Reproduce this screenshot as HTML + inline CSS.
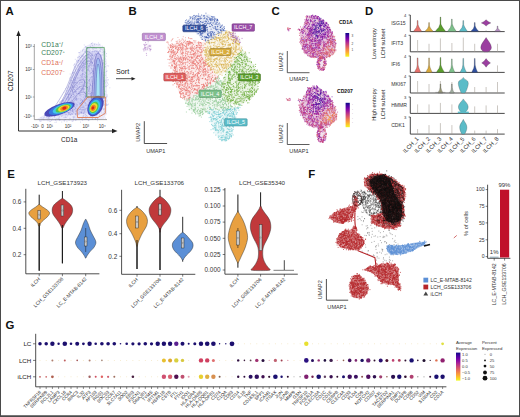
<!DOCTYPE html>
<html><head><meta charset="utf-8"><style>
html,body{margin:0;padding:0;background:#fff;width:520px;height:417px;overflow:hidden}
svg{display:block;font-family:"Liberation Sans", sans-serif}
</style></head><body>
<svg width="520" height="417" viewBox="0 0 520 417">
<rect width="520" height="417" fill="#fff"/>
<rect x="0.5" y="0.5" width="519" height="415.5" fill="none" stroke="#4a4a4a" stroke-width="1"/>
<rect x="0" y="415.5" width="520" height="1.5" fill="#4a4a4a"/>
<text x="5.6" y="15" font-size="11.4" fill="#111" text-anchor="start" font-weight="bold">A</text>
<text x="128.5" y="15" font-size="11.4" fill="#111" text-anchor="start" font-weight="bold">B</text>
<text x="271.6" y="15" font-size="11.4" fill="#111" text-anchor="start" font-weight="bold">C</text>
<text x="365.1" y="14.8" font-size="11.4" fill="#111" text-anchor="start" font-weight="bold">D</text>
<text x="7.2" y="178.2" font-size="11.4" fill="#111" text-anchor="start" font-weight="bold">E</text>
<text x="308.3" y="178.4" font-size="11.4" fill="#111" text-anchor="start" font-weight="bold">F</text>
<text x="5.6" y="328.9" font-size="11.4" fill="#111" text-anchor="start" font-weight="bold">G</text>
<path d="M37 119 L44 115 L52 112 L60 104 L66 92 L70 80 L74 66 L79 54 L84 47 L92 43 L100 44 L105 50 L107 70 L107 112 L104 119 L96 120 L60 121 L40 121Z" fill="#c8c8f0" fill-opacity="0.35"/>
<path d="M90.4 96.3h.1M100.6 51.6h.1M84.4 86h.1M94.7 43.9h.1M95 100.9h.1M102.4 68.1h.1M98.7 90.4h.1M92.9 98.9h.1M75.9 119.7h.1M98.1 91.1h.1M98.7 90.5h.1M84.2 45h.1M81.9 70.6h.1M55.1 115.1h.1M82.1 89.2h.1M104.3 93.5h.1M76.2 97.9h.1M96.8 104.2h.1M52.9 115.2h.1M97.6 68h.1M84.3 74.8h.1M100.7 78.5h.1M76.7 61.8h.1M79.2 114.2h.1M108.2 84.2h.1M93.9 73.1h.1M107.1 82.1h.1M103.5 109.9h.1M86.5 85.4h.1M69.1 120.1h.1M98.7 62.1h.1M98.8 109.6h.1M79.8 52.6h.1M91 85.5h.1M90.4 84.5h.1M99.3 106.9h.1M99.6 115.8h.1M91.5 55.2h.1M70.8 84h.1M55.7 111.2h.1M73.5 98h.1M106.1 95h.1M54.3 115.4h.1M97.1 51.5h.1M101.2 88.2h.1M69.7 106.4h.1M93.6 56.3h.1M88.4 93.8h.1M96 63.8h.1M54.5 116.3h.1M66.7 112.1h.1M106.7 105.3h.1M103.5 113.2h.1M94.2 56.7h.1M64.1 120.7h.1M74.8 99.8h.1M102.6 87.5h.1M74.7 100.5h.1M72.4 109.5h.1M48.7 118.4h.1M80.1 94.9h.1M100.3 62.6h.1M79 91.5h.1M70.4 118.8h.1M82.6 65.2h.1M55.1 113.8h.1M101.3 110.7h.1M94.3 96.6h.1M80.5 122.1h.1M94.6 65.2h.1M85.4 116.7h.1M86.1 58.8h.1M81.6 63.9h.1M71.2 113.7h.1M99 54.4h.1M81.9 62.1h.1M87.3 87.3h.1M97.8 85.3h.1M96 88.7h.1M58 115.9h.1M93.9 109.4h.1M101.1 59.1h.1M90.8 111.4h.1M49.6 114.7h.1M97.4 120.7h.1M94.2 112.1h.1M59.3 119.1h.1M94.4 106.8h.1M95.7 61.9h.1M90.1 50.4h.1M99.9 109.6h.1M93 58.2h.1M61.6 110h.1M102.7 65.3h.1M82.6 74.3h.1M107.6 85.7h.1M105 51.9h.1M105.1 58.2h.1M106.1 63.2h.1M90.8 67.6h.1M79.4 83.6h.1M73.4 96.6h.1M92 96.9h.1M82.1 69h.1M59.9 108.4h.1M89.5 65.7h.1M104.3 94.9h.1M101 93.3h.1M83.5 78.5h.1M70.5 114.4h.1M92.1 55.6h.1M83.9 71.2h.1M93.3 99.6h.1M82.2 58.8h.1M96.1 48.6h.1M63.9 92.4h.1M85.2 103.3h.1M51.7 115.9h.1M64.6 105.8h.1M84.8 119.4h.1M79 119h.1M101.9 91.7h.1M85.5 82.6h.1M93.6 85.7h.1M99.4 100.1h.1M92.9 83.3h.1M78.7 65h.1M87.5 48.1h.1M65.2 112.9h.1M77 96.5h.1M95.9 102.4h.1M59.6 102.1h.1M95.6 118.7h.1M66.9 103.6h.1M73.2 92.2h.1M90.1 73.5h.1M91 109.3h.1M107.1 71h.1M82.4 105h.1M81.3 102.4h.1M105.8 61.6h.1M87.6 105h.1M90.1 53.5h.1M97.3 118.2h.1M101.7 73.7h.1M87.3 47.7h.1M83.5 91.2h.1M94.7 91.2h.1M48 120.8h.1M89.7 70.4h.1M95.2 107.6h.1M43.2 119.4h.1M82.5 107.2h.1M87.3 77.1h.1M91 115.5h.1M75.3 82.6h.1M66.9 99.3h.1M56.1 108.1h.1M94.3 48.2h.1M98.4 58.9h.1M68.6 91.4h.1M96 56.6h.1M62.2 114h.1M85 66.4h.1M68.6 100.9h.1M86.1 93.8h.1M71.5 106.1h.1M85.1 68h.1M77 79h.1M71.4 77.2h.1M87.9 70.3h.1M87.7 63.8h.1M74.6 102.7h.1M70.6 97.3h.1M107.5 83.1h.1M106 86.6h.1M86.3 53.2h.1M99.2 80h.1M99.6 88h.1M102.9 79.6h.1M94.5 75.1h.1M74.6 64.1h.1M90.1 91.3h.1M91.9 62.7h.1M75.5 80.2h.1M70.2 110.5h.1M107.2 65.8h.1M76.4 91.2h.1M87.6 116.6h.1M79.5 56.6h.1M78.3 64.8h.1M84.5 77.2h.1M83.8 113.6h.1M90 91.4h.1M82.8 117.1h.1M79.7 113.2h.1M93.5 49.1h.1M89.3 88.7h.1M88 97.6h.1M103.8 80.9h.1M43.2 118.1h.1M98.7 86.2h.1M83.9 64.1h.1M68.8 94.3h.1M101.1 57.3h.1M76.9 93.6h.1M82.5 109.3h.1M58.4 118.8h.1M92.8 86.8h.1M59.5 120.2h.1M106.3 96.8h.1M77.3 73.8h.1M89.5 90.7h.1M90.1 56.2h.1M72.9 116.9h.1M68.2 98.6h.1M44.1 117.3h.1M79.3 63.7h.1M95.4 82.1h.1M88.9 83.3h.1M56.4 108.7h.1M105.3 64.4h.1M75.4 71.8h.1M102.6 84.1h.1M97.8 111.5h.1M67.7 110.8h.1M70 107.6h.1M73.3 72.4h.1M76.1 85.2h.1M77.1 60.6h.1M90.3 46.6h.1M90.6 95.7h.1M94.2 72.4h.1M83.6 105.9h.1M105.9 80h.1M78.3 110.4h.1M95.7 78h.1M69.6 78.1h.1M85.3 75.4h.1M82.3 56.3h.1M69.6 118.3h.1M84.2 108.7h.1M96.6 112.2h.1M88.3 105.2h.1M98.8 45h.1M90.9 78.2h.1M97.7 78.4h.1M85.5 114.2h.1M76.7 104.6h.1M100.5 92h.1M51.9 114.5h.1M99.6 96.3h.1M82.1 76.6h.1M74.5 85.5h.1M108.6 66h.1M107.5 95.1h.1M84.2 98.6h.1M72.5 114.3h.1M82.1 70.2h.1M81.7 88.7h.1M83.5 99.6h.1M82.6 107.1h.1M83.1 115.9h.1M80.6 67.2h.1M67.2 90.4h.1M88.6 50.9h.1M73.4 120.8h.1M73.7 117h.1M96.8 62.1h.1M95.5 80.9h.1M93.1 102.4h.1M104.4 54h.1M103.7 109h.1M87.8 119.7h.1M106.3 103.7h.1M62.8 107.1h.1M67.8 93.9h.1M82.7 89.8h.1M92.7 116.4h.1M75.3 113.5h.1M94.2 113.4h.1M46.2 116.7h.1M84.3 100.3h.1M103.9 75h.1M88.3 55.1h.1M101 108.5h.1M74.1 117.7h.1M96 77.4h.1M82 94.6h.1M95.2 63.5h.1M98.3 70.3h.1M89.4 83.6h.1M89.4 79.6h.1M88.2 81.8h.1M90.6 111.3h.1M72.8 76h.1M85 81.7h.1M101.8 49.3h.1M84.9 84.5h.1M61.7 122h.1M73.2 78.2h.1M85 109.3h.1M81.9 102.3h.1M87.5 58.2h.1M68.6 96.2h.1M100.6 49.5h.1M93.6 47.6h.1M94.3 87.2h.1M76.9 87.6h.1M92.5 115.2h.1M86.2 119h.1M77.2 74.7h.1M76.8 60.9h.1M83.1 58.9h.1M62.4 100.5h.1M76.2 105.6h.1M96.5 115.6h.1M94.2 94.7h.1M100.6 108.2h.1M85.6 62.9h.1M96.4 86.1h.1M90.5 59.7h.1M62.6 100.3h.1M91.6 87h.1M85.2 62.2h.1M83 82.8h.1M86.6 50.7h.1M84.7 81.3h.1M85.8 82.7h.1M94 107.4h.1M101.8 113h.1M78.6 88.6h.1M88.8 74.4h.1M59.3 102.9h.1M81.6 110.4h.1M100.7 48h.1M97.8 60.9h.1M77.5 86.2h.1M99.9 70h.1M90.3 107.8h.1M92.5 63.7h.1M76.6 103.8h.1M83.6 56h.1M89.9 79.9h.1M92.4 102.5h.1M67.5 115.9h.1M78.3 93h.1M81.8 111.8h.1M81 55.2h.1M96.7 89.5h.1M70.6 79.8h.1M74.7 104.7h.1M99.3 79.5h.1M94.1 94.3h.1M91.8 93.3h.1M84 65.5h.1M85.1 94.2h.1M101 111.7h.1M103.1 96.8h.1M102.1 66.3h.1M61.5 103.1h.1M93.9 95.8h.1M95.2 99.3h.1M85.6 83.8h.1M81.5 74.6h.1M102.6 82h.1M95.2 111.7h.1M89.1 57.4h.1M91.8 100.1h.1M92.8 56.2h.1M87 62.3h.1M89.8 79.4h.1M74.5 64.2h.1M94 79.9h.1M98.7 70.6h.1M106.5 104.7h.1M95.4 54h.1M99.4 87.3h.1M97.6 65.4h.1M89.4 64h.1M99.2 54.3h.1M65.2 117.1h.1M55 122.4h.1M104.1 108.7h.1M82.3 104.3h.1M95.7 98.4h.1M96 83.8h.1M90 84.9h.1M67.9 105h.1M100 92.5h.1M65.4 88.4h.1M86.5 50h.1M73.2 81.7h.1M103.2 89h.1M82.6 120.3h.1M93.4 68.5h.1M89 93.6h.1M87.7 101.2h.1M76.3 106.6h.1M68.2 97h.1M80.5 106.8h.1M72.3 121.3h.1M89 57.1h.1M63.7 103.7h.1M98.4 66.9h.1M101.5 98.8h.1M99.8 72.8h.1M104 81.3h.1M73.7 117.7h.1M73 105h.1M85.1 51.7h.1M77.6 105.8h.1M75.3 69.2h.1M69.1 100.1h.1M99 69.8h.1M61.4 105.2h.1M85.8 118.7h.1M92.6 42.9h.1M75.9 92.4h.1M83.7 116.9h.1M67.1 102.4h.1M79.3 87.1h.1M89.6 81.3h.1M64.8 119.4h.1M58 115.4h.1M98.5 76.6h.1M100.2 74.6h.1M94.9 68.7h.1M71.7 113.7h.1M99.3 96.4h.1M101.5 95.3h.1M93.3 83.3h.1M63 103.6h.1M75.4 92.7h.1M107.1 100.2h.1M73.3 101.7h.1M94 47.2h.1M103 93.1h.1M68.2 94.6h.1M62.2 110.1h.1M92.3 93.7h.1M52.2 118.9h.1M68.5 114.1h.1M59.1 117.7h.1M102.2 108.8h.1M106.1 56.4h.1M86.1 98.9h.1M78 108.8h.1M75.4 107.7h.1M81.5 88.2h.1M82.4 101.4h.1M65.4 94.7h.1M71.8 89.9h.1M54.3 117.1h.1M71.2 104h.1M82.3 67h.1M93.2 111.4h.1M103.8 53h.1M54.2 108.6h.1M75.3 67.2h.1M91.6 82.2h.1M72 82.7h.1M103.9 81h.1M102.8 60.7h.1M73.3 112.4h.1M84.6 81.9h.1M72.3 109.8h.1M69.1 113.5h.1M90.1 101.7h.1M73.3 103.8h.1M55.7 120.4h.1M82.6 51h.1M105.7 75.3h.1M92.6 71.7h.1M105 100.4h.1M79.3 82.5h.1M49.6 121.3h.1M87.6 67.7h.1M58.6 109.4h.1M70.6 98h.1M56.9 107.6h.1M106 85.2h.1M90.8 98.7h.1M72 120.9h.1M92.8 105.7h.1M76.3 99.9h.1M81.2 89.7h.1M95.4 54h.1M104.1 52.3h.1M64.9 102.7h.1M98.6 111.8h.1M88.4 47.8h.1M74.6 66.7h.1M47.7 113.2h.1M90.5 99.6h.1M81.1 96.4h.1M77.7 57.4h.1M50.1 117.9h.1M103.2 105.3h.1M84.1 72.3h.1M107 105.1h.1M104.5 104.7h.1M87.4 69.8h.1M73.9 116.2h.1M84.8 51.9h.1M79.4 86.9h.1M74.4 91.8h.1M85.3 51.4h.1M76.1 115.2h.1M65 117.3h.1M98.1 80.6h.1M49.3 119h.1M100.3 50.8h.1M76.8 83.6h.1M85.8 115.8h.1M100.2 54.7h.1M100.6 58.2h.1M99.5 114.8h.1M99.5 111.6h.1M48.5 117.9h.1M56.4 122.1h.1M74.3 83.2h.1M104.1 109.3h.1M93.7 88.7h.1M87.9 56.4h.1M96 113h.1M93.1 81.7h.1M89.8 117.4h.1M87.6 48.2h.1M101.8 99.8h.1M102.8 60.7h.1M78.9 60.8h.1M87.4 89.5h.1M71 85h.1M83 62.6h.1M97.5 51.1h.1M68.2 98h.1M71.8 86.4h.1M93.3 76.3h.1M73.8 78.8h.1M92.8 100.6h.1M63.2 103.7h.1M89.8 86h.1M39.4 120.8h.1M103.9 47.2h.1M64.3 105.2h.1M88.5 120.6h.1M82.9 74.7h.1M106.3 71.5h.1M96.9 113.5h.1M82.3 82.6h.1M83.8 69.2h.1M75.2 99.5h.1M88.4 86.3h.1M72.2 105.2h.1M55 115.5h.1M85.3 50.1h.1M93.7 73.4h.1M90.5 112.3h.1M77.3 98.8h.1M88.3 69.5h.1M79.9 95.1h.1M41 117.7h.1M99.1 111.6h.1M82.2 75.5h.1M73.4 119.1h.1M101.9 95.4h.1M94.2 66.7h.1M60.8 101.5h.1M72 111.6h.1M95 111.2h.1M76 117.8h.1M82 113.3h.1M95.9 48.4h.1M91.2 57.9h.1M78.4 109.3h.1M89.1 87.5h.1M72.3 111.3h.1M59.6 116.6h.1M103.2 51.5h.1M108 79.5h.1M51.7 115.5h.1M75 105h.1M73.5 82.4h.1M43.9 119.8h.1M68.6 107.2h.1M101.4 73.3h.1M54.9 116.7h.1M77.2 74.4h.1M63.6 108.6h.1M70.9 93.2h.1M84.2 63.3h.1M92.3 118.8h.1M82.3 81.6h.1M70.3 114.9h.1M73.3 91.9h.1M97.5 114.7h.1M82.8 101.8h.1M66.8 106.6h.1M82.8 89.5h.1M73.3 80.6h.1M55.5 119.4h.1M85.5 102.8h.1M99.1 51.7h.1M93.1 61.7h.1M83.8 109.4h.1M83.3 112.9h.1M87.7 48.1h.1M65.6 105.6h.1M75.3 107.6h.1M99 111.1h.1M101.6 87.3h.1M58 119.3h.1M79.3 103.9h.1M86.3 73.6h.1M66.4 114.6h.1M47.2 118.8h.1M86.1 79.9h.1M66.1 108.1h.1M59.1 104.1h.1M100 72.7h.1M90.1 46.2h.1M56.9 118.6h.1M103.2 75.1h.1M85 92.7h.1M93.1 100.8h.1M89.9 94.1h.1M87.2 66.9h.1M74.4 73.9h.1M97.7 118.4h.1M80.2 61.6h.1M104.1 69.2h.1M81.4 103.3h.1M92.8 111.2h.1M104.8 53.1h.1M60.7 114h.1M73.1 86.7h.1M95 73.6h.1M79.5 87h.1M83.2 87.2h.1M104.5 81.1h.1M85.8 79h.1M95.4 104.4h.1M82.8 61.3h.1M84.5 98.6h.1M92.4 48.9h.1M107.9 80.3h.1M102.3 97.9h.1M73.8 106.1h.1M64.4 113.6h.1M75.2 91.5h.1M85 68.4h.1M106.1 98.2h.1M63.9 102.5h.1M103.5 77.6h.1M70.6 82.8h.1M76.7 88h.1M88.5 91.2h.1M66.6 117.3h.1M47.4 116.3h.1M71.2 80.6h.1M70.1 97.6h.1M92.1 52.1h.1M97.1 93.5h.1M83.4 54.6h.1M103.3 62.7h.1M74.9 116.8h.1M80.8 60h.1M76.9 72.8h.1M85.7 59.8h.1M88.1 104.9h.1M98.7 56.7h.1M53.8 110.3h.1M72.6 92.4h.1M80.7 90.4h.1M77.9 69.4h.1M93.9 91.4h.1M95.5 100h.1M77 75.2h.1M85.8 91.7h.1M109.8 87.8h.1M95.5 119.1h.1M72.2 77.8h.1M86.8 76.4h.1M96.2 79.9h.1M91.6 66.2h.1M89.3 101.1h.1M92.9 71.5h.1M94.4 44.7h.1M89.9 85h.1M95 102h.1M60 119.8h.1M93.9 75.3h.1M108.2 104.1h.1M78.4 70.8h.1M89.5 92.2h.1M83.7 49.6h.1M105.9 105.2h.1M98.4 51.9h.1M98.4 63.4h.1M87 107.4h.1M91 96.3h.1M70.5 87.6h.1M66.1 93.3h.1M98.4 52.6h.1M99.9 72h.1M104.4 67.5h.1M89 100.4h.1M69.9 94.5h.1M71.9 81h.1M92 77.8h.1M102.1 59.6h.1M85.8 55.7h.1M81.3 57.2h.1M102.3 63.6h.1M83.6 63.8h.1M62.2 115.9h.1M88.2 49.1h.1M57.2 113.3h.1M88.9 53.5h.1M82.7 77.2h.1M89 91.3h.1M83.4 106.6h.1M89.5 88.6h.1M65.7 117.1h.1M77.3 89.4h.1M82.1 102.3h.1M84.7 110.2h.1M84.9 67.8h.1M71.2 84.4h.1M89.3 63.6h.1M103 81.1h.1M77.4 86.2h.1M103.2 55h.1M95.9 84.8h.1M91.1 117.5h.1M92.2 45.3h.1M92.5 83.7h.1M81.1 82.4h.1M69 99.7h.1M78.5 62.3h.1M76.6 72.8h.1M81.2 107.4h.1M85.2 47.5h.1M84.1 97.3h.1M92.7 45.9h.1M70.6 89.1h.1M88.8 54h.1M88.5 96.9h.1M49.5 116.8h.1M70.7 105.5h.1M87.6 54.7h.1M56.1 112.6h.1M91.2 43.8h.1M93.2 64.7h.1M73.1 86.9h.1M86 61.5h.1M99.3 61.2h.1M48.3 117.2h.1M98.6 88.1h.1M101.4 102.9h.1M68.2 97.9h.1M100.6 57.3h.1M92.3 119.1h.1M93.1 69.6h.1M70.7 90.9h.1M73.6 102.4h.1M50.4 115.5h.1M91.9 61h.1M92.2 111.1h.1M81.4 109.3h.1M89.4 48.9h.1M107.2 96.7h.1M103.5 83.6h.1M86.8 70.5h.1M91.2 47.4h.1M75.3 78.7h.1M102.8 62.7h.1M93.7 97.5h.1M84.7 67h.1M106 60h.1M85.2 105.3h.1M86 46.5h.1M94.8 69.2h.1M83.3 60.3h.1M88.4 61.5h.1M71.2 106.8h.1M95.1 118.8h.1M83 90.7h.1M98.7 76.6h.1M96.8 69.6h.1M93.9 75.5h.1M99.7 44.3h.1M80.8 62.2h.1M76.3 93.1h.1M93.9 105.2h.1M107 101.9h.1M68.7 114.8h.1M72.8 72.7h.1M49.3 111.2h.1M92.3 47.8h.1M105.4 82.9h.1M83.4 63.6h.1M93.9 113.8h.1M41.1 121.1h.1M91.9 73.2h.1M94.9 109.2h.1M91.1 95.9h.1M102.4 46.3h.1M86.4 115.9h.1M77 85.4h.1M51.8 116.1h.1M98.1 80.2h.1M89.1 114.4h.1M98 70.4h.1M101.9 100.9h.1M95.1 109.4h.1M104.8 72.7h.1M100.9 75h.1M101.9 104.2h.1M104.6 93.4h.1M51.5 120.3h.1M83.6 113.8h.1M93.8 60.6h.1M79.2 56.7h.1M105.3 118.2h.1M65.6 119.5h.1M80.1 112.4h.1M104.4 59.3h.1M75.4 114.7h.1M50.6 121.5h.1M81.4 111.9h.1M89 120.2h.1M100.9 80.8h.1M97.8 92.4h.1M86.2 55.7h.1M105 50h.1M89.4 86.5h.1M100 48.4h.1M79.1 93.4h.1M102.3 54.9h.1M100.2 57.8h.1M86 96.3h.1M76.1 108.7h.1M83.1 89.4h.1M70.5 93.6h.1M82.5 50.2h.1M105.8 86.6h.1M78.1 109.2h.1M95.1 75.2h.1M74.9 108.9h.1M72.6 113.9h.1M99.8 96.7h.1M71.7 114.1h.1M92.4 94.7h.1M80.7 51.1h.1M92 57.9h.1M94.6 51.8h.1M66.9 121.7h.1M64.3 121.1h.1M83 110.8h.1M53.6 114.5h.1M102.6 50h.1M66.3 108.1h.1M92.3 92.3h.1M73.4 75.2h.1M80.1 104.4h.1M101.9 115.4h.1M77.9 99.7h.1M87.1 113.2h.1M98.5 43h.1M96.1 70.1h.1M86.1 50.2h.1M98.9 52.1h.1M107.2 77.5h.1M95.4 63h.1M65.9 90.9h.1M94.7 102.1h.1M87.4 109.1h.1M93.8 82.7h.1M96.5 111.5h.1M95.7 108.2h.1M98.7 98.4h.1M74.2 92.9h.1M75.4 70.6h.1M90.1 95.2h.1M104.7 111.8h.1M84.7 96h.1M91.5 43.4h.1M100.2 95.6h.1M59.8 119.4h.1M81.2 78.3h.1M86 105.4h.1M74.4 94.9h.1M96.4 69.2h.1M80.1 92h.1M40.3 121.3h.1M79.9 108h.1M102.3 67.7h.1M99.8 106.2h.1M92.1 90.3h.1M85 95.5h.1M88.2 91.6h.1M90.6 61.9h.1M74.4 103.7h.1M102.6 94.6h.1M73.1 108.5h.1M94.5 112.9h.1M93 103.2h.1M61.3 100.8h.1M57.3 108.4h.1M71 110.4h.1M79.1 117.8h.1M73.9 109.9h.1M101.5 78.4h.1M91.5 80h.1M80.5 57.7h.1M70.8 101.5h.1M82.6 75h.1M102.7 73.1h.1M61.2 109.6h.1M80.1 60.7h.1M85 71.9h.1M79.3 52.6h.1M96 62.9h.1M81.6 70.6h.1M60.4 113.5h.1M104.4 113.9h.1M88.6 53h.1M88 91.3h.1M95.3 63h.1M104.5 94.4h.1M84.2 79.3h.1M84.9 92h.1M82.4 65.4h.1M78.6 52.7h.1M98 52.4h.1M87.7 55.8h.1M101.4 67.6h.1M99.3 110h.1M82.9 56.4h.1M86.7 48.2h.1M105 66.5h.1M85.2 58.3h.1M81.1 112.5h.1M100.4 64.6h.1M64.1 108.9h.1M92 94.9h.1M94.5 54.8h.1M85.4 46.4h.1M105.8 55h.1M92.4 93.8h.1M85.5 109.3h.1M106.4 53.5h.1M102.2 52.6h.1M87.1 97.6h.1M92 88.3h.1M75.7 120.5h.1M83 69.2h.1M72.5 100.8h.1M82.9 74h.1M96.7 87.9h.1M82 55.4h.1M96.1 105.4h.1M96.7 50.9h.1M67.9 105.7h.1M72.3 108.4h.1M71.1 93.6h.1M77.3 65.5h.1M81.9 117.9h.1M75.8 88.1h.1M71.3 95.7h.1M86.6 53.3h.1M91 58.9h.1M61.3 108h.1M103.3 64.2h.1M74.2 101.2h.1M87.5 51.7h.1M78.2 57.2h.1M101.8 73.1h.1M68 103.9h.1M86.3 53.3h.1M69.1 114.1h.1M95.1 89.6h.1M91.9 77h.1M82.2 118.5h.1M100 111.8h.1M71.3 82.2h.1M101.3 55.2h.1M80.2 99.9h.1M78.4 114.5h.1M73.8 72.7h.1M106.2 113.9h.1M89.8 64h.1M66.3 99.2h.1M92.4 63.1h.1M89.6 111.7h.1M86.9 115.3h.1M78.5 60.5h.1M79 66.6h.1M105.1 91.3h.1M104.7 83h.1M84.2 69.4h.1M73.3 88.2h.1M84.3 74.5h.1M87.8 108h.1M57.1 109.1h.1M93.3 87.5h.1M84.8 57.1h.1M87.7 52.9h.1M94.2 97.7h.1M88.3 109.4h.1M89.9 87.6h.1M93.5 65.4h.1M83.5 113.3h.1M61.4 116.4h.1M104.1 66.2h.1M91.4 110.2h.1M93.1 113.9h.1M86.8 92.8h.1M91.1 86.1h.1M79.8 103h.1M105.1 67h.1M70.1 74h.1M85.9 56.1h.1M76.6 94h.1M68.8 87.4h.1M62.3 104.8h.1M72.4 73.6h.1M96.6 117.5h.1M67.7 112.4h.1M79.1 89.3h.1M105.8 97.4h.1M59.6 114.2h.1M101.7 72.9h.1M73.5 65.2h.1M101.4 106.8h.1M63.8 106.5h.1M101.1 61h.1M70.8 115.1h.1M46.9 117.3h.1M88.8 109.7h.1M75.9 98.9h.1M107.8 104.7h.1M83.8 115.5h.1M88.7 56.3h.1M93.9 83.7h.1M75.2 59.3h.1M79.8 78.8h.1M77.1 93.5h.1M80.8 104.9h.1M78.7 98.5h.1M91.1 77.7h.1M72.2 85.7h.1M93 85h.1M104.6 51.7h.1M85.1 114.5h.1M93.1 98.2h.1M63.8 117.3h.1M75.7 86.9h.1M77.5 82.7h.1M104 63.5h.1M90.3 116.6h.1M82.8 84.3h.1M97.9 59.7h.1M100.1 108.1h.1M68.8 86.6h.1M97.6 67.8h.1M68.6 93h.1M78.2 72.6h.1M68.6 108.6h.1M98.9 80.2h.1M81 107.6h.1M97.8 53.8h.1M99.4 50.7h.1M77.4 73.2h.1M76.9 112.8h.1M76.5 85.1h.1M106 81h.1M91.5 72.6h.1M91.6 68.5h.1M70 83.3h.1M85.1 111.1h.1M92.9 89.1h.1M104.7 94.8h.1M105.7 101.2h.1M99.5 70.4h.1M41.9 119.2h.1M72.3 107.3h.1M96 62.8h.1M85.4 72.7h.1M80.5 108.5h.1M75.5 77.3h.1M99.8 83.3h.1M59.7 111.5h.1M71.8 81h.1M77.7 83.3h.1M96.5 101.2h.1M71.2 80.3h.1M96.7 44.5h.1" stroke="#8a8ad8" stroke-width="0.6" stroke-linecap="round" stroke-opacity="0.6"/>
<path d="M48 116 L58 108 L64 98 L70 86 L76 72 L82 60 L88 52 L96 50 L102 56 L104 80 L104 104 L96 112 L80 114 L60 116Z" fill="#a8a8e8" fill-opacity="0.35"/>
<path d="M88.6 68.4h.1M88 88.4h.1M63.3 102.1h.1M84.1 76.4h.1M74.6 89.8h.1M63.6 100.7h.1M75.8 91.5h.1M69.4 94.8h.1M90.1 100.7h.1M92.4 63.3h.1M85.1 82.4h.1M96.1 86.1h.1M72.1 110.4h.1M96.2 70h.1M87.5 82.4h.1M85.8 93.6h.1M86.4 87.8h.1M74.7 106.4h.1M76.4 75.8h.1M75.7 114.1h.1M82.5 73.3h.1M102.8 71.2h.1M94.9 73h.1M89.6 51.8h.1M97.9 72.5h.1M85 66.3h.1M84.3 89.1h.1M99 54.3h.1M73.8 107h.1M79.8 109.5h.1M80.1 103.3h.1M90.8 72.4h.1M82.4 74h.1M72.4 82.8h.1M95.5 102h.1M95.1 85.4h.1M92.6 93h.1M64.9 103.1h.1M72.2 85.6h.1M83 79.9h.1M90.8 61.9h.1M96.3 88.1h.1M59.9 113.5h.1M89.6 80.8h.1M100.5 85.2h.1M82.4 100.8h.1M72.3 87.4h.1M83.1 84.5h.1M65.8 104.8h.1M71.1 104.4h.1M84.2 66.9h.1M81.7 76.8h.1M61.8 104.6h.1M74 86.9h.1M72.4 92.7h.1M93 93.5h.1M102 82.1h.1M96.6 109.4h.1M100.8 97.8h.1M89.1 111.6h.1M77.2 104.7h.1M62.1 108.4h.1M93.2 71.7h.1M80.7 75.7h.1M89.9 65.6h.1M57.8 114h.1M81 82.4h.1M69 112.6h.1M68.3 97.2h.1M94 51.4h.1M102.1 90h.1M95.1 93.7h.1M100.7 95.6h.1M92.2 65.8h.1M79 70.4h.1M101.7 73.9h.1M93.5 58.1h.1M96.5 106.6h.1M69.8 110h.1M70 114.5h.1M94.1 65.5h.1M59.8 108.8h.1M99.3 91.7h.1M97.3 100.6h.1M96.5 104.3h.1M100.7 81.1h.1M71.1 105.5h.1M88.2 107.9h.1M93.9 104.4h.1M87.1 83.4h.1M93.6 98.7h.1M83.3 102.2h.1M83.2 70.7h.1M76.9 114h.1M94.5 100.4h.1M95.4 95.3h.1M92.4 71.1h.1M74.8 98.5h.1M94.3 102.8h.1M58.2 107.8h.1M60.6 112.6h.1M99.7 92.7h.1M83.1 109.9h.1M102.6 63.1h.1M87.3 61.1h.1M68.6 112.5h.1M72.4 110.7h.1M73.4 94.5h.1M58.7 106.9h.1M91.8 69h.1M96 89.6h.1M85.9 77.6h.1M82.6 109.9h.1M68.7 95.2h.1M86.8 95.3h.1M87.9 96.8h.1M89.2 66.9h.1M81.5 99.4h.1M82.7 70h.1M102.2 86.9h.1M80.5 67.2h.1M76.2 111.4h.1M97.2 58.7h.1M96.8 105.1h.1M89.9 111.1h.1M63.8 107.9h.1M82.3 100.3h.1M98 70.8h.1M103.7 100.4h.1M84.8 102.7h.1M68 96.8h.1M75.2 82.5h.1M95.4 107.2h.1M96.6 61.9h.1M63.3 108.8h.1M80.8 88.5h.1M102.4 84.7h.1M80 77.5h.1M85.9 108.6h.1M86.1 76h.1M81.1 112.8h.1M94.9 60.1h.1M84.9 80h.1M101.5 89.2h.1M84.7 112.8h.1M66.2 98.3h.1M58 113.7h.1M96.5 55.9h.1M95.7 60.8h.1M91.7 68.8h.1M90.1 93.2h.1M72.2 103.2h.1M94.6 83.8h.1M75.4 108.4h.1M74.7 87.2h.1M71.7 99.9h.1M93.4 90.5h.1M86.4 60.2h.1M75.7 91.6h.1M72.5 109.9h.1M95.1 84.5h.1M79.8 66.7h.1M85 61.9h.1M73.5 94.2h.1M82.9 67.5h.1M89.8 89.9h.1M96.8 57h.1M74.7 95.7h.1M81.7 82.1h.1M68.2 94.5h.1M86.7 76.1h.1M96.1 63.8h.1M84.3 92.9h.1M72.4 91.3h.1M92.2 62.6h.1M74.4 106.7h.1M80.8 63.3h.1M79.9 105h.1M83.3 97.1h.1M89.3 89.3h.1M79 69.2h.1M75.3 82.1h.1M81.1 90.4h.1M86 103.9h.1M75.3 97.1h.1M77.6 77.9h.1M98 77.5h.1M74.5 82.7h.1M100.6 72.9h.1M60.3 110h.1M95.2 93.4h.1M94.7 94.4h.1M89.1 102.5h.1M92.8 105.7h.1M82.8 68.6h.1M90 94h.1M97.3 73.6h.1M98.1 52.1h.1M86.6 84h.1M85.5 96.6h.1M99.9 78.9h.1M73.6 105.5h.1M82.2 101.6h.1M101.1 104.4h.1M83.3 107.5h.1M99 60.4h.1M76.3 98.3h.1M95.5 79h.1M71.3 100.8h.1M61.7 103.4h.1M90.3 73.8h.1M85.2 60h.1M90.2 77.8h.1M73.7 106.3h.1M92.5 73.9h.1M100.8 55.6h.1M65.6 114.8h.1M90.5 93.6h.1M83.9 109.6h.1M87.9 93.6h.1M70.5 94.9h.1M79 70.1h.1M89.6 110h.1M77.6 110.7h.1M87.2 79.4h.1M92.1 93h.1M87.1 108.6h.1M91.8 76.7h.1M88.6 98.8h.1M55.1 115.5h.1M78.9 84.4h.1M90.4 60.6h.1M81.2 65.9h.1M91.4 97.9h.1M83.1 73.4h.1M89.3 79.9h.1M103 103.2h.1M103.4 87.3h.1M98.1 91.4h.1M77.9 89.3h.1M91.9 97.2h.1M85.7 97.1h.1M94.1 73.8h.1M94.4 55.4h.1M74.7 79.4h.1M80.9 84.3h.1M75.9 77.9h.1M72.6 111.4h.1M75.4 114.2h.1M94.1 59.5h.1M96.3 57.8h.1M89.8 112.3h.1M68.7 112.8h.1M81.7 77h.1M92.3 59.4h.1M98.1 108.7h.1M67.5 107.4h.1M71.4 87.8h.1M79.7 109.4h.1M91.8 81.4h.1M88.3 90h.1M90.7 83.3h.1M73.8 79.7h.1M73.1 107.2h.1M66.2 102.8h.1M85.2 77h.1M78.3 113.2h.1M97.8 98.6h.1M84.2 107.2h.1M87.6 87.8h.1M92.6 96.7h.1M82.6 88.1h.1M98.2 57.9h.1M100.4 61.9h.1M97.7 79.3h.1M93.2 90.1h.1M96.3 51.5h.1M96.1 70.9h.1M82.4 71.5h.1M69 104.6h.1M90.1 88.7h.1M75.6 99.7h.1M97.6 67.8h.1M102 94.6h.1M92 70.1h.1M83.6 63.4h.1M102.2 74.6h.1M103.2 101.6h.1M78.1 78h.1M99 79.8h.1M94.4 69.1h.1M100.3 81.8h.1M81.5 105.4h.1M83.4 88.6h.1M89.4 87.2h.1M79.2 68.4h.1M72.2 90.3h.1M101.6 71h.1M86.2 72.6h.1M103 72.5h.1M73.7 89.6h.1M74.7 109.5h.1M85.7 77.3h.1M98.1 96.4h.1M90.7 85.5h.1M92.1 92.8h.1M94.6 94.3h.1M85.6 73.3h.1M93.5 104.6h.1M91 96h.1M100.4 79.3h.1M63.7 110.8h.1M82.4 70h.1M88.2 65.5h.1M75.7 74h.1M63.7 109.7h.1M87.6 63.8h.1M70.2 107.4h.1M79.9 82.6h.1M78.9 93.5h.1M79.7 95h.1M91.8 62.7h.1M86.8 85.2h.1M73.4 111.9h.1M83.9 112.2h.1M90.5 108.3h.1M102.8 78h.1M74.9 103.3h.1M81.2 91.3h.1M66.7 102.4h.1M100.8 101.2h.1M82.7 100.4h.1M83 88.2h.1M95.5 54.3h.1M55.1 110.7h.1M85.9 86.9h.1M69.5 102.5h.1M97.3 90.9h.1M67 111.9h.1M91.8 80h.1M83.7 66.9h.1M71.6 97.8h.1M92.6 54h.1M101.7 99.8h.1M65.4 108.4h.1M91.4 59.7h.1M80.8 94.8h.1M94.8 106.7h.1M59.2 110h.1M92 72.5h.1M85.4 95.9h.1M103 89.6h.1M101.9 90.7h.1M73.4 102.1h.1M101.3 71.9h.1M89.4 63.6h.1M58.3 115.3h.1M80.8 100.5h.1M97.6 97.4h.1M95.2 110.1h.1M69.2 102h.1M54.2 111.8h.1M93.3 93.6h.1M97.2 54.3h.1M56.1 111h.1M92.5 62.7h.1M82.5 62.5h.1M78 102.1h.1M92.6 107.6h.1M97.6 63.8h.1M76.5 99.6h.1M84.1 83.6h.1M75.9 80.6h.1M86.9 97.2h.1M70.5 110.8h.1M96.3 76.1h.1M65.1 108.7h.1M80 111.7h.1M80.7 80.7h.1M82.8 78.1h.1M74.2 77h.1M93.1 70.9h.1M95.2 83.8h.1M84 101.9h.1M99.9 56.5h.1M93.7 95.1h.1M90.1 98.8h.1M64.8 104.3h.1M91.9 76.7h.1M70.7 88.3h.1M84.7 81.2h.1M76.7 100.2h.1M74.6 84h.1M92 100h.1M88.5 80.5h.1M92.3 70.7h.1M87.1 63.8h.1M73.2 86.9h.1M69 88.1h.1M55.2 112.3h.1M94.7 72.4h.1M71.5 95.3h.1M70.6 101.4h.1M78.1 71.5h.1M99.6 60.1h.1M101.3 71.8h.1M83.3 89.8h.1M82 107.2h.1M79.9 79.8h.1M98.1 56.2h.1M51.9 113.6h.1M72.2 96.8h.1M74.6 89.8h.1M100.6 88.8h.1M76.1 95.2h.1M70.4 103.3h.1M77.4 110.1h.1M97.2 80.4h.1M80.3 98.7h.1M64.1 108.1h.1M73.6 96.2h.1M87.9 69.6h.1M82.3 103.5h.1M98.4 98.4h.1M73.6 110.1h.1M70 112.4h.1M61.4 107.5h.1M64.3 110.5h.1M87.1 97.7h.1M103.6 86.5h.1M86.9 99.5h.1M69.3 99.2h.1M95.9 76.2h.1M99.4 71.6h.1M89.9 82h.1M61.6 112.7h.1M95.1 61.3h.1M90.8 94.7h.1M85.8 64.3h.1M87 105.2h.1M93.4 92.3h.1M88.1 109.2h.1M91.3 100.6h.1M100 74.7h.1M85.5 64.6h.1M97.4 102.6h.1M94.5 61.1h.1M100.6 58h.1M93.6 92.9h.1M57.6 113.3h.1M87 94.7h.1M102.5 95.8h.1M97.5 71h.1M95.7 81.8h.1M80.8 75.2h.1M83.9 65.3h.1M98.2 70.4h.1M89.3 100h.1M81.5 112.4h.1M89.4 71.7h.1M90.6 84.4h.1M102.7 92.8h.1M95.4 71.9h.1M98.8 93.9h.1M88.3 90.1h.1M96.7 54.6h.1M94.5 111.5h.1M88.6 70.6h.1M88.4 66.2h.1M83.6 67.9h.1M91.8 55.3h.1M102.5 76.3h.1M76.3 98.5h.1M90.6 104.1h.1M92.4 51.3h.1M69.4 106.4h.1M90.5 110.8h.1M88.7 67h.1M74 79.9h.1M69 90h.1M76 97.9h.1M75.5 111.1h.1M83.9 88.8h.1M99.6 75.4h.1M99.1 97.7h.1M76.5 82.2h.1M86.6 96h.1M84.5 111.2h.1M89.2 66h.1M83.3 94.6h.1M87.1 92.6h.1M86.1 66.8h.1M81.7 112.8h.1M95.1 50.8h.1M91.2 92.5h.1M99.3 76.2h.1M80.8 109.5h.1M71.7 104.8h.1M102.2 93.5h.1M71.1 107.8h.1" stroke="#6a6ac8" stroke-width="0.55" stroke-linecap="round" stroke-opacity="0.55"/>
<g fill="none" stroke="#5c5cb8" stroke-width="0.45" opacity="0.85">
<path d="M44 116 C54.5 110 59 100 66.3 88 C70.7 78 75 63.6 82 56 C86 50 89.1 50 93 56"/>
<path d="M47.8 115.4 C57.8 109 63.6 99.4 67.7 88 C71.1 79 76.3 67.1 83 58.6 C86.6 53.2 90.8 53.2 92.4 59.2"/>
<path d="M51.7 114.7 C59.2 108.1 64.1 98.7 70.3 88 C73.3 79.9 77.6 68.2 83.9 61.1 C87.3 56.4 90.6 56.4 91.7 62.4"/>
<path d="M55.5 114.1 C62.8 107.1 67.4 98.1 72.2 88 C74.1 80.9 78.8 69 84.9 63.7 C87.9 59.6 91.1 59.6 91.1 65.6"/>
<path d="M62 112 C66 104 70 96 76 90 C80 86 84 84 88 88"/>
<path d="M70 105 C74 98 78 92 84 92 C88 94 86 100 80 104"/>
<path d="M72 92 C74 84 80 78 84 80 C86 84 82 90 78 94"/>
<path d="M66 104 C70 100 74 104 72 108 C70 110 66 108 66 104"/>
</g>
<path d="M98 53 C100.5 53 102.5 60 103 70 L104 99 L91.5 99 L93 80 C93.8 66 95.5 53 98 53 Z" fill="#b8b8ec" opacity="0.8"/>
<path d="M98 58 C99.8 58 101.2 66 101.6 75 L102 100 L93.8 100 L94.6 80 C95.2 68 96.4 58 98 58 Z" fill="#a4bff0"/>
<path d="M98 64 C99 64 99.8 72 100 80 L100.3 102 L95.8 102 L96.2 82 C96.6 72 97.2 64 98 64 Z" fill="#a8e4f4"/>
<g fill="none" stroke="#5050b0" stroke-width="0.5">
<path d="M91.5 99 L93 80 C93.8 66 95.5 53 98 53 C100.5 53 102.5 60 103 70 L104 99"/>
<path d="M93.8 100 L94.6 80 C95.2 68 96.4 58 98 58 C99.8 58 101.2 66 101.6 75 L102 100"/>
<path d="M95.8 102 L96.2 82 C96.6 72 97.2 64 98 64 C99 64 99.8 72 100 80 L100.3 102"/>
</g>
<ellipse cx="59.5" cy="109.3" rx="16" ry="5.2" transform="rotate(-20 59.5 109.3)" fill="#4a48b8" opacity="1"/>
<ellipse cx="61" cy="108.9" rx="12.8" ry="4.5" transform="rotate(-20 61 108.9)" fill="#3a7ae0" opacity="1"/>
<ellipse cx="62.3" cy="108.6" rx="10.2" ry="3.9" transform="rotate(-20 62.3 108.6)" fill="#40c8e8" opacity="1"/>
<ellipse cx="63.2" cy="108.4" rx="8" ry="3.4" transform="rotate(-20 63.2 108.4)" fill="#58c848" opacity="1"/>
<ellipse cx="63.8" cy="108.3" rx="6" ry="2.9" transform="rotate(-20 63.8 108.3)" fill="#ece030" opacity="1"/>
<ellipse cx="64.1" cy="108.2" rx="4" ry="2.2" transform="rotate(-20 64.1 108.2)" fill="#f08a20" opacity="1"/>
<ellipse cx="64.3" cy="108.1" rx="2.1" ry="1.4" transform="rotate(-20 64.3 108.1)" fill="#e02818" opacity="1"/>
<ellipse cx="95.5" cy="106" rx="11" ry="7.2" transform="rotate(-62 95.5 106)" fill="#4a48b8" opacity="1"/>
<ellipse cx="95" cy="106.5" rx="9.2" ry="6" transform="rotate(-62 95 106.5)" fill="#3a7ae0" opacity="1"/>
<ellipse cx="94.5" cy="107" rx="7.6" ry="5" transform="rotate(-62 94.5 107)" fill="#40c8e8" opacity="1"/>
<ellipse cx="94" cy="107.3" rx="6" ry="4.1" transform="rotate(-62 94 107.3)" fill="#58c848" opacity="1"/>
<ellipse cx="93.6" cy="107.6" rx="4.6" ry="3.3" transform="rotate(-62 93.6 107.6)" fill="#ece030" opacity="1"/>
<ellipse cx="93.2" cy="107.8" rx="3.2" ry="2.4" transform="rotate(-62 93.2 107.8)" fill="#f08a20" opacity="1"/>
<ellipse cx="92.9" cy="107.9" rx="1.7" ry="1.3" transform="rotate(-62 92.9 107.9)" fill="#e02818" opacity="1"/>
<rect x="86.8" y="47.7" width="17.4" height="49.3" fill="none" stroke="#4a9a5a" stroke-width="0.8"/>
<path d="M87.8 97 L105.3 97 L105.3 113.3 L98 117.5 L77.5 117.5 L77 110 Z" fill="none" stroke="#e07040" stroke-width="0.8"/>
<path d="M34.3 44 V119.6 H107" fill="none" stroke="#666" stroke-width="0.6"/>
<path d="M32.8 46.5 h1.5" stroke="#555" stroke-width="0.5"/>
<path d="M32.8 69.5 h1.5" stroke="#555" stroke-width="0.5"/>
<path d="M32.8 97 h1.5" stroke="#555" stroke-width="0.5"/>
<path d="M32.8 116 h1.5" stroke="#555" stroke-width="0.5"/>
<path d="M18.5 131 V35 M18.5 131 H113" fill="none" stroke="#333" stroke-width="1"/>
<path d="M16.3 36 L18.5 30.5 L20.7 36 Z M112 128.8 L117.5 131 L112 133.2 Z" fill="#222"/>
<text x="31.8" y="48.2" font-size="4.6" fill="#333" text-anchor="end">10³</text>
<text x="31.8" y="71.2" font-size="4.6" fill="#333" text-anchor="end">10²</text>
<text x="31.8" y="98.7" font-size="4.6" fill="#333" text-anchor="end">10¹</text>
<text x="31.8" y="117.7" font-size="4.6" fill="#333" text-anchor="end">-10¹</text>
<text x="35" y="128.2" font-size="4.6" fill="#333" text-anchor="middle">-10¹</text>
<text x="42.6" y="128.2" font-size="4.6" fill="#333" text-anchor="middle">0</text>
<text x="49.8" y="128.2" font-size="4.6" fill="#333" text-anchor="middle">10¹</text>
<text x="68" y="128.2" font-size="4.6" fill="#333" text-anchor="middle">10²</text>
<text x="85.8" y="128.2" font-size="4.6" fill="#333" text-anchor="middle">10³</text>
<text x="102.2" y="128.2" font-size="4.6" fill="#333" text-anchor="middle">10⁴</text>
<text x="69.2" y="141.5" font-size="6.4" fill="#222" text-anchor="middle">CD1a</text>
<text x="12.6" y="80.7" font-size="6.6" fill="#222" text-anchor="middle" transform="rotate(-90 12.6 80.7)">CD207</text>
<text x="41.3" y="46.7" font-size="6.8" fill="#3a7d58" text-anchor="start">CD1a<tspan font-size="4" dy="-2.3">+</tspan><tspan dy="2.3">/</tspan></text>
<text x="41.3" y="55.3" font-size="6.8" fill="#3a7d58" text-anchor="start">CD207<tspan font-size="4" dy="-2.3">+</tspan></text>
<text x="41.3" y="65.4" font-size="6.8" fill="#e0705a" text-anchor="start">CD1a<tspan font-size="4" dy="-2.3">+</tspan><tspan dy="2.3">/</tspan></text>
<text x="41.3" y="75" font-size="6.8" fill="#e0705a" text-anchor="start">CD207<tspan font-size="4" dy="-2.3">−</tspan></text>
<path d="M167 46 L172.7 44.5 L177 42.5 L183.3 41 L191.7 41.5 L202.3 42 L206.5 41.7 L202.3 52.3 L206.5 62.9 L215 73.5 L219.2 76.3 L212.9 82.7 L202.3 91 L187.5 99.6 L183.5 99.6 L179 93 L175 82 L172 70 L169.5 58Z" fill="#e8706a" fill-opacity="0.12"/>
<path d="M191.7 87.2h.1M178.6 47.4h.1M178.6 85.2h.1M181.1 91.5h.1M187.9 81h.1M196.9 92.4h.1M175.4 58.9h.1M186.1 58.3h.1M184.8 73.8h.1M190.7 81.1h.1M182.5 67.3h.1M183.3 95.3h.1M185.2 46.4h.1M187.9 60h.1M174.4 68h.1M204 85.6h.1M198 93.2h.1M180.5 84.2h.1M198.5 81.2h.1M192.1 66.1h.1M181.2 67h.1M199.5 65.1h.1M198.2 47.2h.1M189.1 94h.1M177.6 49.3h.1M193 72.7h.1M213.1 69.7h.1M182.4 82.3h.1M195.2 92.7h.1M175.1 66.3h.1M177.4 55.7h.1M206.9 80.1h.1M171.7 65.2h.1M180.7 67.5h.1M174.5 73h.1M198.1 79.6h.1M187.6 83.6h.1M203.3 62.3h.1M200.4 75.6h.1M178.6 48.1h.1M171.6 45.7h.1M186.7 88.9h.1M215.7 77.3h.1M196.2 89.8h.1M186.7 80.2h.1M207.1 71.8h.1M197.4 55.8h.1M187.3 71.5h.1M191 49.2h.1M194.1 68.7h.1M197.1 50.5h.1M203.4 88.5h.1M205.1 75.2h.1M184.6 99.2h.1M205.5 69.4h.1M211 67.6h.1M201.9 63.2h.1M203.7 86.8h.1M200.1 42.6h.1M192.8 62.3h.1M196.4 58.2h.1M209.2 65.6h.1M191.2 54.8h.1M197.3 85.8h.1M210.3 83.1h.1M188.1 51.5h.1M182.1 47.5h.1M180.2 85.8h.1M204 76.2h.1M188.4 87.9h.1M200.7 75.9h.1M217.5 77.7h.1M188.2 42.8h.1M179.8 71.1h.1M201 64h.1M202.5 86.5h.1M199.4 87.1h.1M212.4 77.3h.1M179.6 81.6h.1M186.7 47.4h.1M202 69.9h.1M197 57.3h.1M203.7 85.9h.1M176.8 67.7h.1M201.8 66.1h.1M196.4 47.8h.1M196.3 73.6h.1M208.4 70.1h.1M195 74.9h.1M203.8 87.9h.1M177.6 75.2h.1M177.1 72.3h.1M171.6 53.9h.1M175.3 72.6h.1M184.6 73.4h.1M189.5 97.7h.1M208.1 79.1h.1M191.6 77.6h.1M203.2 70.9h.1M195.1 52.6h.1M177.5 52.2h.1M182.6 88.6h.1M218.4 80.1h.1M178.7 60.8h.1M170.9 56.6h.1M186.8 94h.1M188.3 44.5h.1M181.1 64.9h.1M205.8 71.5h.1M174.6 63.9h.1M199.5 94.4h.1M200.3 66.6h.1M188.4 43.5h.1M199.6 45.2h.1M172.8 46.5h.1M196.3 45.7h.1M199.7 62h.1M185.6 58.8h.1M176.2 83.2h.1M183.9 86.5h.1M191.8 70.9h.1M195.1 77h.1M186.6 87.3h.1M200.3 90.3h.1M192.2 47.7h.1M175.6 47.9h.1M187.6 85.5h.1M179.3 78.5h.1M194.1 56.6h.1M188.3 98.4h.1M181.5 93.8h.1M186.1 46.9h.1M196.3 69.7h.1M187.8 72.1h.1M204.3 69h.1M216.3 82.2h.1M191.7 79.4h.1M205.5 83.2h.1M197.3 76.4h.1M193.6 54h.1M187.5 62h.1M185.9 49.1h.1M195.7 85.5h.1M172.4 57.4h.1M180.6 52h.1M203.2 74.7h.1M178.9 58.1h.1M215.8 79.4h.1M192.1 76.8h.1M193 62.2h.1M196.7 61.9h.1M186.3 41.9h.1M186.3 48.8h.1M190.9 49.3h.1M193 48.5h.1M170.9 68.2h.1M175.2 78.7h.1M177 65.1h.1M179.8 64.5h.1M175.6 67.4h.1M185.1 66.7h.1M186 92.9h.1M177.6 52.4h.1M175.6 51.9h.1M191.2 81.6h.1M179.6 65.8h.1M193.9 86h.1M202.9 59.3h.1M193.6 97h.1M172.1 47.1h.1M167.7 52.5h.1M194.2 85.4h.1M180.2 80.1h.1M185.4 96.7h.1M203.5 65.8h.1M181.5 68.4h.1M174.5 70.9h.1M178.7 87.4h.1M180.6 88.9h.1M177.6 83.9h.1M210.6 83.2h.1M192.4 54.3h.1M199.6 55.8h.1M189.8 77.1h.1M189.4 57.7h.1M197.4 56.6h.1M185.5 69.1h.1M194.1 77.9h.1M185.1 57h.1M180.5 63.1h.1M190.4 62h.1M175.6 68.3h.1M185.3 59.6h.1M197.4 91h.1M183.8 84.9h.1M186.9 88.4h.1M192.6 61h.1M200.9 52.5h.1M188.8 92.3h.1M215.3 78.5h.1M180.2 81.4h.1M194.7 64h.1M180.5 82.7h.1M168.5 52.4h.1M195.8 55.8h.1M203.4 50.3h.1M207.3 84.6h.1M203 62h.1M207.5 64h.1M209.3 66.5h.1M181.4 49.3h.1M176.3 53.4h.1M208.7 65.7h.1M203.2 72.3h.1M183.1 53.4h.1M205.1 73.1h.1M176.5 43.2h.1M179.2 39.9h.1M209.1 79.9h.1M178.9 87.2h.1M185.8 76.5h.1M186 46.5h.1M202.7 72h.1M204.1 63.9h.1M200.6 61.7h.1M205.4 63.5h.1M203.2 72.9h.1M180.4 76h.1M210.5 85h.1M175.7 54.1h.1M203.1 63h.1M178 50.3h.1M193.3 81.5h.1M200.9 42.9h.1M177.4 51.4h.1M186.5 75.8h.1M172 43.7h.1M196.4 80.5h.1M207.4 77.3h.1M187.5 41.4h.1M200.5 42.5h.1M179.9 47.6h.1M172.1 79.1h.1M206 60.8h.1M194.1 75.5h.1M190.3 52.2h.1M182.6 48.9h.1M201.7 49.7h.1M182 69.2h.1M190 48.5h.1M198 53.9h.1M171.5 52.2h.1M170.7 45.6h.1M200.9 47.4h.1M215.5 78h.1M175 73.7h.1M199.5 80h.1M173 81.5h.1M181.3 90.9h.1M186.3 45.6h.1M211.5 79.3h.1M204.9 43.7h.1M175.1 77.4h.1M185.5 64.2h.1M208 87.5h.1M194.5 46.8h.1M182.3 44.2h.1M187.7 58.8h.1M189.7 80.5h.1M189.7 87.3h.1M184 88.2h.1M197 56.5h.1M188.6 72.6h.1M195.5 74.5h.1M196.1 65.4h.1M196.1 82.4h.1M207.1 79.7h.1M186 89.7h.1M180.7 47.9h.1M204.3 62.3h.1M186.7 81.5h.1M201.2 43.4h.1M170.5 47h.1M197.2 89.9h.1M174.6 53.9h.1M204.3 86.9h.1M205.3 57.1h.1M189.7 60.5h.1M209.2 82.9h.1M183.8 49h.1M204 69.6h.1M194.6 89.3h.1M203.7 64.9h.1M175.1 54.4h.1M200.3 52.8h.1M176.4 86.9h.1M194.8 90h.1M210.2 68.1h.1M185.8 77.9h.1M209.8 78.1h.1M176.6 47.1h.1M183.2 72.7h.1M197.5 78.9h.1M195.9 86.3h.1M183 57.6h.1M188.8 52.3h.1M206.6 85.5h.1M172.1 65.1h.1M197.7 63.7h.1M195.6 89.2h.1M180.6 50.8h.1M189.9 92.3h.1M202.2 84.5h.1M191.9 81.6h.1M187.1 86.7h.1M183.6 58.3h.1M187.6 52.2h.1M196.8 47.6h.1M176.1 77.3h.1M190.8 90.9h.1M173.8 61.5h.1M182.7 62.2h.1M170.9 51.3h.1M194.1 55.7h.1M211.2 79h.1M173.3 50.6h.1M194.9 42h.1M173.3 60.5h.1M182.7 79.6h.1M191.6 56.8h.1M214.5 81.6h.1M197.9 78.8h.1M176.1 64.1h.1M169.1 63.1h.1M192.3 46.9h.1M191.9 78.1h.1M183.9 59.1h.1M203.3 67.1h.1M183.7 42.5h.1M174.8 67h.1M199.5 56.6h.1M187.8 95.8h.1M184.2 66.7h.1M191.1 43.1h.1M200.1 55.6h.1M200.9 45.6h.1M180.5 82.2h.1M212.4 71.9h.1M200.2 54.8h.1M184.8 66.1h.1M193.7 81.1h.1M173.2 81.4h.1M185.4 80.6h.1M185.4 40.2h.1M208.3 76.8h.1M198.2 58.7h.1M206.2 84.6h.1M185.2 49.2h.1M192.3 49.2h.1M188.7 91h.1M174.4 68.3h.1M190 73.7h.1M174.9 60.4h.1M184.3 96.8h.1M192.4 92.4h.1M205.5 78.8h.1M189.6 67h.1M185.1 72.7h.1M191.2 83.4h.1M174.2 51.8h.1M191.1 54.5h.1M197.9 72.8h.1M186.7 90.7h.1M204.4 65.6h.1M184 74.7h.1M199.9 66.9h.1M193.3 85.9h.1M188.6 77.4h.1M190.6 53.1h.1M188.1 62h.1M176.4 65.7h.1M210.2 83h.1M186.7 53.8h.1M183.5 93h.1M184 89.3h.1M180 92.6h.1M188.3 43.2h.1M175.7 64.5h.1M199.6 59.7h.1M173.2 75.8h.1M200.1 47h.1M195.6 65.9h.1M192.2 79h.1M201.1 57.4h.1M176.9 47.6h.1M190 80.4h.1M198.5 43.9h.1M169.1 65.8h.1M192.9 76.8h.1M187.5 53.9h.1M195.3 54.8h.1M205.2 79.4h.1M180.6 97.3h.1M198.2 77.6h.1M195.9 48.1h.1M191.3 77.1h.1M171.7 57.9h.1M194.2 61.7h.1M192.1 42.5h.1M187.2 59.5h.1M174.5 73.5h.1M197.2 46.9h.1M192.6 74.6h.1M195 48.7h.1M180.3 43.6h.1M172.3 55.5h.1M185.5 52.9h.1M179.5 67.4h.1M195.4 58.2h.1M205.6 70.9h.1M194.2 64.3h.1M178.4 48.6h.1M181.5 62.3h.1M198.1 87.1h.1M182.3 84.6h.1M202.3 78.6h.1M191.1 72.9h.1M187.4 78.5h.1M170.9 52.7h.1M200.8 58.5h.1M210.7 80.9h.1M168.7 51.5h.1M184 89.9h.1M187.6 41.7h.1M203.9 62.6h.1M181.8 43.6h.1M184.9 68.5h.1M196.4 65.7h.1M199.5 70.9h.1M169.8 56.1h.1M198.1 92.1h.1M185.4 51h.1M208.6 72.3h.1M172.2 51.8h.1M183.5 66.4h.1M197.7 56.2h.1M199 90h.1M180.1 91.6h.1M186.1 94.1h.1M201 47h.1M208.6 66.5h.1M195.2 59.4h.1M197.4 67h.1M203.3 69.8h.1M174.6 62.3h.1M198.1 42.5h.1M171.9 59.6h.1M204.8 68.3h.1M178.4 49.9h.1M179 86.4h.1M174.1 63.6h.1M198.3 88.7h.1M181.4 53.6h.1M175.1 70.2h.1M190.7 47.2h.1M193.4 73.9h.1M185 85.3h.1M181.9 57.3h.1M182.6 45h.1M196.5 93.3h.1M198.3 82.7h.1M175.9 48.5h.1M173.6 52.6h.1M198.4 73.8h.1M182.7 68.1h.1M174.9 71.1h.1M186.4 99h.1M211.5 69.8h.1M181.9 50.2h.1M183.1 93.7h.1M200.1 49.4h.1M180 93.3h.1M176.2 41.4h.1M199.7 67.1h.1M182.4 98.2h.1M170.9 66.9h.1M175.7 71h.1M192.2 45.3h.1M182.2 44.5h.1M201.6 84.6h.1M187.8 56.9h.1M189.8 76.7h.1M197.4 68.2h.1M188.9 80h.1M177.3 43.1h.1M170.4 44.8h.1M177.8 76.5h.1M205.9 63.8h.1M178.4 86.7h.1M183.9 57.6h.1M199.4 85.6h.1M205.2 72.2h.1M185.8 94.1h.1M179.3 59.7h.1M170.9 51.2h.1M182.3 52h.1M179.8 45.3h.1M195.3 71.2h.1M177.9 50.1h.1M208.5 74.9h.1M194.3 49.3h.1M173.6 47.4h.1M182.3 85.4h.1M190.5 83.1h.1M192.6 63.2h.1M215.1 78.6h.1M204 40.6h.1M202.8 48.3h.1M193.1 53.9h.1M185.2 83.9h.1M213.2 81.3h.1M180.2 79.8h.1M184.3 41.3h.1M193.8 60.8h.1M199.3 68.1h.1M203.5 69.5h.1M198.7 79.8h.1M180.8 58.6h.1M196.4 45.5h.1M182.6 68.5h.1M179.4 61.2h.1M179.8 92.8h.1M202.2 87.4h.1M172.3 46.6h.1M179.5 77.7h.1M169.9 56.8h.1M190 60.3h.1M210.9 76.9h.1M189.2 97.1h.1M174.9 56.5h.1M185.4 60.1h.1M195.3 83.6h.1M184.1 75.6h.1M174.7 76.1h.1M180.7 48.3h.1M194.3 76.5h.1M193.3 63.4h.1M174.1 67.5h.1M180.6 94.6h.1M205 69.6h.1M187.4 65.2h.1M189.4 44.1h.1M185 86.1h.1M198 55.9h.1M181.7 70.7h.1M174.6 74h.1M196.5 57.4h.1M205.4 64.9h.1M188.2 41.6h.1M190 41.8h.1M202.6 59.8h.1M173.3 60.7h.1M195.5 59.8h.1M199.5 83.1h.1M172.7 52.8h.1M193.5 54.4h.1M201.8 92.3h.1M185.3 62.8h.1M192.8 79.3h.1M199.7 47.8h.1M171.2 49.7h.1M193.4 90.7h.1M190.2 44h.1M174.5 63.8h.1M212.3 75.4h.1M210.3 82h.1M208.8 76.8h.1M186.5 78.5h.1M202.3 51.3h.1M205.2 74.5h.1M191.5 58.2h.1M192.7 77.8h.1M186.9 82h.1M171.9 65.2h.1M191.1 42.4h.1M190.8 73.8h.1M197.1 45.6h.1M191.1 83.6h.1M184.7 89.2h.1M192 63.6h.1M205.4 61.9h.1M184.3 83.9h.1M186.8 82.1h.1M186 94.2h.1M200.4 66.1h.1M192.1 79.3h.1M206.9 70.7h.1M173.1 60h.1M200.2 62.3h.1M175.7 47h.1M191.3 86.1h.1M189.7 42.5h.1M199.1 47.6h.1M209.4 76.8h.1M185.1 80.5h.1M187.8 100.6h.1M198 51.6h.1M181.9 64.9h.1M182.5 53.2h.1M197.1 77h.1M201.9 52.4h.1M188.7 66.8h.1M198 45.3h.1M176.7 84.2h.1M215.6 79.2h.1M191.3 89.5h.1M198.1 72.7h.1M184.7 76.7h.1M195.7 51.1h.1M187 44.8h.1M182.6 48.1h.1M179.5 77.1h.1M185.4 55.5h.1M182.3 81.8h.1M196.9 90.5h.1M188.3 45.5h.1M204.2 47.5h.1M190.3 93.4h.1M179.4 41.8h.1M184.3 57.7h.1M185.5 83.8h.1M172.3 72.7h.1M180.3 45.1h.1M203.7 85.4h.1M217.8 76.5h.1M198.8 43.8h.1M181.4 42.9h.1M201.1 64.1h.1M185.1 91h.1M210.9 73.3h.1M213.1 80.3h.1M204.6 71.5h.1M204.3 66.6h.1M190.1 47.8h.1M189.8 92h.1M174.7 66.6h.1M168 59.4h.1M198.4 56h.1M209.7 74.6h.1M203.1 89h.1M173.4 47.2h.1M178 43.3h.1M186.5 78.5h.1M181.2 60h.1M198.4 69.2h.1M174.2 46.4h.1M182 72.7h.1M192.6 84.2h.1M186.2 92.6h.1M179.4 84.5h.1M182.5 79.9h.1M193.9 57.2h.1M203.3 70.8h.1M202.9 78.2h.1M183.3 52.4h.1M179.3 86.1h.1M177.8 61.4h.1M201.7 67.3h.1M173.4 70.1h.1M187.6 89.3h.1M170.7 58.8h.1M198.6 71h.1M171.7 52.2h.1M176.4 66.4h.1M169.4 59.7h.1M193.8 59.8h.1M197.2 85.7h.1M185.6 90.4h.1M189.3 63.5h.1M205.9 83.1h.1M170.5 47.3h.1M185.9 83.7h.1M197.2 75.5h.1M194.4 53.3h.1M185.7 87.6h.1M182.5 72.4h.1M182.9 63.5h.1M198.7 63h.1M202.3 87.7h.1M206.8 73.9h.1M173.7 76.2h.1M184 59.1h.1M174.8 68.2h.1M191.6 68.5h.1M183.4 78.1h.1M183 44.3h.1M179.5 92h.1M177.4 75h.1M169.4 49.2h.1M212.3 72.5h.1M180.4 56.9h.1M185.7 82.7h.1M198.4 63.5h.1M192.5 57.2h.1M183.2 62.8h.1M174.3 61.4h.1M190.2 79h.1M196.9 49.8h.1M196.6 85.6h.1M193.1 86.4h.1M193.3 72.8h.1M185.8 56h.1M204.4 65.8h.1M176.4 71.7h.1M198.1 73.2h.1M189 84.2h.1M209.9 70h.1M195.8 67.6h.1M181.7 89.6h.1M181 54h.1M177.7 84.7h.1M186.8 68.4h.1M179.2 86.1h.1M184.6 70.9h.1M217.2 81.8h.1M200.6 69.3h.1M187.6 73.9h.1M194.2 88.5h.1M186.4 74.7h.1M173.4 55.1h.1M180.7 61.8h.1M172.4 65.9h.1M198.4 85.5h.1M168.2 47.8h.1M180.6 72.8h.1M190 81.6h.1M189 75h.1M198.8 76.8h.1M205.7 58.1h.1M189.7 66.2h.1M190.5 88.3h.1M180.5 68.5h.1M173.1 50.7h.1M215.2 77.9h.1M186.9 77.7h.1M189.1 68.7h.1M193.5 76.5h.1M181.4 59.6h.1M199 94.5h.1M197.3 90.9h.1M189.5 60.9h.1M185.3 53.8h.1M176.8 71.4h.1M197.1 75h.1M174.6 58h.1M171.1 57.1h.1M189.3 91.2h.1M183.9 95.2h.1M215.7 81.8h.1M176.5 53.2h.1M195.6 83.2h.1M194.9 89.2h.1M182.8 49.1h.1M192.2 65.2h.1M180.4 93.4h.1M172.3 61.7h.1M205.5 62h.1M192.8 58.3h.1M199.9 71.8h.1M207.5 82.7h.1M181.8 94h.1M188.2 95.5h.1M211.1 80.1h.1M174.9 60.9h.1M181.5 49.2h.1M207.4 83h.1M182.8 50.8h.1M198.1 51.5h.1M176 65.9h.1M179.5 62h.1M198.3 77.7h.1M191.1 79.4h.1M176.6 59.5h.1M178.3 59.5h.1M191.9 85.5h.1M186.1 62.3h.1M192.2 43.5h.1M199.7 48h.1M191.8 57.7h.1M204.3 86.1h.1M192.3 88.2h.1M193 65.2h.1M180.4 58.1h.1M195 93.1h.1M183.1 60.4h.1M191.2 65.1h.1M202.7 58h.1M188.3 73.2h.1M175.3 55.1h.1M198.9 60.7h.1M199.1 42.7h.1M201.6 88.9h.1M198.9 79.1h.1M195.5 63.6h.1M179.7 49.5h.1M197.3 89.2h.1M179.3 88.6h.1M178 82.4h.1M174 62.9h.1M192.3 50.5h.1M182.3 54.3h.1M180.9 47.3h.1M206.8 80.2h.1M182.5 46.3h.1M205.9 65.5h.1M201.6 50.1h.1M203.5 84.5h.1M178.7 74.9h.1M183.1 59h.1M193.5 44.4h.1M182.2 52.7h.1M179.9 77.1h.1M192 58.1h.1M193.7 68.3h.1M177.7 41.2h.1M193.5 61.9h.1M186.4 71.9h.1M173.8 54.8h.1M179.9 61.1h.1M194.3 80.8h.1M184.1 86.7h.1M191.7 57.5h.1M172.8 78.1h.1M188.9 86.3h.1M196.7 53.8h.1M181.9 58.2h.1M174.2 58.6h.1M197.1 64.7h.1M206.4 88.3h.1M197.3 58.4h.1M199.4 60.4h.1M202.8 68.5h.1M169.5 49.8h.1M204.3 62.9h.1M188.8 99.6h.1M192.3 82.2h.1M192.1 62.7h.1M183.2 64h.1M180.3 96.6h.1M205.5 68.7h.1M197.5 62.3h.1M200 48.8h.1M191.1 51.9h.1M198.9 80.7h.1M194.5 54.1h.1M189.9 98.2h.1M192.1 92h.1M172.3 44.6h.1M177 82.9h.1M193.1 61.7h.1M176.7 62.8h.1M193.6 55h.1M182 88.5h.1M214.8 75.3h.1M182.3 77.6h.1M188.4 56.4h.1M196.2 79.3h.1M168.9 51.4h.1M180.1 46.8h.1M208.7 75.1h.1M208 75.8h.1M182.4 90.5h.1M213.4 80.6h.1M193.1 50.4h.1M173.8 51.8h.1M193.3 65.6h.1M201 60.8h.1M191.4 48.7h.1M194.3 63.4h.1M188.7 69.2h.1M184.5 71.8h.1M196.8 93.2h.1M197.1 68.7h.1M207.6 81h.1M195.4 64.7h.1M183 45.5h.1M185.8 68.3h.1M203.5 84.1h.1M179.5 72.9h.1M186.4 51.3h.1M189.7 69.6h.1M173.3 61.9h.1M198.7 41.9h.1M181.7 69h.1M179.3 79.9h.1M193.2 68h.1M188.7 90.7h.1M172.2 48.7h.1M177.8 73.8h.1M186.5 90.7h.1M199.8 45.3h.1M207.6 72.4h.1M189.9 56.8h.1M175.5 69.5h.1M173 84.9h.1M181.1 62.4h.1M184.5 75.5h.1M204 74.7h.1M191.7 47h.1M176.5 75.7h.1M187 43.3h.1M212.7 77.3h.1M177.1 49.5h.1M182.3 56h.1M176.8 57.5h.1M201.4 57.2h.1M193.1 74.6h.1M186.7 80.4h.1M192.2 77.4h.1M193.8 53.9h.1M203.6 61.1h.1M175.7 81.7h.1M192.9 89.1h.1M190.3 43h.1M175.4 48.7h.1M198.6 63.3h.1M188 75.1h.1M197.3 93.8h.1M186.9 77.4h.1M183.6 68.9h.1M207.4 66.9h.1M192.6 68.1h.1M187.1 90.7h.1M182.4 63.9h.1M185.2 82.1h.1M181.7 97.5h.1M189.4 87h.1M184.3 97.1h.1M193.2 51.6h.1M172.8 56.2h.1M177.5 46.2h.1M180.3 80.6h.1M194.4 59.9h.1M191.9 80.4h.1M200.3 90h.1M205 86.5h.1M170.8 47.2h.1M210.1 83.1h.1M190.3 65.3h.1M206 75h.1M174.4 76.3h.1M183.8 88.8h.1M198.9 82.4h.1M214.1 79.6h.1M174.2 52.5h.1M175.5 67.7h.1M184.8 79h.1M187.7 54.8h.1M185.7 90.3h.1M190.6 48.9h.1M204 91.3h.1M192 43h.1M201.4 45.1h.1M198 65.1h.1M190.2 71.8h.1M180.2 78.3h.1M199 88.3h.1M191.1 62.4h.1M190.9 59.6h.1M193.7 63.4h.1M195.8 60.5h.1M201.6 51.4h.1M184 96.8h.1M199.4 52h.1M207.3 85.5h.1M189.9 41.8h.1M183.4 47.2h.1M191.6 61h.1M212.8 81.3h.1M178.9 60.9h.1M180.5 88.8h.1M195.3 52.6h.1M185.5 43.2h.1M182.7 78.2h.1M200.6 60.2h.1M178.8 45.4h.1M199.1 68.7h.1M201.5 55.1h.1M205.1 73.1h.1M189.6 43.5h.1M187.1 49.1h.1M189.2 41.2h.1M172.6 51h.1M179.4 58.4h.1M194.4 89.3h.1M180.8 89.8h.1M188 67.3h.1M207.4 69h.1M206.4 85.8h.1M180.5 79h.1M202.4 58.6h.1M188 43.9h.1M187.9 48.4h.1M180.1 75.4h.1M186.5 44.2h.1M182.1 82.7h.1M211.4 78.5h.1M201.5 59.6h.1M189.2 95.4h.1M184.8 68.8h.1M191.3 84.9h.1M174.4 83.6h.1M200.8 55.1h.1M217 78.5h.1M196.9 62.4h.1M186.4 57.7h.1M184.1 79.6h.1M174.6 61.3h.1M196.7 66.6h.1M173.5 75.7h.1M198.2 50.3h.1M206.6 64.6h.1M187.5 84.2h.1M187.9 76.5h.1M182.3 61.1h.1M183.4 74.2h.1M187.9 90.7h.1M191.7 67.8h.1M182.5 74.7h.1M184.9 67.4h.1M184.4 76.9h.1M202.2 78.5h.1M175.3 77.2h.1M183.3 55.7h.1M197.3 67.8h.1M170.9 62.9h.1M201.6 74.2h.1M176.2 63.3h.1M183.2 59.9h.1M190 54.5h.1M193.3 48.1h.1M200.5 61.5h.1M189 98.2h.1M179.1 84.2h.1M199.5 73.5h.1M187.4 92.1h.1M201.9 71.1h.1M199.7 65.9h.1M171.5 49.6h.1M181.7 87.7h.1M174.3 66.8h.1M183 93.2h.1M190.9 57.1h.1M180.9 59.5h.1M189.3 87.7h.1M203.3 75.3h.1M196.8 84.7h.1M178 58.4h.1M178.6 64.9h.1M183.5 58.8h.1M199.1 69.7h.1M188.8 59.4h.1M205.3 78.7h.1M175.6 58.7h.1M187.2 79.6h.1M184.4 75.2h.1M181.9 85.7h.1M187 75.7h.1M176.9 58.7h.1M184.7 62.8h.1M175.9 71.2h.1M185.4 58.8h.1M178.6 56.9h.1M203.8 63.4h.1M189.9 94.8h.1M195.1 53.5h.1M178.4 79.4h.1M187.2 48.4h.1M184.3 45.5h.1M197.8 73h.1M197.3 52.1h.1M181.2 84h.1M199.8 78.1h.1M180.6 80.8h.1M191.1 42.5h.1M198.7 72.8h.1M173.8 53.7h.1M170.5 55h.1M195.3 75.6h.1M191.1 71.7h.1M201 52.1h.1M175.8 46h.1M177.5 71.1h.1M179.9 69.8h.1M197.4 75.4h.1M199.9 68h.1M200.3 71.9h.1M177.1 69.1h.1M182.4 92.9h.1M180.3 57.7h.1M196.3 61.1h.1M183.7 97.6h.1M191.5 50.6h.1M180.5 95.8h.1M189.5 77.1h.1M193.7 51.3h.1M204.1 85.1h.1M179.4 69.9h.1M181.9 70.7h.1M172.4 56.2h.1M197.4 74.3h.1M173.4 50.1h.1M207.3 86.2h.1" stroke="#e8706a" stroke-width="0.9" stroke-linecap="round" stroke-opacity="0.85"/>
<path d="M206.5 41.7 L217 34.5 L225.6 31 L232 32 L238.3 41.7 L242.5 49.1 L236 57 L231 66 L226 72 L219 76 L213 72 L207 63 L202.3 52.3Z" fill="#d8b048" fill-opacity="0.12"/>
<path d="M226.5 48.1h.1M217 59h.1M217.8 49.2h.1M217.1 46.3h.1M220.1 58.9h.1M228.3 44.3h.1M210.6 50.4h.1M220.2 51.6h.1M220.1 71.9h.1M220 50.2h.1M221.7 48.5h.1M229.5 50.5h.1M225 44.5h.1M223.3 53.8h.1M223 44h.1M207.2 63.4h.1M209.8 55h.1M234.7 51.2h.1M225.8 43h.1M205.4 52.4h.1M206.9 50.8h.1M223.3 65.2h.1M230.5 57h.1M238.9 49.6h.1M228.9 48.3h.1M233.1 43.6h.1M205.7 47.7h.1M210.1 56.9h.1M218 66.6h.1M205.2 54.7h.1M238.8 43.9h.1M221.8 31.2h.1M204.8 50.9h.1M225.8 71h.1M235.6 45.9h.1M229.1 54.3h.1M224.7 60.7h.1M212.6 66.6h.1M221 41h.1M235.8 42h.1M232.1 53.4h.1M234.9 39.3h.1M224.7 49.1h.1M231.1 47.5h.1M207.5 53.9h.1M214.5 72.4h.1M219.3 68.1h.1M208.7 53.4h.1M208.6 42.1h.1M237.5 54.1h.1M219.2 70.3h.1M214.8 60.6h.1M217.5 47.5h.1M222.5 52.1h.1M220.6 54.3h.1M226.8 68h.1M205.9 54.7h.1M227.8 56h.1M237.8 43.6h.1M214.3 60.2h.1M227.9 35.1h.1M225.8 61.8h.1M229.4 62.5h.1M236 48.9h.1M225.2 44.6h.1M230.2 48.6h.1M237.7 40.2h.1M217.8 41h.1M205.7 59.6h.1M220.4 35.9h.1M227.5 55.4h.1M231.5 49.1h.1M207.6 60.5h.1M214.3 51.8h.1M212.2 37.7h.1M219.8 58.1h.1M219.8 62.2h.1M216.4 34.5h.1M222.4 44.6h.1M220 52.2h.1M239.4 43.6h.1M216.3 66.6h.1M226.6 64.3h.1M236.1 47h.1M233.9 54.2h.1M210.6 46h.1M230 66.4h.1M222.6 55.3h.1M225.4 58.8h.1M222 75.2h.1M235.2 50.3h.1M232.8 56.6h.1M225.7 66.1h.1M219.4 59.6h.1M235.8 51h.1M209.5 43.8h.1M224.9 50.4h.1M215 59.9h.1M238.4 41.1h.1M214.9 54.2h.1M221.6 47.2h.1M220 74.3h.1M233.2 45.1h.1M234.9 58.1h.1M219.4 52.2h.1M227.8 45.1h.1M228.1 32.1h.1M229.4 45h.1M208.6 40.2h.1M214.3 55.1h.1M209.9 62.3h.1M214.4 59.8h.1M230.6 48.1h.1M239.2 44.2h.1M222.2 53.4h.1M208.8 50.3h.1M233.2 53.8h.1M206.4 61.8h.1M233.8 48.8h.1M219.4 39.8h.1M215.9 55h.1M231.8 39.9h.1M217 46.8h.1M219.3 64.9h.1M206.6 51.4h.1M233.5 41.5h.1M211.1 60.9h.1M209.2 59.5h.1M239.3 55h.1M231.7 48.1h.1M226 38.1h.1M204.7 52.2h.1M224.1 50.2h.1M224.9 34.7h.1M206.4 52.6h.1M215.6 58.8h.1M214.7 46h.1M236.2 42.6h.1M207.9 40.4h.1M216.1 39.7h.1M213.9 48h.1M208.1 54.9h.1M205.2 44.2h.1M237 49.5h.1M207.1 42.1h.1M216.1 70.9h.1M209.6 42.3h.1M235.5 42.1h.1M213.6 68.6h.1M226 58h.1M224.2 58.1h.1M230.5 44.9h.1M225.5 45.1h.1M220.1 60.8h.1M225.9 36.1h.1M220.2 51.5h.1M219 56.3h.1M209.9 57.9h.1M224.8 64.3h.1M229.1 57.4h.1M228.5 38.1h.1M212.1 65.5h.1M235.7 38.8h.1M225.4 32.5h.1M210.2 60.8h.1M211 55.3h.1M211.6 48.7h.1M214.5 39.6h.1M216.9 58h.1M216.2 37.2h.1M207.9 59.3h.1M204.7 60.6h.1M231.7 65.6h.1M227 64.5h.1M205.1 64.8h.1M214.5 50.3h.1M229.3 61.2h.1M219.5 41h.1M227 42.2h.1M218 71.4h.1M221.6 71.6h.1M221.9 43.1h.1M218.4 38.3h.1M231.9 53.3h.1M213.4 42.5h.1M209.9 65.8h.1M221.1 64.9h.1M205.8 49.9h.1M214.8 38.6h.1M213.5 53.8h.1M218 38.2h.1M234.9 61.2h.1M224.4 61.2h.1M209.6 43.6h.1M219 43h.1M222.4 44h.1M239.6 43.6h.1M229.3 55.5h.1M214.2 66.7h.1M210.4 69.2h.1M226.4 57.1h.1M223.6 46.5h.1M217.1 59.1h.1M238.4 44.6h.1M239.2 47.3h.1M232.3 56.3h.1M220.6 52.2h.1M223.3 64.5h.1M208.3 48.5h.1M219.6 38.3h.1M232.4 43.2h.1M206.3 42.2h.1M241.1 51.4h.1M225.2 37h.1M214.1 56.2h.1M212.5 51.7h.1M211.5 39.6h.1M223.9 41.8h.1M231.6 57.7h.1M209 64.7h.1M228.4 37.7h.1M235.8 42.3h.1M236.1 40.9h.1M222.8 58.3h.1M228.8 48.8h.1M235.3 48.9h.1M206.8 49.4h.1M218.1 33.9h.1M219.7 51.1h.1M230.3 37.9h.1M228.4 65.8h.1M212.1 51.3h.1M227.2 40.3h.1M220 39.1h.1M236.2 47.1h.1M216.6 58.4h.1M234.5 39.7h.1M213.1 61.6h.1M223 37.1h.1M226.5 68.5h.1M233.3 54.5h.1M218.2 60h.1M237.3 54h.1M206.7 55.2h.1M205.6 55.5h.1M224.6 67.7h.1M203.7 50h.1M221.7 50.6h.1M228.1 37h.1M231.9 51.9h.1M228 33.6h.1M213.5 66.6h.1M236.5 57.9h.1M235.8 54.9h.1M216.5 67.2h.1M231.2 58.1h.1M216.2 62.5h.1M234.3 52h.1M214.9 43.2h.1M208.8 52.1h.1M210.3 61.7h.1M222.9 44.4h.1M221.9 67.1h.1M213.5 59.6h.1M205 50.8h.1M206.5 52.7h.1M213.4 48.4h.1M213.8 48h.1M221.3 53.3h.1M220.7 56h.1M211.3 39.5h.1M216.5 61.5h.1M217.4 65.6h.1M233.9 49.1h.1M226 31.6h.1M210.3 49.5h.1M237.9 54.8h.1M226.5 67h.1M219.5 69.3h.1M206.8 54h.1M230 43.7h.1M216.4 64.5h.1M223.5 34.3h.1M212.1 39.7h.1M229.1 44.7h.1M209.4 55.7h.1M228.9 62.3h.1M219.9 39.7h.1M212.4 52.6h.1M231.3 47.4h.1M233.2 52.6h.1M211.4 42.7h.1M231.4 34.5h.1M216.7 47.9h.1M217.8 44.3h.1M230.2 45.2h.1M230.3 45.2h.1M220.5 47.8h.1M213.4 45.6h.1M225.9 66.8h.1M221.3 72h.1M218.8 56.8h.1M222.9 41.2h.1M229.7 32.6h.1M229 31.4h.1M237.2 39.8h.1M233.2 48.9h.1M236.5 43.8h.1M212.9 62.9h.1M219.8 39.4h.1M206.7 56.3h.1M221.8 64.3h.1M233.1 55.4h.1M228.3 38.5h.1M230.3 61h.1M209.5 42.4h.1M219.7 46.7h.1M226.7 55.2h.1M233.7 46.8h.1M218.5 51.9h.1M222.2 47.4h.1M224.5 68.5h.1M212.1 49.1h.1M223.5 61.1h.1M211.8 42.3h.1M232 50.6h.1M210.3 47.3h.1M238.2 36.4h.1M222.6 64.3h.1M211.8 56.9h.1M213.1 48.2h.1M223.2 68.5h.1M225.4 65h.1M215.9 37.2h.1M227 54.4h.1M205.4 51.1h.1M216.1 52.7h.1M216.3 54.6h.1M217.5 65.6h.1M235.9 48.2h.1M220.1 48.7h.1M219 65h.1M211 47.1h.1M208.3 51.6h.1M216.2 65.1h.1M214.9 69.6h.1M222 42.3h.1M225.5 54.6h.1M238.2 49.2h.1M224.5 71.2h.1M235.3 44h.1M213.1 56.1h.1M233.7 43.7h.1M211.3 69.1h.1M222.5 52h.1M208.6 58.6h.1M227.1 36.2h.1M207.2 50h.1M232.7 32.1h.1M234.6 54.3h.1M229.3 53.3h.1M215.8 66.1h.1M217.2 57.1h.1M219.5 59.2h.1M228.1 67h.1M230.1 64.8h.1M231.7 61.7h.1M207.9 54.7h.1M226.6 59.1h.1M225.7 37.9h.1M227.4 40.5h.1M225.4 67.8h.1M211.9 64.5h.1M235.1 51.5h.1M210.2 58.9h.1M220.9 48.2h.1M209.1 40.7h.1M211.8 56h.1M213.8 61.6h.1M228.5 57h.1M214.4 48.9h.1M218 64.8h.1M222.3 36.1h.1M227.2 34.9h.1M222.8 56.2h.1M215.7 58.8h.1M222.8 67h.1M233.2 43.2h.1M216.2 72.7h.1M234 47.5h.1M206.5 59.5h.1M210.5 70.2h.1M210.8 65.1h.1M225.3 60.4h.1M240.7 50.7h.1M241.8 47.1h.1M211.2 56.9h.1M226 33.4h.1M227.7 34.5h.1M233.7 33.2h.1M222 39.1h.1M228.7 39h.1M226.1 51.4h.1M217.6 37.8h.1M230.3 44.2h.1M220.7 51.3h.1M213 36.3h.1M231.8 52.1h.1M206 47.7h.1M228 47.7h.1M225.5 33.6h.1M229.1 44.7h.1M217.8 33.2h.1M215.9 73.2h.1M220.6 54.6h.1M238.6 53.5h.1M215.1 41.7h.1M221.5 66h.1M220.9 57.8h.1M241.5 48.7h.1M210.5 50h.1M214.2 59.2h.1M232.1 37.5h.1M225.7 32.4h.1M237.5 43.6h.1M220.4 42.7h.1M205.5 49.4h.1M220.6 55.3h.1M233.4 54h.1M225.6 70.8h.1M207.2 56.2h.1M223.3 64.3h.1M223.8 66h.1M225.8 41.7h.1M220.4 69.7h.1M208.4 63.6h.1M211.5 64.6h.1M235.3 58.4h.1M233.6 49.4h.1M221.4 64.5h.1M218.3 72.2h.1M212.7 50.3h.1M231.1 39.7h.1M236.4 46.3h.1M208.4 60.5h.1M216.7 38.6h.1M226.8 30.8h.1M219.2 37.6h.1M221.8 44h.1M216.2 49.8h.1M226.7 32.3h.1M226.3 65.2h.1M213.3 50.9h.1M228.5 42.4h.1M224.6 34.3h.1M231.8 60.4h.1M225.5 61.7h.1M223.2 44.2h.1M214.8 64.6h.1M226.4 59.7h.1M228.2 45.9h.1M221.1 55.5h.1M218.3 67.4h.1M218.9 46.6h.1M217.8 51h.1M211.3 67h.1M226.9 32.6h.1M224.5 42.1h.1M223.1 48.7h.1M208.2 62.6h.1M231.3 36.5h.1M235.4 41.9h.1M225.9 51.6h.1M224.7 62.9h.1M230.6 64.3h.1M219.7 63.8h.1M217.9 63.2h.1M215.6 52h.1M208.3 66h.1M235.8 42.4h.1M210.3 56h.1M219.7 52.3h.1M227.4 37.1h.1M228.2 64.9h.1M236.4 40.3h.1M207 48.6h.1M211.4 61.5h.1M240 50.2h.1M231.7 46.8h.1M227.3 63.5h.1M235.6 47.3h.1M224.4 59.6h.1M233.7 41.1h.1M211.3 59h.1M207.6 64.5h.1M223.5 55.1h.1M222.5 51.6h.1M204.5 54.8h.1M229.9 58.5h.1M235 40.8h.1M215.9 46h.1M219.6 44.8h.1M214.6 36.9h.1M231.8 48.3h.1M222.3 67.4h.1M222.2 41.4h.1M219.5 68.7h.1M210.8 69.2h.1M230.1 57.9h.1M214.1 49.8h.1M207.7 58h.1M223.3 35.1h.1M232.3 36.7h.1M221.8 43.2h.1M222.9 70.6h.1M218.3 37.6h.1M209.9 46.6h.1M219.7 33.9h.1M215.1 64.5h.1M222.9 69.2h.1M222.4 50h.1M215.1 39h.1M222.7 46.2h.1M216.9 65.5h.1M228.2 57.7h.1M213.4 56.3h.1M215.8 63.4h.1M224.7 40.3h.1M235.5 50h.1M216.4 37.8h.1M217.1 40.5h.1M231 38.9h.1M226.5 54.2h.1M214.4 71.3h.1M223.1 48h.1M221.3 56.9h.1M208.8 51.3h.1M227.2 48.3h.1M215.3 54.6h.1M234 37.6h.1M216 39.7h.1M235.7 39h.1M224.1 67.2h.1M233.3 39.7h.1M207.9 47.5h.1M214.5 42.4h.1M210.9 63.5h.1M208.8 52.2h.1M221.2 37.6h.1M221.7 65.4h.1M236.3 52.5h.1M215.2 64.1h.1M215 58.7h.1M224.7 46.2h.1M216.6 58.8h.1M220.6 63.9h.1M230.5 51.1h.1M231.7 47.6h.1M223.1 40.5h.1M220.8 37.5h.1M221.6 34.1h.1M231.7 39.5h.1M237.8 44.7h.1M208.1 57.8h.1M227.3 57.3h.1M227.5 60.5h.1M211.5 54.2h.1M213.9 39.1h.1M228.6 64.2h.1M211.9 59.1h.1M223.9 41.4h.1M218.1 51.5h.1M227.8 66h.1M236.1 43.7h.1M212.8 42.5h.1M225.5 63.7h.1M210 50.4h.1M219.5 40.3h.1M236.8 50.1h.1M224.4 53.8h.1M206 53.8h.1M239 45.2h.1M227 57.2h.1M232.8 35.9h.1M235.5 52h.1M224.1 38h.1M238.1 41.8h.1M224.9 57.9h.1M223.1 53.4h.1M228.1 47.5h.1M208.9 65.3h.1M230.5 47.9h.1M223.1 37.6h.1M229.4 47.9h.1M233.2 40.9h.1M214 44.2h.1M224.6 36.5h.1M211 42.9h.1M207.9 59h.1M229 45.8h.1M219.3 61.1h.1M233.6 39.6h.1M228.4 39.7h.1M222.9 38.3h.1M227.8 36.2h.1M205.8 61.1h.1M230.7 52.1h.1M222 60.4h.1M230.9 32.5h.1M207.7 46.3h.1M221.1 64.6h.1M209.7 59h.1M230.1 33h.1M227.2 50.7h.1M217.4 55.1h.1M229.9 52.2h.1M234.7 37.5h.1M232.2 43.4h.1M203.1 45.3h.1M229.5 38.8h.1M208.2 43.1h.1M224.2 65h.1M217.4 72.9h.1M230.5 66h.1M210.2 59.3h.1M224.1 37.7h.1M229.3 53.3h.1M212.2 51.4h.1M218.4 46.6h.1M216.1 47h.1M239.1 48.5h.1M216.7 37.7h.1M211.2 53.1h.1M245.2 51.8h.1M213.1 61.1h.1M236 45.9h.1M212 69.3h.1M226.8 40.6h.1M232.4 43.3h.1M216 51.9h.1M217.5 70.1h.1M221.3 61.2h.1M220 39h.1M211.3 52.5h.1M212.4 49.7h.1M208.4 56.6h.1M221.7 31.6h.1M232.3 54h.1M206.6 51h.1M233.6 35.9h.1M208.5 55.8h.1M224 55.2h.1M221.9 39.4h.1M220.3 39.7h.1M201 53h.1M211 53.3h.1" stroke="#d8b048" stroke-width="0.9" stroke-linecap="round" stroke-opacity="0.85"/>
<path d="M185 23 L190 18 L197 15.3 L208.7 14.2 L217 18.5 L223.5 27 L225.6 31 L217 34.5 L206.5 41.7 L200 37.5 L196 31 L187.5 29Z" fill="#3a58b0" fill-opacity="0.12"/>
<path d="M194.7 19.7h.1M215.7 28.3h.1M187.9 21.9h.1M187.1 23h.1M215.9 24.1h.1M217.2 19.9h.1M216.3 30.1h.1M189 29.8h.1M211.7 25h.1M215.5 26.9h.1M200.8 33h.1M215 26.5h.1M186.2 25.9h.1M192.9 28.4h.1M217.4 19.6h.1M191.1 27.3h.1M204.9 26h.1M207.7 23.4h.1M220.2 27.5h.1M203 29.9h.1M204.1 25.8h.1M198.1 22.5h.1M202.9 25.8h.1M210.7 20.5h.1M192.4 26.7h.1M201 26.8h.1M190.3 17.4h.1M190.3 21.9h.1M191.3 23.3h.1M200.5 21.5h.1M219.9 25h.1M213.1 33.8h.1M194.1 15.4h.1M203.7 26.6h.1M210.6 33.3h.1M194.6 23.1h.1M210.9 34.9h.1M198 21.8h.1M197.6 19.8h.1M198.6 16h.1M205.8 20.8h.1M196.4 19.4h.1M193.8 15.6h.1M206.9 27.3h.1M199.4 32.7h.1M201.6 27.3h.1M206.5 21.8h.1M196.4 26.1h.1M208 40.5h.1M216.4 20.8h.1M201.8 22.3h.1M200.2 28.2h.1M222.4 25.1h.1M223.9 30.3h.1M205.3 39.7h.1M197.7 18.6h.1M199.3 24.1h.1M206.7 37.8h.1M206.4 36.8h.1M197.9 16.4h.1M198.5 33.6h.1M211 22.2h.1M222.1 28.9h.1M202.4 39.4h.1M193 26.3h.1M200 35.2h.1M207.8 22.9h.1M217.3 22.2h.1M196.8 22.1h.1M207.5 19.1h.1M216 19.2h.1M209.7 19.7h.1M189.3 25.5h.1M207.7 17h.1M191.1 24.6h.1M221.6 25.8h.1M211.2 33.4h.1M210 19.1h.1M209 37.1h.1M217.5 19.3h.1M204 27.8h.1M206.2 24.8h.1M198.1 18.7h.1M204.4 15.8h.1M221.3 32.9h.1M214.1 34.9h.1M200.3 33.1h.1M191 22.2h.1M197.2 33.8h.1M185.1 22.3h.1M216.7 29.4h.1M212.6 17.8h.1M192.7 18.7h.1M208.3 21.4h.1M210.9 19.1h.1M218.4 24h.1M210.9 19.9h.1M195 18.6h.1M211.4 33.9h.1M202.8 33.5h.1M193.4 27.2h.1M199.6 27.7h.1M194.8 21.8h.1M201.9 29.3h.1M203.8 15.8h.1M219.4 23.1h.1M189.6 26.1h.1M212.1 20.3h.1M213.2 38.3h.1M201.5 33.8h.1M217.8 26.2h.1M190.2 18.5h.1M212.4 19h.1M206.3 29.9h.1M216.7 22.7h.1M208.3 35.3h.1M210.4 32.1h.1M201.8 35.5h.1M201.1 37.8h.1M205.5 23.3h.1M210.6 26.6h.1M189 20.1h.1M203 22.5h.1M214.5 32.4h.1M210.8 20h.1M202.6 24.3h.1M213.1 22.4h.1M217.2 26.9h.1M196.8 15.5h.1M215.2 37h.1M186.3 26.2h.1M208.3 35h.1M200 23h.1M206.9 37.5h.1M197.6 25.2h.1M206.4 18.9h.1M199.4 26.6h.1M198.5 21.2h.1M189.6 22.6h.1M204.8 17.8h.1M211.7 16.5h.1M209.1 36.1h.1M199.4 27.7h.1M209 23.5h.1M209.5 26.4h.1M194.3 17.7h.1M203 27h.1M212.8 31.9h.1M206.9 27.4h.1M206.2 25.5h.1M196.4 20.8h.1M200.6 18.2h.1M217.5 29.3h.1M192.8 19.2h.1M217.6 26.4h.1M206.5 27.8h.1M224.4 28.5h.1M201.5 28.9h.1M198.7 22.7h.1M212.4 25.6h.1M202.2 30.5h.1M210.7 39.4h.1M217 24.5h.1M200.7 32.3h.1M186.6 25.2h.1M199.9 31.5h.1M205.9 13.2h.1M205.5 30h.1M212.2 16.7h.1M212.1 19.7h.1M210.8 36.2h.1M193.9 23h.1M192 21.1h.1M204 21.3h.1M219 32.6h.1M222.2 28.9h.1M205.4 30.4h.1M198.9 23h.1M203.4 24.4h.1M200.7 21.7h.1M216 23.4h.1M195.3 16.1h.1M223.1 30.6h.1M211.4 31.7h.1M202.6 22.3h.1M195.4 29.3h.1M212.4 31.9h.1M209.4 18.8h.1M188.1 21h.1M203.4 29.1h.1M205.6 40.2h.1M207.5 34.6h.1M206 36.9h.1M197.1 21.6h.1M220.5 27.6h.1M188.3 27.4h.1M184.2 25h.1M223.4 29.5h.1M215 24.3h.1M203.3 29.9h.1M196.4 28h.1M207.4 34.9h.1M195.8 16.9h.1M206.4 37.4h.1M218.9 29.3h.1M210.6 19h.1M208.7 33.5h.1M209.2 24h.1M195.7 25.7h.1M197.6 22.5h.1M198.8 24.4h.1M188.1 21.7h.1M206.8 24h.1M194 28h.1M192.5 27h.1M191.8 27.3h.1M207.1 27.7h.1M213.3 34.9h.1M204.2 36.9h.1M211 35.4h.1M220.7 30.6h.1M213.9 28.5h.1M217.8 31.2h.1M200.6 28.2h.1M211.3 35.7h.1M215.2 19h.1M207.8 20.1h.1M191.8 17.2h.1M194 24h.1M195.7 27h.1M211.4 24.4h.1M193.4 30.3h.1M210.5 34.9h.1M186 22.6h.1M201.6 15.1h.1M196 31.4h.1M206.2 25.4h.1M201.6 18.4h.1M201.7 34.2h.1M212.7 32.4h.1M197.7 21.2h.1M208.3 37.9h.1M199.7 26h.1M208.1 38h.1M210.5 23.4h.1M218.4 31.8h.1M213 23.7h.1M214.6 20.9h.1M195.2 29.4h.1M205.4 31.3h.1M202.6 32.8h.1M207.6 34.7h.1M220.6 27.1h.1M211.6 36.2h.1M223.1 30.5h.1M201.8 29.9h.1M214.1 20.1h.1M200 28.4h.1M196.5 27.3h.1M190 16.7h.1M213.7 33.3h.1M197.4 28h.1M204.9 28.4h.1M203.9 30.2h.1M196.2 22.5h.1M220.9 30.8h.1M200.5 29.6h.1M199.3 29.5h.1M213 27.3h.1M209.9 37.2h.1M200.6 31.2h.1M210.1 22.6h.1M195.8 16.8h.1M223.3 27.1h.1M200.1 19h.1M201.9 39.4h.1M200.2 16.8h.1M211.1 29.2h.1M198.6 14h.1M214.5 18.8h.1M190.2 24.2h.1M218.1 33.6h.1M201.8 26.4h.1M203 32h.1M191.9 24.5h.1M186 24.2h.1M196.9 23.1h.1M207 30.3h.1M208.9 17.5h.1M192.8 16.7h.1M211.1 34.5h.1M186.6 19.9h.1M204.9 38h.1M213.5 16.9h.1M200 18.3h.1M215.1 27.6h.1M220.6 30h.1M208.2 42.2h.1M198 30.2h.1M187.1 23.8h.1M199 16.6h.1M217.6 20.5h.1M207.3 33.4h.1M205.4 37.4h.1M205 36.5h.1M215 34.6h.1M189 26.3h.1M188.5 23.6h.1M215.6 29.1h.1M192.6 22.9h.1M185.6 20.7h.1M210.1 31.8h.1M221.6 30.2h.1M202.3 36.5h.1M203.3 30.5h.1M214.6 17h.1M189.2 29.1h.1M213.8 19.4h.1M205.6 21.7h.1M198.6 19.1h.1M193 29.2h.1M225 30.7h.1M193.1 26h.1M187.9 27.2h.1M205.4 25.7h.1M193.8 29.9h.1M206.9 37.4h.1M200.6 34.8h.1M208.1 32.1h.1M214.9 22h.1M203.8 18.7h.1M208.8 35.8h.1M217.8 20.3h.1M190.3 25.7h.1M205.5 40.9h.1M199.1 20.4h.1M218.6 35.5h.1M188.6 25.2h.1M213.1 37.6h.1M224.4 26.9h.1M201.9 33.7h.1M203.4 31.6h.1M200.4 32h.1M206.9 16.2h.1M211.2 18.3h.1M216 29.4h.1M203.1 28.9h.1M202.1 25.4h.1M206.3 19h.1M219.9 32.7h.1M206.1 21.4h.1M214.5 20.9h.1M200.3 24.4h.1M198.1 19.5h.1M220.3 29.7h.1M189.6 23h.1M211.6 37.9h.1M190.5 24.5h.1M209.7 32.9h.1M204.5 23.5h.1M207 37.5h.1M198.6 29.7h.1M204.9 32.6h.1M203.3 29.3h.1M207.5 29.4h.1M196.1 31.8h.1M194 24.7h.1M207.5 31.2h.1M203.6 16h.1M206.8 37.4h.1M192.6 26.9h.1M195.6 26.8h.1M200.9 30.3h.1M200.5 34h.1M204.6 18.3h.1M198.9 18.8h.1M192.8 18.3h.1M204 24.5h.1M196.4 30.9h.1M190.4 30.2h.1M195.5 25.3h.1M221 26.6h.1" stroke="#3a58b0" stroke-width="0.9" stroke-linecap="round" stroke-opacity="0.85"/>
<path d="M242.5 49.1 L251 60.8 L257.3 71.3 L259.4 78 L257.3 91.2 L251 99.6 L240.4 105 L227.7 103.8 L222 95.4 L221.5 82 L226 72 L231 66 L236 57Z" fill="#6aac3a" fill-opacity="0.12"/>
<path d="M227.3 83.6h.1M230.9 79.1h.1M240.2 65.8h.1M248.7 77.1h.1M250 70.7h.1M243.2 92.7h.1M223.8 93.4h.1M254.4 69.6h.1M248.2 82h.1M239.4 98.9h.1M249.3 83.4h.1M242.8 94h.1M249.7 94.1h.1M242.8 71.8h.1M240.9 91.4h.1M253.9 77.4h.1M240.4 64.8h.1M255.2 78.3h.1M248.1 65.7h.1M244.6 80.9h.1M234.8 64.2h.1M238.8 90.4h.1M230 94.8h.1M231 65.3h.1M230.8 101.3h.1M244.7 61.5h.1M242.4 88.5h.1M255 74.3h.1M254.1 90.4h.1M251.5 90.4h.1M241.7 54.1h.1M240 101h.1M247.7 79.5h.1M244.4 93.5h.1M240 77.6h.1M226.7 98.2h.1M246.4 59.2h.1M232.5 100.6h.1M244.9 68.2h.1M242.4 86h.1M258.3 81.7h.1M246.3 97.1h.1M237.1 59.4h.1M240.4 77.5h.1M250.8 90.6h.1M226.2 89.7h.1M256.9 71.6h.1M246 64.8h.1M237.5 69.4h.1M241.6 71.9h.1M249.7 61.4h.1M255.2 91.5h.1M232 89.5h.1M239.7 105h.1M255.5 66.5h.1M242.2 70.7h.1M249.8 82.1h.1M230.6 92.3h.1M240.4 58.5h.1M229 80.2h.1M234.7 76.1h.1M239.1 58h.1M256.5 91.9h.1M237.1 101.2h.1M237.8 107.2h.1M241.2 94.6h.1M247.3 69.8h.1M237.3 89.7h.1M235.9 57.4h.1M255.5 82.8h.1M252.4 73.6h.1M243.8 73.6h.1M252.2 86.1h.1M244.1 82.9h.1M237.7 77.3h.1M238 67.5h.1M254.6 94.4h.1M234.3 67.3h.1M238.5 91.6h.1M236.9 59h.1M250 74.5h.1M231.2 91.5h.1M234.4 67.1h.1M244.5 57h.1M230.8 64h.1M254.6 92.6h.1M226.9 89.2h.1M238.3 60.5h.1M243.9 76.9h.1M250 58.6h.1M230.5 88.2h.1M249 77.9h.1M252.1 95h.1M249.2 76h.1M230.4 91.5h.1M237.9 98.3h.1M245 63.1h.1M236.9 65h.1M250.8 77.9h.1M239.3 53.4h.1M247.6 96.4h.1M236 102.6h.1M238.2 94.3h.1M246.4 100.5h.1M231 101.5h.1M230.6 100.3h.1M238.9 57.1h.1M228.5 88.7h.1M250.5 82.5h.1M239.5 87.6h.1M237 93.1h.1M222 86.8h.1M237.7 102.2h.1M244.9 85.6h.1M240.2 54.5h.1M248 96.8h.1M246.7 94h.1M233.5 69.6h.1M230.1 72.9h.1M232.5 78.3h.1M255.6 79.4h.1M246 95.8h.1M228.5 75h.1M249.5 92.1h.1M241.8 101.8h.1M224.9 100.3h.1M249.6 97.5h.1M231.9 76.9h.1M235.2 62.7h.1M238.8 74.1h.1M240.7 84.4h.1M246.6 72.2h.1M233.4 99.2h.1M247.8 89.1h.1M231.6 91.9h.1M226.8 99.7h.1M255.1 70.4h.1M244.4 92.2h.1M241.8 96.2h.1M228.4 85.2h.1M221.2 92.2h.1M248.4 69h.1M238.3 88.2h.1M232.2 94.8h.1M257.3 70h.1M249.7 96.4h.1M247.2 94.7h.1M236.8 104.1h.1M258 86.5h.1M249.4 100.1h.1M227.4 97.4h.1M249.8 89.5h.1M243.4 96.7h.1M241.5 62.7h.1M251.6 77.4h.1M257.8 89.5h.1M242.9 95h.1M250.6 69.7h.1M240 69.2h.1M251.4 78.6h.1M234.3 64.7h.1M251.3 61.8h.1M248.8 102.8h.1M242 55.4h.1M231.7 95.2h.1M242.1 64.3h.1M253 81h.1M236.1 102.8h.1M238.2 63.7h.1M232.4 89.5h.1M243.2 54.4h.1M236.1 72.6h.1M246.3 91.4h.1M241.2 54.7h.1M255.8 84.4h.1M252.7 94h.1M237.2 60.9h.1M234.1 59.4h.1M253.5 75.4h.1M249.4 73.5h.1M240.7 58.6h.1M236.5 73.7h.1M252.9 75h.1M237.5 94.1h.1M251.1 75.4h.1M240.9 86.6h.1M231.5 78.3h.1M239.7 96.5h.1M254.5 77.1h.1M233.5 74.5h.1M243.6 67.1h.1M249.3 71.7h.1M241.8 105.4h.1M239.6 67.7h.1M248.6 71.7h.1M228.4 75h.1M223.3 94.9h.1M228.4 68.6h.1M237.5 72.6h.1M226.8 85.6h.1M230.9 79.1h.1M247.8 96.6h.1M245.1 71.3h.1M232.4 98.1h.1M242.4 72h.1M246.5 59h.1M248.2 94.5h.1M251.2 62.3h.1M242.5 95h.1M249.8 74.8h.1M242.7 90.2h.1M254.7 75h.1M226.7 87.8h.1M234.1 73.2h.1M250.4 77.3h.1M256.5 75.1h.1M234.8 62.2h.1M255.3 78.2h.1M229.2 72h.1M253.1 73.6h.1M231.6 100.4h.1M251 92.7h.1M252.9 87.3h.1M239.2 83.1h.1M228.6 92.1h.1M229 98.5h.1M235.7 66.3h.1M253.2 73h.1M240.8 52.5h.1M239.4 82.5h.1M228.7 99.5h.1M228.7 72.7h.1M257.8 83.3h.1M240.7 54.9h.1M246.2 63.5h.1M244.8 98.8h.1M238.8 98.5h.1M256.1 75h.1M249.5 98.8h.1M229.3 96.3h.1M227.6 98h.1M235.3 61.6h.1M225.5 92.6h.1M238.9 103.7h.1M230.1 81.1h.1M250 91.7h.1M255.1 85.1h.1M232.1 89.2h.1M230 82.8h.1M226.5 87.7h.1M241.6 54.1h.1M235.3 66.8h.1M242.3 74.2h.1M225.5 74.5h.1M239.3 71.8h.1M254.2 79.9h.1M234.7 101.8h.1M243.2 63h.1M250.1 81.4h.1M223.2 89.2h.1M240.7 79.4h.1M250.9 96.6h.1M225.2 90.2h.1M252.4 82.9h.1M225.8 89.6h.1M256 92.4h.1M230.1 83.4h.1M256.7 70.6h.1M254.1 69.7h.1M235.7 67.7h.1M249.9 99.5h.1M230 74h.1M240.4 80h.1M244.1 87.8h.1M228.4 96h.1M236.4 57.5h.1M242.4 69.1h.1M254 80.2h.1M246.4 59.8h.1M254.4 94.7h.1M252.4 91.5h.1M236 99.3h.1M243.7 81.8h.1M231.2 77h.1M229.1 74.9h.1M232.9 70.8h.1M228.4 100.4h.1M236.5 83.2h.1M251.6 87.5h.1M243.2 98.7h.1M234.3 103.2h.1M230.9 74.8h.1M230.1 72.2h.1M231.3 68.5h.1M246.1 79.9h.1M224.3 98.8h.1M249.2 98.9h.1M236.2 74.1h.1M242.9 60.3h.1M249.4 77.1h.1M230.7 99.2h.1M245.7 97.8h.1M233 64.9h.1M231.9 91.4h.1M224.9 81h.1M254.1 79.4h.1M238.4 101.8h.1M239.2 55.7h.1M239.8 104.8h.1M237 90.2h.1M223.7 81.9h.1M248.1 65.7h.1M251.1 67.6h.1M244.6 87.5h.1M240.1 76.5h.1M236.8 85.1h.1M227.7 84.5h.1M241.9 69.7h.1M236.3 81.9h.1M250.2 88.7h.1M255.6 64.4h.1M241.8 92.3h.1M249 76.7h.1M252 80.9h.1M237.4 91.4h.1M224.6 94.5h.1M245 57.3h.1M252.8 96.5h.1M244.2 59.3h.1M236.8 90.1h.1M239.3 70.9h.1M237.3 91.9h.1M241.6 59.8h.1M248.4 98.9h.1M249.1 52.8h.1M232.3 79.4h.1M244.2 94.3h.1M245.5 85.3h.1M234.9 95.1h.1M236.4 57.5h.1M239 64.2h.1M251.6 69.3h.1M234.7 61.5h.1M222.8 94.3h.1M229.9 67.5h.1M229.2 83.2h.1M241.4 55.5h.1M243.2 69h.1M229.3 78h.1M235.7 100.6h.1M249.5 95.6h.1M257 71.3h.1M228.4 78.7h.1M242.4 62h.1M225 95.2h.1M247.9 98h.1M245.6 61.3h.1M254.9 82.9h.1M237.3 56.5h.1M234.5 97.6h.1M235.3 102.9h.1M240.7 98.9h.1M242.1 78h.1M237.7 99h.1M233.4 85.8h.1M235.1 66.1h.1M242.9 73.7h.1M238.6 84.9h.1M227.6 99.6h.1M234 91.8h.1M225 77.3h.1M232.3 67.2h.1M248.5 92h.1M241.9 70.9h.1M229.7 80.2h.1M252.4 88.5h.1M237.1 63h.1M242.3 50.1h.1M247.2 60.3h.1M239.9 89.1h.1M230.9 84.3h.1M235.1 76.5h.1M233.4 100.3h.1M243.2 102.6h.1M229.1 71.8h.1M232.1 66.7h.1M249.9 82.9h.1M228.8 78.5h.1M229.4 71.8h.1M233.9 96.9h.1M245.4 91.4h.1M230.6 74.9h.1M258.8 76.5h.1M232.5 76.7h.1M235.9 69.9h.1M243.8 74.8h.1M246.5 95.9h.1M236.7 71.8h.1M248.3 69.5h.1M230.5 80.6h.1M224 87.7h.1M235.8 78.2h.1M240.7 69.8h.1M246.2 84.3h.1M253.3 70.2h.1M236 101.2h.1M233.2 75.5h.1M241.9 62.4h.1M238.5 83.3h.1M238.1 87.6h.1M228.1 71.9h.1M248.6 91.9h.1M243.9 91.6h.1M240.8 88h.1M238 60.2h.1M252.9 84.9h.1M239 61.6h.1M237.5 66.5h.1M252.1 88.5h.1M249.3 98.2h.1M241.2 76h.1M238.3 87.8h.1M249.5 67.9h.1M226.3 95.8h.1M246.2 79.8h.1M250.3 91.3h.1M241.2 71.6h.1M237.8 61.2h.1M249.4 80.8h.1M252.3 81.4h.1M252.6 79.8h.1M244.8 86.6h.1M244.6 78.8h.1M227.5 87.8h.1M251.4 62.6h.1M222.3 89.8h.1M256.2 79.7h.1M250.5 66.5h.1M231.7 69.9h.1M250.3 81.9h.1M245.9 86.2h.1M231.8 93.9h.1M243.8 71.9h.1M228.4 83h.1M254 72.8h.1M244 57.7h.1M256.8 90.5h.1M231 92.5h.1M252.3 88.9h.1M249.5 90.2h.1M240.3 97.7h.1M222.6 84.1h.1M256.8 79.2h.1M252.4 92.3h.1M245.1 64.1h.1M246.4 100.8h.1M224.2 83.7h.1M227.5 82.7h.1M229 78.3h.1M242.8 79.1h.1M254.8 80.1h.1M247.6 91.5h.1M251 95.6h.1M233.6 103.7h.1M228.3 76.7h.1M242.1 67h.1M244.8 84.8h.1M239.5 64.5h.1M227.7 81.9h.1M237.1 81h.1M222.6 83.6h.1M228.8 75h.1M221 85.3h.1M240.9 82.8h.1M238.3 88.5h.1M230.5 94.4h.1M234 86.8h.1M245 68.8h.1M241.1 97.9h.1M226.2 90.5h.1M235.1 87.5h.1M245.8 64.8h.1M246.5 69.9h.1M258.5 73.2h.1M257.4 80.6h.1M237 95.1h.1M247.7 61.6h.1M236.8 89h.1M234.6 70.1h.1M227.1 90.5h.1M233.3 86.9h.1M240.1 76.9h.1M225.1 79.3h.1M239.2 70.9h.1M258 88.5h.1M253.8 65.1h.1M255 76.8h.1M248.9 76.1h.1M241.1 79.7h.1M231.6 90.6h.1M236.3 93h.1M242.4 56.1h.1M242.1 79.6h.1M241 100.3h.1M233.5 83.5h.1M236 60.3h.1M238.1 84.7h.1M257.2 79.6h.1M229.4 98.5h.1M238.5 104.7h.1M246.6 56.8h.1M259.5 82.1h.1M258.3 79.4h.1M228.5 89.6h.1M249.5 97.4h.1M237.7 77.4h.1M246.3 71.8h.1M227.6 101.6h.1M239.8 65.7h.1M229.9 78.7h.1M230.3 79.9h.1M228.9 91.6h.1M247.4 102.9h.1M228.9 82.4h.1M251 91.6h.1M244.4 94.9h.1M256.2 91.7h.1M242.9 60.6h.1M251.6 75.9h.1M224.9 83.8h.1M241.4 59.3h.1M244.2 79.6h.1M247.4 96.5h.1M234.2 57.4h.1M227.6 100h.1M231.8 106.6h.1M228.2 80.2h.1M244.4 73.7h.1M242.8 94.3h.1M245.7 64.2h.1M256.2 73.5h.1M255.8 78.7h.1M235.5 82.1h.1M246.6 65.1h.1M256.8 74h.1M242.1 79.4h.1M248.8 91.4h.1M231.3 99.8h.1M239.3 58.1h.1M245.4 66.4h.1M238.3 75.8h.1M244.3 84.5h.1M232.3 84.7h.1M252.7 81.3h.1M240.9 62.4h.1M238.3 79.8h.1M238.2 74.1h.1M254.3 89.1h.1M239.6 69.4h.1M248.9 85.2h.1M252.4 84.9h.1M224.3 88.2h.1M242.3 70.5h.1M233.3 71.3h.1M251.6 80.1h.1M234.7 90.9h.1M248.8 95.8h.1M232.1 96.9h.1M229.6 87.2h.1M244.6 87.6h.1M231.2 84.7h.1M241.2 74.9h.1M231 95.3h.1M250.2 83.8h.1M251.3 76.6h.1M228.8 95.1h.1M236.4 92.1h.1M252.5 91.4h.1M255.4 81.6h.1M234.8 104.9h.1M244.8 88.3h.1M240.8 57.3h.1M233 86.5h.1M235.5 102.8h.1M236.9 86.2h.1M247.8 61.2h.1M254.5 78.5h.1M240.9 54.5h.1M250.8 74h.1M223.7 87.3h.1M244.2 77h.1M258.3 83h.1M221 84.6h.1M226.8 89.3h.1M225.3 96.1h.1M253.6 82.6h.1M231.8 66.4h.1M227 69.7h.1M243.4 71.9h.1M232.5 75.3h.1M244.7 76h.1M231.4 90.2h.1M230.4 89.1h.1M242.7 98.2h.1M250 66.1h.1M248.2 96.2h.1M239 90.5h.1M244.3 72.7h.1M252.5 95h.1M237.9 63.2h.1M249.1 79.7h.1M234.9 90.5h.1M240.4 77.6h.1M239.3 61.2h.1M234.4 72.6h.1M235.8 95.1h.1M235.9 72.6h.1M248 97.6h.1M222.9 84.7h.1M244.2 55.9h.1M254.8 83.6h.1M223.4 91h.1M247.4 59.2h.1M225 84.7h.1M234 89.2h.1M249.2 74.7h.1M236.7 75h.1M243.9 60.2h.1M223.6 83.3h.1M228.7 72.2h.1M223.8 86.9h.1M238.6 56.4h.1M252.7 80.2h.1M231.8 65.8h.1M245.4 55.9h.1M234.7 91.4h.1M231.8 69.7h.1M241.8 54.8h.1M248.9 81.7h.1M234 70.9h.1M230.2 100.5h.1M256.2 90.1h.1M234.8 68.5h.1M253 83.1h.1M247.1 57.7h.1M240.9 78.2h.1M234.6 71h.1M238.7 96.2h.1M253.7 66.9h.1M237.2 73h.1M231.4 97h.1M229.3 73.7h.1M229.6 94.1h.1M224.5 77.6h.1M236.5 87.3h.1M245.8 54h.1M239.2 53.2h.1M236.4 69h.1M234.5 74.5h.1M229.8 88.9h.1M251.8 87.6h.1M225.2 91.5h.1M225 101.2h.1M223.1 84.9h.1M241.9 81h.1M236.4 103.8h.1M236.7 61.4h.1M236.3 99h.1M241.3 60.4h.1M235.2 82.1h.1M228.5 85.9h.1M239.6 80.5h.1M221.5 86.6h.1M230.6 92.1h.1M238.7 74.2h.1M247.8 80.7h.1M247 81.8h.1M229.9 82.3h.1M239.5 63.9h.1M229.3 96.8h.1M246.1 83.8h.1M240.6 92.2h.1M227 82.4h.1M251 94.8h.1M238.5 86.4h.1M245 57.2h.1M228.5 76.8h.1M230.1 102.7h.1M229.4 87.3h.1M255.3 84.6h.1M229 79.7h.1M225.2 83.5h.1M228.1 96.7h.1M242.4 64.6h.1M247.6 81.1h.1M240.5 101h.1M218.9 84.2h.1M234 68.6h.1M224.3 97.6h.1M237.6 102.4h.1M236.3 72.5h.1M247.8 83.6h.1M228.5 103.2h.1M254.5 93.2h.1M228.6 93.7h.1M237.1 85.6h.1M239.8 75.8h.1M230 101.2h.1M236.6 90h.1M235.2 101.5h.1M240.8 52.1h.1M244.9 59.8h.1M242.1 66.3h.1M245.6 52.8h.1M254.7 82.9h.1M253.1 66.5h.1M230.9 89.5h.1M252.8 73h.1M251.2 79.7h.1M237.3 74.2h.1M232.9 100h.1M255.4 72.3h.1M227.5 96.1h.1M234 69.7h.1M251.7 84.6h.1M236 95.5h.1M252.9 70.8h.1M242.4 62.8h.1M244.6 87.1h.1M228.8 78.2h.1M227.7 82.5h.1M254.5 85.7h.1M250.5 96.8h.1M246.2 96.9h.1M244.4 53.8h.1M242.2 87.7h.1M236.8 84.1h.1M243.9 67.6h.1M233.4 97.3h.1M244.8 95.7h.1M228.1 92.7h.1M251.4 71h.1M229.8 82.2h.1M226 89.6h.1M243.9 100.6h.1M242.9 83.1h.1M248.3 98.6h.1M232.3 65h.1M222 89.6h.1M228.3 77.9h.1M227.9 81.9h.1M241.7 98.8h.1M225.9 71.9h.1M241.4 77.6h.1M242.1 99.8h.1M249.5 78.2h.1M238.2 83.1h.1M232 69.5h.1M224.6 86.5h.1M248.9 84.4h.1M237.7 64.4h.1M249.6 81.1h.1M244.9 97.4h.1M246.8 80.1h.1M250.2 84.9h.1M244.2 95.2h.1M228.9 86.4h.1M244.1 100.1h.1M229.3 71.8h.1M226.1 96h.1M238.3 71.4h.1M232.5 100.5h.1M249.7 85.7h.1M236.1 62.6h.1M243.1 102h.1M250.3 70.8h.1M238.2 54.6h.1M223.4 78h.1M234.3 93.6h.1M237 79.9h.1M227.8 87.9h.1M236 71.5h.1M233.9 64.8h.1M228.1 100.8h.1M252 83h.1M239.6 66.8h.1M226.2 98h.1M229.8 80.5h.1M225.3 92.7h.1M252 94.8h.1M254.2 90.6h.1M239.5 101.4h.1M245 95h.1M232 100.2h.1M242.8 70.5h.1M227.3 92.5h.1M243 77.7h.1M222.1 82.4h.1M254.1 89.4h.1M230.9 87.5h.1M218.9 94.7h.1M244.2 95h.1M241.1 77.1h.1M254.2 93.8h.1M241.9 78.1h.1M251.3 67.6h.1M229.7 71.3h.1M230.8 89.6h.1M236.6 86.8h.1M233.8 77.5h.1M259.3 82.4h.1M238.6 84.4h.1M251.6 92.4h.1M224 87h.1M237.2 59.3h.1M244.9 66.3h.1M246.4 92.7h.1M244 93.1h.1M233.8 64.2h.1M251.5 85.1h.1M239.1 79.2h.1" stroke="#6aac3a" stroke-width="0.9" stroke-linecap="round" stroke-opacity="0.85"/>
<path d="M183.3 99.6 L187.5 99.6 L202.3 91 L212.9 82.7 L219 76 L221.5 82 L222 95.4 L227.7 103.8 L236 108 L230 110 L220 110 L208.7 110.2 L200.2 116.5 L189.6 110 L185.4 101.7Z" fill="#8cc890" fill-opacity="0.12"/>
<path d="M219.7 96.1h.1M210.2 101.2h.1M193.7 109.7h.1M186.3 112h.1M191.3 108.1h.1M204.9 100h.1M216.1 87.2h.1M199.4 111.6h.1M210.4 98.6h.1M234.2 108.6h.1M222.7 100h.1M221.1 85.4h.1M194.3 103.8h.1M217.3 92.2h.1M207.5 108.2h.1M226.6 109.5h.1M216.5 100.7h.1M209.4 90.7h.1M220.2 91.4h.1M205.2 89.2h.1M217.9 103h.1M202.8 114.2h.1M194.4 109.8h.1M192.6 103h.1M217.7 88.1h.1M224 100.4h.1M208 103.4h.1M201.6 104.7h.1M214.3 107.2h.1M206.3 104.6h.1M200.3 115.1h.1M212.9 94.2h.1M195.7 109.8h.1M212 92h.1M219.3 85h.1M215.6 93h.1M197.1 99.9h.1M199.2 113.6h.1M218 102.7h.1M199.6 105.4h.1M214.2 100.7h.1M204.1 103.1h.1M217.7 86.2h.1M193.5 111.1h.1M201 104.1h.1M220.9 88.3h.1M200.1 110.9h.1M217.3 82.9h.1M218.2 101.5h.1M194.5 112.4h.1M219.8 102.4h.1M209.6 103.9h.1M209.7 112h.1M217.3 97.5h.1M207.7 102.5h.1M198.6 92.1h.1M211.7 85.4h.1M216.7 87.3h.1M192.7 98.1h.1M205.3 96.4h.1M211 93.6h.1M212.8 109.9h.1M202.9 98.5h.1M217.3 91h.1M189.9 103.9h.1M229.3 109.3h.1M206.9 94.3h.1M210.6 104.2h.1M195.4 103h.1M212.3 103h.1M218.9 105.4h.1M199.4 100.2h.1M216.6 96.3h.1M214.4 96.7h.1M196 98.1h.1M192.3 99.3h.1M200.4 113.2h.1M194.8 105.4h.1M202.9 94.2h.1M215.4 100.3h.1M221.4 82.1h.1M197.4 103.2h.1M199.7 95h.1M216.5 78.1h.1M207 111.6h.1M204 102h.1M189.2 109.7h.1M189.2 99h.1M203.1 113.5h.1M221.1 80.7h.1M220.7 101.8h.1M203.9 97.3h.1M223.7 99.7h.1M200.5 113.3h.1M219.1 110.5h.1M203 92.7h.1M230.5 105.9h.1M203.6 95.5h.1M209.9 99.7h.1M212.6 91.6h.1M211.5 93.1h.1M228.7 106.8h.1M208.3 98h.1M217.3 81.3h.1M223.5 100.5h.1M223.7 100.1h.1M197.3 110.8h.1M214.2 89.4h.1M210.1 91.5h.1M222.1 107.3h.1M208.9 105.8h.1M199 114h.1M223.3 108.6h.1M212.3 103.2h.1M192.1 106.4h.1M214.3 88.2h.1M202.3 111.8h.1M195.2 104.7h.1M218.8 83.6h.1M193.8 95.8h.1M228.5 106.9h.1M195.3 105.9h.1M191.1 105h.1M213 87.9h.1M196 98.3h.1M192.1 101.3h.1M194.7 105.7h.1M222.6 110.3h.1M216 100.2h.1M191.9 113.1h.1M205.9 92.3h.1M220.7 105.7h.1M223.5 107h.1M216.3 89.8h.1M216 99.3h.1M191.7 108.7h.1M225.6 110.2h.1M209.3 98.4h.1M200.9 112.2h.1M218.9 102.4h.1M203.6 108.2h.1M195.2 95.6h.1M205.1 100.7h.1M220.3 101.3h.1M195.5 113.1h.1M205.4 111.4h.1M217.5 83h.1M191.4 100.9h.1M200.8 92.5h.1M218 81.7h.1M219 96.9h.1M204.7 103.3h.1M209.9 86.6h.1M215.8 84.7h.1M212.1 86.7h.1M204.9 108.2h.1M216.8 90.2h.1M213.9 101.7h.1M220.1 94.2h.1M211.1 98.1h.1M230.5 104.7h.1M184.4 98.1h.1M210.9 92.7h.1M214.1 105.3h.1M219.8 104.4h.1M219.5 81.2h.1M197.2 96.3h.1M210.9 92.7h.1M208.4 84h.1M220 97.1h.1M221.7 100.6h.1M194.7 111.8h.1M197 99.2h.1M219.5 78.4h.1M215.4 85.8h.1M204.8 94.4h.1M219 109.4h.1M207.8 92.9h.1M226.9 108.8h.1M220.4 107.5h.1M206.3 98.8h.1M226.4 104.9h.1M215.5 108.7h.1M203.7 101.5h.1M202.7 109.3h.1M214.4 95.8h.1M209 87.8h.1M205.5 104.5h.1M187 106.4h.1M210.5 93.9h.1M213.1 91.7h.1M206.7 90.5h.1M189.7 101.7h.1M230.5 105.9h.1M203.8 93.6h.1M217.9 78.7h.1M205.1 108.9h.1M218 84.3h.1M216.1 89.4h.1M201.9 97.2h.1M212.3 100.6h.1M195.7 99.4h.1M208.6 100.3h.1M217.2 90.8h.1M193.8 110.7h.1M222.3 98.5h.1M224.4 103.7h.1M214.8 94.5h.1M223.1 104.5h.1M210.7 94.3h.1M206.9 98.5h.1M223 106.2h.1M220.8 111.5h.1M208.7 83.4h.1M216.9 102.5h.1M227.5 108.5h.1M222.6 97h.1M208.1 95.5h.1M217.1 104.5h.1M188.5 102.3h.1M201.9 108.7h.1M223.8 108h.1M189.7 99.7h.1M213.6 86.5h.1M195.6 107.8h.1M222.5 99.3h.1M217.2 83.4h.1M194.2 110.3h.1M210.9 92.6h.1M218.9 83.6h.1M202.9 110h.1M217.8 94.6h.1M189.2 109.6h.1M186.3 100.8h.1M211 86.4h.1M200.3 97.7h.1M198.7 98.6h.1M215.4 98.6h.1M206.3 86.8h.1M221.5 101h.1M188.9 99.8h.1M209.5 91.4h.1M221.4 92.5h.1M203.4 100.1h.1M228.3 107.3h.1M210.8 92.3h.1M220.4 102.8h.1M209.4 92h.1M218.7 88.2h.1M216.4 101.5h.1M197.5 111.1h.1M212.5 95.3h.1M220.2 94.3h.1M200 110.9h.1M207.7 96.3h.1M200.8 103.1h.1M217.9 105.4h.1M215 101.7h.1M195.6 114h.1M221.6 101.4h.1M226.2 104.5h.1M204.9 89.8h.1M216.9 96.6h.1M217.1 98.5h.1M194.2 100.2h.1M210.2 90.1h.1M220 99.6h.1M210.4 108.6h.1M231.5 106.1h.1M202.8 99.8h.1M192.4 100.8h.1M203.7 93.8h.1M217.4 109.4h.1M224.8 107.8h.1M216.9 82.2h.1M191.5 106h.1M225.5 102.6h.1M213.8 85.6h.1M202.6 112h.1M228.1 108.9h.1M211.7 91.6h.1M216.5 81.2h.1M201.3 117.1h.1M234.4 110.8h.1M208.1 90.4h.1M215.3 93.7h.1M206.8 99h.1M215.4 84h.1M206.5 111.7h.1M194 95.8h.1M200.6 98h.1M202.5 95.7h.1M202.1 103h.1M187.5 104.3h.1M195.5 97.9h.1M221.5 83.5h.1M218.6 93.3h.1M197.4 113h.1M217 106.7h.1M202.9 104.2h.1M224.5 107.5h.1M207.6 87.2h.1M203.9 109.5h.1M211.5 109.2h.1M216.2 108.9h.1M195.2 104h.1M212.4 105.7h.1M205.1 98.9h.1M214.9 101.3h.1M196.7 111.6h.1M228.3 104.8h.1M206.6 96.4h.1M216.1 86.3h.1M210.6 99.5h.1M222.5 103.8h.1M195.7 99.9h.1M220.3 81.8h.1M206.6 95.3h.1M207.1 92.6h.1M205.5 88.9h.1M187.1 103.5h.1M213.2 112h.1M196.3 95.1h.1M209.5 90.2h.1M205.9 95h.1M195.5 108.5h.1M205.3 96.1h.1M207.9 90.7h.1M197.9 96.9h.1M199.1 97.7h.1M197.8 107.4h.1M187.4 99.2h.1M225.8 99.6h.1M221.5 107.8h.1M211.3 87.2h.1M223.7 102.3h.1M218.4 75.7h.1M220.1 106.2h.1M217.2 105.9h.1M202.2 92.1h.1M188.8 103.2h.1M215.2 97.4h.1M222.9 109h.1M210.2 107.4h.1M220.9 94.1h.1M216.2 105.1h.1M209.4 103h.1M199.4 94.5h.1M212.8 92.4h.1M215.8 108.9h.1M202.5 114.6h.1M218.5 77.2h.1M222.1 102.7h.1M190.7 103.5h.1M227.9 106.7h.1M214.9 91.5h.1M200.6 112.3h.1M196.9 97.2h.1M191.6 98.9h.1M191.9 105.2h.1M221.2 107.4h.1M185.7 103.5h.1M202.1 111.1h.1M199.9 115.7h.1M235.2 106.9h.1M201.3 112.3h.1M213.9 88.6h.1M228.4 109.1h.1M202.9 109.5h.1M223.4 104.6h.1M190.5 97.3h.1M204.6 93.7h.1M217.7 91.5h.1M188.6 104.6h.1M213.1 88.9h.1M202.3 111.9h.1M205.9 109.9h.1M198.4 109.3h.1M215.1 78.9h.1M213.7 88.6h.1M189 102.4h.1M220.6 95.3h.1M214 101.3h.1M220 99.8h.1M191.2 104.5h.1M188.6 104h.1M218.9 82.4h.1M223.9 111.1h.1M211.4 92.5h.1M217.2 93.7h.1M226.6 105.3h.1M225.6 101.4h.1M210 108.1h.1M214.3 93.3h.1M218 82.9h.1M192.9 105.2h.1M217 103.8h.1M189.4 100.9h.1M204.8 88.6h.1M196.7 96.4h.1M204.7 110.1h.1M219.1 99.6h.1M199.7 105.6h.1M215.3 87.6h.1M203.1 105.7h.1M206.8 102.4h.1M202.5 109.6h.1M193.6 99.6h.1M208 113.4h.1M203 104.8h.1M190.9 104.7h.1M214.1 104.8h.1M222.2 100.1h.1M200.9 108.6h.1M209.8 107.7h.1M225 103.7h.1M212 86h.1M214.9 104.4h.1M197.7 110.2h.1M212.4 98.6h.1M222.6 98.5h.1M210.5 96.4h.1M223.9 110.1h.1M199.7 104h.1M202.7 105.9h.1M218 102.5h.1M232.2 106.7h.1M207 97.2h.1M200.9 99.2h.1M199 116.1h.1M216.1 96.1h.1M215.8 91.4h.1M200.4 99.6h.1M208.3 87.4h.1M214.6 89.9h.1M220.6 96.2h.1M213.8 94.9h.1M185.8 102.7h.1M204.3 88.7h.1M190.8 103h.1M189 105.8h.1M210 86.7h.1M197.2 99.3h.1M222.2 104.5h.1M205.8 112.2h.1M214.8 93.4h.1M215.9 83.1h.1M202.5 97.2h.1M193.1 109.5h.1M198.9 95.4h.1M214.7 81.6h.1M199.1 95.9h.1M220.5 80.8h.1M202.1 100.3h.1M213.1 95.9h.1M199.8 101.7h.1M218.6 96.2h.1M204.9 105.8h.1M214.7 91.1h.1M219.6 97.6h.1M222.1 107h.1M205.8 101.8h.1M221.2 108h.1M218.3 103.4h.1M218.9 97.1h.1M206.4 97.7h.1M208.6 102.7h.1M225.8 107.2h.1M208.3 92h.1M213.3 102.9h.1M201 110.2h.1M216.6 82.7h.1M193 106.9h.1M217.9 103.9h.1M207.1 93.3h.1M206.9 89.4h.1M198.8 113.1h.1M209.5 89.8h.1M198.4 98.8h.1M214.8 106.1h.1M214.6 88.3h.1M207.5 95.6h.1M202 93.2h.1M221.6 107.3h.1M198.6 99h.1M193.1 99.1h.1M216.6 80.3h.1M209.2 111.9h.1M226.1 101.5h.1M198.8 101.6h.1M225.7 103.4h.1M218.5 95.4h.1M205.8 96.2h.1M201.3 101.7h.1M222.4 94.6h.1M192.9 103.8h.1M193.3 110.8h.1M223.4 105.2h.1M227.1 109.8h.1M208.1 100h.1M208 102.7h.1M225.5 108.1h.1M216.7 93.2h.1M201.1 94.9h.1M194.6 108h.1M222.1 85.9h.1M209.6 109.5h.1M199 99.9h.1M222.6 99.3h.1M202.6 104.9h.1M195.1 109.7h.1M203 103.9h.1M215.3 78.6h.1M188.9 104.5h.1M221.6 83.1h.1M210.4 87.7h.1M191.2 108.1h.1M200 110.4h.1M195.7 99.9h.1" stroke="#8cc890" stroke-width="0.9" stroke-linecap="round" stroke-opacity="0.85"/>
<path d="M208.7 110.2 L220 110 L236 108 L240.4 105 L236.2 112.3 L234 127 L232 137.7 L225.6 142 L219.2 139.8 L215 133.5 L210.8 122.9Z" fill="#6cc8d0" fill-opacity="0.12"/>
<path d="M226.6 140h.1M218.5 123.9h.1M219.6 120.4h.1M222.9 118.6h.1M213.3 116.5h.1M238 107.8h.1M222.8 126.3h.1M213.2 126h.1M231.5 112.5h.1M231.8 131.5h.1M223.4 112h.1M224.2 126.2h.1M238.9 110.2h.1M220.4 124.5h.1M213.1 118.9h.1M234.4 117.1h.1M220.9 127.9h.1M230.1 131.4h.1M227.7 125.4h.1M220.8 122.9h.1M223.1 123h.1M216.4 112.1h.1M233.5 114.6h.1M229.1 135.7h.1M212.6 115.9h.1M210.7 116.9h.1M224.7 139.5h.1M216.3 119.5h.1M225.1 138.3h.1M221.3 120.2h.1M223.9 122.7h.1M230.7 115.9h.1M213.3 109.7h.1M233.4 127.1h.1M208.9 112.5h.1M218.8 131h.1M222.6 135.6h.1M210.9 120h.1M237.5 112.7h.1M214.7 127.6h.1M226.5 124.6h.1M233.5 122.5h.1M228.9 126.1h.1M218.4 112.8h.1M210.6 109.5h.1M219.7 117.5h.1M226.2 132.7h.1M213.9 108.2h.1M232.4 115.2h.1M226.2 111.3h.1M226 119.4h.1M230.4 113.8h.1M223.6 119.6h.1M207.9 111.1h.1M231.5 128.7h.1M233 129.5h.1M216 126.2h.1M226.4 134.4h.1M231 136.2h.1M221.2 128.2h.1M226.8 138.5h.1M233 120.5h.1M226.2 135h.1M227.1 115.8h.1M212.8 128.9h.1M222.1 127.5h.1M219 136.4h.1M222.7 112.5h.1M236 119.5h.1M225.8 140.8h.1M212 118.7h.1M235.3 122.6h.1M215.9 114h.1M215.3 127.7h.1M228.3 139h.1M212.2 114.3h.1M218 114.5h.1M207.8 112.1h.1M233.4 124.2h.1M222.1 140.7h.1M215.1 128.6h.1M225.7 119.9h.1M219.4 117.2h.1M213.4 119.1h.1M221.1 120.7h.1M224.3 139.8h.1M221.5 127.1h.1M229.5 125.7h.1M226.3 112.7h.1M220.3 122h.1M230.1 121.7h.1M217.2 121.1h.1M227.2 116.9h.1M215 111.3h.1M227.9 132.9h.1M234.2 116.2h.1M227.4 121.7h.1M216.4 114.6h.1M229.1 116.4h.1M226 117h.1M229.2 113.9h.1M230.7 134.9h.1M230.3 119h.1M231 116.5h.1M231.2 125.5h.1M216 130.3h.1M232.8 124.1h.1M236.4 113.2h.1M228.2 115.4h.1M220.9 137.5h.1M215.9 122.9h.1M213.8 132.8h.1M225.9 118.9h.1M224.3 137.1h.1M229.4 137.5h.1M231 120.6h.1M223.3 139.6h.1M220.5 117.5h.1M224.4 114h.1M238.5 108.4h.1M232.3 126.4h.1M227.7 138.4h.1M224.6 114.5h.1M217.4 112.2h.1M228.8 129.6h.1M230 118.5h.1M227 117.6h.1M229.4 123.7h.1M234.2 107.8h.1M226.2 118.4h.1M215.6 118.9h.1M229.3 136.4h.1M215.1 113.8h.1M218.8 135.9h.1M228.8 123.7h.1M233.6 123.4h.1M228.8 111.1h.1M220.6 126.5h.1M223.4 113.2h.1M237.7 108.2h.1M218.4 116.2h.1M228.3 129.2h.1M222.1 139.8h.1M219 114.5h.1M223.9 126.3h.1M232.2 119.4h.1M216.1 123.8h.1M209.3 113.5h.1M229.6 126.4h.1M223.7 110.1h.1M218 114.5h.1M227.4 115.5h.1M211.7 117.8h.1M232.2 124.2h.1M221.5 121.4h.1M211.5 119.4h.1M227.4 120.9h.1M215.7 135.1h.1M225.3 136.2h.1M213.2 112.9h.1M214.9 127.3h.1M233.6 114.2h.1M231.7 113.6h.1M232.7 121.6h.1M233.9 123.9h.1M223.1 137h.1M236.3 107.9h.1M235.9 112h.1M209.1 113.6h.1M229.6 123.3h.1M218.9 122.6h.1M210.6 117.3h.1M230.4 125.4h.1M229 133.5h.1M230.6 111.5h.1M224.8 123.2h.1M226.9 109.1h.1M214.4 118.7h.1M213.8 111.8h.1M221.8 136.9h.1M209.3 107.3h.1M219.4 117.4h.1M227.3 118.8h.1M227.7 128.4h.1M226.3 132.5h.1M233.2 112h.1M221.7 125.1h.1M229.3 109.5h.1M232.5 116.2h.1M215.4 124.8h.1M213.4 118.3h.1M221.9 125.5h.1M229.4 109.9h.1M225.4 118.6h.1M239 104.8h.1M226.5 110.3h.1M217.1 130.6h.1M211.5 124.6h.1M225.4 109h.1M213.7 119.8h.1M232.1 117h.1M220.5 113.7h.1M230 134.1h.1M224.2 110.7h.1M223.6 135.2h.1M213.2 128.8h.1M221.2 139.3h.1M229.3 120.3h.1M219.2 116.3h.1M216.6 122.9h.1M222.9 112.5h.1M214.3 113.2h.1M231.4 136.8h.1M229.5 113.2h.1M223.5 131.1h.1M232.4 111.3h.1M240.5 105.2h.1M227.6 135.1h.1M231.5 115h.1M219.1 139.3h.1M221.8 119.4h.1M227.5 132.8h.1M220.1 113.9h.1M218.8 114h.1M220.8 113.8h.1M227 114.7h.1M231.4 124.6h.1M209.8 121.6h.1M236 110.3h.1M215.3 118.5h.1M227.7 136.9h.1M223.7 130.7h.1M231.1 110.5h.1M221.1 133h.1M230.4 109.6h.1M233.4 124.4h.1M225 140.6h.1M227.1 129h.1M221.5 137.6h.1M214.3 118.9h.1M234.1 115.8h.1M229.4 138.4h.1M222.9 130h.1M226.8 112.5h.1M222.5 124.7h.1M233 124.3h.1M233.5 122.7h.1M218.3 137.4h.1M220.9 130.1h.1M218.7 132.2h.1M227.3 110.1h.1M221 135.6h.1M227.2 122.2h.1M221.7 128.6h.1M233.1 135h.1M211 129.7h.1M234.8 122.8h.1M217.9 132.9h.1M221.3 126.8h.1M215.6 130.5h.1M227.3 119.1h.1M216.3 119.9h.1M233.6 111.9h.1M225.9 126.9h.1M223.7 129.1h.1M215.2 129.3h.1M231.8 130.3h.1M227.9 132.2h.1M222.1 137.8h.1M234.5 108.8h.1M217.1 121.8h.1M234.7 114.6h.1M229.6 131.4h.1M234.9 109.6h.1M219.2 129.2h.1M223 126.2h.1M218.5 111.2h.1M225.1 118.9h.1M218.4 130.6h.1M229.2 129.8h.1M218.7 114.8h.1M226.4 137h.1M231.5 135.7h.1M226.1 134.3h.1M232.4 109.5h.1M228.6 138.8h.1M219.5 114.4h.1M221.6 140.7h.1M233.3 113.3h.1M226.8 137.8h.1M216.2 128h.1M219.7 126.2h.1M229.9 126.2h.1M230.2 125.4h.1M222.8 125.3h.1M218.8 123h.1M216.6 129.6h.1M218.9 127.5h.1M223.9 118.7h.1M230.9 123.5h.1M226.3 140.3h.1M228.4 114.4h.1M230 129.6h.1M215.8 125.6h.1M211.9 110.3h.1M232.3 117h.1M222.7 128.7h.1M220.6 130.6h.1M230.1 115.3h.1M222 113.6h.1M222.5 118.3h.1M229.7 116.1h.1M214.4 125.2h.1M212.7 115.7h.1M225 115.3h.1M234.5 118.2h.1M211.5 114.1h.1M217.1 116.7h.1M222.1 115.5h.1M225.4 138h.1M235.1 109h.1M212.4 125.4h.1M217.5 129.9h.1M224.1 130.2h.1M217.9 118.4h.1M220.2 139.2h.1M214.5 111.5h.1M229.8 127.8h.1M220.5 116.2h.1M222.3 131.2h.1M216.5 117.8h.1M235.3 118.1h.1M223.2 132.1h.1M222.2 123.8h.1M221.6 122.6h.1M235.8 117.1h.1M233.3 113.5h.1M212 121.2h.1M228 114h.1M226.5 131.9h.1M233.6 117.3h.1M221.4 129.6h.1M234.2 109.5h.1M225.1 112.9h.1M230.8 109.7h.1M225.8 119.1h.1M230.4 108.5h.1M214.2 115.3h.1M227.6 110.9h.1M211.8 109.6h.1M231.9 133.6h.1M230.9 136.2h.1M231.1 108h.1M228.6 109.5h.1M233.3 113.2h.1M223.6 112.1h.1M229.8 120.9h.1M217.1 119.4h.1M213.3 116h.1M226.5 126.6h.1M225.8 139.2h.1M239.9 107.6h.1M214.8 112.6h.1M229.8 134.5h.1M222.8 124.9h.1M209.1 117.6h.1M220.1 122.7h.1M223.7 117.2h.1M233.3 112.9h.1M222 137.6h.1M223 128.9h.1M236.6 114.4h.1M215.4 129.2h.1M215.7 120.2h.1M223.2 121h.1M218.4 121.8h.1M226.4 134.4h.1M233.1 114.4h.1M217.6 121.7h.1M222.5 109.8h.1M226.9 124.4h.1M225 139.2h.1M225.4 113.8h.1M227.6 131.6h.1M211.8 121h.1M232 130.6h.1M232.8 113.5h.1M214.6 123.3h.1M233.1 126.4h.1M221.2 116.3h.1M225.3 137.5h.1M214.2 126h.1M218.4 126h.1M230 116h.1M222.7 139.8h.1" stroke="#6cc8d0" stroke-width="0.9" stroke-linecap="round" stroke-opacity="0.85"/>
<path d="M228 32 L234 33 L240 38 L241 43 L237 42 L232 37Z" fill="#a060b0" fill-opacity="0.15"/>
<path d="M232.5 37h.1M235.9 38.3h.1M236.5 39.6h.1M233.4 32.8h.1M234.8 42.2h.1M235.1 36h.1M235.2 40.9h.1M237 37.6h.1M230.1 33.7h.1M239.4 42.3h.1M233.8 37.1h.1M242 38.4h.1M233.1 35.7h.1M236.5 38.3h.1M230.5 34.7h.1M230.9 36.6h.1M232.9 40.3h.1M229.2 32.2h.1M232.2 35.5h.1M233.7 37.5h.1M233.8 30.3h.1M233.9 37.6h.1M236.9 39h.1M235.3 42h.1M239.5 39.7h.1M235.2 33.3h.1M233 34h.1M235.5 37.1h.1M232.5 33.4h.1M237.3 38.2h.1M240.1 42.5h.1M235.9 36.4h.1M232.9 35.4h.1M228.5 35.1h.1" stroke="#a060b0" stroke-width="0.9" stroke-linecap="round" stroke-opacity="0.85"/>
<path d="M144.5 43.5 L148 43 L152 45 L151 50 L146 51.5 L144 48Z" fill="#b080c8" fill-opacity="0.1"/>
<path d="M150.2 49.7h.1M145.5 45h.1M150.1 50.8h.1M149.1 45.7h.1M144.3 45h.1M144.2 48.6h.1M144.7 47.9h.1M145.8 47.6h.1M150.1 46.5h.1M147.8 48.3h.1M143.9 50.9h.1M146.6 55.3h.1M148.1 41.8h.1M143.9 44.4h.1M149.4 48.7h.1M147.1 49.6h.1M150.6 49.3h.1M145.5 49.8h.1M150.9 49.3h.1M145.6 42.6h.1M145 47.4h.1M150.1 45.6h.1M145.7 48.2h.1M144 49.8h.1M146.6 44.5h.1M147.9 47.1h.1M143.2 49.1h.1M146.3 53.4h.1M149.1 46.3h.1M144.6 45.9h.1" stroke="#b080c8" stroke-width="0.9" stroke-linecap="round" stroke-opacity="0.85"/>
<path d="M175.8 45.1h.1M188.4 37.6h.1M168.8 44.6h.1M183.2 36.7h.1M179.6 44.6h.1M183 39.3h.1M189.3 41.2h.1M190.3 42.5h.1M171.2 40.9h.1M167.1 41.7h.1M175 46.4h.1M193.4 40.7h.1M180.5 41.1h.1M178.8 44.1h.1M168.1 43.2h.1M181.7 40.2h.1M171.8 40h.1M172.9 38.6h.1M194.6 40.7h.1M171 47.1h.1M174 45.1h.1M190.6 38.7h.1M168 42.2h.1M181.3 44.9h.1M177.9 37.5h.1M189.8 38.4h.1M195.8 40.8h.1M182.2 38.8h.1M183.6 40.3h.1M179 45.3h.1M192 38.8h.1M169.9 45.4h.1M188.6 38.2h.1M191.3 38.5h.1M166.9 42.5h.1M185.4 37.7h.1M172.3 47.2h.1M173.2 45.1h.1M172.4 39.4h.1M179 45.2h.1" stroke="#e8706a" stroke-width="0.8" stroke-linecap="round" stroke-opacity="0.7"/>
<rect x="182.8" y="25.2" width="22.7" height="6.6" rx="1" fill="#2f4f9f" stroke="#1a2f6f" stroke-width="0.5"/>
<text x="194.2" y="30.4" font-size="5.4" fill="#fff" text-anchor="middle">ILCH_6</text>
<rect x="232" y="23.8" width="22.5" height="7.4" rx="1" fill="#9b4fa8" stroke="#6a2a78" stroke-width="0.5"/>
<text x="243.2" y="29.4" font-size="5.4" fill="#fff" text-anchor="middle">ILCH_7</text>
<rect x="142.3" y="33.2" width="23.1" height="7.4" rx="1" fill="#c08fd0" stroke="#8a5a9a" stroke-width="0.5"/>
<text x="153.9" y="38.8" font-size="5.4" fill="#fff" text-anchor="middle">ILCH_8</text>
<rect x="209.7" y="48.5" width="21.2" height="7" rx="1" fill="#d9ad3c" stroke="#8a6a20" stroke-width="0.5"/>
<text x="220.3" y="53.9" font-size="5.4" fill="#fff" text-anchor="middle">ILCH_2</text>
<rect x="163.8" y="73.3" width="21.6" height="7.7" rx="1" fill="#e05e5e" stroke="#a03030" stroke-width="0.5"/>
<text x="174.6" y="79.1" font-size="5.4" fill="#fff" text-anchor="middle">ILCH_1</text>
<rect x="238.3" y="73.8" width="22.2" height="7.2" rx="1" fill="#5a9e2c" stroke="#3a6a1a" stroke-width="0.5"/>
<text x="249.4" y="79.3" font-size="5.4" fill="#fff" text-anchor="middle">ILCH_3</text>
<rect x="199" y="90" width="22.3" height="7.5" rx="1" fill="#7cc08a" stroke="#4a8a5a" stroke-width="0.5"/>
<text x="210.2" y="95.7" font-size="5.4" fill="#fff" text-anchor="middle">ILCH_4</text>
<rect x="224.5" y="118.7" width="22.7" height="7.3" rx="1" fill="#5bbcc8" stroke="#3a8a95" stroke-width="0.5"/>
<text x="235.8" y="124.2" font-size="5.4" fill="#fff" text-anchor="middle">ILCH_5</text>
<text x="116" y="74.4" font-size="7.2" fill="#222" text-anchor="start">Sort</text>
<path d="M116 78.7 H133" stroke="#222" stroke-width="0.8"/>
<path d="M131.5 76.9 L135.5 78.7 L131.5 80.5 Z" fill="#222"/>
<path d="M144.3 121.2 V143.5 H167.1" fill="none" stroke="#222" stroke-width="0.8"/>
<text x="139.9" y="132.3" font-size="5.5" fill="#333" text-anchor="middle" transform="rotate(-90 139.9 132.3)">UMAP2</text>
<text x="155.8" y="153.2" font-size="5.6" fill="#333" text-anchor="middle">UMAP1</text>
<path d="M306.5 15.4 L316.2 15 L322 19.2 L327.7 23 L331.5 30.8 L335.4 38.5 L336.3 46 L334.4 53.8 L328 57.5 L322 58.5 L316 58 L313.3 57.7 L308.5 56.7 L303.7 52 L300.8 44.2 L299.8 34.6 L300.8 28.8 L303.7 25 L305.6 19.2Z" fill="#b04890" fill-opacity="0.3"/>
<ellipse cx="321.5" cy="63.5" rx="4.8" ry="7.5" fill="#c070a8" fill-opacity="0.2"/>
<path d="M310.5 28.1h.1M317.8 37.9h.1M323.7 30.2h.1M316 34.6h.1M321.4 23.4h.1M319.6 32.2h.1M314.7 26h.1M319.6 25.7h.1M318.4 27.7h.1M315.5 28.7h.1M321.3 21.3h.1M318.5 28.6h.1M317.3 31.5h.1M314.2 29.2h.1M316.8 25.4h.1M317.1 33.2h.1M318.1 37h.1M309.5 31.1h.1M321.9 22.2h.1M315.3 33.9h.1M319.8 26.9h.1M319.7 23.3h.1M323.3 30.7h.1M313.5 32.3h.1M320.4 33.4h.1M310.5 21.8h.1M314.3 29.3h.1M315 31.4h.1M320.6 27.8h.1M323.8 30.1h.1M319.8 26.1h.1M319.8 21.9h.1" stroke="#0d0887" stroke-width="0.9" stroke-linecap="round" stroke-opacity="0.85"/>
<path d="M318.9 31.1h.1M321.6 31.7h.1M319.1 22.2h.1M312.8 32.9h.1M322 23.7h.1M310.4 33.7h.1M318.6 41.2h.1M313.8 48h.1M320.8 24.2h.1M326.9 28h.1M318.9 30.7h.1M315.5 36h.1M323.8 20.7h.1M313.9 21.8h.1M317.9 36.3h.1M314.9 18.9h.1M319.3 31.7h.1M320.2 21.7h.1M316.6 35.4h.1M318.1 24.1h.1M316.4 35.7h.1M316.7 31.9h.1M321.7 29.2h.1M315.5 26.8h.1M319.1 30.4h.1M318.7 24h.1M322.3 23.3h.1M322 30.7h.1M313.7 24.7h.1M324.8 24.9h.1M314.9 28.1h.1M320.2 25h.1M319.4 40.1h.1M325.4 25.5h.1M316.5 28.3h.1M314.4 34.2h.1M323.4 26.6h.1M318 27h.1M321.2 25.5h.1M316 35.8h.1M315.9 32.3h.1M321.5 30.4h.1M315.2 29.7h.1M314.7 30h.1M315.3 20.5h.1M325.5 34.4h.1M316.4 26.8h.1M311.5 29.5h.1M325.3 29.8h.1M318.3 32.7h.1M324 29.3h.1M318.7 31.9h.1M323.7 23.3h.1M318.8 25h.1M311.3 32.2h.1M320.9 18.4h.1M325.4 37.9h.1M315.7 30.1h.1M320.3 26h.1M316.3 32h.1M321.5 22.1h.1M320.7 29.8h.1M317.7 35.3h.1M317.2 25.3h.1M313.4 16.8h.1M322.3 21h.1M323.4 23.3h.1M327.5 30h.1M313.3 24h.1M321.1 31.6h.1" stroke="#380499" stroke-width="0.9" stroke-linecap="round" stroke-opacity="0.85"/>
<path d="M303.5 30.3h.1M317.6 37.8h.1M320.1 25.2h.1M320.9 22.2h.1M321.9 40.8h.1M319.4 24.2h.1M320.6 44.3h.1M322.4 37.9h.1M312.1 48.3h.1M328.6 36.5h.1M305 46.4h.1M308.9 35.1h.1M305 39.2h.1M307.7 34.2h.1M316.7 32.1h.1M323.6 22.5h.1M323.9 32h.1M315.6 22.3h.1M319.3 26.1h.1M330.1 38h.1M317 57h.1M312.6 39.5h.1M322.1 37.3h.1M323.2 23.9h.1M322.3 38.8h.1M320.1 33.8h.1M319.6 17.7h.1M315.4 38.4h.1M314.4 30.9h.1M315.7 27.2h.1M328.1 27.5h.1M316.6 24.9h.1M317.2 27.4h.1M317 36.6h.1M310 29.5h.1M313.7 31.3h.1M311.7 40.3h.1M315.9 27.7h.1M313.6 33.1h.1M315.3 15.5h.1M312.2 25.4h.1M319 18.5h.1M324.6 29.5h.1M317.7 35.4h.1M317 36.7h.1M321.3 25.6h.1M318.3 31.7h.1M320.5 19.2h.1M321.2 35h.1M306.1 28.4h.1M321.7 34.7h.1M324.9 24.9h.1M312.1 36.4h.1M324.9 33.6h.1M313.1 27.4h.1M307.9 29h.1M309.7 38.5h.1M327.6 27.5h.1M317.2 42.4h.1M322.8 21.6h.1M323.2 20.4h.1M317 38.2h.1M312.5 33.3h.1M325.1 24.1h.1M322.8 29.1h.1M313.4 33.9h.1M315 39h.1M311.5 30.1h.1M326.4 37.9h.1M320.9 30h.1M313.3 29.5h.1M322.6 33.3h.1M316.2 54.1h.1M316.7 23h.1M322.7 30.4h.1M315.5 40.3h.1M317.8 32h.1M321.6 39.4h.1M324 25.1h.1M322.9 38.7h.1M326 34.2h.1M315.4 25.7h.1M320.3 28.7h.1M324.8 26.4h.1M328 28.3h.1M318.8 40.1h.1M316.3 30.7h.1M326.4 23.3h.1M321.9 20.7h.1M314 41.2h.1M308.7 35h.1M322.3 36.5h.1M325.7 25.2h.1M317.2 17.3h.1M312.7 26.4h.1M311.7 34.7h.1M315.7 43.6h.1M329.6 29.3h.1M311.7 15.6h.1M317.6 23.2h.1M309.2 34h.1M322.3 31.3h.1M315.4 40.9h.1M311.6 33h.1M318.9 19.3h.1M311.8 30.9h.1M312.8 33.5h.1M302.7 46.8h.1M323 25.5h.1M323.2 36.6h.1M315.1 31.9h.1M326.5 23.2h.1M308.5 19.8h.1M311.4 45h.1M309.6 34.4h.1M321 24.1h.1M316.1 48.1h.1M320.4 25.6h.1M323.5 34.7h.1M306.3 47.7h.1M310.5 32.2h.1M316.8 18.3h.1M323.6 22.1h.1M326.7 31.9h.1M324.8 35.8h.1M320.2 29.7h.1M312.3 29h.1M312.1 32h.1M317.5 18.8h.1M314.9 33.3h.1M319.6 19.6h.1M308.7 51.6h.1M308.4 26.3h.1M324.3 26.4h.1M314.1 25.2h.1M317.5 36.8h.1M319.2 20.9h.1M318.3 23.4h.1M309.1 30.9h.1M322.4 24.3h.1M320.8 27.2h.1M323.4 69.5h.1M317 64.6h.1M325.2 65.4h.1M318.5 63.8h.1M323.1 57h.1M318.3 67.9h.1M321.2 60.5h.1" stroke="#5c01a4" stroke-width="0.9" stroke-linecap="round" stroke-opacity="0.85"/>
<path d="M307.2 20.5h.1M334.2 39.7h.1M312.5 15.8h.1M311.5 28.1h.1M313.6 45.7h.1M313 48.5h.1M318.3 16.6h.1M323.9 35.1h.1M316.7 30h.1M332 39.8h.1M308.1 37.4h.1M320.2 41.1h.1M324.1 27.2h.1M307.4 34.2h.1M305.6 33.8h.1M317.3 45.8h.1M312.8 30.4h.1M315.6 37.2h.1M315.7 29.2h.1M323.7 34.6h.1M323.6 28.5h.1M302 48.9h.1M319.6 34.8h.1M329.2 33.1h.1M305.8 23.7h.1M319.8 41.7h.1M310.3 47.2h.1M303.5 36.9h.1M320.3 23.8h.1M319.5 19h.1M325.5 32.6h.1M325.9 28h.1M325 30.4h.1M315.9 42h.1M320.9 36.7h.1M326.8 38.2h.1M320.7 37.3h.1M321.6 36.8h.1M306.7 20.1h.1M327.4 36.8h.1M325.9 22.6h.1M304.3 26.6h.1M307.5 16.6h.1M311.1 49.1h.1M314.3 21.7h.1M312.3 50h.1M313.8 24.6h.1M322.5 39.5h.1M302.9 31.8h.1M319 42.7h.1M307.7 48.3h.1M314.5 25h.1M305.9 41h.1M314.9 16.5h.1M315 23.7h.1M312.1 43.6h.1M317.5 23h.1M311.8 35.4h.1M327.2 31.3h.1M311.8 24.8h.1M314.2 32.4h.1M320 36.1h.1M307.2 28.1h.1M324.9 35.1h.1M320.9 52.3h.1M314.7 18.2h.1M307.9 20.9h.1M314.1 43.6h.1M316.3 47.4h.1M324.9 31.8h.1M323 19.9h.1M319.6 47.7h.1M307.5 38.8h.1M317.9 40.8h.1M309.8 37.4h.1M305.3 27h.1M309.2 28.5h.1M311.8 30.4h.1M313.3 24.9h.1M328.5 32.9h.1M307 16.2h.1M318.9 39.9h.1M324.6 34.5h.1M313.9 49.6h.1M322.1 34.9h.1M306.3 43.1h.1M327.7 32.7h.1M309.9 28.3h.1M309.9 17.7h.1M320.9 43.6h.1M320 35.5h.1M305.5 44.9h.1M306.9 35.3h.1M313.1 37.3h.1M311.4 40.7h.1M309.3 26.1h.1M314.7 24h.1M328.3 31.1h.1M310.4 19.7h.1M304.4 27.3h.1M306.5 18.8h.1M319 33.8h.1M316.8 33.7h.1M310.4 31.3h.1M305.1 48.6h.1M322.4 37.1h.1M328.2 24.5h.1M302 31.3h.1M331.2 34.2h.1M314.8 47.5h.1M320 37.2h.1M305.1 45.3h.1M311.5 41.7h.1M313 25.3h.1M327.7 41.8h.1M327.1 32.3h.1M316.9 31h.1M326.9 35.8h.1M321.2 32.2h.1M310.5 30.4h.1M331.5 34.2h.1M326.9 23.8h.1M321.6 25.6h.1M310.5 31.1h.1M329.8 29.7h.1M308.9 32.3h.1M306.5 45.8h.1M329 39.6h.1M314.3 40.4h.1M332.2 31.8h.1M322.5 36.1h.1M321.8 37.1h.1M312.3 29.1h.1M302.2 39.6h.1M310.6 40.9h.1M317.4 18.4h.1M326.3 25.7h.1M308.9 32.8h.1M318.2 16.7h.1M320.6 39.1h.1M316.9 18.7h.1M322.8 22.2h.1M321.3 29h.1M309 45.8h.1M324.1 42.6h.1M329.1 35.9h.1M330.4 38.6h.1M306.9 53.1h.1M315.2 32.3h.1M312.3 41.4h.1M308.8 33.8h.1M325 27.1h.1M334.2 47.2h.1M304.4 47.3h.1M314.8 52.5h.1M311 36.8h.1M318.3 50.8h.1M317.2 29.3h.1M312.3 24.3h.1M320.3 48.9h.1M324.3 45.7h.1M314.1 38h.1M312 44h.1M324.9 34.5h.1M320 53.2h.1M326.4 28.6h.1M308.9 38.4h.1M307.6 22.1h.1M317.1 16.7h.1M310.4 28.5h.1M317 40.3h.1M323.7 33.5h.1M315.5 45.9h.1M314.2 20.5h.1M320.6 26.1h.1M329.5 29.9h.1M327.5 35.5h.1M314.2 41.7h.1M324.2 37.8h.1M323.3 70.2h.1M321.9 58.1h.1M323.4 57.9h.1M320.5 58.2h.1M323.9 65.5h.1M319 65.1h.1M324.4 59.1h.1M324.5 62h.1M318.8 63.6h.1M319.2 60.9h.1M320.2 60.2h.1M324.7 59.1h.1M317.2 61.4h.1M318 62.5h.1M320.1 58.7h.1M323.8 65.5h.1" stroke="#7c06a6" stroke-width="0.9" stroke-linecap="round" stroke-opacity="0.85"/>
<path d="M334.2 42.5h.1M318.3 43.3h.1M310.8 39.5h.1M323.4 41.2h.1M305.4 52.2h.1M305.5 46.5h.1M310.7 37.4h.1M309.4 24.4h.1M315.8 47.3h.1M307.5 52.3h.1M306.4 19.8h.1M325.8 33.4h.1M309.5 36.1h.1M310.6 52.4h.1M330 36.2h.1M310.9 43.2h.1M318.8 32.5h.1M318.2 56.4h.1M309.3 31.2h.1M310.9 39.8h.1M313.9 52.8h.1M324.7 46.6h.1M303.6 44.3h.1M323.7 54.4h.1M329.4 56.8h.1M323.9 37.1h.1M303.9 44.2h.1M304.6 31.3h.1M324.6 44.8h.1M315 16.4h.1M301.2 31.8h.1M319.8 50.7h.1M315.8 30.2h.1M322.8 36.4h.1M330.6 44.8h.1M311.4 16.6h.1M311.4 20.3h.1M314.6 50.1h.1M320.5 42.1h.1M307.2 46.7h.1M304.7 22.3h.1M313.6 16.4h.1M309.7 23.7h.1M303.1 45.7h.1M335.8 43.2h.1M310.5 20.8h.1M305.2 47.3h.1M328.7 27.4h.1M307.9 44.9h.1M318.8 42.8h.1M312.1 34.3h.1M324.6 36.7h.1M311.7 47.5h.1M311.2 18h.1M318.7 35.5h.1M312.9 48.1h.1M323.1 20h.1M312.8 28.5h.1M320.4 40.4h.1M302.4 48.6h.1M312.5 38.9h.1M314.9 18.1h.1M314 56.5h.1M309.7 35h.1M304.3 41.1h.1M314.8 56.3h.1M305.4 25.7h.1M319.1 48.2h.1M310.9 29.7h.1M313.5 55.3h.1M319 48.4h.1M323.2 48.3h.1M313 54.2h.1M308.1 35.9h.1M314.6 38.1h.1M333.8 39.7h.1M306.7 41.6h.1M329.7 27.9h.1M321.9 34.1h.1M307.3 27.4h.1M315.3 45.4h.1M307.9 51h.1M330.4 31h.1M324.9 43.9h.1M319.2 28.9h.1M320.1 44.4h.1M311.2 27.2h.1M327.5 29.6h.1M329.7 42.4h.1M332.5 41.5h.1M332.2 32.2h.1M312.6 19h.1M312.3 39.3h.1M332.7 39.6h.1M313.6 43.8h.1M328.4 36.9h.1M309.7 45.9h.1M328.4 40.8h.1M319.8 50.6h.1M317.6 47h.1M327.5 27.3h.1M327.7 35.6h.1M309.3 40.4h.1M311.4 45.4h.1M302.9 33.3h.1M328.2 44.1h.1M310.2 46.1h.1M325 32.7h.1M328.6 31.1h.1M328.8 30.1h.1M317.7 48.3h.1M311.4 35.4h.1M311.9 21.4h.1M319.6 44h.1M314.5 17.2h.1M309.7 51.3h.1M327.2 39.8h.1M318.8 44.8h.1M319.5 44.3h.1M304.8 40.9h.1M314.8 49.2h.1M304.1 48.9h.1M322.7 57.4h.1M320 20.4h.1M332.4 36.9h.1M312.3 49.6h.1M327.8 42.8h.1M312.9 53.9h.1M302.6 29.6h.1M308.7 23.8h.1M306.7 24h.1M308.5 22.5h.1M316.2 57.2h.1M306.8 28.5h.1M317.6 54.4h.1M312 21.5h.1M312.7 15h.1M303.1 32.4h.1M312.7 48.7h.1M319.5 47.2h.1M332.2 33h.1M309.2 47.7h.1M320.7 20.4h.1M327.4 53.9h.1M318.5 49h.1M309.2 30.5h.1M302.8 49.4h.1M308.9 34.4h.1M316.9 17.4h.1M301.5 29.4h.1M319.6 42.8h.1M316 43.4h.1M328.3 33.8h.1M311.9 53.3h.1M301.8 39.2h.1M315.6 43.6h.1M314.3 50.3h.1M313.8 50.1h.1M312.9 18.1h.1M304.8 46.5h.1M324.6 55.8h.1M326.7 22.4h.1M305 50.2h.1M308.8 28.4h.1M324.2 36.9h.1M312.2 53.9h.1M310.7 27.1h.1M311.9 33h.1M327.9 36.7h.1M315.3 56.7h.1M306.2 23.9h.1M310.4 35.1h.1M312.1 27h.1M312.9 45.8h.1M325.5 46h.1M319.9 58.4h.1M302.1 41h.1M309.4 48.6h.1M312.8 55.9h.1M315.7 40.6h.1M319.7 39.2h.1M315.3 54.2h.1M322.8 55.2h.1M310.3 20.7h.1M331.8 48.1h.1M306 25.5h.1M308.2 47.6h.1M328 41.9h.1M313.4 18.2h.1M316.2 46.7h.1M303.5 39.7h.1M313.1 53.9h.1M328.3 25.8h.1M303 32.5h.1M319.4 55.7h.1M333.1 41.2h.1M329 31.6h.1M307.9 55.7h.1M326.7 26.8h.1M311.7 17.5h.1M310 39.8h.1M306.6 44.5h.1M303.5 46.6h.1M320.8 37.6h.1M312.2 43.5h.1M312 51.4h.1M329.4 39.9h.1M326.7 55.2h.1M301.7 38.3h.1M332.2 51h.1M301.7 42.5h.1M329.7 40h.1M322 28.9h.1M335.9 43.7h.1M327.8 29.8h.1M311.3 16.2h.1M301.9 29.3h.1M317 44.1h.1M307.1 44.9h.1M325.3 36.6h.1M327.4 34.3h.1M314.9 44.8h.1M313.1 35.7h.1M310.3 56.8h.1M308.3 26.5h.1M315.7 48.3h.1M309.1 29.5h.1M309.2 49.6h.1M302.8 33.5h.1M327.5 26.4h.1M325.1 23.7h.1M310.2 20.2h.1M323.3 46h.1M324.3 57.6h.1M306.8 39.5h.1M317.8 43.7h.1M309.7 46.2h.1M317.6 40.4h.1M305.8 34h.1M323.7 62h.1M324.2 63.4h.1M318.3 60.4h.1M317.3 62.7h.1M320.5 69.5h.1M318 64.9h.1M326 61.7h.1M317.8 61.4h.1M319.1 66.4h.1M324.9 61.4h.1M324.4 57.9h.1M324.8 61.6h.1M318.7 60.1h.1M322.7 56.6h.1M321.9 58.5h.1M325.4 63.3h.1M324 69.6h.1M318.2 62h.1M319.5 64.1h.1M316.8 64.7h.1M323 58.5h.1M319.2 67.8h.1M318.6 68.1h.1M324.7 63.1h.1M324.5 59.2h.1M319.9 64.5h.1M324.3 69h.1M318.2 63.5h.1M319.2 64.6h.1M318.2 64.1h.1M321.3 69.1h.1" stroke="#9a169d" stroke-width="0.9" stroke-linecap="round" stroke-opacity="0.85"/>
<path d="M318.2 45.3h.1M325.6 43.9h.1M316.8 44h.1M307.3 47h.1M307.8 49.6h.1M300.8 40.2h.1M334.1 46.2h.1M307.2 44.6h.1M327.5 32.9h.1M310 40.7h.1M312.5 41.8h.1M309.5 43.2h.1M307.9 44.8h.1M313 55.6h.1M314.2 54.1h.1M312.8 56.2h.1M333 45.9h.1M315.2 41.2h.1M307.6 27.1h.1M303.9 50.1h.1M311.7 49.6h.1M327.7 42.5h.1M320.9 45.7h.1M319.4 45.2h.1M305.7 36.7h.1M306.6 51.1h.1M317 54.2h.1M306.3 41h.1M307.7 22.5h.1M324.1 52.5h.1M330.6 36.7h.1M310 44.4h.1M325.6 43.4h.1M307.8 49.9h.1M323.7 42.2h.1M331.9 44h.1M303.2 41.5h.1M303.7 48.8h.1M318.7 47.4h.1M312.4 47.4h.1M309.5 46.9h.1M331.3 35.6h.1M330.5 40.8h.1M331.9 37h.1M323.5 49.9h.1M312.8 22.5h.1M330 46.5h.1M308.5 26h.1M328.4 34.5h.1M312.4 28.2h.1M308.8 32.2h.1M327.8 43.1h.1M318.4 36.4h.1M329.5 40.4h.1M310.3 54.2h.1M307 40.5h.1M310.1 42.3h.1M306.9 23.8h.1M330.2 32h.1M317 53.9h.1M312 41.2h.1M328.6 36.9h.1M329.2 46.7h.1M319 44.1h.1M317.6 59.1h.1M334.2 41.5h.1M311 32.5h.1M310.2 40.8h.1M309.6 33.9h.1M310.7 34.3h.1M300.7 43.8h.1M308.2 49.3h.1M326.2 44.5h.1M329.3 27.4h.1M309.1 40.1h.1M310.6 48.9h.1M306.8 23.1h.1M328.2 45.9h.1M317.6 17.2h.1M313.3 56.3h.1M309.7 53.6h.1M307.3 24.3h.1M300.6 32.7h.1M306.5 52.8h.1M307.3 35.4h.1M308.8 32.9h.1M330.2 32.2h.1M330.6 30.2h.1M332.3 38h.1M322 42.4h.1M308.3 34.8h.1M313.7 50.5h.1M304.8 19.8h.1M310.3 46.1h.1M318.6 20.9h.1M330.4 41.9h.1M313.3 52.6h.1M318.9 47.2h.1M315.3 51.5h.1M313.7 53.8h.1M314 52.2h.1M315.2 53h.1M306.5 39.6h.1M303.7 42.7h.1M313.2 39.3h.1M324.3 44.9h.1M331.6 33h.1M318.4 55.9h.1M302 31.7h.1M307.7 17h.1M308.1 39.3h.1M308.5 40.2h.1M309.8 55.9h.1M317.9 47h.1M314.8 48.5h.1M308.3 37.1h.1M303.3 28.2h.1M316.2 39.6h.1M311.5 57.2h.1M314.6 41h.1M310.2 56.8h.1M302 37.4h.1M311.6 48.5h.1M323.6 43.2h.1M323.5 50.2h.1M312.7 50.4h.1M311.8 31.5h.1M333 39.6h.1M330.7 43h.1M333.1 40.1h.1M306.3 41.3h.1M332.4 36.2h.1M307 35.2h.1M302.1 35.4h.1M306.1 45.5h.1M331.3 41.5h.1M325.1 46.7h.1M309.8 17.1h.1M325 41.7h.1M320.2 42.8h.1M333 42.8h.1M320.9 36.1h.1M315.3 51.2h.1M321.7 58.1h.1M312.6 41.8h.1M300.4 41.4h.1M326.5 43.4h.1M332.7 52.3h.1M312.8 23.2h.1M321.7 49.8h.1M322.8 48.4h.1M301 40.7h.1M324.3 38h.1M316.5 49.7h.1M318.5 53.6h.1M334.5 50.4h.1M326.8 54.3h.1M321.2 41.2h.1M316.6 41.2h.1M305 29.9h.1M305.5 21.2h.1M314.5 39.4h.1M306.2 19.8h.1M310.6 45.8h.1M330.8 32.6h.1M318.4 51.8h.1M312.1 51h.1M318.9 46.6h.1M305.9 40.4h.1M307.4 20.2h.1M328.6 37.1h.1M332.4 43.6h.1M311.4 49.2h.1M311.4 51.8h.1M305.1 52.4h.1M307.5 29.3h.1M318.6 42.5h.1M315.5 44.6h.1M306.3 19.4h.1M315.8 44.4h.1M302.6 48.1h.1M330.9 43h.1M306.6 21.3h.1M310.5 29.1h.1M316.1 55.6h.1M321 57.8h.1M323.5 44.9h.1M330.7 35.8h.1M319.7 55.1h.1M306.1 39.6h.1M305.9 32.2h.1M307.1 52.1h.1M319.8 40.3h.1M318 45.7h.1M312.8 40.8h.1M306.5 52.9h.1M306.8 15.9h.1M327.9 36.1h.1M322.5 38.9h.1M318.9 41.7h.1M326.9 47.2h.1M323.8 48.1h.1M304.2 51.3h.1M320 51.2h.1M315.6 57h.1M316.9 50.3h.1M323.2 44.1h.1M302.1 29.8h.1M327 39.5h.1M328 42.4h.1M307.9 36.7h.1M301.6 30.1h.1M316.3 45.2h.1M307.6 29h.1M332.9 45.5h.1M322.8 53.8h.1M305 44h.1M317.2 38.5h.1M310.1 50.7h.1M321.2 59h.1M333 44.7h.1M316.8 16.2h.1M305.2 50.9h.1M309.3 42.8h.1M305 53.6h.1M331.6 42.5h.1M311.6 46.4h.1M319.8 50.9h.1M311.8 56.7h.1M323 49.7h.1M317.9 45.6h.1M322 52.5h.1M306.2 37.2h.1M312.4 54.9h.1M317.7 18.1h.1M303.1 45.1h.1M314.5 49.9h.1M320.9 53.3h.1M330.5 42.7h.1M330.4 29.7h.1M321.1 58.6h.1M330.9 50.4h.1M304.5 42.3h.1M309.7 16.4h.1M303.8 44.6h.1M325.4 49.3h.1M324.6 44.3h.1M320 55.7h.1M320.5 56.9h.1M321.2 68.4h.1M321.5 68.9h.1M321.7 56.7h.1M317.2 62.4h.1M320.6 57h.1M325.3 62.7h.1M320.8 58.8h.1M319.9 58.5h.1M320.4 61.3h.1M324.4 63.5h.1M322.9 66.8h.1M324.4 61.8h.1M319.6 63.8h.1M320.5 57.7h.1M318.7 58.9h.1M325.9 60.8h.1M318.6 60.4h.1M321.5 58.1h.1M317.9 66.4h.1M319.8 66.2h.1M319.1 67.9h.1M326.2 64h.1M320 57.7h.1M319.4 66.6h.1M320.1 57.1h.1M319.2 66.4h.1M318.5 58.5h.1M317.8 68.1h.1M320 60.2h.1M324.3 69.2h.1M320.1 58.9h.1M322.6 69.5h.1M324.3 61.5h.1M323.7 64.6h.1M323.3 68.9h.1M322.1 68.4h.1M323.5 70h.1M319.2 57.5h.1M326.2 63.4h.1M319.8 70.3h.1M319.9 58.3h.1M319.7 59.6h.1M324.6 60.2h.1" stroke="#b52e8c" stroke-width="0.9" stroke-linecap="round" stroke-opacity="0.85"/>
<path d="M323.3 46.8h.1M311 52h.1M335.8 49.7h.1M332.7 47.1h.1M331.3 49.9h.1M306.7 17.5h.1M306.3 41.3h.1M307.3 47.7h.1M314.9 49.3h.1M327.3 53h.1M328.3 43h.1M328.9 49.3h.1M334.7 51.1h.1M329.9 56.7h.1M312.1 38.9h.1M326.4 57.5h.1M307.6 22h.1M321.4 49.9h.1M310.2 55.7h.1M335.2 40h.1M313.3 57.5h.1M331.3 50.4h.1M326.4 46.1h.1M330.1 52.2h.1M320.2 57.6h.1M303.8 44.5h.1M321.5 54.4h.1M309.6 50.4h.1M310.5 52.9h.1M326.3 52.8h.1M325.7 53.7h.1M310.6 53.1h.1M304 52.4h.1M321.2 53.3h.1M310.4 46.6h.1M334 49.8h.1M326.9 47.3h.1M312.5 38h.1M305 23.3h.1M310.8 44.9h.1M321.9 52.8h.1M317 51.5h.1M330.3 36.4h.1M305.8 22.9h.1M311.6 55.9h.1M318.1 52.3h.1M328.7 47.9h.1M332.5 33.5h.1M307.7 31.1h.1M329.5 39.2h.1M335.6 43.1h.1M303.7 28.5h.1M334.9 44.2h.1M306.6 23.2h.1M332.2 54.8h.1M325.7 53.1h.1M317.5 55.7h.1M330.5 55.5h.1M323.4 46.8h.1M304.6 31h.1M317 49.7h.1M303.3 40.6h.1M311.3 48.2h.1M323.7 45.6h.1M334 37h.1M307.7 55.1h.1M330.4 38.7h.1M322.9 51.8h.1M324.3 53.9h.1M335.8 50.7h.1M330.8 51.5h.1M331.5 42.5h.1M330.7 49.5h.1M331 51.1h.1M304.2 24.3h.1M332.8 52.9h.1M329.1 55h.1M309.2 36.6h.1M327.3 52.3h.1M334.5 49.9h.1M335.1 44.7h.1M326 54.4h.1M328.7 41.3h.1M309.4 34.3h.1M331 41.7h.1M311 50.4h.1M326.8 52.4h.1M299.5 35.4h.1M327.3 42h.1M303 40.6h.1M328.6 52.3h.1M326.2 56.9h.1M329.7 46.1h.1M323.6 52.6h.1M320.6 50.6h.1M323.4 45.3h.1M330.9 49.7h.1M302.9 43.4h.1M317.2 44.4h.1M332.9 43.2h.1M304.6 50.1h.1M324.5 48h.1M331.6 40.3h.1M328.8 39.4h.1M312.4 57h.1M318.1 45.3h.1M304.7 42h.1M318.9 54h.1M318.6 47.6h.1M317.3 40.8h.1M317.2 52h.1M305.7 44.6h.1M328.8 56.2h.1M299.5 42.1h.1M332.4 45.5h.1M332.1 38.9h.1M306.4 50.3h.1M321.7 54.9h.1M308.6 51h.1M326.6 44.3h.1M323.6 54.3h.1M321.2 52.5h.1M326.5 46.7h.1M331.8 34.8h.1M307.4 44.1h.1M305.8 51.3h.1M326.8 29.2h.1M314.8 49.4h.1M308.2 53.8h.1M326.2 51.3h.1M326.3 53.3h.1M300 39h.1M326.9 49h.1M310 42h.1M310.5 47.3h.1M326.8 46.7h.1M325.9 56.4h.1M319.3 44.8h.1M304.1 38.6h.1M328.2 45.6h.1M300.9 42.3h.1M327.5 39.7h.1M330.3 52.6h.1M311.2 47.8h.1M319.5 57.7h.1M333 43.8h.1M324.8 44.9h.1M306.6 23.4h.1M322.3 50.5h.1M320.4 53.4h.1M329.7 50.5h.1M324.9 67.7h.1M318.6 61h.1M321.9 58h.1M319.9 57.6h.1M318.6 60.5h.1M322.9 67.9h.1M320.1 68.2h.1M322.1 58.6h.1M325.6 64.7h.1M320 67.2h.1M317.8 65.6h.1M317.8 66.5h.1M317 62.8h.1M323.2 67.5h.1M322.6 67.3h.1M323 68.7h.1M325.1 58.7h.1M318 66.7h.1M323.5 62.1h.1M322.3 70.4h.1M324.3 65.1h.1M321.9 56.4h.1M317.8 60.1h.1M324 67.6h.1M321.5 70.2h.1M324.4 66.2h.1M319.7 59.8h.1" stroke="#cc4778" stroke-width="0.9" stroke-linecap="round" stroke-opacity="0.85"/>
<path d="M327.9 42.9h.1M299.3 33.2h.1M325.6 51.8h.1M328.5 49.7h.1M328.2 53.6h.1M301.4 38.2h.1M312.8 52h.1M334.7 36.4h.1M331.6 43h.1M330.6 44.7h.1M313.4 52.2h.1M329.5 55.7h.1M333.2 54h.1M325.9 50.3h.1M333.3 36.4h.1M319.3 44.9h.1M307.6 47.9h.1M320.7 56h.1M327.5 54.1h.1M333.4 53h.1M329.1 54.6h.1M305.8 16.8h.1M329 52h.1M331.1 51h.1M331 44.7h.1M317.9 51.5h.1M330.7 44.1h.1M327.1 42.1h.1M307.3 38.9h.1M329.3 46.4h.1M324.5 53.1h.1M332.2 41.9h.1M331.3 38.4h.1M326.4 52.3h.1M322.5 52.9h.1M327 51.5h.1M334.6 50.4h.1M330.4 55.4h.1M320.3 53.5h.1M329 40.2h.1M335.4 40.5h.1M327.7 48.3h.1M319.5 53.1h.1M324.3 57.9h.1M314 52.1h.1M330.2 40.4h.1M325.8 54.1h.1M302.8 48.1h.1M327.8 43h.1M332.3 41.7h.1M322.8 56.2h.1M331 52.8h.1M333.9 50.6h.1M329.3 54.7h.1M322.3 47.5h.1M335.2 45.8h.1M329.8 49.3h.1M333.8 46.5h.1M329.3 51h.1M325.8 53.4h.1M324 50.1h.1M328.2 46.1h.1M328.1 37h.1M329.7 55.6h.1M327.8 56.1h.1M304.9 37.8h.1M311.4 46.1h.1M317.3 54.6h.1M323.8 49.1h.1M330.3 41.7h.1M326.8 57.7h.1M325.3 53.3h.1M331.9 43.8h.1M324.3 48.5h.1M328.1 56.3h.1M334.5 48.2h.1M335.1 47.2h.1M329.2 50.7h.1M309.5 55.3h.1M328.7 49.7h.1M319.3 59.3h.1M323.7 62.2h.1M320.9 68.1h.1M324.3 69.5h.1M324.7 61.9h.1M323.1 57.2h.1M319.6 58.3h.1M317.8 60.2h.1M322.5 56.2h.1M325.1 59.6h.1M321.9 57.8h.1M318 68.3h.1M319.2 61.8h.1M320 57.3h.1M326.2 64.7h.1M318.8 69.3h.1" stroke="#dd5f65" stroke-width="0.9" stroke-linecap="round" stroke-opacity="0.85"/>
<path d="M324.1 53.8h.1M302.6 40.5h.1M325.2 49h.1M332.2 49.1h.1M334.7 52.1h.1M327.7 49.1h.1M334.8 40.7h.1M320.7 58h.1M331.9 49.1h.1M330.7 42.2h.1M316.9 53.2h.1M313 49.6h.1M329.4 55.5h.1M329.8 56.1h.1M314.3 57.7h.1M328.9 49.1h.1M329.5 53.3h.1M331.8 48.7h.1M327.3 54.4h.1M330.1 46.8h.1M331.8 54.1h.1M315.3 56.8h.1M332.8 51h.1M302.1 46h.1M333.7 49.8h.1M318.4 62.7h.1M321.6 58.4h.1M324.9 65.5h.1M321 56.9h.1M322.7 59.8h.1M319.4 65.3h.1" stroke="#ec7952" stroke-width="0.9" stroke-linecap="round" stroke-opacity="0.85"/>
<path d="M327.1 47.2h.1M332.2 50h.1M319.8 56.6h.1M323.8 64.7h.1M319.3 63.1h.1" stroke="#f79540" stroke-width="0.9" stroke-linecap="round" stroke-opacity="0.85"/>
<path d="M299.3 29.6h.1" stroke="#7c06a6" stroke-width="0.9" stroke-linecap="round" stroke-opacity="0.85"/>
<path d="M288.7 30.8h.1M288 30h.1M299.7 29.8h.1M298.5 29.1h.1M299.8 30.5h.1" stroke="#9a169d" stroke-width="0.9" stroke-linecap="round" stroke-opacity="0.85"/>
<path d="M288.1 28h.1M288.9 29.9h.1M288.2 29.5h.1M299.4 29.6h.1M299.7 30.6h.1" stroke="#b52e8c" stroke-width="0.9" stroke-linecap="round" stroke-opacity="0.85"/>
<path d="M289.2 28.4h.1M290 28.6h.1M290.3 28.6h.1M287.7 29.1h.1M287.6 28.8h.1M300.5 26.9h.1M299.2 29.3h.1" stroke="#cc4778" stroke-width="0.9" stroke-linecap="round" stroke-opacity="0.85"/>
<path d="M289.1 28.7h.1M297.9 29.8h.1M302.1 29.6h.1" stroke="#dd5f65" stroke-width="0.9" stroke-linecap="round" stroke-opacity="0.85"/>
<path d="M287.6 27.9h.1" stroke="#ec7952" stroke-width="0.9" stroke-linecap="round" stroke-opacity="0.85"/>
<path d="M307.8 87.3 L317.5 86.2 L326.2 92.7 L330.5 98 L334.8 106.7 L337 115.4 L334.8 121.8 L328.3 126.2 L322 128.5 L316 128 L311 126.3 L304.6 121.8 L300.2 113.2 L299.2 104.6 L302.4 98 L306.7 91.6Z" fill="#b04890" fill-opacity="0.3"/>
<ellipse cx="321.6" cy="134.5" rx="5" ry="8.3" fill="#c070a8" fill-opacity="0.2"/>
<path d="M320.5 98.5h.1M319.7 101.5h.1M313.4 97.2h.1M317.9 98.6h.1M322.7 99.1h.1M318.5 103.6h.1M314.8 96.7h.1M320.9 104.3h.1M318.9 107h.1M317.8 94.1h.1M314 105.1h.1M318.4 104h.1M318.3 97.5h.1M318.3 94.4h.1M320.7 92.9h.1M311.3 95.6h.1M320.7 93.8h.1M317.3 94h.1M320.6 91.8h.1M309.7 98.5h.1M316 103.3h.1M314.9 95.4h.1M321 105.9h.1M324.3 98.9h.1M317.4 97.3h.1M317.2 103.8h.1M320.6 102.6h.1M319.4 103.5h.1M318.7 138.4h.1" stroke="#0d0887" stroke-width="0.9" stroke-linecap="round" stroke-opacity="0.85"/>
<path d="M317.1 96.2h.1M319.7 99h.1M316.6 96.8h.1M316.7 87h.1M321.8 99.8h.1M311 99.1h.1M320.7 101.9h.1M315.8 104.5h.1M315.7 108.9h.1M319.8 89.1h.1M313.4 104.5h.1M310.2 90.4h.1M319.1 104.1h.1M315.5 111.9h.1M313.8 87.2h.1M310.2 94.6h.1M313.2 97h.1M316.3 104.8h.1M317.3 87.6h.1M323.4 100.8h.1M317.2 104.4h.1M315.8 111.3h.1M316.2 103.8h.1M316 96h.1M317.5 101h.1M313 103.9h.1M323.7 91.6h.1M313.2 100.9h.1M314.1 88.3h.1M314.3 92.6h.1M324 99.5h.1M323.4 105.1h.1M318.2 109.8h.1M316 102.4h.1M322.3 102.3h.1M315.8 107.2h.1M320.9 90.1h.1M320.9 93.6h.1M323.9 97.2h.1M319.9 103.9h.1M320.2 95.9h.1M321.4 92.2h.1M322.9 98.5h.1M313.5 107.1h.1M315.7 100.3h.1M322.5 102.6h.1M314.7 88h.1M325 103h.1M319.9 94.5h.1M324.7 102.3h.1M307.7 110h.1M320.5 93.5h.1M312.6 102h.1M319.4 108.3h.1M315.5 93.7h.1M311.4 110.6h.1M318.1 99.6h.1M316.6 98.2h.1M320 100.6h.1M314.8 88.7h.1M319.4 99.4h.1M313.5 111.2h.1M318.3 95.3h.1M316.4 105.2h.1M314.7 99.3h.1M320.3 97h.1M313.4 105.1h.1" stroke="#380499" stroke-width="0.9" stroke-linecap="round" stroke-opacity="0.85"/>
<path d="M312.4 113.9h.1M319.5 111.5h.1M324.3 108.6h.1M314.7 92.5h.1M310.3 110h.1M310.2 112.3h.1M313 112.8h.1M316.6 89.1h.1M318.9 109.2h.1M321 105.6h.1M312 119.4h.1M320.5 107.2h.1M320.7 94.3h.1M311.8 93.6h.1M325.4 99.2h.1M326.7 96.5h.1M323.4 106.1h.1M323.6 94.2h.1M308.1 95h.1M315.6 108.5h.1M317.5 97h.1M317.2 113.1h.1M323.7 103.6h.1M316.4 108.7h.1M321.1 107.5h.1M315.8 92.2h.1M330.3 104.8h.1M320.3 92.7h.1M313 100.6h.1M316.2 104.6h.1M311.5 104.9h.1M312.7 97.9h.1M314.6 95.6h.1M310 91.7h.1M312.8 89.3h.1M312.8 98.9h.1M321.6 100.9h.1M324.3 96.3h.1M312.4 96.8h.1M321.5 100.6h.1M317.7 91.1h.1M306.7 119.4h.1M324.9 95.8h.1M322.2 101.9h.1M325.6 95.1h.1M318.2 91.2h.1M322.9 95.4h.1M318.6 107.2h.1M320.5 108.3h.1M315.4 98.1h.1M324.6 94.5h.1M321 100.3h.1M310.9 93.8h.1M324.3 105.2h.1M332 96.8h.1M317.8 99h.1M320.6 111.9h.1M330.5 101.7h.1M313.3 100.2h.1M321.8 97.7h.1M317.8 87.8h.1M319.3 100.8h.1M324.8 100.9h.1M315.9 110h.1M311.4 108.6h.1M317.6 123.1h.1M317 108.2h.1M315.1 100.8h.1M303.9 114.1h.1M322.8 101.7h.1M317.2 104.4h.1M314 106.1h.1M317.6 99.4h.1M324.9 99.5h.1M311.1 103h.1M316.3 113.8h.1M308.8 107.3h.1M313.9 97.4h.1M315.8 96.2h.1M313.4 105h.1M320.8 91h.1M318.3 95.1h.1M307.4 90.6h.1M318.9 108.8h.1M308.1 104.1h.1M317.7 97.9h.1M312.9 99.2h.1M317.8 107.3h.1M327.2 99.3h.1M321.5 106.8h.1M328.4 96.3h.1M317.3 91.4h.1M320.3 98.4h.1M313.7 106.8h.1M314.2 95.8h.1M315.1 103h.1M325.8 98.7h.1M317.8 112.9h.1M315.4 106.5h.1M314.7 88.5h.1M308.5 102.6h.1M310 111.5h.1M320.4 100h.1M326.2 101.2h.1M308.1 89.4h.1M322 98.5h.1M316.8 103.8h.1M309.3 113.5h.1M316 97.2h.1M323.6 92.7h.1M317.2 119.8h.1M321.1 99.5h.1M313.1 95.9h.1M317.9 108h.1M323.2 91.8h.1M324.2 98.5h.1M328 102.3h.1M308.5 98.2h.1M312.5 105.3h.1M324.9 140.6h.1M319.5 136.3h.1M317.8 131.6h.1M321.4 140.3h.1M318.5 136.5h.1M318 135.9h.1M319.7 136.5h.1M320 137.6h.1" stroke="#5c01a4" stroke-width="0.9" stroke-linecap="round" stroke-opacity="0.85"/>
<path d="M316.1 98.5h.1M312.9 91.4h.1M308.1 120.4h.1M322.5 102.5h.1M317.8 106.4h.1M313 111.7h.1M308.1 117.6h.1M310.2 115.9h.1M315.6 102.4h.1M305 114.1h.1M304.3 111.8h.1M314.5 96.3h.1M312.5 120.2h.1M328 100.1h.1M308.9 103.8h.1M317.9 109.9h.1M315.6 96.9h.1M309.4 109.6h.1M330 99.3h.1M324 101.7h.1M309.6 97.1h.1M314.1 86h.1M307.6 104.5h.1M311.9 115.7h.1M327 95.6h.1M314 96.8h.1M328.8 96.3h.1M317.4 93.5h.1M312.1 104.9h.1M314 106.8h.1M312.2 98.7h.1M324.6 108.1h.1M322.3 111.6h.1M316 90.3h.1M332 101.2h.1M317.4 86.6h.1M314.9 104.6h.1M312 115h.1M313.3 93.7h.1M314.9 104.5h.1M309.4 123.1h.1M318.8 91.1h.1M323 99.1h.1M316.6 85.7h.1M324 101.7h.1M323.2 106.9h.1M314 99.1h.1M303.6 112.6h.1M327.7 100.8h.1M313.6 117h.1M306.6 96.1h.1M322.3 101h.1M309.7 92.6h.1M320.3 126.4h.1M324.2 103.4h.1M311.8 118.1h.1M327.7 96.8h.1M324.6 107h.1M313.8 111.7h.1M327 102.7h.1M318 109.2h.1M302.2 100.6h.1M306.3 94.8h.1M313.4 108.2h.1M312.8 122h.1M325.8 106.3h.1M322.2 127.1h.1M324.7 94.2h.1M301.3 111.1h.1M321 103.5h.1M317.5 111.9h.1M330.3 100.1h.1M311.6 95.7h.1M311.7 114.4h.1M322.3 107h.1M310.9 99.5h.1M320.6 113.7h.1M310 99.5h.1M312.3 115.5h.1M305.5 112.7h.1M322.1 99.8h.1M310.1 89.9h.1M315.3 104.8h.1M330.1 104h.1M326.5 103.4h.1M309.5 106h.1M318.2 125.3h.1M317.3 114h.1M315.3 98.2h.1M329.2 101.2h.1M312.6 111.9h.1M307.4 121.8h.1M315.9 98h.1M319 109.7h.1M321.1 90.6h.1M304.2 107.7h.1M326.1 92h.1M326.9 106h.1M319.1 104.8h.1M314.7 113.7h.1M312.4 94.5h.1M313.3 109.2h.1M324.6 97.7h.1M309.6 100.4h.1M327.4 102.2h.1M329.6 102.6h.1M317.1 90.7h.1M316 106.3h.1M322.1 109.5h.1M309.5 92.3h.1M310.3 88.6h.1M323.9 104.3h.1M316.8 112.6h.1M308.3 108h.1M306.3 99.3h.1M313.8 87.9h.1M306.6 92.5h.1M316.8 89.7h.1M314.8 107.7h.1M318.9 111.7h.1M316.1 110.8h.1M328.5 106.4h.1M325.9 91.3h.1M317.5 112h.1M328.6 109h.1M309 94.6h.1M320.5 90.1h.1M325.2 91.8h.1M310.6 88.7h.1M318.7 107.8h.1M317.8 88h.1M308.8 91.3h.1M315.8 126h.1M316.2 116.7h.1M309.3 94.5h.1M328.7 101.1h.1M315 88.8h.1M330.2 104.4h.1M314.8 97.4h.1M322.3 104.4h.1M322.7 93h.1M311.2 120.6h.1M313.6 118.3h.1M313.1 99.9h.1M308.2 117h.1M311.4 105.8h.1M321 109.5h.1M309.8 92.1h.1M317.9 127.9h.1M313 109.1h.1M310.2 96.9h.1M316.6 88.4h.1M328 103.3h.1M307.3 106.1h.1M303.7 108.1h.1M319.3 95.5h.1M323.6 110.4h.1M325.5 103.3h.1M318.4 104.8h.1M322.7 105.6h.1M318.1 139.5h.1M321.6 127.9h.1M324.3 135.9h.1M318.5 133.5h.1M318.7 136h.1M318.2 129.2h.1M323.2 140.2h.1M324.8 138.8h.1M319.5 135.1h.1" stroke="#7c06a6" stroke-width="0.9" stroke-linecap="round" stroke-opacity="0.85"/>
<path d="M320.2 127.5h.1M319.3 94.1h.1M306.7 97.8h.1M316.1 102.3h.1M310.4 109.3h.1M307.8 123.2h.1M321.3 125.3h.1M316.6 113.9h.1M309.4 111.4h.1M316.1 91.9h.1M315 126h.1M312.8 86h.1M326.9 104.6h.1M304.7 107.3h.1M326.4 92.8h.1M325 106.3h.1M312.4 124.9h.1M312.5 120h.1M326.6 113.8h.1M316.3 94h.1M313 106.1h.1M324.6 104.4h.1M312.4 102.4h.1M312.6 105.3h.1M325.4 105.1h.1M307.1 94.5h.1M309.3 91.6h.1M306.3 97h.1M323.4 116.1h.1M320.8 117.7h.1M307.9 107.9h.1M309.2 103h.1M326.2 105.7h.1M328.5 98.1h.1M312.1 99.2h.1M310.9 100.3h.1M330.3 104.6h.1M325.6 98.1h.1M312 91.9h.1M306.9 111.3h.1M317.9 126.3h.1M310.1 115.5h.1M312.2 123.5h.1M327 124.7h.1M315.3 96.1h.1M309.4 113.4h.1M325.7 125h.1M308.4 102h.1M314.8 114h.1M328.3 109.7h.1M305.5 109.5h.1M314.7 104.5h.1M309.8 99.1h.1M319.1 108.7h.1M315.9 110.1h.1M306.6 92.1h.1M316.5 114.4h.1M332.5 106.5h.1M321.7 107h.1M308.6 90.4h.1M302.4 104.2h.1M322.2 110.7h.1M308.7 100h.1M334.3 107.8h.1M327.8 105.8h.1M313.3 111.1h.1M332.2 103.9h.1M310.4 118.5h.1M305.3 97.9h.1M323.8 109.5h.1M327.4 96.3h.1M313 120.6h.1M316.8 122.9h.1M327.4 101.2h.1M318.2 103.3h.1M309.9 104h.1M312.6 96.8h.1M334.2 112.8h.1M316.5 116.5h.1M300.3 111.2h.1M310 100.2h.1M310.4 102h.1M321.8 126.5h.1M318.8 98.7h.1M318.7 105.9h.1M303.2 110.3h.1M307.5 87.7h.1M317.1 111.1h.1M314.2 120.1h.1M320.9 125h.1M308.5 101.2h.1M329.4 99.7h.1M311.6 124.4h.1M331.7 108.7h.1M312.2 107.7h.1M309 102.3h.1M300.5 115.1h.1M311.6 87.6h.1M301.7 107.3h.1M303.5 108.6h.1M309.9 97.5h.1M310 107.5h.1M327.8 100.6h.1M320.5 116.1h.1M308.8 120.1h.1M310.6 99.7h.1M301.3 113.2h.1M321.2 113.8h.1M306.5 105h.1M303.7 112.3h.1M330.4 103.9h.1M310.3 112.8h.1M313.1 112h.1M310.2 118.9h.1M331 108.3h.1M313.7 88.9h.1M311.3 93.2h.1M313.2 110.1h.1M320.1 118.5h.1M304.6 119.9h.1M312.2 126.6h.1M311.1 94h.1M316.2 111.5h.1M299.9 112.1h.1M323.9 106.7h.1M321.3 89.6h.1M313.5 121.5h.1M316.1 122.5h.1M311.5 101.9h.1M325.4 103.3h.1M303.6 117.2h.1M306.4 119.1h.1M301.2 108.8h.1M329.3 100.2h.1M309.1 98.3h.1M309.2 91.9h.1M307.8 100.7h.1M317.8 120.1h.1M305.8 121.5h.1M312.4 104.9h.1M308.9 88.4h.1M314.1 125.5h.1M327.6 105.7h.1M314.4 119.9h.1M318.9 124.5h.1M314.3 98.7h.1M324.8 99.3h.1M311 108h.1M309.4 95.7h.1M304.1 112.4h.1M317.7 118.8h.1M312.1 116.1h.1M320.7 92.4h.1M301.3 104.1h.1M310.3 89.7h.1M303.4 98.5h.1M300.4 109h.1M303.2 105.8h.1M307.6 95.2h.1M318.6 113.7h.1M308.9 115.9h.1M314.6 118.4h.1M311.8 111.9h.1M311.4 117h.1M330.9 103.9h.1M318.7 127h.1M306.3 113.6h.1M306 114.8h.1M300.8 108.6h.1M307.3 108.5h.1M308.2 125.1h.1M314.9 119.3h.1M317.6 116.8h.1M332.4 105.5h.1M325.1 95.2h.1M309.7 124.9h.1M309.9 92.7h.1M323.2 126.9h.1M327.6 103.1h.1M311.8 105.4h.1M313.4 101.2h.1M315.9 124.7h.1M309 92.2h.1M307.5 109h.1M326.9 108.6h.1M317 113.9h.1M316.6 107.7h.1M303.1 114.9h.1M312.5 125.9h.1M318.1 122.7h.1M307.6 121.8h.1M318.7 113.7h.1M309.6 117.8h.1M318.4 113.9h.1M308.2 101.3h.1M309.9 91h.1M304.8 117.5h.1M311.1 105.5h.1M309.8 100h.1M309.3 118.7h.1M316.3 111.6h.1M316.7 93.6h.1M309 107.6h.1M307.5 113h.1M318.3 107.8h.1M310.9 117h.1M304.9 110.1h.1M313.4 97.3h.1M317.4 100.5h.1M311 96.3h.1M330.2 100.3h.1M323.6 110.4h.1M318.7 114.5h.1M306.7 111.5h.1M315.6 113.6h.1M332.9 119h.1M331.4 101.3h.1M316.2 125.6h.1M314.5 113.5h.1M306.7 91.7h.1M323.3 140.4h.1M325.9 133h.1M323.5 129.7h.1M321.7 131.4h.1M318 131.1h.1M319.7 134h.1M318.7 141.1h.1M319 138h.1M318.6 134.7h.1M320.7 137.2h.1M323.1 141.9h.1M323.4 137.7h.1M324.2 135.5h.1M317.1 132.6h.1M318.4 138.4h.1M320.3 126.9h.1M323.4 139.8h.1M320.1 141.6h.1M325.5 130h.1M319.5 135.8h.1M322.3 141.6h.1M322.3 141.4h.1M320.7 127.7h.1M318.9 130.2h.1M318.1 131.5h.1M320.6 139.4h.1M325.5 136.3h.1M321.1 139.7h.1M321.6 139.5h.1M318.9 128.4h.1M317.6 137.3h.1M322.1 127h.1M324 140.4h.1M319.5 133.5h.1M317.4 133.3h.1M323.6 139.3h.1" stroke="#9a169d" stroke-width="0.9" stroke-linecap="round" stroke-opacity="0.85"/>
<path d="M330.3 106.2h.1M333 102.5h.1M305.5 115.7h.1M318.8 110.2h.1M316.6 124.1h.1M314 86.9h.1M325.1 98.8h.1M318.7 116.3h.1M333.9 106.1h.1M302.5 106.2h.1M316.8 86.2h.1M320.2 121.3h.1M335.6 106.5h.1M332.4 107.1h.1M311.4 99.9h.1M304.2 108h.1M312 99.3h.1M304.3 113h.1M320.4 115.8h.1M309 114.2h.1M329.3 124.4h.1M321.7 119.1h.1M326.7 122.2h.1M326.1 102.5h.1M321.9 115h.1M309.1 92.4h.1M327.1 124.2h.1M302.8 100.3h.1M319 125.5h.1M327.1 105.2h.1M302.1 112.3h.1M308.5 118.7h.1M320.5 126.4h.1M323.6 108.1h.1M309.8 124.7h.1M312.4 107.9h.1M313.9 127.6h.1M306.6 93.8h.1M307.6 103.4h.1M306.9 91.2h.1M309.3 88.1h.1M307.3 114.5h.1M317.3 121h.1M312 126.2h.1M332.9 107.3h.1M326.5 123.9h.1M323.3 114.9h.1M309.3 95.2h.1M321.9 126.9h.1M306 96.3h.1M302.7 106.6h.1M322.9 120.4h.1M328.4 95.3h.1M337.6 112.1h.1M306.5 100.8h.1M314.1 114.7h.1M313.9 121.7h.1M311.4 124.9h.1M303.2 103.6h.1M304.8 107.3h.1M324.7 124.8h.1M309 117h.1M329.7 98.8h.1M316.8 121.3h.1M325.5 108.8h.1M324.3 113h.1M321.4 114.4h.1M311 117h.1M301.5 110.7h.1M309.1 97.8h.1M302.2 100.7h.1M315.4 114h.1M306.8 124.2h.1M322.1 123.6h.1M314.3 119.7h.1M304.8 121.7h.1M303.9 96.2h.1M330.5 107.6h.1M322.1 125.1h.1M302.4 115.5h.1M318.7 120.5h.1M306.2 120.7h.1M327.2 110.1h.1M322.1 127.7h.1M308.6 93.3h.1M307.3 95h.1M312.1 121.5h.1M321.5 123.1h.1M333.9 109h.1M333.1 105.1h.1M320.1 110h.1M303.7 102.6h.1M323.6 102.6h.1M329.9 99.7h.1M319 117.4h.1M302.3 104.3h.1M316.4 117.8h.1M309.1 109.7h.1M336 109.8h.1M304 110.1h.1M333.9 110.9h.1M336.3 116.3h.1M318.4 114.3h.1M304 110.2h.1M332 106.6h.1M328.9 103.4h.1M313.1 105.7h.1M308.3 100h.1M313.9 113.5h.1M325.3 127.8h.1M324.4 123.1h.1M316.9 126.4h.1M319.7 127.7h.1M309.1 113.9h.1M301.5 112.6h.1M309.1 124.6h.1M320.6 124.9h.1M330.5 101.8h.1M327.5 107.2h.1M332.3 108.8h.1M305.6 107.4h.1M310 119.6h.1M313.7 122.6h.1M310.5 95.4h.1M317.4 91.8h.1M301.9 111.8h.1M324.4 106.6h.1M303.5 113.6h.1M309.2 101.9h.1M324 92.9h.1M307.8 102h.1M308.7 116.2h.1M326.6 122.4h.1M308.3 88.5h.1M321.5 124.3h.1M317 122.9h.1M321.3 122h.1M311.7 88.1h.1M323.7 113.9h.1M323.5 129.4h.1M317.2 113.9h.1M310.3 91h.1M315.7 89.5h.1M314.6 121.4h.1M302.7 113.7h.1M326.9 102.9h.1M312.4 121.8h.1M334.6 118.1h.1M312.5 120.3h.1M334.2 120.8h.1M308.8 116.1h.1M326.3 112.8h.1M329.6 98.3h.1M299.5 107.1h.1M331.9 104.5h.1M328.5 123.7h.1M329.4 108.7h.1M312.8 123.3h.1M311.4 90.1h.1M306.7 121.6h.1M321.7 127.7h.1M305.5 106.9h.1M322.1 127.6h.1M316.5 90.2h.1M304 109.7h.1M324.5 123.9h.1M304 112.5h.1M319.8 125.3h.1M310.6 112.4h.1M321.1 122.3h.1M306.9 109.3h.1M315.8 123h.1M332.4 108.5h.1M304.5 112.8h.1M331.9 100.6h.1M322.4 110.1h.1M301.6 104.8h.1M311.4 119.1h.1M303.8 107.9h.1M332.5 104.8h.1M317.5 124.4h.1M327 121.9h.1M308.2 102.8h.1M309.3 88.6h.1M308 101.9h.1M305 113.4h.1M315.4 122.1h.1M322.2 115.1h.1M325.5 125.4h.1M300.4 107h.1M306.7 94.7h.1M304.2 115.2h.1M310.6 122.1h.1M312.4 90.1h.1M310.7 125.4h.1M326.9 111.9h.1M303.8 109.3h.1M309.2 113.5h.1M305.2 101h.1M318.4 112.9h.1M324.1 113.3h.1M316.1 120h.1M332.2 100.8h.1M305 113.1h.1M320.3 128.2h.1M329.8 105h.1M326.3 104.7h.1M329.4 126h.1M319.7 129.4h.1M325.9 134.6h.1M320.1 131.8h.1M325.8 138.8h.1M321.7 137.6h.1M322.5 130.1h.1M319.8 134.6h.1M317.8 130.8h.1M320 131.7h.1M320.8 142h.1M319.9 126.8h.1M317.5 134.8h.1M317.7 134.7h.1M320.6 137.7h.1M320.7 141h.1M323.2 136.6h.1M317.3 132.4h.1M321.5 138.3h.1M320.9 131.6h.1M318.7 140.8h.1M319.8 141.8h.1M320.9 128.7h.1M323.5 129.5h.1M321.1 141.3h.1M322.8 132h.1M323.8 129.4h.1M323.1 140.7h.1M321.9 139.6h.1M322.1 127.7h.1M322.3 141.7h.1M318.8 130.9h.1M318.2 130.7h.1M325.1 139.4h.1M323.3 138.9h.1M323.2 141.9h.1M322.8 127.7h.1M325.6 137.2h.1M324 136.9h.1M319 140h.1M318.5 128.5h.1M322.5 142.1h.1M321.5 139.5h.1M319.4 137.7h.1M318.7 134.7h.1M325.6 137.2h.1M323.5 130.2h.1" stroke="#b52e8c" stroke-width="0.9" stroke-linecap="round" stroke-opacity="0.85"/>
<path d="M302 111.9h.1M328.3 124.4h.1M319.9 118.8h.1M323.8 115.3h.1M319.1 115.1h.1M336.8 114.2h.1M310.4 106.9h.1M299.8 110.3h.1M311.4 104h.1M329.8 98.2h.1M327.8 109.4h.1M300.3 109.5h.1M326.3 125.8h.1M334.7 110.1h.1M309.8 113.7h.1M320.9 126h.1M326.5 110.8h.1M309.4 103.6h.1M309.3 119.6h.1M309.1 93.4h.1M333.5 113h.1M307.5 107.6h.1M309.6 123.1h.1M332.1 109.8h.1M333.8 119.5h.1M305.2 113.2h.1M324.7 113.1h.1M309.2 124.8h.1M303.1 118h.1M302.5 103.1h.1M307.2 93.6h.1M307.5 90.7h.1M302.4 114.6h.1M312.6 104.5h.1M306.3 110.5h.1M301 105.1h.1M321.9 116.9h.1M316.7 125.2h.1M309.8 125.9h.1M299.2 110.5h.1M323.9 122.3h.1M309 88h.1M299.7 107.8h.1M335.9 114.2h.1M327.7 108.6h.1M333 111.1h.1M312.6 119.9h.1M333 117h.1M307.8 123h.1M331.8 110.4h.1M307.6 111.3h.1M335.7 119.9h.1M332 104.7h.1M335.4 110.8h.1M315.7 118.3h.1M309.5 92.7h.1M326.2 121.4h.1M327.6 127.3h.1M330.1 109.9h.1M322 122.3h.1M330.2 104.5h.1M332.5 102.8h.1M322.5 116.9h.1M302.8 107.9h.1M327.6 102.1h.1M329.5 112.3h.1M327.3 113.8h.1M322.3 118.6h.1M325.9 120.7h.1M326.4 119.3h.1M320.9 111.5h.1M326.2 112.8h.1M315.8 125.8h.1M330.9 122.5h.1M303.7 100.6h.1M304.5 108.2h.1M313 125.2h.1M307.2 119h.1M319.8 125.6h.1M331.9 106.6h.1M332.6 115.6h.1M313.3 124.4h.1M311 121.8h.1M332.5 115.2h.1M320.9 123.4h.1M320.5 124h.1M308.4 118.6h.1M330.1 106.1h.1M327 123.7h.1M299 105.1h.1M318.3 127.9h.1M322.4 120.6h.1M305.5 118.4h.1M321.9 122.8h.1M331 123.6h.1M336.2 118.1h.1M321.2 123.1h.1M326.3 127.3h.1M323.6 115.2h.1M332.5 112.5h.1M328.5 121.5h.1M322.8 108.5h.1M311.2 115.6h.1M306.4 121.9h.1M317.9 112.8h.1M324.4 123.3h.1M302.8 105.7h.1M302.8 113h.1M334.7 112.4h.1M311.7 124.8h.1M303.2 111.9h.1M303.7 117.5h.1M304.5 99.9h.1M320.7 124.3h.1M312.2 115.4h.1M324.1 122.3h.1M313.5 124.2h.1M309.1 113.2h.1M313 126.9h.1M311.3 115.1h.1M314.3 125.4h.1M310.7 109.4h.1M317.8 110.4h.1M305.9 107.4h.1M308.8 116.2h.1M299 105.3h.1M336 116.9h.1M323.1 126.2h.1M328.4 122.5h.1M323.2 121.1h.1M331 117.5h.1M324.6 117.7h.1M333.4 121.8h.1M323.6 124.2h.1M305.4 97.2h.1M320 127.1h.1M325.1 131.2h.1M320.4 127.9h.1M319.7 133.5h.1M321.9 126.9h.1M320.3 141.7h.1M325.1 133.3h.1M324.1 131.4h.1M320.1 128h.1M319 129h.1M320 126.7h.1M323 137.4h.1M318.2 128.9h.1M323.3 140.4h.1M317.2 132.8h.1M317.7 139.3h.1M317.2 134.9h.1M318.2 140h.1M326.5 133.5h.1M320.1 132.6h.1M318.9 131h.1M322.3 141.5h.1M322.7 140.3h.1M320.3 128.6h.1M321.7 127.3h.1M317 136.6h.1M322.4 142.1h.1M318.6 136.3h.1M326.1 134.5h.1M322.9 142.5h.1M326 134.3h.1M322.3 141.2h.1" stroke="#cc4778" stroke-width="0.9" stroke-linecap="round" stroke-opacity="0.85"/>
<path d="M331.8 111.8h.1M317.6 121.7h.1M332.9 117h.1M336.6 118.2h.1M321 123.3h.1M326.4 120.5h.1M301.2 111.9h.1M325.9 113.6h.1M333.4 121h.1M325.4 123.4h.1M314.9 125.9h.1M329.8 117.5h.1M310 113.7h.1M332.3 121h.1M334.5 115.5h.1M335.2 116.9h.1M325.5 123.5h.1M330.9 123.7h.1M301.3 108.9h.1M308.2 108.5h.1M330.3 124.7h.1M306 119.8h.1M325.2 115.1h.1M325.2 118.3h.1M330.4 107.8h.1M333.3 113.7h.1M316.5 120.1h.1M322.7 113.8h.1M335.8 116.9h.1M303.9 96.4h.1M330.7 113.2h.1M320.9 116h.1M318.5 121.8h.1M323.4 122.2h.1M320.6 122h.1M336.6 119.7h.1M330.5 121.1h.1M326.8 123.5h.1M325.1 120.5h.1M327.7 110.4h.1M303.3 106.8h.1M304.6 114.2h.1M328.8 120.4h.1M327.6 114.8h.1M336 115.7h.1M333.3 118h.1M325.7 119.2h.1M306.9 118.8h.1M324.9 123h.1M330.1 120.9h.1M331.7 115.6h.1M330.8 109.3h.1M332.8 114.9h.1M336.5 116.4h.1M328.6 110.5h.1M334.4 120.3h.1M308 122h.1M328.9 119.9h.1M334.2 118h.1M320.1 118h.1M328.2 115.3h.1M323.6 112.5h.1M326.2 124.6h.1M331.2 112h.1M325.5 122.5h.1M331.7 111.1h.1M328.6 124.4h.1M330.8 118.6h.1M318.4 125.1h.1M331.2 123h.1M336.8 116.2h.1M331.5 107.1h.1M333.3 118.1h.1M329.3 111h.1M329.5 111.2h.1M325.5 121.9h.1M333 116.4h.1M326.6 122.6h.1M322.3 124.1h.1M332.3 109h.1M326.9 115.5h.1M332.6 120.6h.1M330.2 117.5h.1M322.4 110.7h.1M324.1 112.3h.1M332.3 121.6h.1M304.6 109.9h.1M334.7 107.8h.1M325 119.3h.1M329.8 108.8h.1M322.5 115.3h.1M321 126.1h.1M330.8 119.5h.1M334.3 113h.1M325.7 125h.1M322.8 119.8h.1M327.8 115.4h.1M325.2 134.3h.1M319.6 137.3h.1M324.5 130.1h.1M326.1 136.3h.1M319.7 131.4h.1M324 134.9h.1M321.7 141h.1M324.3 128.6h.1M323.8 137.7h.1M316.9 134.4h.1M325.1 131.1h.1M324.5 130.1h.1M320.9 130h.1M317.7 135.9h.1M316.8 135.3h.1M324.5 137.4h.1" stroke="#dd5f65" stroke-width="0.9" stroke-linecap="round" stroke-opacity="0.85"/>
<path d="M327.1 115.7h.1M324.4 122.3h.1M333.5 111.8h.1M326.1 117.7h.1M312.3 119h.1M335.6 108h.1M323.6 119h.1M331.7 120.5h.1M323.8 119.8h.1M302.1 103.8h.1M332.2 121.9h.1M330.8 117.6h.1M319.7 126.4h.1M325.1 110.8h.1M327.7 119.7h.1M323.9 117.4h.1M325.4 113.1h.1M332 122.7h.1M325.7 113.5h.1M336.6 114.4h.1M333.3 117.9h.1M332.3 115.8h.1M334.5 112.2h.1M326.9 113.8h.1M335.8 114.5h.1M327.4 109.5h.1M331.7 104h.1M334.2 115.1h.1M306.8 121.6h.1M325.9 118.3h.1M326.6 112.8h.1M322.9 119.3h.1M329.6 121.1h.1M330.7 122.8h.1M335.1 116.6h.1M306.2 113.4h.1M331.9 116.2h.1M324 118.3h.1M324 117.5h.1M329.6 113.2h.1M331.3 108.3h.1M334 113.1h.1M329.4 110.4h.1M328.3 109.4h.1M311.6 114.4h.1M330.5 125.2h.1M334 108.9h.1M330.5 117.5h.1M332.9 119.3h.1M332.7 114.8h.1M319.8 130.9h.1" stroke="#ec7952" stroke-width="0.9" stroke-linecap="round" stroke-opacity="0.85"/>
<path d="M334.5 119.2h.1M328.7 118.4h.1M330.7 117.6h.1M333 115.6h.1M334.4 113.5h.1M328.9 119.7h.1M329.7 117.2h.1M331.3 121.9h.1M329.8 118.1h.1M324.5 115.2h.1M327.7 120h.1M329 116.6h.1M328.4 116h.1M326.2 117.3h.1M329.8 116.7h.1M330.4 115.2h.1M321.2 121.6h.1M333.9 121.8h.1M332.6 114.6h.1M329.4 119.4h.1M325.4 116.1h.1M323.5 136.2h.1" stroke="#f79540" stroke-width="0.9" stroke-linecap="round" stroke-opacity="0.85"/>
<path d="M328.5 119.6h.1M330 118.1h.1M331.3 120.5h.1M326.6 121.8h.1" stroke="#fcb330" stroke-width="0.9" stroke-linecap="round" stroke-opacity="0.85"/>
<path d="M298.2 100.6h.1" stroke="#5c01a4" stroke-width="0.9" stroke-linecap="round" stroke-opacity="0.85"/>
<path d="M290 98.8h.1M287.3 100.1h.1M301.2 100.7h.1" stroke="#7c06a6" stroke-width="0.9" stroke-linecap="round" stroke-opacity="0.85"/>
<path d="M300.4 99.7h.1" stroke="#9a169d" stroke-width="0.9" stroke-linecap="round" stroke-opacity="0.85"/>
<path d="M287.2 99.6h.1M290.5 100h.1M299.5 101.6h.1M300.2 100.3h.1M299.4 102h.1" stroke="#b52e8c" stroke-width="0.9" stroke-linecap="round" stroke-opacity="0.85"/>
<path d="M286.3 98.7h.1M289.1 100.6h.1M289.1 100.3h.1M288.1 99.2h.1M289.3 98.4h.1M298.9 99.8h.1M299.9 99.7h.1M298.6 99h.1" stroke="#cc4778" stroke-width="0.9" stroke-linecap="round" stroke-opacity="0.85"/>
<path d="M288.3 100.3h.1M289.1 99h.1M300.1 100.3h.1" stroke="#dd5f65" stroke-width="0.9" stroke-linecap="round" stroke-opacity="0.85"/>
<path d="M287.4 100h.1" stroke="#ec7952" stroke-width="0.9" stroke-linecap="round" stroke-opacity="0.85"/>
<defs><linearGradient id="pl" x1="0" y1="0" x2="0" y2="1"><stop offset="0.0" stop-color="#0d0887"/><stop offset="0.1" stop-color="#41049d"/><stop offset="0.2" stop-color="#6a00a8"/><stop offset="0.3" stop-color="#8f0da4"/><stop offset="0.4" stop-color="#b12a90"/><stop offset="0.5" stop-color="#cc4778"/><stop offset="0.6" stop-color="#e16462"/><stop offset="0.7" stop-color="#f2844b"/><stop offset="0.8" stop-color="#fca636"/><stop offset="0.9" stop-color="#fcce25"/><stop offset="1.0" stop-color="#f0f921"/></linearGradient></defs>
<rect x="345.4" y="33" width="3.8" height="23.7" fill="url(#pl)"/>
<rect x="345.6" y="102.8" width="4.2" height="24.4" fill="url(#pl)"/>
<text x="351.5" y="37" font-size="3.2" fill="#444" text-anchor="start">3</text>
<text x="351.5" y="45" font-size="3.2" fill="#444" text-anchor="start">2</text>
<text x="351.5" y="50.6" font-size="3.2" fill="#444" text-anchor="start">1</text>
<text x="352" y="106" font-size="3.2" fill="#444" text-anchor="start">·</text>
<text x="352" y="110.5" font-size="3.2" fill="#444" text-anchor="start">·</text>
<text x="352" y="115" font-size="3.2" fill="#444" text-anchor="start">·</text>
<text x="352" y="119.5" font-size="3.2" fill="#444" text-anchor="start">·</text>
<text x="352" y="124" font-size="3.2" fill="#444" text-anchor="start">·</text>
<text x="339" y="23.9" font-size="5.0" fill="#111" text-anchor="start" font-weight="bold">CD1A</text>
<text x="337" y="93.1" font-size="5.1" fill="#111" text-anchor="start" font-weight="bold">CD207</text>
<path d="M287.3 51 V72.7 H309.5" fill="none" stroke="#333" stroke-width="0.8"/>
<text x="283.3" y="61.9" font-size="5.5" fill="#333" text-anchor="middle" transform="rotate(-90 283.3 61.9)">UMAP2</text>
<text x="299" y="80.5" font-size="5.6" fill="#333" text-anchor="middle">UMAP1</text>
<path d="M287.3 123 V144.5 H309.5" fill="none" stroke="#333" stroke-width="0.8"/>
<text x="283.3" y="133.8" font-size="5.5" fill="#333" text-anchor="middle" transform="rotate(-90 283.3 133.8)">UMAP2</text>
<text x="299" y="152.5" font-size="5.6" fill="#333" text-anchor="middle">UMAP1</text>
<path d="M410.3 15 V31.6 H504.7" fill="none" stroke="#333" stroke-width="0.9"/>
<path d="M408.6 15 H410.3" stroke="#333" stroke-width="0.7"/>
<text x="406.4" y="16.5" font-size="4.2" fill="#333" text-anchor="end">4</text>
<text x="391.2" y="24.6" font-size="5.1" fill="#333" text-anchor="start">ISG15</text>
<path d="M410.3 35.3 V51.8 H504.7" fill="none" stroke="#333" stroke-width="0.9"/>
<path d="M408.6 35.3 H410.3" stroke="#333" stroke-width="0.7"/>
<text x="406.4" y="36.8" font-size="4.2" fill="#333" text-anchor="end">4</text>
<text x="391.2" y="44.8" font-size="5.1" fill="#333" text-anchor="start">IFIT3</text>
<path d="M410.3 56 V72.4 H504.7" fill="none" stroke="#333" stroke-width="0.9"/>
<path d="M408.6 56 H410.3" stroke="#333" stroke-width="0.7"/>
<text x="406.4" y="57.5" font-size="4.2" fill="#333" text-anchor="end">4</text>
<text x="391.2" y="65.5" font-size="5.1" fill="#333" text-anchor="start">IFI6</text>
<path d="M410.3 76 V93 H504.7" fill="none" stroke="#333" stroke-width="0.9"/>
<path d="M408.6 76 H410.3" stroke="#333" stroke-width="0.7"/>
<text x="406.4" y="77.5" font-size="4.2" fill="#333" text-anchor="end">4</text>
<text x="391.2" y="85.8" font-size="5.1" fill="#333" text-anchor="start">MKI67</text>
<path d="M410.3 97 V113.4 H504.7" fill="none" stroke="#333" stroke-width="0.9"/>
<path d="M408.6 97 H410.3" stroke="#333" stroke-width="0.7"/>
<text x="406.4" y="98.5" font-size="4.2" fill="#333" text-anchor="end">3</text>
<text x="391.2" y="106.5" font-size="5.1" fill="#333" text-anchor="start">HMMR</text>
<path d="M410.3 117 V134.1 H504.7" fill="none" stroke="#333" stroke-width="0.9"/>
<path d="M408.6 117 H410.3" stroke="#333" stroke-width="0.7"/>
<text x="406.4" y="118.5" font-size="4.2" fill="#333" text-anchor="end">3</text>
<text x="391.2" y="126.8" font-size="5.1" fill="#333" text-anchor="start">CDK1</text>
<path d="M418 20.6 L418.1 24.8 C419 27.8 420.8 29.9 421.6 31.1 L421.6 31.6 L413.6 31.6 C413.6 31.1 414.4 29.9 416.2 27.8 L417.2 24.8 L417.2 20.6 Z" fill="#e8706a" fill-opacity="1" stroke="#333" stroke-width="0.25"/>
<path d="M429.4 22.6 L429.5 26 C430.4 28.5 432.2 30.2 433 31.1 L433 31.6 L425 31.6 C425 31.1 425.8 30.2 427.6 28.5 L428.6 26 L428.7 22.6 Z" fill="#d8a83a" fill-opacity="1" stroke="#333" stroke-width="0.25"/>
<path d="M440.8 17.1 L440.9 24.1 C442.2 27.5 444.4 29.7 445.4 31.1 L445.4 31.6 L435.4 31.6 C435.4 31.1 436.4 29.7 438.7 27.5 L440 24.1 L440.1 17.1 Z" fill="#5a9e2c" fill-opacity="1" stroke="#333" stroke-width="0.25"/>
<path d="M452.2 19.1 L452.3 24.1 C453.3 27.5 455.2 29.7 456.1 31.1 L456.1 31.6 L447.7 31.6 C447.7 31.1 448.5 29.7 450.4 27.5 L451.4 24.1 L451.5 19.1 Z" fill="#7cc08a" fill-opacity="1" stroke="#333" stroke-width="0.25"/>
<path d="M463.6 20.6 L463.7 24.8 C464.7 27.8 466.5 29.9 467.3 31.1 L467.3 31.6 L459.3 31.6 C459.3 31.1 460.1 29.9 461.9 27.8 L462.8 24.8 L462.9 20.6 Z" fill="#5bbcc8" fill-opacity="1" stroke="#333" stroke-width="0.25"/>
<path d="M475.1 22.6 L475.2 26 C476 28.5 477.7 30.2 478.5 31.1 L478.5 31.6 L470.9 31.6 C470.9 31.1 471.7 30.2 473.4 28.5 L474.3 26 L474.4 22.6 Z" fill="#2f4f9f" fill-opacity="1" stroke="#333" stroke-width="0.25"/>
<path d="M486.1 19.7 Q487.8 21.8 490.9 22.9 Q487.8 24 486.1 26.1 Q484.4 24 481.3 22.9 Q484.4 21.8 486.1 19.7 Z" fill="#9b3fa0" stroke="#333" stroke-width="0.25"/>
<path d="M486.1 31.6 V30.4" stroke="#777" stroke-width="0.5"/>
<path d="M497.9 26.1 L498 28.2 C498.7 29.7 500.1 30.7 500.7 31.1 L500.7 31.6 L494.3 31.6 C494.3 31.1 495 30.7 496.4 29.7 L497.1 28.2 L497.2 26.1 Z" fill="#a070b0" fill-opacity="0.8" stroke="#333" stroke-width="0.25"/>
<path d="M417.6 51.8 V40" stroke="#a09890" stroke-width="0.55"/>
<path d="M429 51.8 V43.8" stroke="#a09890" stroke-width="0.55"/>
<path d="M440.4 51.8 V38.4" stroke="#a09890" stroke-width="0.55"/>
<path d="M451.9 51.8 V43" stroke="#a09890" stroke-width="0.55"/>
<path d="M463.3 51.8 V37.6" stroke="#a09890" stroke-width="0.55"/>
<path d="M474.7 51.8 V43.8" stroke="#a09890" stroke-width="0.55"/>
<path d="M497.5 51.8 V43.8" stroke="#a09890" stroke-width="0.55"/>
<path d="M486.1 37.5 C487.7 40.4 491.4 43.9 491.4 47.5 C491.4 50.4 488.8 51.2 488 51.8 L484.3 51.8 C483.5 51.2 480.8 50.4 480.8 47.5 C480.8 43.9 484.5 40.4 486.1 37.5 Z" fill="#9b3fa0" stroke="#333" stroke-width="0.25"/>
<path d="M418 57.9 L418.1 64.9 C418.7 68.3 420 70.5 420.6 71.9 L420.6 72.4 L414.6 72.4 C414.6 71.9 415.2 70.5 416.6 68.3 L417.2 64.9 L417.2 57.9 Z" fill="#e8706a" fill-opacity="1" stroke="#333" stroke-width="0.25"/>
<path d="M429.4 57.9 L429.5 64.9 C430.1 68.3 431.4 70.5 432 71.9 L432 72.4 L426 72.4 C426 71.9 426.6 70.5 428 68.3 L428.6 64.9 L428.7 57.9 Z" fill="#d8a83a" fill-opacity="1" stroke="#333" stroke-width="0.25"/>
<path d="M440.8 57.6 L440.9 64.9 C441.8 68.3 443.5 70.5 444.2 71.9 L444.2 72.4 L436.6 72.4 C436.6 71.9 437.4 70.5 439.1 68.3 L440 64.9 L440.1 57.6 Z" fill="#5a9e2c" fill-opacity="1" stroke="#333" stroke-width="0.25"/>
<path d="M452.2 58.9 L452.3 64.9 C452.8 68.3 454.1 70.5 454.7 71.9 L454.7 72.4 L449.1 72.4 C449.1 71.9 449.6 70.5 450.9 68.3 L451.4 64.9 L451.5 58.9 Z" fill="#7cc08a" fill-opacity="1" stroke="#333" stroke-width="0.25"/>
<path d="M463.6 58.4 L463.7 64.9 C464.3 68.3 465.7 70.5 466.3 71.9 L466.3 72.4 L460.3 72.4 C460.3 71.9 460.9 70.5 462.2 68.3 L462.8 64.9 L462.9 58.4 Z" fill="#5bbcc8" fill-opacity="1" stroke="#333" stroke-width="0.25"/>
<path d="M475.1 58.4 L475.2 64.9 C475.7 68.3 476.9 70.5 477.5 71.9 L477.5 72.4 L471.9 72.4 C471.9 71.9 472.5 70.5 473.7 68.3 L474.3 64.9 L474.4 58.4 Z" fill="#2f4f9f" fill-opacity="1" stroke="#333" stroke-width="0.25"/>
<path d="M486.1 58.6 Q487.7 61.4 490.5 62.9 Q487.7 64.4 486.1 67.2 Q484.6 64.4 481.7 62.9 Q484.6 61.4 486.1 58.6 Z" fill="#9b3fa0" stroke="#333" stroke-width="0.25"/>
<path d="M497.5 72.4 V65.4" stroke="#a09890" stroke-width="0.55"/>
<path d="M417.6 93 V81" stroke="#a09890" stroke-width="0.55"/>
<path d="M429 93 V84" stroke="#a09890" stroke-width="0.55"/>
<path d="M440.4 93 V81" stroke="#a09890" stroke-width="0.55"/>
<path d="M451.9 93 V82" stroke="#a09890" stroke-width="0.55"/>
<path d="M474.7 93 V87" stroke="#a09890" stroke-width="0.55"/>
<path d="M486.1 93 V87" stroke="#a09890" stroke-width="0.55"/>
<path d="M497.5 93 V82" stroke="#a09890" stroke-width="0.55"/>
<path d="M440.8 84 L440.9 87.4 C441.3 89.9 442.4 91.6 442.8 92.5 L442.8 93 L438 93 C438 92.5 438.5 91.6 439.6 89.9 L440 87.4 L440.1 84 Z" fill="#8a8a60" fill-opacity="0.8" stroke="#333" stroke-width="0.25"/>
<path d="M452.2 84 L452.3 87.4 C452.6 89.9 453.6 91.6 454.1 92.5 L454.1 93 L449.7 93 C449.7 92.5 450.1 91.6 451.1 89.9 L451.4 87.4 L451.5 84 Z" fill="#90a090" fill-opacity="0.8" stroke="#333" stroke-width="0.25"/>
<path d="M435.4 92.4 h10" stroke="#777" stroke-width="0.6"/>
<path d="M463.3 77.4 C464.8 80.5 468.3 79.4 468.3 83.3 C468.3 86.4 465.8 92.4 465 93 L461.5 93 C460.8 92.4 458.3 86.4 458.3 83.3 C458.3 79.4 461.8 80.5 463.3 77.4 Z" fill="#5bbcc8" stroke="#333" stroke-width="0.25"/>
<path d="M417.6 113.4 V104.4" stroke="#a09890" stroke-width="0.55"/>
<path d="M429 113.4 V104.4" stroke="#a09890" stroke-width="0.55"/>
<path d="M440.4 113.4 V102.9" stroke="#a09890" stroke-width="0.55"/>
<path d="M451.9 113.4 V104.4" stroke="#a09890" stroke-width="0.55"/>
<path d="M474.7 113.4 V106.4" stroke="#a09890" stroke-width="0.55"/>
<path d="M486.1 113.4 V105.4" stroke="#a09890" stroke-width="0.55"/>
<path d="M497.5 113.4 V105.4" stroke="#a09890" stroke-width="0.55"/>
<path d="M463.3 98.9 C464.8 101.6 468.2 103.6 468.2 107 C468.2 109.7 465.7 111.8 465 112.4 L461.6 112.4 C460.8 111.8 458.4 109.7 458.4 107 C458.4 103.6 461.8 101.6 463.3 98.9 Z" fill="#5bbcc8" stroke="#333" stroke-width="0.25"/>
<path d="M457.8 112.4 h11" stroke="#5bbcc8" stroke-width="1.6"/>
<path d="M417.6 134.1 V129.1" stroke="#a09890" stroke-width="0.55"/>
<path d="M429 134.1 V125.1" stroke="#a09890" stroke-width="0.55"/>
<path d="M440.4 134.1 V123.1" stroke="#a09890" stroke-width="0.55"/>
<path d="M451.9 134.1 V125.1" stroke="#a09890" stroke-width="0.55"/>
<path d="M474.7 134.1 V130.6" stroke="#a09890" stroke-width="0.55"/>
<path d="M486.1 134.1 V130.6" stroke="#a09890" stroke-width="0.55"/>
<path d="M497.5 134.1 V129.1" stroke="#a09890" stroke-width="0.55"/>
<path d="M463.3 119.3 C464.4 122.3 466.9 123.7 466.9 127.4 C466.9 130.4 465.1 133.5 464.5 134.1 L462 134.1 C461.5 133.5 459.7 130.4 459.7 127.4 C459.7 123.7 462.2 122.3 463.3 119.3 Z" fill="#5bbcc8" stroke="#333" stroke-width="0.25"/>
<text x="419" y="139.3" font-size="5.8" fill="#333" text-anchor="end" transform="rotate(-46 419 139.3)">ILCH_1</text>
<text x="430.4" y="139.3" font-size="5.8" fill="#333" text-anchor="end" transform="rotate(-46 430.4 139.3)">ILCH_2</text>
<text x="441.8" y="139.3" font-size="5.8" fill="#333" text-anchor="end" transform="rotate(-46 441.8 139.3)">ILCH_3</text>
<text x="453.3" y="139.3" font-size="5.8" fill="#333" text-anchor="end" transform="rotate(-46 453.3 139.3)">ILCH_4</text>
<text x="464.7" y="139.3" font-size="5.8" fill="#333" text-anchor="end" transform="rotate(-46 464.7 139.3)">ILCH_5</text>
<text x="476.1" y="139.3" font-size="5.8" fill="#333" text-anchor="end" transform="rotate(-46 476.1 139.3)">ILCH_6</text>
<text x="487.5" y="139.3" font-size="5.8" fill="#333" text-anchor="end" transform="rotate(-46 487.5 139.3)">ILCH_7</text>
<text x="498.9" y="139.3" font-size="5.8" fill="#333" text-anchor="end" transform="rotate(-46 498.9 139.3)">ILCH_8</text>
<text x="376.5" y="43.6" font-size="5.7" fill="#2a2a2a" text-anchor="middle" transform="rotate(-90 376.5 43.6)">Low entropy</text>
<text x="384.8" y="43.6" font-size="5.7" fill="#2a2a2a" text-anchor="middle" transform="rotate(-90 384.8 43.6)">LCH subset</text>
<text x="376.5" y="104.6" font-size="5.7" fill="#2a2a2a" text-anchor="middle" transform="rotate(-90 376.5 104.6)">High entropy</text>
<text x="384.8" y="104.6" font-size="5.7" fill="#2a2a2a" text-anchor="middle" transform="rotate(-90 384.8 104.6)">LCH subset</text>
<path d="M25.8 188.8 V273.8 H99.4" fill="none" stroke="#222" stroke-width="0.8"/>
<path d="M23.6 201.9 H25.8" stroke="#222" stroke-width="0.6"/>
<text x="21.4" y="204.1" font-size="6.4" fill="#333" text-anchor="end">0.6</text>
<path d="M23.6 228.3 H25.8" stroke="#222" stroke-width="0.6"/>
<text x="21.4" y="230.5" font-size="6.4" fill="#333" text-anchor="end">0.4</text>
<path d="M23.6 254.7 H25.8" stroke="#222" stroke-width="0.6"/>
<text x="21.4" y="256.9" font-size="6.4" fill="#333" text-anchor="end">0.2</text>
<path d="M39.2 273.8 V276.2" stroke="#222" stroke-width="0.6"/>
<path d="M62.4 273.8 V276.2" stroke="#222" stroke-width="0.6"/>
<path d="M85.7 273.8 V276.2" stroke="#222" stroke-width="0.6"/>
<text x="40.6" y="279.4" font-size="5.0" fill="#333" text-anchor="end" transform="rotate(-45 40.6 279.4)">iLCH</text>
<text x="63.8" y="279.4" font-size="5.0" fill="#333" text-anchor="end" transform="rotate(-45 63.8 279.4)">LCH_GSE133706</text>
<text x="87.1" y="279.4" font-size="5.0" fill="#333" text-anchor="end" transform="rotate(-45 87.1 279.4)">LC_E-MTAB-8142</text>
<text x="62.3" y="184.7" font-size="6.2" fill="#333" text-anchor="middle">LCH_GSE173923</text>
<path d="M39.2 194.7 V270.7" stroke="#1a1a1a" stroke-width="1.0"/>
<path d="M39.5 204.5C40.1 204.9 41.4 206.1 42.7 207C44 207.9 46.1 209 47.2 210C48.4 211 49.5 211.9 49.6 213C49.7 214.1 48.7 215.3 47.7 216.5C46.7 217.7 44.9 218.9 43.7 220C42.6 221.1 41.5 222 40.8 223C40.2 224 40.2 225.5 39.8 226C39.4 226.5 39 226.5 38.6 226C38.2 225.5 38.2 224 37.6 223C37 222 35.9 221.1 34.7 220C33.6 218.9 31.7 217.7 30.7 216.5C29.7 215.3 28.7 214.1 28.8 213C28.9 211.9 30.1 211 31.2 210C32.4 209 34.4 207.9 35.7 207C37 206.1 38.3 204.9 38.9 204.5C39.5 204.1 38.9 204.1 39.5 204.5" fill="#e8a040" stroke="#2a2a2a" stroke-width="0.45"/>
<path d="M39.2 223 V270.7" stroke="#1a1a1a" stroke-width="1.0"/>
<rect x="37.9" y="210.5" width="2.6" height="8.5" fill="#c8c8c8" stroke="#222" stroke-width="0.4"/>
<circle cx="39.2" cy="214.8" r="0.6" fill="#fff" stroke="#222" stroke-width="0.3"/>
<path d="M62.4 191 V263.3" stroke="#1a1a1a" stroke-width="1.0"/>
<path d="M62.8 198.5C63.5 198.9 65.1 199.9 66.4 201C67.8 202.1 69.9 203.7 70.9 205C71.9 206.3 72.4 207.5 72.6 209C72.8 210.5 72.6 212.3 71.9 214C71.2 215.7 69.6 217.3 68.4 219C67.2 220.7 65.8 222.5 64.9 224C64 225.5 63.5 227.3 63 228C62.5 228.7 62.3 228.7 61.8 228C61.3 227.3 60.8 225.5 59.9 224C59 222.5 57.6 220.7 56.4 219C55.2 217.3 53.6 215.7 52.9 214C52.2 212.3 52 210.5 52.2 209C52.4 207.5 52.9 206.3 53.9 205C54.9 203.7 57 202.1 58.4 201C59.8 199.9 61.3 198.9 62 198.5C62.7 198.1 62.1 198.1 62.8 198.5" fill="#c0393b" stroke="#2a2a2a" stroke-width="0.45"/>
<path d="M62.4 225 V263.3" stroke="#1a1a1a" stroke-width="1.0"/>
<rect x="61.1" y="205" width="2.6" height="11" fill="#c8c8c8" stroke="#222" stroke-width="0.4"/>
<circle cx="62.4" cy="210.5" r="0.6" fill="#fff" stroke="#222" stroke-width="0.3"/>
<path d="M86 219.5C86.5 220.2 87.5 222.2 88.2 224C88.9 225.8 89.4 228 90.2 230C91 232 92.2 234 93.2 236C94.2 238 95.7 240.2 95.9 242C96.1 243.8 95.2 245.3 94.2 247C93.2 248.7 90.9 250.5 89.7 252C88.5 253.5 87.5 255 86.9 256C86.3 257 86.2 257.7 86 258C85.8 258.3 85.7 258.3 85.4 258C85.2 257.7 85.1 257 84.5 256C83.9 255 82.9 253.5 81.7 252C80.5 250.5 78.2 248.7 77.2 247C76.2 245.3 75.3 243.8 75.5 242C75.7 240.2 77.2 238 78.2 236C79.2 234 80.4 232 81.2 230C82 228 82.5 225.8 83.2 224C83.9 222.2 84.9 220.2 85.4 219.5C85.9 218.8 85.5 218.8 86 219.5" fill="#5b8fd6" stroke="#2a2a2a" stroke-width="0.45"/>
<path d="M85.7 228 V252" stroke="#1a1a1a" stroke-width="0.5"/>
<rect x="84.4" y="237" width="2.6" height="9" fill="#c8c8c8" stroke="#222" stroke-width="0.4"/>
<circle cx="85.7" cy="241.5" r="0.6" fill="#fff" stroke="#222" stroke-width="0.3"/>
<path d="M121.6 189.8 V274.3 H195.3" fill="none" stroke="#222" stroke-width="0.8"/>
<path d="M119.4 210.3 H121.6" stroke="#222" stroke-width="0.6"/>
<text x="117.2" y="212.5" font-size="6.4" fill="#333" text-anchor="end">0.6</text>
<path d="M119.4 233.7 H121.6" stroke="#222" stroke-width="0.6"/>
<text x="117.2" y="235.9" font-size="6.4" fill="#333" text-anchor="end">0.4</text>
<path d="M119.4 256.3 H121.6" stroke="#222" stroke-width="0.6"/>
<text x="117.2" y="258.5" font-size="6.4" fill="#333" text-anchor="end">0.2</text>
<path d="M137 274.3 V276.7" stroke="#222" stroke-width="0.6"/>
<path d="M160 274.3 V276.7" stroke="#222" stroke-width="0.6"/>
<path d="M182.7 274.3 V276.7" stroke="#222" stroke-width="0.6"/>
<text x="138.4" y="279.9" font-size="5.0" fill="#333" text-anchor="end" transform="rotate(-45 138.4 279.9)">iLCH</text>
<text x="161.4" y="279.9" font-size="5.0" fill="#333" text-anchor="end" transform="rotate(-45 161.4 279.9)">LCH_GSE133706</text>
<text x="184.1" y="279.9" font-size="5.0" fill="#333" text-anchor="end" transform="rotate(-45 184.1 279.9)">LC_E-MTAB-8142</text>
<text x="159.3" y="184.7" font-size="6.2" fill="#333" text-anchor="middle">LCH_GSE133706</text>
<path d="M137 206 V269" stroke="#1a1a1a" stroke-width="1.0"/>
<path d="M137.4 207.5C138.1 207.9 139.7 208.8 141 210C142.3 211.2 144.4 213.3 145.5 215C146.6 216.7 147.2 218.2 147.4 220C147.6 221.8 147.2 224 146.5 226C145.8 228 144.1 230 143 232C141.9 234 140.8 236.2 140 238C139.2 239.8 138.4 241.7 138 243C137.6 244.3 137.6 245.5 137.4 246C137.2 246.5 136.8 246.5 136.6 246C136.4 245.5 136.4 244.3 136 243C135.6 241.7 134.8 239.8 134 238C133.2 236.2 132.1 234 131 232C129.9 230 128.2 228 127.5 226C126.8 224 126.4 221.8 126.6 220C126.8 218.2 127.4 216.7 128.5 215C129.6 213.3 131.7 211.2 133 210C134.3 208.8 135.9 207.9 136.6 207.5C137.3 207.1 136.7 207.1 137.4 207.5" fill="#e8a040" stroke="#2a2a2a" stroke-width="0.45"/>
<path d="M137 240 V269" stroke="#1a1a1a" stroke-width="1.0"/>
<rect x="135.7" y="216" width="2.6" height="12" fill="#c8c8c8" stroke="#222" stroke-width="0.4"/>
<circle cx="137" cy="222" r="0.6" fill="#fff" stroke="#222" stroke-width="0.3"/>
<path d="M160 189.8 V270" stroke="#1a1a1a" stroke-width="1.0"/>
<path d="M160.4 196.5C161.1 196.9 162.7 197.8 164 199C165.3 200.2 167.4 202.3 168.5 204C169.6 205.7 170.6 207.2 170.8 209C171.1 210.8 170.6 213.2 170 215C169.4 216.8 168.2 218.3 167 220C165.8 221.7 164 223.5 163 225C162 226.5 161.2 227.8 160.8 229C160.4 230.2 160.5 231.5 160.3 232C160.1 232.5 159.9 232.5 159.7 232C159.5 231.5 159.6 230.2 159.2 229C158.8 227.8 158 226.5 157 225C156 223.5 154.2 221.7 153 220C151.8 218.3 150.6 216.8 150 215C149.4 213.2 148.9 210.8 149.2 209C149.4 207.2 150.4 205.7 151.5 204C152.6 202.3 154.7 200.2 156 199C157.3 197.8 158.9 196.9 159.6 196.5C160.3 196.1 159.7 196.1 160.4 196.5" fill="#c0393b" stroke="#2a2a2a" stroke-width="0.45"/>
<path d="M160 228 V270" stroke="#1a1a1a" stroke-width="1.0"/>
<rect x="158.7" y="204" width="2.6" height="11" fill="#c8c8c8" stroke="#222" stroke-width="0.4"/>
<circle cx="160" cy="209.5" r="0.6" fill="#fff" stroke="#222" stroke-width="0.3"/>
<path d="M182.7 216.8 V261.7" stroke="#1a1a1a" stroke-width="0.9"/>
<path d="M183.1 232.5C183.8 232.9 185.1 233.9 186.2 235C187.3 236.1 188.6 237.7 189.7 239C190.8 240.3 192.2 241.7 192.7 243C193.2 244.3 193.2 245.7 192.9 247C192.6 248.3 191.7 249.7 190.7 251C189.7 252.3 187.8 253.8 186.7 255C185.6 256.2 184.8 257.2 184.2 258C183.6 258.8 183.4 259.7 183.1 260C182.8 260.3 182.6 260.3 182.3 260C182 259.7 181.8 258.8 181.2 258C180.6 257.2 179.8 256.2 178.7 255C177.6 253.8 175.7 252.3 174.7 251C173.7 249.7 172.8 248.3 172.5 247C172.2 245.7 172.2 244.3 172.7 243C173.2 241.7 174.6 240.3 175.7 239C176.8 237.7 178.1 236.1 179.2 235C180.3 233.9 181.6 232.9 182.3 232.5C182.9 232.1 182.4 232.1 183.1 232.5" fill="#5b8fd6" stroke="#2a2a2a" stroke-width="0.45"/>
<rect x="181.4" y="238" width="2.6" height="10" fill="#c8c8c8" stroke="#222" stroke-width="0.4"/>
<circle cx="182.7" cy="243" r="0.6" fill="#fff" stroke="#222" stroke-width="0.3"/>
<path d="M224.9 188 V274.2 H297.8" fill="none" stroke="#222" stroke-width="0.8"/>
<path d="M222.7 189.8 H224.9" stroke="#222" stroke-width="0.6"/>
<text x="220.5" y="192" font-size="6.4" fill="#333" text-anchor="end">0.125</text>
<path d="M222.7 206 H224.9" stroke="#222" stroke-width="0.6"/>
<text x="220.5" y="208.2" font-size="6.4" fill="#333" text-anchor="end">0.100</text>
<path d="M222.7 222.1 H224.9" stroke="#222" stroke-width="0.6"/>
<text x="220.5" y="224.3" font-size="6.4" fill="#333" text-anchor="end">0.075</text>
<path d="M222.7 238.3 H224.9" stroke="#222" stroke-width="0.6"/>
<text x="220.5" y="240.5" font-size="6.4" fill="#333" text-anchor="end">0.050</text>
<path d="M222.7 254.5 H224.9" stroke="#222" stroke-width="0.6"/>
<text x="220.5" y="256.7" font-size="6.4" fill="#333" text-anchor="end">0.025</text>
<path d="M222.7 270 H224.9" stroke="#222" stroke-width="0.6"/>
<text x="220.5" y="272.2" font-size="6.4" fill="#333" text-anchor="end">0.000</text>
<path d="M237.9 274.2 V276.6" stroke="#222" stroke-width="0.6"/>
<path d="M260.6 274.2 V276.6" stroke="#222" stroke-width="0.6"/>
<path d="M284.3 274.2 V276.6" stroke="#222" stroke-width="0.6"/>
<text x="239.3" y="279.8" font-size="5.0" fill="#333" text-anchor="end" transform="rotate(-45 239.3 279.8)">iLCH</text>
<text x="262" y="279.8" font-size="5.0" fill="#333" text-anchor="end" transform="rotate(-45 262 279.8)">LCH_GSE133706</text>
<text x="285.7" y="279.8" font-size="5.0" fill="#333" text-anchor="end" transform="rotate(-45 285.7 279.8)">LC_E-MTAB-8142</text>
<text x="262" y="184.7" font-size="6.2" fill="#333" text-anchor="middle">LCH_GSE35340</text>
<path d="M237.9 194.5 V267.7" stroke="#1a1a1a" stroke-width="1.0"/>
<path d="M238.2 211.7C239.1 213.1 241.6 217.3 242.9 220C244.2 222.7 245.1 225.1 245.9 228C246.7 230.9 247.7 234.4 247.6 237.6C247.5 240.8 246.3 244.1 245.4 247C244.5 249.9 243.1 252.4 241.9 255C240.7 257.6 239.2 261.2 238.4 262.4C237.7 263.6 238.2 263.6 237.4 262.4C236.7 261.2 235.1 257.6 233.9 255C232.7 252.4 231.3 249.9 230.4 247C229.5 244.1 228.3 240.8 228.2 237.6C228.1 234.4 229.1 230.9 229.9 228C230.7 225.1 231.6 222.7 232.9 220C234.2 217.3 236.7 213.1 237.6 211.7C238.5 210.3 237.3 210.3 238.2 211.7" fill="#e8a040" stroke="#2a2a2a" stroke-width="0.45"/>
<path d="M237.9 228 V248" stroke="#1a1a1a" stroke-width="0.6"/>
<rect x="236.3" y="231" width="3.2" height="14" fill="#c8c8c8" stroke="#222" stroke-width="0.4"/>
<circle cx="237.9" cy="238" r="0.6" fill="#fff" stroke="#222" stroke-width="0.3"/>
<path d="M260.6 192.3 V210" stroke="#1a1a1a" stroke-width="1.0"/>
<path d="M261.2 206.5C261.6 206.9 261.4 207.8 262.1 209C262.8 210.2 264.4 212.2 265.6 214C266.9 215.8 268.7 217.7 269.6 220C270.5 222.3 271 225.3 270.8 228C270.6 230.7 269.6 233.3 268.6 236C267.6 238.7 265.6 241.7 264.6 244C263.6 246.3 263.1 247.7 262.8 250C262.6 252.3 262.6 255.7 263.1 258C263.6 260.3 264.7 262.3 265.6 264C266.5 265.7 268 266.9 268.6 268C269.2 269.1 271.9 269.9 269.1 270.3C266.4 270.7 254.9 270.7 252.1 270.3C249.4 269.9 252 269.1 252.6 268C253.2 266.9 254.7 265.7 255.6 264C256.5 262.3 257.6 260.3 258.1 258C258.6 255.7 258.7 252.3 258.4 250C258.2 247.7 257.6 246.3 256.6 244C255.6 241.7 253.6 238.7 252.6 236C251.6 233.3 250.6 230.7 250.4 228C250.2 225.3 250.7 222.3 251.6 220C252.5 217.7 254.4 215.8 255.6 214C256.9 212.2 258.4 210.2 259.1 209C259.8 207.8 259.6 206.9 260 206.5C260.4 206.1 260.9 206.1 261.2 206.5" fill="#c0393b" stroke="#2a2a2a" stroke-width="0.45"/>
<rect x="259.2" y="224.6" width="2.8" height="25.9" fill="#c8c8c8" stroke="#222" stroke-width="0.4"/>
<circle cx="260.6" cy="237.6" r="0.6" fill="#fff" stroke="#222" stroke-width="0.3"/>
<path d="M284.3 260.2 V270" stroke="#1a1a1a" stroke-width="0.8"/>
<path d="M273.5 270.3 H294" stroke="#222" stroke-width="0.6"/>
<path d="M376.6 245.6h.1M375.6 209.6h.1M366.6 228.9h.1M384.7 236.7h.1M367.7 191.8h.1M392.2 234.6h.1M385.1 254.7h.1M366.6 212.9h.1M367.9 251h.1M383.1 261.7h.1M367.4 253.9h.1M374.7 227.8h.1M386.9 254.1h.1M383.3 259h.1M395.1 250.5h.1M363.3 221.6h.1M376.5 198h.1M375.6 222.8h.1M377.1 257.9h.1M362.9 243.3h.1M379.2 225.7h.1M358.8 191.4h.1M361.2 220.6h.1M394.2 241.7h.1M374.7 212.4h.1M385.7 218.6h.1M387.9 227.6h.1M381.4 242.7h.1M377.1 256.4h.1M363.6 243h.1M378.1 203h.1M376.4 260.1h.1M377.7 237h.1M376.1 218.3h.1M375.5 235.9h.1M378.8 231.1h.1M376.3 200.1h.1M376.1 216.7h.1M375.4 208.1h.1M377 252.8h.1M389.3 259.4h.1M371.2 212.7h.1M375.6 246.3h.1M384.7 260.2h.1M382.7 249.5h.1M361.1 197h.1M393.3 254.9h.1M369.1 207.6h.1M364.6 218.8h.1M369 215.1h.1M386.6 243.1h.1M386.7 222.5h.1M389.8 232.9h.1M368.9 232.4h.1M382.6 251.1h.1M389.6 244.5h.1M376.7 206.7h.1M386.9 224.6h.1M371.9 228.4h.1M364.6 193h.1M395.6 247.7h.1M365.5 212.1h.1M373.1 255.8h.1M364.5 218.5h.1M376.7 226.7h.1M386.2 260.8h.1M366.1 226h.1M366.4 235.6h.1M392.6 260.8h.1M369.7 212.3h.1M381.5 253.1h.1M398 244.1h.1M390.5 251.9h.1M389.5 230.6h.1M383.9 217.1h.1M369 234.4h.1M394 244.5h.1M367.7 208.9h.1M365.3 244.8h.1M382.5 224.8h.1M377.1 253h.1M365.5 200.9h.1M382 226.4h.1M381.9 249.1h.1M382.2 250.1h.1M357.8 216.6h.1M390.3 260.3h.1M383.4 257.7h.1M377.6 220.7h.1M373.1 192.5h.1M366.4 212.3h.1M391.4 245.4h.1M374.3 255.9h.1M377.7 204.1h.1M367.7 213.9h.1M383.8 237.2h.1M383.4 231.6h.1M389.4 224.1h.1M394.9 247.6h.1M366.3 211.1h.1M377.6 220h.1M372.2 231.3h.1M379.8 204.7h.1M373.5 254.9h.1M372.9 205.1h.1M369.2 235.5h.1M361.5 190.2h.1M361.1 204.1h.1M364.9 235.4h.1M365.7 247.2h.1M371.1 221.1h.1M363.6 212.2h.1M388.7 230.4h.1M398.5 249.1h.1M379.7 252.2h.1M369.2 232.9h.1M357.9 219.6h.1M380.3 240.5h.1M360.3 219.1h.1M368.4 250.7h.1M395.3 236h.1M375.8 247.1h.1M365 204.3h.1M360.3 190.1h.1M378.6 245.9h.1M359.2 218.5h.1M389.8 225.8h.1M386.2 235h.1M392.6 238.7h.1M367.5 232.5h.1M385.8 228.2h.1M383.9 224.9h.1M390.8 233.8h.1M392 229.2h.1M364.4 191.7h.1M375.9 204.8h.1M359.6 193.7h.1M398.6 246.9h.1M374 236.3h.1M369.5 215.5h.1M386.4 222.9h.1M378.9 258.2h.1M359.4 203.6h.1M371.4 237.1h.1M358.5 195.2h.1M371.7 242.4h.1M364.5 208.1h.1M370.3 212.9h.1M394.9 240.4h.1M372.9 213.3h.1M371.9 195.6h.1M385.2 241.6h.1M386.5 242.8h.1M380.8 222.1h.1M382.9 237.6h.1M361.3 200.5h.1M367.3 225.7h.1M375 198h.1M373.9 214.7h.1M389.3 257.1h.1M374.1 195.5h.1M374.2 241.4h.1M369.1 196.3h.1M386.9 235.9h.1M356.1 194.6h.1M376 249.4h.1M370.8 216.5h.1M380.1 236.6h.1M366.6 210.3h.1M378.2 244h.1M367.6 233.4h.1M388.1 246.1h.1M372.2 234.3h.1M395.8 242.5h.1M367.9 227.8h.1M373.5 213.9h.1M375.6 202.9h.1M364.1 210.6h.1M371.4 223.2h.1M392.8 253h.1M372.4 214.2h.1M380.3 232.7h.1M387.6 246.9h.1M363.4 220.5h.1M366.9 212.9h.1M362.1 224.8h.1M361.6 212h.1M367.6 227.8h.1M383.2 236.3h.1M376.2 202.4h.1M369.8 197.7h.1M384.5 241.8h.1M362.4 212.5h.1M370.8 225.3h.1M389.2 261.1h.1M366.7 211h.1M398.2 252.2h.1M362 216.8h.1M358.7 194.4h.1M362.1 251.2h.1" stroke="#3a3a3a" stroke-width="0.65" stroke-linecap="round" stroke-opacity="0.7"/>
<path d="M369.9 211.4h.1M364.9 196.3h.1M370.8 201.6h.1M375.2 207.1h.1M374.9 205.5h.1M376.5 213h.1M374.9 200.3h.1M376.6 204h.1M369.4 214.2h.1M370.9 204.6h.1M375.6 198.2h.1M375.1 200.5h.1M370.4 200.4h.1M367.1 205.6h.1M370.5 207.8h.1M372.9 202.4h.1M380.1 205.4h.1M366.9 197.1h.1M374.8 210h.1M363 192.5h.1M378.7 211.4h.1M373 194.6h.1M374.6 213.5h.1M365.4 203.7h.1M369.5 212.2h.1M379.5 201.5h.1M375.2 213.6h.1M369.7 201.9h.1M371.2 191.6h.1M373.2 213.2h.1M371.4 213.3h.1M363.7 204.5h.1M380.2 202.1h.1M367.8 198.6h.1M364.8 196.8h.1M376.2 196.8h.1M377.7 203.3h.1M381.6 208.1h.1M376.6 211.9h.1M370.4 210.8h.1M370.7 203.7h.1M375.1 198.3h.1M375.6 205.7h.1M378.7 203h.1M374.3 196.2h.1M378.3 209.8h.1M373.7 193.2h.1M367.4 194.9h.1M373.8 194.1h.1M369.2 214.8h.1M367 203.3h.1M370.6 191.8h.1M372 199.7h.1M372 208.8h.1M376.1 206.2h.1M367.2 200.7h.1M367.1 200h.1M381.4 208.9h.1M368.9 191.9h.1M379.8 207.5h.1M366.1 205.9h.1M363.1 202.7h.1M377.9 202.8h.1M367.7 202.1h.1M365.5 197.7h.1M374.2 212.5h.1M368.4 206.7h.1M373.5 206h.1M361.6 201.2h.1M379.8 206.2h.1M378.5 205.9h.1M371.2 191.4h.1M370.9 214.9h.1M364.9 205.7h.1M368.5 200.8h.1M368.7 210.2h.1M370.9 206h.1M368.5 197.3h.1M380.2 209.4h.1M367.5 202.4h.1M363.8 192.7h.1M362.5 200h.1M370.6 198.8h.1M378.4 207.4h.1M376.2 202.6h.1M369.8 205.6h.1M370.5 194.9h.1M381.5 208.7h.1M368.2 208.3h.1M364.8 198.8h.1M369.2 205.8h.1M375.1 209.6h.1M368.1 203.4h.1M366.3 206.9h.1M363.7 199.4h.1M373.2 195.8h.1M377.8 210.4h.1M373 202h.1M376.7 196.7h.1M366.1 193.6h.1M363.6 198.8h.1M373.4 193.4h.1M372 198.2h.1M362.7 195.9h.1M378.4 213.3h.1M365.6 210.2h.1M362 201h.1M364.5 192.4h.1M370.8 205.5h.1M380.9 212.4h.1M380.2 204.1h.1M376.4 201.9h.1M367.2 203.4h.1M369.3 190.8h.1M375.5 201.5h.1M379.2 200.9h.1M365.5 202.3h.1M361.7 198.1h.1M375.4 204.5h.1M380.8 203.1h.1M364.1 201.3h.1M368 195.9h.1M377.7 210.6h.1M369.3 195.2h.1M364.9 196.2h.1M375.3 199.5h.1M378.7 214h.1M376 200h.1M369.3 208.9h.1M367.8 197.1h.1M370.8 195.3h.1M374.8 204.2h.1M379.6 206.9h.1M362.6 199.1h.1M378.4 209.3h.1M367.5 206.9h.1M362.5 192.6h.1M373.8 200.2h.1M376.9 206.4h.1M368.7 196.6h.1M370.8 189.4h.1M374 199.9h.1M377.3 211.4h.1M366 200.9h.1M364.9 209.2h.1M369.3 195.9h.1M369.3 196.6h.1M377 213h.1M373.5 213.6h.1M367.7 199.3h.1M375.1 201.8h.1M378.1 202.5h.1M363.4 198.1h.1M375.9 207.2h.1M362.6 204.9h.1M380.8 209.5h.1M364 198.1h.1M370.3 210.2h.1M371 214h.1M362.8 199.6h.1M375.1 212.2h.1M380.5 211.6h.1M379.9 202.8h.1M370.1 202.2h.1M372.8 195h.1M365.2 210.9h.1M365.1 202.6h.1M369.2 206h.1M368.4 205.9h.1M364.8 199.2h.1M372 199h.1M371.9 203.4h.1M369.8 195.1h.1M369.6 210.9h.1M366.9 212.5h.1M374 203.9h.1M365.9 194.6h.1M375.3 194.4h.1M370.9 200.9h.1M365.8 193.3h.1M364 199.7h.1M376.2 202.3h.1M366.8 204.2h.1M366.5 202.2h.1M369.7 212.6h.1M373.8 208.5h.1M377 214.3h.1M376.4 212.5h.1M371.7 192.4h.1M367.5 207.2h.1M378.4 205.3h.1M369.7 190.6h.1M371.5 204.7h.1M371.6 209.2h.1M373.6 203.9h.1M365.4 199.3h.1M364.7 192.5h.1M366.6 196.8h.1M368.5 195.6h.1M369.2 194.9h.1M363.8 207.9h.1M367.6 198.1h.1M363 205.5h.1M373.1 209.9h.1M370.3 198.4h.1M368.1 207.8h.1M377.3 196.6h.1M373.5 197.4h.1M363.2 194h.1M369.9 210.9h.1M368.2 201.3h.1M378.7 206.1h.1M369.5 209h.1M380 201.7h.1M364.3 208.8h.1M363.5 208h.1M372.3 215.3h.1M367.9 198.5h.1M362.1 199.8h.1M365.6 204.5h.1M375 202.5h.1M376.5 200.1h.1M374 209.2h.1M369 211.2h.1M373.3 199.7h.1M373 204.3h.1M377.8 207.4h.1M375 208.8h.1M365.1 207.2h.1M363.2 200h.1M370 191.8h.1M370.8 209.5h.1M375.9 196h.1M364.8 191.2h.1M364.9 196.8h.1M376 204.7h.1M371.1 215.3h.1M377.8 204.3h.1M365.3 201h.1M363.1 206.7h.1M373.4 198.5h.1M366 203.9h.1M365.9 201.5h.1M361.5 197.1h.1M376.5 197.4h.1M370 194h.1M375.1 196.6h.1M365.7 207.7h.1M381.2 205.1h.1M368.3 200.8h.1M362.8 198.4h.1M366.1 206.1h.1M371.6 213.2h.1M367.8 191.5h.1M377.8 203.5h.1M381.2 207.5h.1M364.1 199.4h.1M372.3 204.2h.1M374.5 213.3h.1M366.3 209.7h.1M371.8 196.9h.1M370.7 207h.1M369.8 214.7h.1M381.6 209.3h.1M374.9 202.6h.1M368.8 196.6h.1M367.4 195.3h.1M369.8 191.2h.1M365.6 202.7h.1M370.1 210.1h.1M369.7 207.5h.1M367.7 195.1h.1M370.5 189h.1M376.8 210.3h.1M378.5 199h.1M362.6 202.2h.1M373.7 213.6h.1M368.9 195.1h.1M377.6 210.9h.1M373.5 212h.1M374.9 199.2h.1M373.5 200.8h.1M362.9 200.3h.1M368.9 200.7h.1M380.4 205.9h.1M367.6 207.5h.1M372.7 207.5h.1M371.3 195.6h.1M379.7 212.8h.1M373.8 192.5h.1M368.6 195.3h.1M369.2 191.3h.1M363.4 207.9h.1M372.4 208.7h.1M373.7 201.3h.1M378.8 201.6h.1M366.9 200.6h.1M378.2 205.9h.1M376.8 205.5h.1M369.2 199.7h.1" stroke="#3a3a3a" stroke-width="0.75" stroke-linecap="round" stroke-opacity="0.75"/>
<path d="M364.8 178.4 L371.7 174 L382 173.2 L392.5 178.4 L399.4 183.6 L404.6 187 L405.4 195.7 L402.9 202.6 L404.6 209.5 L404.6 216.4 L401.1 219.9 L400 226 L394.2 229 L385.6 228.5 L376.9 226 L371.5 222 L371 215 L376 215 L382 213 L381 203 L376 195 L369 190 L364 186Z" fill="#b5262a" fill-opacity="0.5"/>
<path d="M394.2 183.5h.1M379.1 191.1h.1M384.7 201.9h.1M382.6 202.2h.1M392.5 210.2h.1M388 179.3h.1M390.2 223.4h.1M384.9 188.7h.1M379.4 225.9h.1M392.7 209.8h.1M389.9 227.2h.1M384.5 178.3h.1M383 178.7h.1M398.1 194.4h.1M388.9 191.9h.1M404.1 218.2h.1M381.3 205.6h.1M387.9 201.6h.1M391.3 206.9h.1M386.2 187.7h.1M398.8 209h.1M392.8 211.3h.1M385.4 191.7h.1M389.6 180.6h.1M387.6 212.9h.1M397 189.8h.1M373.9 190.5h.1M387.2 179.6h.1M368.8 176.3h.1M382.3 220.4h.1M388.1 226.2h.1M384.4 176.4h.1M383.9 211.6h.1M371.9 188.5h.1M382.7 195.5h.1M398.4 219.9h.1M386.4 208.3h.1M392.6 193.3h.1M398.8 223.3h.1M390.6 187h.1M384.1 217.7h.1M405.6 188.6h.1M393.6 187.5h.1M364.8 182.6h.1M368.9 176.3h.1M396.1 183.9h.1M366.2 185.3h.1M382.4 225.3h.1M398.4 197h.1M378.3 193.8h.1M385.2 199.6h.1M395.5 190.5h.1M403 189.6h.1M373 219.5h.1M373.3 223h.1M389.6 204.8h.1M380.1 175.9h.1M376.4 184.5h.1M366.5 181.3h.1M382.6 177h.1M390.9 217.6h.1M392.5 213.7h.1M377.9 216.2h.1M385.1 200.2h.1M390.3 224.7h.1M395.9 219.1h.1M392.1 181.6h.1M386.5 179.9h.1M379.3 174.4h.1M381.6 183.1h.1M371.5 186.2h.1M385.9 194.1h.1M367.4 175.6h.1M397.5 224.6h.1M402.5 205.8h.1M393 224.9h.1M396.4 181.2h.1M399.7 216.4h.1M384.3 222.9h.1M374.5 192.5h.1M401.4 206.8h.1M391.1 193h.1M401.9 197h.1M388 205.2h.1M380.3 189.5h.1M364.4 183h.1M384.4 188.7h.1M391.8 187.1h.1M389.7 209.4h.1M389.9 194h.1M382.7 202.2h.1M380.2 186.4h.1M389.6 226.5h.1M399.6 200.4h.1M402.6 187.7h.1M391 221.6h.1M391.2 205.2h.1M392.7 186.7h.1M386 202.8h.1M394.1 214.9h.1M394.2 224.5h.1M400.8 210.6h.1M392.2 190.1h.1M374.9 220.5h.1M385.5 181.8h.1M383.8 175.4h.1M392.3 221.5h.1M383.8 226.3h.1M393.8 181.4h.1M393.9 198h.1M395.9 208.9h.1M404.2 202.4h.1M392.2 180.8h.1M367.3 182.1h.1M396.9 207.4h.1M398.3 192.8h.1M370 185.9h.1M394.6 197.2h.1M401.5 210.5h.1M396.9 181.5h.1M382.4 203.9h.1M390.1 180.4h.1M370.8 188.9h.1M400.6 193.4h.1M380.6 195.2h.1M380.3 183.8h.1M387.2 183h.1M404.3 191.2h.1M388.7 205.2h.1M394.7 190.2h.1M376.8 215.6h.1M384.9 225h.1M395.9 197h.1M387.8 212.8h.1M399.4 192.6h.1M381.9 191h.1M385.8 203.3h.1M383.1 206.4h.1M400.3 190.4h.1M384.7 213.8h.1M400.1 225.9h.1M394.7 205.6h.1M390.5 190.5h.1M381.9 193.1h.1M389 207.1h.1M394.1 196.5h.1M379.5 201.8h.1M398.5 220.1h.1M384.7 174.5h.1M395.7 190.6h.1M399.6 207h.1M398 204.5h.1M395 188.6h.1M386.1 188.3h.1M400.2 200.8h.1M375.7 221h.1M389.9 190.6h.1M401.8 187.7h.1M396.1 203.8h.1M376.3 223.8h.1M385.8 210.2h.1M387.1 207.8h.1M388.7 206.9h.1M393.8 197.7h.1M376.7 225.6h.1M403.4 208.4h.1M389.7 192.2h.1M391.2 191.9h.1M394.1 198.5h.1M394.7 224.6h.1M378.6 215.1h.1M390.1 177.9h.1M389.5 223.8h.1M398.8 194h.1M383.6 217.5h.1M405.7 194.2h.1M394.4 183.2h.1M377.8 179h.1M385.4 202.8h.1M402.4 196.9h.1M374.1 174.5h.1M383.5 197.7h.1M377.6 175.3h.1M378.1 179.8h.1M364.7 184.9h.1M379.7 198.5h.1M399.3 199h.1M399.4 196.3h.1M400.9 196.5h.1M373.9 185.5h.1M379.4 177.7h.1M396.3 187.6h.1M398.7 185.4h.1M399.6 190.1h.1M396.5 193.2h.1M398.3 203.7h.1M389.3 180.9h.1M391.2 218.6h.1M401.9 207.6h.1M381.4 174.4h.1M385.8 182.8h.1M381.7 175.4h.1M369.6 186.3h.1M397.5 209.5h.1M400 193h.1M387.6 216.1h.1M386.8 193.4h.1M396 184.3h.1M374.2 188.8h.1M390.7 197.2h.1M401 214h.1M384.3 211.2h.1M385.6 178.8h.1M396.9 213.7h.1M394.8 186h.1M385.3 191.7h.1M391.2 181.7h.1M371.6 188.6h.1M371.9 178.1h.1M385.4 215.1h.1M382.6 206.1h.1M385.2 219.3h.1M389.3 218.5h.1M393.5 183.8h.1M392.3 212.7h.1M385.8 217.4h.1M401 207.9h.1M383.3 218.9h.1M389.6 201.2h.1M370.3 187.9h.1M391.3 226h.1M391.2 184.8h.1M394.3 198.9h.1M392.1 202.8h.1M384.8 187.5h.1M384.4 215.2h.1M375.8 182.3h.1M403.6 209.6h.1M388.7 202.4h.1M405.7 196.3h.1M382.2 208.6h.1M381.8 175.2h.1M368.5 180.5h.1M399.1 209.8h.1M382.3 212.7h.1M389.7 210h.1M372.6 181.4h.1M387.7 181.2h.1M392.8 223.5h.1M367.8 187.3h.1M386.9 211.6h.1M398.4 189.4h.1M373.6 187.4h.1M399.5 205.5h.1M394.3 198.1h.1M398.7 191.5h.1M371 178.8h.1M398.7 197.3h.1M386.1 205.8h.1M378.6 222.1h.1M377.6 191.9h.1M392.9 193.7h.1M376.4 175h.1M377.3 189.8h.1M383.4 202.6h.1M391.4 195h.1M380.2 219.9h.1M399.7 207.9h.1M400.9 186.7h.1M387.8 183.1h.1M388.9 226.2h.1M390.7 199.8h.1M372.2 180.1h.1M374 182.4h.1M376.9 215.1h.1M396.6 212.7h.1M398.7 210h.1M374.2 177.9h.1M376.3 181.4h.1M373.2 222h.1M383.5 181.9h.1M382.4 227.2h.1M388.2 192.8h.1M391.4 221.2h.1M374.7 186.7h.1M401.5 207.8h.1M391.3 204.8h.1M385.2 199.2h.1M404.2 199.2h.1M378.5 223.1h.1M399.9 219h.1M370.4 177.6h.1M389.6 217.3h.1M395.6 194.4h.1M369.5 177.6h.1M387 215.3h.1M388.6 210.8h.1M384.6 212.6h.1M368.2 179.3h.1M390.6 184.7h.1M392.1 185.4h.1M383.4 184h.1M391.8 204.7h.1M391.7 228.2h.1M379.1 218.3h.1M372.3 187.9h.1M393.2 212.7h.1M396.3 196.4h.1M389.1 187.4h.1M398.1 220.9h.1M391 186h.1M376.3 188.7h.1M395.4 220h.1M400.1 205.5h.1M395.9 186.5h.1M381 185.2h.1M376.7 186h.1M391.9 212.7h.1M392.1 216.3h.1M371.4 187.3h.1M385.8 218.2h.1M394.6 225.7h.1M368.4 180.9h.1M385.7 217.7h.1M403.2 197.1h.1M390.7 177.3h.1M387 200.6h.1M398.3 184.3h.1M371.3 175.2h.1M398.8 192.6h.1M399 203.3h.1M386 201.2h.1M387.5 179.1h.1M381.8 220.4h.1M364.5 178.1h.1M386.2 175.9h.1M394.7 199.8h.1M380.7 179.2h.1M399.9 184.5h.1M379.6 191.6h.1M383.6 177.3h.1M380.1 196.2h.1M384.7 199.4h.1M402.8 198.7h.1M391.2 202.4h.1M399.7 198.1h.1M390.2 216.7h.1M394.4 203.4h.1M395.4 192.5h.1M400 226.1h.1M366.1 181.4h.1M382.8 181.3h.1M388.3 201.6h.1M402.6 213.5h.1M373.6 174.7h.1M390.1 202.5h.1M401.7 210.4h.1M387.6 191.1h.1M399.8 218.4h.1M379.1 218.7h.1M393.3 186.9h.1M379.2 219.5h.1M382.7 178h.1M379.8 222.5h.1M380.6 186.3h.1M402.7 197.1h.1M380.8 222.1h.1M396 179.9h.1M380.4 200.2h.1M389.8 206.3h.1M375.5 193.4h.1M395.6 225.6h.1M396.9 189.2h.1M394.2 213h.1M379.4 216.8h.1M387 194.6h.1M372.5 178.3h.1M390.2 189.4h.1M394.5 202.1h.1M384 225.4h.1M378.2 222.9h.1M387.6 193.7h.1M393.8 212.6h.1M391.7 188.6h.1M375.3 220.6h.1M383.1 227.4h.1M397.6 186.8h.1M385.8 214.7h.1M391.6 226.7h.1M381.4 191.7h.1M387.5 197.1h.1M395.2 197.2h.1M388.4 216.4h.1M384.7 178.9h.1M394.8 225.6h.1M390.3 209.7h.1M376.5 196.3h.1M380 187.3h.1M386.1 175.2h.1M392.5 224.6h.1M384.4 209h.1M380.6 218.3h.1M401.9 216.3h.1M374.1 216.9h.1M386.9 196.4h.1M381.6 209.6h.1M402.8 206.6h.1M379.1 178.9h.1M402.8 208.3h.1M370.3 189.9h.1M383.6 208.9h.1M391.3 206.8h.1M403.4 192.6h.1M390.3 196h.1M377.4 216.5h.1M387 199.2h.1M382.5 193.7h.1M395.3 192.7h.1M381 219h.1M403.7 190.7h.1M390.5 186h.1M386.1 202.2h.1M394.3 181.9h.1M394.4 216.2h.1M386 207.2h.1M383.8 219.6h.1M401.3 214.2h.1M404.4 199.9h.1M389.3 180.9h.1M375.6 220.6h.1M388.1 204.2h.1M382 213.8h.1M383.6 226.7h.1M388 180.9h.1M379.6 181.3h.1M377.2 224h.1M391.7 198.1h.1M384.9 181.3h.1M391.1 210.9h.1M381.4 216.3h.1M379.5 187h.1M399.4 222.1h.1M386.8 176.6h.1M379.5 183.7h.1M383.3 207.5h.1M375.4 189.7h.1M396 197h.1M397.7 203.3h.1M393.6 193h.1M386.4 188.2h.1M388.8 192.8h.1M391.4 181.8h.1M383.3 180h.1M402.2 201h.1M378.1 223h.1M397.3 204.9h.1M377.4 173.3h.1M370.4 188.1h.1M394.8 223.9h.1M377.3 218.3h.1M394.2 226.7h.1M389.3 227.6h.1M391.2 182h.1M371.2 179.3h.1M383.2 189.9h.1M383.9 200.3h.1M371.2 215.5h.1M370.1 187.5h.1M396.4 196.9h.1M382.3 213.8h.1M397.9 186.2h.1M386.3 183.3h.1M384.9 200.6h.1M398.1 188.4h.1M381.5 175.2h.1M388.3 194.6h.1M379.6 197.5h.1M403.2 212h.1M400.8 225.4h.1M385 228.4h.1M376.7 186.1h.1M398.4 191.6h.1M383.4 188.2h.1M378.5 193.9h.1M385.1 212.1h.1M399.5 196.2h.1M378.8 185.9h.1M383.6 215.3h.1M372 221.3h.1M385.4 220.6h.1M394.8 181.4h.1M396.9 181.7h.1M381.8 194h.1M403.1 187.8h.1M394.6 209.9h.1M395.8 214.3h.1M391.7 183.7h.1M395.5 213.4h.1M370.4 178.8h.1M377.4 194.4h.1M378.9 220.3h.1M402.8 190.6h.1M375.1 217h.1M375.8 186.6h.1M379.8 196.1h.1M396.7 202h.1M404.2 215.4h.1M397.5 216.7h.1M392.1 191.6h.1M386.4 179.4h.1M389.3 224.9h.1M393 200h.1M387.4 208.3h.1M399.6 185.4h.1M370.5 175.9h.1M377.4 199.4h.1M394.4 195.6h.1M381.3 222.6h.1M383.7 209.8h.1M398.8 206.4h.1M399.7 193.5h.1M385.3 177.9h.1M375.2 184.7h.1M374 216.2h.1M392.1 191.1h.1M388.2 182h.1M390.7 210.7h.1M387.1 220h.1M386.6 193.4h.1M372.5 182.3h.1M379.1 198.5h.1M394 212.8h.1M377.3 221.4h.1M384.8 221.2h.1M376.2 187.4h.1M393.6 190.2h.1M384.4 183h.1M401.8 200.3h.1M396.2 196.6h.1M393.9 213.3h.1M397.4 224h.1M401.3 192.2h.1M373.5 217.2h.1M377 219.8h.1M389.6 217.8h.1M371.6 191.2h.1M397.5 196.3h.1M388 225.8h.1M385.9 185.5h.1M394.6 192.5h.1M391.2 187.4h.1M380.6 179.1h.1M398.8 198.4h.1M386.3 219.3h.1M386.9 196.8h.1M389.2 220.4h.1M396.8 225.3h.1M395.2 207.7h.1M378.5 183.7h.1M400.9 193.3h.1M392.8 198.3h.1M398.2 209.4h.1M371.3 182.8h.1M379.8 190h.1M386.1 219h.1M368.7 185.4h.1M382 222.9h.1M398.8 208.9h.1M367.6 177.1h.1M381.5 190.5h.1M385 176h.1M402.7 187.7h.1M390.8 209.7h.1M377 220.1h.1M386.5 216.4h.1M372.7 180.8h.1M366.5 182.2h.1M390.2 207.9h.1M403.3 196.8h.1M386.9 213.9h.1M384.8 190h.1M391.6 200.4h.1M378.9 191.1h.1M379.7 195.7h.1M382.2 224.1h.1M377.3 220.3h.1M380.3 191.9h.1M399.3 189.3h.1M382 219.5h.1M374.6 180.1h.1M386.8 191.3h.1M374.2 186.1h.1M380.1 180.7h.1M378.5 183.1h.1M388.2 178.8h.1M398 195.3h.1M399.4 215.4h.1M393.6 200.8h.1M392.8 227.6h.1M377 221.3h.1M375.4 190.4h.1M392.7 224.6h.1M382.4 198.4h.1M397.7 214.4h.1M397.7 220.6h.1M384.8 178.9h.1M372.4 217h.1M400.7 186.1h.1M395 223.2h.1M393.5 183.3h.1M382.2 201.6h.1M379.1 221.1h.1M382.7 176.7h.1M399 223.4h.1M381.7 196.4h.1M401.8 207h.1M402.4 214.4h.1M382.5 226.5h.1M378.7 221h.1M393.1 179h.1M395.8 186.2h.1M374.3 179.2h.1M394.5 190.1h.1M387.8 201h.1M383.9 184.3h.1M387.6 216.3h.1M384.3 194h.1M373 221.5h.1M371.4 183.8h.1M392.3 208.2h.1M370.2 177.8h.1M398 203.6h.1M386.3 223.9h.1M404.6 199.1h.1M380.4 196.5h.1M404.3 198.5h.1M383.2 220.7h.1M367.5 180.1h.1M385.9 185.4h.1M386.1 224.2h.1M404.4 195.3h.1M381.8 217h.1M373 184.6h.1M398.8 216.9h.1M382.6 188.7h.1M375.7 186.2h.1M396.7 209.8h.1M379.8 184.1h.1M396.7 190.7h.1M399.3 223.8h.1M377.9 213.9h.1M379.9 216.8h.1M368.4 185.2h.1M369.6 182.1h.1M384.7 184.5h.1M371.1 177.9h.1M396.1 226h.1M376.6 187h.1M377 183h.1M376.2 174.7h.1M385.9 192h.1M381.1 192.1h.1M394.4 201.9h.1M399.5 200.7h.1M387.7 204.4h.1M371.1 215.5h.1M386.1 226.1h.1M405.6 189.8h.1M379.9 184.1h.1M396 195.9h.1M391.2 224.2h.1M393.3 186h.1M384.8 188.3h.1M384.3 200.3h.1M373.1 176.6h.1M377.9 185.3h.1M397.5 220.7h.1M402.6 215.1h.1M374.8 220.8h.1M395.6 219.4h.1M380.6 219.5h.1M379 215.9h.1M404.7 215.2h.1M399.4 219.9h.1M390.8 221.8h.1M401.4 187.3h.1M405 198h.1M392.2 198.1h.1M376.4 180.4h.1M399 223.8h.1M393.4 186.6h.1M388 223.5h.1M396.1 215.5h.1M384.9 227.8h.1M391.3 223.8h.1M378.7 215.3h.1M366.4 178.6h.1M379.7 219.5h.1M385.1 187h.1M384.6 202.8h.1M393.3 207.6h.1M382.1 203.9h.1M405.3 192.7h.1M384.5 213.3h.1M384.3 214h.1M383.6 178h.1M401.3 206.1h.1M376.2 178h.1M403.9 218.5h.1M392.5 205.6h.1M377.2 174h.1M393 215.6h.1M371.9 180.3h.1M384.4 204.1h.1M377.9 175.2h.1M402.5 192.1h.1M389 229.3h.1M374 178h.1M383.8 197.7h.1M372.4 193.4h.1M398.3 188.3h.1M379.9 198h.1M393.8 195.2h.1M393 227.4h.1M386.8 216.7h.1M402.1 211.3h.1M384.8 189.1h.1M380.8 197.6h.1M387.5 196.3h.1M379.2 178.6h.1M390.2 221.5h.1M380.7 178h.1M376.1 185.7h.1M398.5 191.8h.1M384.6 183.9h.1M401.4 204.4h.1M399.3 204.8h.1M387.4 221.3h.1M378.4 226.1h.1M364.7 182.5h.1M373.5 221.8h.1M397.2 213.3h.1M373.4 186h.1M383.3 220h.1M388.4 200.7h.1M399.9 206.9h.1M395.3 190.2h.1M389.3 177.9h.1M399.2 201h.1M382.9 187h.1M377.4 177.5h.1M385.6 192.2h.1M392.3 196h.1M366.5 183.6h.1M392.4 210.7h.1M394.5 189h.1M379.7 178.5h.1M401.2 211.7h.1M402.3 189.6h.1M389.6 194.9h.1M383.2 188.7h.1M402.3 197h.1M384.2 182.8h.1M395.9 221.6h.1M383.4 194.3h.1M394.9 199.2h.1M394.2 227.5h.1M369.5 176.3h.1M388.3 226.8h.1M399 210.2h.1M388.2 178.4h.1M381 213.3h.1M383.5 221.6h.1M396 215.2h.1M377 183.2h.1M385.7 219.9h.1M385.8 200.6h.1M395.3 195.7h.1M397.5 189.6h.1M400.4 191.5h.1M388.4 214.3h.1M385.6 205.2h.1M393.2 218.9h.1M391 201.6h.1M393.4 206h.1M370.9 183.8h.1M402 200.6h.1M384.4 194.7h.1M386 216h.1M391.5 195.2h.1M381.2 184.1h.1M369.8 183.8h.1M403.5 194.2h.1M374.4 181.6h.1M381.2 191.3h.1M373.8 217.5h.1M377.1 224.1h.1M379.7 213h.1M389.7 185.8h.1M391.7 197.9h.1M370.7 218.9h.1M384.8 198.6h.1M400.6 201.9h.1M395.2 187.7h.1M390.4 209.7h.1M380.5 199h.1M374.7 222.7h.1M398.1 207.8h.1M394.1 209.2h.1M393.3 203.2h.1M398.9 203.3h.1M384.8 192.2h.1M387.3 213h.1M395.9 187h.1M391.4 219.9h.1M390.1 187h.1M387.6 201.4h.1M394.6 191.2h.1M374.8 224.1h.1M397.2 213.5h.1M371.1 179.6h.1M397.8 202.7h.1M380.4 199.1h.1M392.4 212.1h.1M384.4 204.5h.1M403.4 205.6h.1M386.4 184.7h.1M370.1 188.1h.1M379.5 177.3h.1M374.6 183h.1M385.2 194.8h.1M388.3 196.1h.1M379.5 185.6h.1M383.8 189h.1M379.4 185h.1M387.8 200.4h.1M394.7 191.4h.1M402.5 212.6h.1M400.8 201.8h.1M393.5 192.1h.1M396.7 216.6h.1M389.8 201.8h.1M382.7 210.1h.1M392.5 183.4h.1M392.3 186.3h.1M390.7 226.6h.1M368 187.7h.1M383.5 184.9h.1M394.7 201.6h.1M375.5 217.8h.1M403.6 191.4h.1M390 195.3h.1M394 200.1h.1M394.7 205h.1M387.8 199.4h.1M370.7 181h.1M379.5 222h.1M394.4 191.5h.1M394.4 221.2h.1M384 197h.1M383.5 222.4h.1M381.7 204.5h.1M398.7 210.5h.1M377.5 222h.1M386.1 222.6h.1M390 215.8h.1M388.7 178.4h.1M391.1 222.6h.1M399 188.3h.1M377.9 197.6h.1M370.1 183.7h.1M386.5 207.3h.1M376 178.3h.1M390.3 216.9h.1M387.5 209.1h.1M401.1 195.6h.1M389.2 184.2h.1M390.8 196.2h.1M379.9 176.7h.1M398.3 219.7h.1M384 180.3h.1M382.7 182.5h.1M395.7 185.8h.1M386.8 179.1h.1M400 217.5h.1M388.5 215.1h.1M400.2 194.5h.1M384.5 227.2h.1M372.3 216.5h.1M373.2 188.6h.1M377.3 178.3h.1M378.3 191.7h.1M399.7 204.3h.1M372.7 180.2h.1M386.1 213.7h.1M387.7 197.7h.1M374.3 173.4h.1M400.6 204h.1M403.9 196.4h.1M389.8 183.7h.1M384.8 219.4h.1M385.7 176.7h.1M382 182.3h.1M393.6 219.2h.1M380.2 174.9h.1M390.5 190.2h.1M389.3 223.3h.1M379.4 221.3h.1M395.9 216.2h.1M372.2 191.6h.1M399.4 197.1h.1M390.2 218.7h.1M400 209.2h.1M393.2 197.5h.1M385.5 222.1h.1M373.5 218.1h.1M386.5 226.9h.1M387.9 225.2h.1M377.6 187.4h.1M382.4 221.9h.1M372.5 222.9h.1M395.7 214.9h.1M402.3 217.4h.1M365.1 180.6h.1M397.8 201.4h.1M401.3 216.8h.1M377.1 186.3h.1M393.3 182.8h.1M387.6 180.9h.1M390.7 214.5h.1M386.3 215.3h.1M402.3 217.8h.1M388.9 179.2h.1M377.1 184.7h.1M371.1 222.3h.1M385.1 187.2h.1M400 194.9h.1M391.5 190.4h.1M394.8 223.4h.1M386.2 191.9h.1M400.7 215h.1M387.5 190.6h.1M399.4 221.8h.1M367 178.5h.1M377 185.6h.1M387.4 211.3h.1M396.7 191.9h.1M386.8 205.2h.1M388.8 223.7h.1M397 207.1h.1M385.6 219.6h.1M377.1 216.5h.1M390.8 216.5h.1M367.3 190.4h.1M381.5 179h.1M388.8 207.8h.1M380.7 191.6h.1M398.9 224.1h.1M378.8 223.2h.1M376.9 192.8h.1M398.2 207.6h.1M380.5 201.3h.1M396.6 196.5h.1M370.4 187.8h.1M374.3 216h.1M388.3 220.2h.1M386 195.2h.1M378 221.9h.1M388.2 186.4h.1M373.1 192.1h.1M403 208.8h.1M396.2 184.8h.1M398.3 225.6h.1M384.9 201h.1M399.1 216h.1M383.5 215.3h.1M390.7 221.9h.1M385.7 222.3h.1M391 202.9h.1M391.1 179.4h.1M389.2 216.5h.1M391.8 211.6h.1M375.9 188.7h.1M398.4 184.7h.1M383.1 207.6h.1M380.5 214.3h.1M378.2 192.6h.1M384.5 206.7h.1M399.8 195.3h.1M383.8 187.2h.1M376.3 182h.1M389 187.4h.1M384.3 198.1h.1M377.3 186.9h.1M395.6 210.6h.1M391.5 188.4h.1M402.3 190.5h.1M384.3 225.3h.1M397.5 193.2h.1M390.9 194.7h.1M403.9 188h.1M391.2 190.6h.1M378.3 191.5h.1M379.7 188.6h.1M399.6 206.6h.1M378.2 216h.1M386.1 221.6h.1M378.6 175.5h.1M382.5 212.4h.1M398.6 201.6h.1M387.2 185.6h.1M383.3 223.6h.1M385.6 221.4h.1M394.2 227.2h.1M401.2 218.8h.1M393.3 194h.1M393 187.6h.1M394.4 180.1h.1M372.8 175.3h.1M370.3 184.8h.1M383.6 218.6h.1M389.4 189.2h.1M376.9 184.8h.1M403.1 194.1h.1M374 184.6h.1M372 221.9h.1M392.2 193.3h.1M396.6 214.8h.1M386.9 222.9h.1M396.6 220.4h.1M381.8 181.6h.1M388 212.3h.1M370.6 186.6h.1M376.9 217.9h.1M388.8 222h.1M391.9 197.1h.1M380.2 214.1h.1M377.3 218h.1M382.7 176.1h.1M387.6 183.2h.1M372.8 188.2h.1M379.5 198h.1M392.1 190.1h.1M387.5 191.8h.1M400.2 204.7h.1M369.9 177.5h.1M383.6 221h.1M390 198.9h.1M378.9 188.9h.1M397.7 209.9h.1M389.7 190.8h.1M381.4 202.6h.1M381.8 197.5h.1M379.5 197.1h.1M367.6 178.9h.1M367.2 184.5h.1M396.5 211.3h.1M386.6 193.8h.1M372.2 215.3h.1M397.2 184.4h.1M374.5 217.8h.1M375.3 216.6h.1M377.2 217.8h.1M393.1 185.7h.1M382.2 202h.1M381.5 194.5h.1M376.5 174.4h.1M397.9 224.9h.1M393.4 225.6h.1M392.2 190.8h.1M381.6 225.9h.1M402 214.1h.1M390.8 218.5h.1M393.4 180.2h.1M393.8 200.4h.1M404.2 199.9h.1M376.7 221.5h.1M372.6 172.5h.1M370.8 178h.1M386.6 185.8h.1M381 186.2h.1M374.1 186.4h.1M383.3 192.4h.1M397.9 194.9h.1M387.2 198.3h.1M386.9 218.3h.1M396.8 226.3h.1M392.7 210.4h.1M393.4 196.4h.1M378.6 215.5h.1M398 204.7h.1M372.5 174.6h.1M400.4 191.2h.1M382.4 207.5h.1M400.1 222.6h.1M377.1 188.8h.1M389.1 197.3h.1M390.7 178.5h.1M394.6 196.3h.1M387.6 206.3h.1M389.8 221.4h.1M390.7 188h.1M383.5 194h.1M383.8 224h.1M386.5 194.4h.1M382 191.7h.1M372.2 222.8h.1M398.5 208.2h.1M382.3 197.3h.1M382.7 223.6h.1M387.5 219.1h.1M398.8 187.9h.1M392.3 196.9h.1M399.7 213.8h.1M398.5 186.6h.1M388.1 197.4h.1M378.8 216.1h.1M377.2 198.3h.1M372.3 176h.1M392.3 179.7h.1M378.3 196.2h.1M385.8 209.1h.1M386.2 208.9h.1M389 228.4h.1M399.6 189.3h.1M373.7 183.8h.1M399 182.5h.1M400.3 225.9h.1M382.7 196.8h.1M390.2 214.6h.1M392.9 223.8h.1M401.1 213.3h.1M393.4 207h.1M370 179.8h.1M404.5 214.6h.1M376.5 193.9h.1M392.4 211.2h.1M391.6 200.4h.1M376.3 182.1h.1M387.7 196h.1M366.9 183.3h.1M397.4 190.8h.1M393 211.8h.1M394.5 183.2h.1M374.9 187.2h.1M385.8 176.9h.1M402.2 212.7h.1M398.5 216.4h.1M396.1 182.7h.1M398.8 225.8h.1M382.7 221.1h.1M364.4 178.2h.1M391.3 178.8h.1M396.1 194.8h.1M396.5 204.8h.1M388.5 200.5h.1M398.2 207.9h.1M374.7 220.9h.1M377.5 177.6h.1M384.5 210.2h.1M400.1 187.1h.1M379.4 190.9h.1M390.5 200.8h.1M383.1 192.9h.1M382.2 217h.1M372.1 178.3h.1M376.4 186.1h.1M366.3 183.1h.1M400.4 192.4h.1M379.4 223.5h.1M381.7 196.7h.1M374.4 224h.1M366.1 179.5h.1M372.6 189.5h.1M385.6 219h.1M376.1 181h.1M390.5 183.3h.1M378.5 223h.1M390 210h.1M374.4 192.5h.1M379.5 192.3h.1M400.3 213.2h.1M381.8 177.2h.1M381.2 197.6h.1M377.4 183.5h.1M393.6 182.8h.1M372.7 190h.1M393.2 212.7h.1M398.1 206.7h.1M396.2 204.3h.1M393.3 207.5h.1M381.4 205.8h.1M385.4 227.4h.1M379.4 172.1h.1M381.5 175.7h.1M397.3 208.3h.1M377.7 174.7h.1M403.9 210.2h.1M388.5 186.9h.1M400.1 210.3h.1M389.6 185.6h.1M393.5 184h.1M374.3 191.6h.1M377 196.7h.1M395.9 207.6h.1M382.3 209.3h.1M401.7 195.2h.1M384.4 213.2h.1M392.5 183.8h.1M387.3 217.6h.1M393.5 228.1h.1M397.3 218.9h.1M381.9 220.9h.1M375.3 179.4h.1M385.6 179.4h.1M394.2 191.4h.1M394.1 217.6h.1M385.7 204.2h.1M381.1 219.3h.1M383.6 182.3h.1M388.9 212.4h.1M394.3 203.7h.1M378.9 176.4h.1M403 209h.1M390.5 184.2h.1M393.8 225.6h.1M382 204.9h.1M401.6 203h.1M386.6 183.7h.1M396.7 222.1h.1M404.2 215h.1M395.5 226.3h.1M369.2 186.7h.1M386.6 217.6h.1M378.6 221.8h.1M386.8 180.5h.1M402.9 198.2h.1M370.2 174.4h.1M386.7 184.8h.1M387.6 206.5h.1M376.7 179.6h.1M370.5 186.9h.1M395.9 208h.1M385.1 213.1h.1M400.8 186.1h.1M397.7 197.7h.1M386.2 191h.1M398.7 213.9h.1M398.4 192.4h.1M396.8 194.7h.1M382.8 184.3h.1M397.3 210.7h.1M398.1 206.5h.1M381.4 177.5h.1M399.3 200.8h.1M369.1 188.7h.1M391.9 208.8h.1M389.1 187.3h.1M394.5 189h.1M376.7 185.9h.1M400.4 197.8h.1M397.5 207.8h.1M388.2 222.4h.1M387 228h.1M392.7 214.2h.1M380.1 183h.1M397.8 201.2h.1M385.4 189.4h.1M399.2 226h.1M391.2 196.4h.1M371.9 173.7h.1M402.3 191.6h.1M391.9 190.3h.1M399.2 193.2h.1M397.8 185.8h.1M378.9 217.1h.1M381.6 217.2h.1M398 188.8h.1M384.2 218.5h.1M396.1 221.6h.1M398.6 210.2h.1M403.3 201.7h.1M397.6 220.6h.1M398.7 212.2h.1M400 204.6h.1M383.7 225.4h.1M377.1 175.3h.1M373.8 194.7h.1M397.1 227.7h.1M384.9 201.6h.1M398.1 211.1h.1M377.9 185.6h.1M379.1 176.6h.1M382.8 195.8h.1M387.8 201.3h.1M401.2 204.5h.1M396 219.5h.1M397.5 184.1h.1M383.3 223.5h.1M393.1 193h.1M394 213.9h.1M392.1 212.1h.1M389.5 221.5h.1M398.1 190h.1M374.1 187.4h.1M376.2 195h.1M382.4 209h.1M373.7 217.4h.1M387.8 183.8h.1M387.4 219.2h.1M386.7 214.2h.1M372.6 189h.1M390.4 177.7h.1M381.1 194.8h.1M383.2 194.4h.1M403.3 195.8h.1M394.1 202.6h.1M396.8 203.1h.1M400.4 216h.1M386.4 179.4h.1M380.5 181.8h.1M397.9 187.6h.1M375.8 190.8h.1M381.9 220.9h.1M376.1 216.1h.1M394.5 193.8h.1M389.9 195.8h.1M389 223.4h.1M404.2 199h.1M392 221.8h.1M396.7 196h.1M397 224.9h.1M372.1 194.2h.1M403.7 213.8h.1M401.8 210h.1M397.8 190.7h.1M378.5 199.1h.1M397.5 218.7h.1M398.6 191.8h.1M403.8 193.7h.1M402.7 188.6h.1M392.2 190.2h.1M379 197.6h.1M378.6 214.6h.1M385.7 210.2h.1M392.4 209.6h.1M396.3 184.3h.1M377.2 195.4h.1M388.6 217.6h.1M397.9 222.1h.1M376.9 192.2h.1M381.3 192.1h.1M393.1 222.3h.1M378.9 219.6h.1M396.5 202.7h.1M374.2 174.3h.1M385.3 175.4h.1M380.9 214.6h.1M392.6 202.1h.1M403.8 215.6h.1M398.5 183.5h.1M387.6 209.1h.1M385.1 194.3h.1M394.2 185.5h.1M389.5 203.5h.1M375.3 174.6h.1M384.5 218.4h.1M381.2 203.1h.1M398.1 225.8h.1M391.5 209.9h.1M398.6 198.8h.1M385.4 212.1h.1M397 207.1h.1M389 207.9h.1M395.3 203.3h.1M374.9 183.8h.1M387.7 176.6h.1M388.5 204.7h.1M395.8 197.2h.1M375.1 216.2h.1M370.3 181h.1M390.4 225.8h.1M379.5 198.5h.1M383.5 212.5h.1M393.5 210.9h.1M393 226.1h.1M397 211.4h.1M389.4 192.5h.1M389.8 225.1h.1M387.3 178.5h.1M391.5 178.2h.1M404.1 191.6h.1M379.5 190.7h.1M371.6 191.6h.1M395.9 218.2h.1M394.8 212.3h.1M386.9 209.6h.1M400.6 195.4h.1M404.1 214.4h.1M389.8 203h.1M375.3 220.2h.1M396.9 216.6h.1M399.6 185.1h.1M386.9 216.3h.1M392.8 182.9h.1M379.8 196.8h.1M395.5 184.5h.1M391.4 199h.1M373.5 175.5h.1M377.3 216h.1M376.5 224.3h.1M387.8 189.5h.1M389.5 204.3h.1M393.2 184.6h.1M397.1 200.5h.1M402.1 206.7h.1M386.5 209h.1M403.2 209.7h.1M399.6 202.1h.1M395.8 224.9h.1M388.8 180.4h.1M393.7 186.6h.1M398.4 195.5h.1M404 191.6h.1M391.4 179.8h.1M385.6 192h.1M397.7 220.6h.1M404.5 192.2h.1M395.7 189.3h.1M399.2 215.7h.1M402.8 214.1h.1M400.8 201.2h.1M383.3 217.2h.1M385.4 183.7h.1M392.9 191.4h.1M381.5 179.3h.1M379.3 214.7h.1M403.5 209.3h.1M371.8 223.6h.1M373.1 215.9h.1M380.9 200h.1M372.9 183.5h.1M385.4 181.4h.1M391 203.5h.1M385.3 202.8h.1M380.7 222.8h.1M402 195.8h.1M379.6 192.7h.1M392.9 203.5h.1M379.7 190.9h.1M371.6 181.1h.1M387.3 188.4h.1M385.8 180.6h.1M392 208.9h.1M378.1 183.9h.1M385.9 226.6h.1M372.9 179.3h.1M386.1 199.4h.1M381.1 187.8h.1M389.8 188.6h.1M387.8 199h.1M383.3 189h.1M401 219.9h.1M386.2 210.3h.1M386.6 220.5h.1M388.2 196.8h.1M386.4 217.7h.1M390.8 197.5h.1M392.6 188.7h.1M392.3 219.8h.1M384.5 228.8h.1M380 181.2h.1M367.4 185.3h.1M396.4 192.7h.1M386.5 196h.1M377.4 179.4h.1M372.6 180.7h.1M376.8 177.3h.1M399.8 214h.1M391.1 201.8h.1M394.9 209.3h.1M380.4 217.4h.1M402 185.6h.1M397.4 219.7h.1M380.2 185.1h.1M382 174.5h.1M368.7 183.2h.1M379.9 181.2h.1M390.7 214.8h.1M382.3 218.1h.1M371.7 217h.1M384.4 179.4h.1M372.2 176.9h.1M366.5 181.8h.1M394.5 207.4h.1M404.2 186.1h.1M403.3 189.8h.1M399.6 193.9h.1M392.3 187.1h.1M392.6 185.1h.1M386.2 184.2h.1M388.3 185h.1M389.4 196.4h.1M387.2 213.7h.1M387.9 220h.1M383.5 181.4h.1M376 189.7h.1M377.1 179.9h.1M382.3 207.4h.1M373 188.4h.1M398.3 201.2h.1M397.8 204.2h.1M383.6 184.9h.1M403.4 199.4h.1M384.3 202.5h.1M386 203.8h.1M371.9 187.5h.1M395.6 194.1h.1M402.7 185.3h.1M375.7 180.9h.1M401.6 205.3h.1M370.4 190.1h.1M390.7 181.2h.1M384.2 175.9h.1M380.6 189.8h.1M379.1 220.8h.1M395 210.1h.1M370.6 186.2h.1M399.9 199.2h.1M384.1 177.4h.1M380.7 200.3h.1M377.3 222.3h.1M386 189.5h.1M374.8 215.4h.1M386.5 210.3h.1M379.3 186.1h.1M382.9 196.2h.1M400.5 186.1h.1M396.3 204.1h.1M386.1 176h.1M382.1 213.9h.1M395.6 208.5h.1M389.2 202.7h.1M370.1 185.5h.1M402 212.7h.1M404.4 192.3h.1M385.3 206.8h.1M388.5 189.6h.1M379.4 176.3h.1M381.5 222.8h.1M383.5 217.6h.1M395 216.8h.1M394.8 218h.1M372.2 220.3h.1M377.3 213.8h.1M402.9 189.7h.1M389.5 198h.1M379.7 215.4h.1M399.1 185.8h.1M391.9 180.3h.1M381.2 185h.1M385 194.8h.1M373.9 178.6h.1M392.1 201.8h.1M383.8 194.7h.1M391 211.5h.1M383.5 174.6h.1M388.6 195.1h.1M381.4 181.4h.1M387.6 199.4h.1M381.7 197.2h.1M394.7 218.4h.1M390.3 205.7h.1M383.3 194.6h.1M390.4 191.9h.1M393 209.2h.1M388 194.2h.1M388.8 186.9h.1M372.3 192.5h.1M368 178.4h.1M403.1 200.2h.1M368.2 180.7h.1M367 184.7h.1M388.8 206.7h.1M386.8 188h.1M382.5 192.1h.1M386.7 214.3h.1M397.3 222.8h.1M371.5 174.6h.1M380.1 191.9h.1M393.6 200.2h.1M390.7 203.6h.1M383 197.1h.1M377.9 181.4h.1M377.8 221.9h.1M383.6 218.3h.1M391.9 182.2h.1M391.9 226.4h.1M388.3 187.6h.1M394.7 214.2h.1M381.5 190.1h.1M385.7 194.7h.1M389.9 212.9h.1M381.7 220.8h.1M369.6 182.7h.1M384.2 183h.1M384.5 199.7h.1M373.5 219.2h.1M372 182.8h.1M391.5 204h.1M395.5 222.8h.1M390.9 180.9h.1M376.4 175.3h.1M377.5 179.4h.1M382.7 193.6h.1M386.9 196.8h.1M386.2 194h.1M389.9 188.2h.1M389.3 187.3h.1M388.4 189.7h.1M391.2 193.4h.1M402.5 187.7h.1M378 191.3h.1M385.2 209.2h.1M385.3 195.6h.1M396.2 199.5h.1M369.9 184.3h.1M376.8 187.9h.1M386.3 210.7h.1M388.8 178.3h.1M385.8 213.2h.1M401.1 190.5h.1M371.7 186.6h.1M403.9 214.2h.1M374.2 219.5h.1M384.6 175.4h.1M380.2 193.1h.1M396.5 219.3h.1M383.5 184.7h.1M388.5 178h.1M364.2 181.7h.1M382.9 190.9h.1M399.3 224.1h.1M387.7 211.9h.1M395 198.2h.1M366 179.6h.1M383.2 218.6h.1M381.4 220.4h.1M387.6 219.7h.1M394.2 229.5h.1M391.1 185.3h.1M389.6 193.6h.1M388.5 202.3h.1M377.2 195.8h.1M381.7 186.2h.1M377.9 189.9h.1M387.8 195.9h.1M398.3 204h.1M395.2 211.4h.1M378.4 192.1h.1M372.8 219.1h.1M387.5 210.1h.1M393.6 216.6h.1M402.8 187.6h.1M377 179.7h.1M383.8 218.1h.1M387.3 226.2h.1M400.6 220h.1M400.5 196.7h.1M398.7 218.1h.1M383.8 216.9h.1M399.9 207.4h.1M384 225.8h.1M381.9 178.7h.1M383.2 186.9h.1M373.2 218.7h.1M392.6 182.6h.1M387.8 187.7h.1M398.2 188.7h.1M396.9 208.2h.1M390.7 220.9h.1M400.4 204.9h.1M383.6 200.9h.1M369.9 189.5h.1M392.4 213.5h.1M402.7 190.7h.1M394.8 224.7h.1M382.4 206.5h.1M388.5 214.3h.1M403.2 208.5h.1M383.2 200.7h.1M384.5 212.6h.1M391.4 206.9h.1M392.4 206.1h.1M399.9 220.9h.1M379.3 197.2h.1M386.6 203.7h.1M397.1 206.1h.1M387.1 176.1h.1M380.1 194.7h.1M388.4 178.8h.1M394 204.7h.1M388.5 181.3h.1M394.3 198.1h.1M381.2 174.9h.1M399.5 218.2h.1M380.4 215.9h.1M378.2 225.3h.1M397.2 223.5h.1M394 195.3h.1M387.3 198.7h.1M403.1 206.8h.1M400.5 200.4h.1M383.6 211.4h.1M395.9 208.7h.1M381.8 181.1h.1M390.3 186.6h.1M383.1 220.2h.1M374.1 187.6h.1M382.5 187.9h.1M387 217.4h.1M381.2 197.3h.1M390.4 204.6h.1M402.9 187.6h.1M380.5 215.3h.1M395.6 184.1h.1M377.7 216.9h.1M392.4 204.8h.1M397.8 202.1h.1M402.5 206.2h.1M398.1 191.2h.1M393.5 219.8h.1M380.5 214.8h.1M373.9 218.9h.1M385.9 176.6h.1M392.9 207.4h.1M394.3 195.1h.1M373 190.1h.1M388.4 204.6h.1M383.9 222.3h.1M381.7 209.4h.1M405.2 189.6h.1M392.9 201h.1M396.6 190.1h.1M384.1 192.4h.1M387.3 186.1h.1M396.9 215.1h.1M390.3 216.9h.1M396.9 225.7h.1M388.5 181.6h.1M400.4 188.5h.1M398.4 194.4h.1M399.6 196.8h.1M389.3 202.9h.1M368.8 180.9h.1M375.2 190.6h.1M387.7 217.1h.1M381.4 179.3h.1M385.6 206.8h.1M371.3 176.2h.1M381.1 220.9h.1M390 199.5h.1M382.2 213.3h.1M402.3 189.4h.1M399.5 192.4h.1M375.3 176.5h.1M399.5 224.3h.1M378.8 195.5h.1M379.3 186.6h.1M380.4 191.1h.1M380.4 174.4h.1M382.8 188.8h.1M372.8 183.2h.1M396.9 220.3h.1M380.8 199.9h.1M397.6 208.4h.1M390.2 220.9h.1M391.3 210.3h.1M384 208h.1M399.3 184.7h.1M390.2 189.4h.1M377 174.7h.1M403 213.7h.1M402.6 205.3h.1M389.7 188.3h.1M393.3 194.5h.1M395.7 185h.1M389 220.8h.1M383.7 226.5h.1M401 188.7h.1M395.6 226.8h.1M390.2 195.1h.1M377.7 186h.1M387.1 214.4h.1M370 186h.1M402.5 195.4h.1M379.3 215.7h.1M401.3 206.8h.1M393.1 228.4h.1M395 180.5h.1M395.9 223.4h.1M374.1 222.4h.1M381.5 221.8h.1M390.7 182.5h.1M379.4 194.5h.1M388.4 201.2h.1M389.6 179.1h.1M381.2 208.2h.1M377.2 181h.1M394.9 192.4h.1M380.7 181.9h.1M394.6 219.9h.1M393.9 213.1h.1M390.5 215.5h.1M393.5 228.9h.1M392 204.6h.1M392.1 177.5h.1M398.2 204.4h.1M387 206.9h.1M368.8 188.7h.1M385.6 218.7h.1M368.2 183.8h.1M389.6 209.6h.1M389.5 209.1h.1M395.3 186.8h.1M370.1 181h.1M381.8 222.1h.1M392.3 196.4h.1M395.4 182.2h.1M375.7 189.7h.1M396.2 227.1h.1M386.2 200.3h.1M388.8 188.7h.1M383 212.5h.1M383.1 190.8h.1M375.7 178.2h.1M391.9 184.6h.1M379 184.2h.1M375.3 181.8h.1M377.2 188.3h.1M387.6 186.1h.1M394.8 179.9h.1M403.9 194.1h.1M402.2 214.5h.1M390.5 207.5h.1M383.6 225.6h.1M374.2 181.4h.1M386 179.5h.1M401.3 198h.1M370.4 176.2h.1M371.8 219.2h.1M383.6 181.8h.1M389.7 188.3h.1M386 205.7h.1M370.7 179.5h.1M396 229.6h.1M373.7 191.8h.1M382 180.7h.1M399.5 202.1h.1M383.9 223.3h.1M369.8 175h.1M397.1 193.4h.1M390.4 204.7h.1M394.8 184.7h.1M378.3 187.2h.1M386.8 184.7h.1M394.4 200.2h.1M399 206.8h.1M369.6 178.1h.1M387.4 218.7h.1M396.9 221h.1M389.8 218h.1M397.8 221.6h.1M373.5 217.4h.1M393.1 214.2h.1M375.4 185.8h.1M380.2 175.5h.1M371.2 182.6h.1M391.3 200.9h.1M365.3 185.4h.1M400.9 202.4h.1M385.4 222.2h.1M387.2 205.2h.1M392.7 205h.1M397.5 197.1h.1M380.1 177.2h.1M392.3 227.5h.1M375.3 188.9h.1M399.4 186.1h.1M376.2 225h.1M393 185.6h.1M392.9 211.9h.1M365 178.2h.1M384.1 200.3h.1M373.4 214.8h.1M393 228.3h.1M402.5 212.1h.1M386.5 210.5h.1M391.9 177.5h.1M376.5 224.3h.1M392.1 183.4h.1M397.1 220h.1M391.8 221.3h.1M391.8 225.7h.1M389.2 223.5h.1M389.3 196.2h.1M400.7 201.2h.1M388.3 177.1h.1M389.9 216.5h.1M373.3 220h.1M402.5 208.7h.1M372.9 189.2h.1M405.5 216.1h.1M391.1 197h.1M391.7 203.9h.1M365.3 178.8h.1M379.6 183.4h.1M399.5 210.8h.1M396.5 207.8h.1M378.8 187.8h.1M393 178.2h.1M369.7 184.9h.1M378.4 196.7h.1M377.3 180.6h.1M372.5 185.4h.1M381.3 189h.1M392.2 204.9h.1M368.4 181.5h.1M374.5 182.9h.1M374.8 186.4h.1M376.3 222.9h.1M398.6 189.1h.1M393.4 206.3h.1M390 179.5h.1M387.6 200.9h.1M391.2 221.1h.1M368.9 189.4h.1M390.9 186.9h.1M387.4 206.6h.1M388.3 195.3h.1M385.7 206h.1M394.1 183.5h.1M396.7 188.9h.1M394.7 220.4h.1M374.1 176.6h.1M379.2 192.8h.1M398.5 203.7h.1M389.8 194.6h.1M364.1 179.4h.1M378.5 179.1h.1M387.7 197.4h.1M379.8 178.5h.1M390 219.1h.1M385.9 194h.1M388.4 176.9h.1M378.2 220.5h.1M383 213.1h.1M379.2 222.3h.1M405.1 188.8h.1M385.2 201.6h.1M395.3 214.9h.1M391.4 217h.1" stroke="#b5262a" stroke-width="0.9" stroke-linecap="round" stroke-opacity="0.9"/>
<path d="M329.2 217.4 L333 213 L337 211.4 L346.6 207.2 L352.6 206 L353.5 200 L355 195 L358 199 L357.5 208 L354 214 L351.4 219.8 L343 223.4 L334.6 222.2Z" fill="#b5262a" fill-opacity="0.5"/>
<path d="M350.7 215.2h.1M346.9 217.1h.1M347.7 213.1h.1M348.6 210.8h.1M334.7 212.7h.1M345.6 220.4h.1M347.3 219.3h.1M351.9 217.9h.1M336.8 218h.1M341.7 211.5h.1M336.2 212.8h.1M341.5 219.9h.1M353.2 220.3h.1M340.2 217.6h.1M344.3 219.7h.1M354.1 203.8h.1M340.8 220.4h.1M346 212.4h.1M332.8 217h.1M355.8 198.9h.1M337.6 217.8h.1M351.8 217.4h.1M356.5 202.4h.1M336.5 213.4h.1M353.8 210h.1M344.4 215.7h.1M337.9 220.5h.1M355.2 207.1h.1M342.7 219.2h.1M337.7 221.3h.1M344.4 220.7h.1M355.4 201.9h.1M335.3 218.2h.1M354.5 206.8h.1M340.6 212.1h.1M351.3 210.1h.1M352.7 206.8h.1M343.3 222.6h.1M343.9 219.2h.1M334.3 215.6h.1M335.7 213.2h.1M338.3 214.6h.1M352 210.9h.1M345.9 219.3h.1M347.9 213.9h.1M343.6 223.1h.1M354.1 209h.1M350.6 212.2h.1M354.9 197.5h.1M340.4 212.8h.1M339.8 217.7h.1M341.2 216.4h.1M347.3 214.6h.1M354.8 207.2h.1M344.6 214.8h.1M355.9 200h.1M354.9 198.9h.1M351.1 207.3h.1M339.2 216.2h.1M350.4 216.6h.1M341.4 216.9h.1M352.4 214.1h.1M348.5 217.3h.1M356.4 198.1h.1M351.7 210.3h.1M337.2 217.5h.1M347 219h.1M341.6 211h.1M355.3 204.8h.1M354.6 209.4h.1M341.4 222h.1M333.6 217.5h.1M355.5 209.2h.1M341.9 221.5h.1M341.5 222h.1M346.9 212.4h.1M350.1 217.3h.1M339.4 220.6h.1M340.9 216.1h.1M341.7 217.8h.1M353.1 208.9h.1M337.9 218.6h.1M345.3 218.9h.1M357.1 197.3h.1M350.1 212.4h.1M341.3 216.7h.1M340.9 214.6h.1M331.1 217h.1M346.4 220.8h.1M333.7 220.4h.1M346.4 220.7h.1M344.5 219.2h.1M354.3 210.3h.1M331.9 217.2h.1M356.2 205h.1M335.8 215.4h.1M351.6 216.1h.1M333.7 222.3h.1M339.5 213.4h.1M355.7 208.9h.1M348.8 221.1h.1M340.1 208.8h.1M342.6 209.9h.1M348.5 212.3h.1M338.7 212.1h.1M350.7 212.7h.1M346.6 212.1h.1M347 220.1h.1M340.2 220.7h.1M352.1 218.7h.1M344.7 219.1h.1M351.7 210.1h.1M348.3 219.6h.1M336.9 218.8h.1M341.1 220.4h.1M351.2 221.5h.1M352.5 208h.1M347.7 215h.1M345 211.1h.1M332.5 217.6h.1M342.7 223.5h.1M334.8 221.6h.1M339.9 212.8h.1M346.5 217.4h.1M342.1 223h.1M353.9 208h.1M342.8 213.9h.1M341.2 212.2h.1M340.7 223h.1M344.2 209.7h.1M352.2 212.3h.1M343.8 222.6h.1M337.3 211.4h.1M353.5 217.5h.1M333.9 218.2h.1M337.7 221.5h.1M347.4 212.5h.1M352 206.7h.1M333.1 217.6h.1M341.7 209.7h.1M341.7 210.3h.1M342.5 221.4h.1M346.3 217.1h.1M341.9 223.4h.1M357.2 200.6h.1M349 209.7h.1M352.6 215.1h.1M338.3 220.5h.1M354.8 212h.1M355.1 196.6h.1M348.8 209.3h.1M340.7 219.5h.1M339.4 214.5h.1M337 214.5h.1M340.3 216.4h.1M345.7 219.4h.1M335.6 221h.1M340.8 209.2h.1M343 217.8h.1M354.6 211h.1M353.6 210.1h.1M349.5 209.6h.1M358.6 204.9h.1M340.4 211.7h.1M335.1 217.7h.1M340.5 220.5h.1M344.5 220.4h.1M347.8 217.2h.1M333.5 214.1h.1M343.3 214.8h.1M337.6 218.7h.1M347.7 208.9h.1M341.4 219.3h.1M336.3 222.1h.1M347.1 216.8h.1M333.5 216.3h.1M339.2 218.4h.1M349 212.9h.1M350.1 212.2h.1M351.7 208.8h.1M357.4 196h.1M346.4 216.9h.1M354.6 205.7h.1M341.1 221.1h.1M343.6 221.5h.1M351 214.6h.1M354.1 211.6h.1M351.6 217.1h.1M356 200.9h.1M347.5 211.7h.1M339.1 222.9h.1M350.1 207.4h.1M342.4 216.6h.1M342 212.5h.1M342.5 209.4h.1M333.8 218h.1M346.4 215.8h.1M345.3 219.5h.1M353.4 197h.1M341 221.2h.1M342.5 218.6h.1M345.7 218.5h.1M329.7 216.2h.1M353.5 196.6h.1M351 212.2h.1M353.8 202.1h.1M355.4 211.9h.1M341.3 211h.1M344.2 218.1h.1M344.5 221.2h.1M343.1 213.8h.1M355.4 209.2h.1M356.9 203.8h.1M331.8 217.6h.1M344.7 214.2h.1M333.9 215.5h.1M334.9 217.5h.1M347.3 215.8h.1M350.4 206.5h.1M349.1 219.5h.1M343 210.1h.1M352.7 215.6h.1M344.7 220h.1M342.7 216h.1M337.6 210.9h.1M348.4 213.5h.1M343.9 213.8h.1M356 206.2h.1M349.5 205.1h.1M354.5 208h.1M346.1 215h.1M343.7 212h.1M335.1 215.5h.1M358 204.7h.1M345.8 220.7h.1M352.8 205.3h.1M342.8 218h.1M353.9 210.3h.1M340.5 212.7h.1M340.3 214.5h.1M343.1 223h.1M341.4 215.8h.1M344 212.1h.1M347.7 210.1h.1M334.3 212.8h.1M346 214.4h.1M348.5 206.2h.1M352.3 214.5h.1M345.2 214.7h.1M345.5 220h.1M335.3 217.7h.1M349.3 218.5h.1M348.7 210.8h.1M331 217.7h.1M355.8 200.3h.1M329 218.6h.1M344.6 208.3h.1M345.4 217.5h.1M340 218.4h.1M352 213.8h.1M343.2 211.7h.1M332.1 219.6h.1M335.9 219.1h.1M342.5 211.8h.1M338.8 212.6h.1M354.9 211.2h.1M349.4 213.5h.1M354.7 196.1h.1M336.6 212.4h.1M336.2 220.2h.1M336.5 212.7h.1M340.8 217.1h.1M342.6 216h.1M336.2 214.8h.1M348.6 209.1h.1M353 207.9h.1M339.9 216.5h.1M349.9 207.1h.1M355.4 204.9h.1M346.2 211.3h.1M354.8 197.1h.1M344.4 219.7h.1M346 221h.1M343.4 211.2h.1M339.1 212.2h.1M340.5 215.8h.1M346.7 209.4h.1M347.2 219.5h.1M345.3 219.9h.1M352.7 207.7h.1M343.1 208.6h.1M343 213.5h.1M342.6 219.8h.1M354.6 199.7h.1M346.3 218.6h.1M351.2 209.3h.1M358.6 201.7h.1M355.9 202.3h.1M351.8 216.5h.1M343.4 213.4h.1M345.6 210h.1M348.2 222h.1M355.6 204.7h.1M354.3 202.4h.1M356.6 205.7h.1M339.4 217.9h.1M340.2 212.7h.1M337.7 219.5h.1M347.8 207.6h.1M339.3 215.1h.1M342.7 210.6h.1M339 220.2h.1M340.5 220h.1M352.4 207.7h.1M334.4 213.8h.1M348.5 215.9h.1M344.1 209.2h.1M342.9 222.3h.1M346.6 217.1h.1M341.1 215.9h.1M355.8 208.5h.1M343 221.4h.1M345 213.6h.1M343.6 217.9h.1M352.1 203.2h.1M344.7 209.7h.1M336.5 219.2h.1M355.4 209.5h.1M344.3 221.4h.1M340.8 219.2h.1M342.7 211.8h.1M349.3 219.5h.1M356.8 199h.1M333.9 217.1h.1M348.5 217.7h.1M348.2 214.1h.1M342.3 219.2h.1M355.2 203.9h.1M343.3 211.8h.1M352.6 209.4h.1M346.9 212.8h.1M354.8 196.4h.1M339.3 218.9h.1M338.3 213.7h.1M332.7 215.1h.1M333.8 217.6h.1M337.5 219.7h.1M349.5 221.4h.1M351.3 220.4h.1M346.9 208.7h.1M338.1 211.1h.1M352.8 212.5h.1M353.5 212.1h.1M355.8 204.2h.1M338.2 214.2h.1M343.7 219.5h.1M335.1 220.1h.1M345.8 210.5h.1M344.6 213.8h.1M344.4 217.2h.1M342.2 213.8h.1M337.4 222.3h.1M355.3 205.8h.1M334.8 214.4h.1M346 220.2h.1M352.6 210.4h.1M338.4 216.8h.1M339.7 210.1h.1M352.2 216.4h.1M344.7 210.7h.1M354.7 197.3h.1M350.5 212.3h.1M341.4 213.8h.1M331.1 218.9h.1M330.6 215.8h.1M342.4 218.2h.1M355.6 208.9h.1M354.4 205.5h.1M342.6 222.1h.1M344.1 221.6h.1M340.3 209.7h.1M341.1 221.2h.1M339.2 214.8h.1M334.4 214.6h.1M342.3 220.8h.1M341 216.5h.1M355.3 199.5h.1M347.2 216h.1M345.2 215.3h.1M343.9 217.4h.1M352 207h.1M344.1 211.7h.1M345.5 221.2h.1M349.3 209.1h.1M346.2 214.7h.1M341.7 214.7h.1M342.2 217.3h.1M357.2 206.6h.1M347.7 219.2h.1M357 202.7h.1M349.4 213.6h.1M356.7 205.3h.1M353.4 211.1h.1M348.4 216.9h.1M343.3 218.3h.1M339.4 213.6h.1M347.4 215.4h.1M334.2 212.6h.1M349.9 212.3h.1M333.7 221.4h.1M347.4 218h.1M341.2 222.9h.1M340.1 213.4h.1M336.2 217.9h.1M353.9 210.4h.1M356.1 199.5h.1M339.1 222.9h.1M352.4 215.3h.1M344.3 219.2h.1M335 214.7h.1M333.1 218.8h.1M337 209.7h.1M342.8 222.7h.1M335.9 216.6h.1M339.6 218.8h.1M345.7 215.8h.1M336.7 216.3h.1M342.1 219.8h.1M336.2 212h.1M336.4 215.9h.1M343.3 222.7h.1M329.6 217.6h.1M348.1 210.3h.1M345.5 214h.1M346.3 219.3h.1M342.5 216.8h.1M358.3 207.9h.1M351.2 219.8h.1M351.4 217.3h.1M347.4 209.5h.1" stroke="#b5262a" stroke-width="0.9" stroke-linecap="round" stroke-opacity="0.9"/>
<path d="M341 232 L346 229.5 L351 230 L354 226 L356 227 L357 233 L361 237 L365 241 L363 246 L357 250.5 L349 249.5 L341 247.5 L336.5 243 L338 237Z" fill="#b5262a" fill-opacity="0.5"/>
<path d="M360.1 248.2h.1M353.8 239.9h.1M355.5 234.9h.1M352.6 231.6h.1M353.8 241.4h.1M344.9 231.9h.1M359.6 242.1h.1M342.5 239.1h.1M357.8 234h.1M349.1 245.4h.1M344.4 239.4h.1M356.9 245.1h.1M341.2 244.4h.1M351.1 248.6h.1M358.6 242.2h.1M361.5 239.3h.1M346.6 241.4h.1M341.8 237.2h.1M359.1 249.3h.1M355.3 238.2h.1M356.4 243.5h.1M344.2 242.2h.1M343.9 233.8h.1M361.5 244.3h.1M337.1 242.8h.1M339.1 242.4h.1M346.8 242h.1M358.8 234.1h.1M363 238h.1M352.2 243.8h.1M354.8 247.9h.1M354.9 232h.1M351 237h.1M341.5 240.3h.1M356.1 228.9h.1M358.3 239.6h.1M347.5 239.1h.1M349 247.1h.1M354.2 248.1h.1M340.1 246.9h.1M356.5 230.7h.1M348.3 241h.1M360.6 241h.1M345.8 243.4h.1M342.8 232.5h.1M354.8 237.8h.1M354.2 245h.1M340.4 245h.1M346.6 244h.1M357.1 234.8h.1M345.8 235.3h.1M354.4 243.5h.1M350.2 243.5h.1M343.8 234.7h.1M357.8 247.6h.1M347 244.5h.1M348.5 243.7h.1M339.1 235.2h.1M343.5 235.8h.1M353.4 237h.1M361.4 244.7h.1M358.2 247h.1M341.1 235.7h.1M362 239.4h.1M352.5 243.8h.1M345 233.7h.1M356.8 240.9h.1M344.5 238.5h.1M353.4 245.8h.1M353.4 242.6h.1M355.9 249.8h.1M343.6 243.6h.1M358.8 236.7h.1M362.4 245.1h.1M344.4 235.5h.1M343.5 246.8h.1M346.1 244.1h.1M341.7 235.9h.1M356.8 242.4h.1M347.4 244.1h.1M360.4 237.6h.1M347.7 246.8h.1M347.4 234.2h.1M355.3 238.5h.1M357.1 237.5h.1M344.5 240.3h.1M350.4 240.1h.1M354.2 227.3h.1M361.5 238.2h.1M358.3 249.6h.1M349 237.2h.1M338.1 247.4h.1M348.3 237.8h.1M344.9 233.6h.1M361.8 244.9h.1M336.7 239h.1M343.4 235.2h.1M359.7 240.9h.1M337.9 241.5h.1M353.1 236.7h.1M361.5 242.7h.1M349.7 239.6h.1M350.7 232.9h.1M341.3 233.9h.1M339.6 239.6h.1M348.7 232.7h.1M348.2 248.3h.1M351.9 241.9h.1M342.4 242.7h.1M356.3 247.1h.1M343.4 234h.1M351.9 242.6h.1M341.5 233.5h.1M344.2 235h.1M363.7 242.7h.1M353.3 244.3h.1M359.9 244.1h.1M338.2 239.4h.1M357.1 241.4h.1M352.8 233.3h.1M337.9 237.5h.1M342.4 236.7h.1M354.3 232h.1M356.3 245.8h.1M352.9 229.9h.1M344.9 235.7h.1M338.3 243.4h.1M352.9 230.4h.1M359.9 240.3h.1M348.7 244.9h.1M354.3 246.3h.1M359.3 239.5h.1M353.3 249.5h.1M350.1 236.6h.1M358 250h.1M363.2 242.3h.1M349 241.2h.1M356.7 229.3h.1M353.6 247.8h.1M347.5 241.3h.1M339.4 233.7h.1M343.6 247.1h.1M356.4 246.5h.1M341 234.2h.1M347.9 230.9h.1M346 235.3h.1M358.7 248.2h.1M344.9 245.4h.1M356.1 232.5h.1M349.4 242h.1M358.9 234.4h.1M354.1 242.5h.1M342 247.8h.1M339.2 238.9h.1M337.5 239.3h.1M342.2 242.9h.1M351.4 240.4h.1M343.1 231.5h.1M337.1 245h.1M336.9 240h.1M356.2 228.6h.1M355.2 240.1h.1M360.4 246.5h.1M351.2 240.7h.1M348.8 249.6h.1M358.9 243.9h.1M353 232.7h.1M341.8 234.5h.1M351.4 235.5h.1M348.4 241h.1M360.4 236.9h.1M345.4 236.1h.1M355.5 249h.1M346.3 241.6h.1M365.6 239.2h.1M356.8 236.8h.1M362.2 240h.1M358.4 248.2h.1M344.7 232.9h.1M353.1 244h.1M359.7 246.8h.1M342.3 242.7h.1M357.8 234h.1M353.4 233.1h.1M349.4 235.6h.1M351.2 248.3h.1M344.5 245.3h.1M360 237.5h.1M342.7 234h.1M343.6 232h.1M349.9 244.6h.1M359.8 242.9h.1M342.3 237.1h.1M342.1 234.7h.1M349.5 239.5h.1M348 246.8h.1M354.2 236.3h.1M340.5 244.1h.1M347.1 236.2h.1M347.1 242.2h.1M356.4 245.7h.1M358 236.7h.1M356.3 246.7h.1M345.9 247.5h.1M361.4 241.2h.1M352.8 234.4h.1M357.7 238.5h.1M355.2 243.5h.1M346.9 244.4h.1M352 238h.1M346.6 244.2h.1M349.2 239.2h.1M341.3 243.3h.1M358.8 240.2h.1M353.6 242h.1M363.4 242.7h.1M348.4 249.9h.1M344.6 246.4h.1M342.8 234.8h.1M354.5 247.4h.1M348 244.5h.1M345.1 229.5h.1M362.3 237.5h.1M356.4 227.3h.1M345.7 245.7h.1M344.8 248.2h.1M361.1 243.5h.1M346 239.3h.1M346.8 248.2h.1M347.8 247.2h.1M350.6 249.7h.1M347.8 243.3h.1M351.6 239.4h.1M346.5 232.9h.1M335.9 242.4h.1M338.5 236.1h.1M352.1 245.5h.1M348.4 233.1h.1M350.5 246.6h.1M350.9 241h.1M359.8 245.6h.1M358.6 239.6h.1M352 244.8h.1M352.1 229.1h.1M347.2 231.2h.1M342.4 240h.1M349.6 235.8h.1M357.6 239.5h.1M355 238.8h.1M354.7 245.2h.1M345.2 231.9h.1M344.1 238.8h.1M346.1 242.3h.1M343.5 243.1h.1M349.5 248.4h.1M341.3 242.2h.1M359 239.3h.1M343 239.2h.1M340.4 234.2h.1M363.3 244.5h.1M358.6 237h.1M354 241.6h.1M347.5 242.1h.1M337 243h.1M343 241.5h.1M361.5 239.4h.1M346.8 230.7h.1M343.4 238.3h.1M350.2 235.2h.1M359.8 249.1h.1M358.4 237.8h.1M340.4 246.7h.1M353.3 238.9h.1M355.6 239.4h.1M349.1 243.5h.1M336.9 241.2h.1M356.2 248h.1M363.5 243h.1M352.5 248.3h.1M352.6 230.1h.1M363.6 242.1h.1M340.3 240.5h.1M360.3 239.9h.1M361.5 237.4h.1M356.8 240.6h.1M354 230.6h.1M337.5 242.8h.1M357.6 237.7h.1M342.9 246.4h.1M345.7 238.8h.1M342.9 240.4h.1M358 237.5h.1M349.6 247.6h.1M355.1 246.9h.1M340.5 241.6h.1M345.7 237.1h.1M357.3 248.3h.1M361.9 245.6h.1M361.2 245.7h.1M362.7 239.7h.1M344.6 233.7h.1M344.3 245.6h.1M341.7 236.6h.1M361.2 248h.1M345.9 242.8h.1M355.5 226.3h.1M350.4 248.4h.1M356.1 238.3h.1M351.6 247.6h.1M359 244.5h.1M358.9 236h.1M343.7 242.5h.1M346.2 240.8h.1M362.7 245.3h.1M357 242.1h.1M346.8 242.6h.1M342.2 241.1h.1M360.4 245.2h.1M341.5 238.6h.1M357.2 234.3h.1M343.9 235.7h.1M348.9 241.5h.1M355.9 238.7h.1M354.5 245.2h.1M345.4 244.2h.1M339.2 237.7h.1M346.1 245.2h.1M342.2 232.2h.1M359.1 249h.1M355.2 246.2h.1M358.5 241h.1M342.3 231.8h.1M357.5 243.7h.1M352.1 241.2h.1M341.7 244.6h.1M344.4 247.4h.1M346.3 231.1h.1M365.3 239.3h.1M355.3 228.1h.1M361 239.7h.1M351.3 241.7h.1M360.2 245.8h.1M355.3 227.9h.1M343.6 242.5h.1M343 234.8h.1M338.3 241.5h.1M355.6 243.3h.1M349.5 240.7h.1M340.1 244.3h.1M359.5 246.9h.1M339.9 237.2h.1M356.3 228.8h.1M364.3 243.4h.1M361.7 240h.1M344.6 234.4h.1M363.9 240.7h.1M352 241.8h.1M357 230.2h.1M354.8 239.8h.1M343.4 236.6h.1M347.6 243.1h.1M346.3 242.3h.1M349.3 244.7h.1M359.2 247.4h.1M346.2 231.8h.1M346.5 240.9h.1M339.9 245.2h.1M343.5 243.5h.1M345.4 241.1h.1M352.6 246.3h.1M349.9 249h.1M360.8 247.2h.1M353.1 249.7h.1M359.7 243.7h.1M356.4 240.1h.1M359.2 240.4h.1M344 243h.1M339.7 245.7h.1M345 237.8h.1M351.9 240.9h.1M346.6 241.9h.1M352.2 230.3h.1M345.9 244.1h.1M345.7 243.9h.1M356 247.1h.1M346.9 237.5h.1M345.5 230.4h.1M341.1 240.4h.1M355 236.1h.1M350.3 238.9h.1M345.7 229.1h.1M355.1 235.6h.1M346 239.1h.1M337 238.5h.1M347.9 235.2h.1M353.3 235.1h.1M354.7 237.8h.1M343.6 231.7h.1M353.2 232.9h.1M346.1 241.9h.1M356.9 242.5h.1M362.5 244.3h.1M356.3 243.1h.1M359.4 244.1h.1M346.2 233.5h.1M354 228.4h.1M340.3 237.5h.1M355.1 247.9h.1M363.1 240.6h.1M340.6 238.7h.1M339.4 242h.1M345.6 240.5h.1M347.7 247.5h.1M360.3 236.3h.1M342.7 247.3h.1M354.7 234.5h.1M353.4 226.2h.1M356.5 244.1h.1M338.4 236.3h.1M351 245.9h.1M351.1 247.8h.1M345.9 245.7h.1M356.8 233.6h.1M360.6 240.9h.1M348.7 245.9h.1M355.3 247.8h.1M352.1 246.6h.1M345.5 237.4h.1M348.1 233.6h.1M350.7 242.3h.1M340.6 244.5h.1M339.6 234h.1M360.6 246.2h.1M355.3 244.1h.1M345.6 235.3h.1M346.4 238.2h.1M340.4 234.2h.1M361.2 236.7h.1M346.8 231.4h.1M361.5 241.6h.1M343.9 237.1h.1M347.7 235.7h.1M340.9 239.3h.1M341.6 237.5h.1M344.3 238.4h.1M342.9 243h.1M349.2 247.9h.1M350.3 245.1h.1M358.5 235.5h.1M360.4 246.1h.1M340.6 241.8h.1M359.6 243.1h.1M363.4 241.8h.1M361 242.9h.1M354.5 241.4h.1M347.3 236.5h.1M344.7 232.4h.1M360.5 236.8h.1M360.8 247.5h.1M344.9 238.5h.1M348.7 231.4h.1M350.1 249.8h.1M349.2 237.1h.1M357.7 236.3h.1M349 238.4h.1M362.2 246.5h.1M338.2 238.8h.1M340.5 243h.1M358.4 248.5h.1M356.6 235.9h.1M356.7 235.5h.1M349.3 234.2h.1M343.5 249.4h.1M356.3 243.6h.1M362.8 241.2h.1M357.1 239.9h.1M339.7 235.5h.1M350.8 248.5h.1M348.4 233h.1M352.1 249.1h.1M347.5 241.5h.1M353.7 232.1h.1M355 226.5h.1M348.3 236.6h.1M352.2 233.9h.1M359.5 240.9h.1M350.2 239.9h.1M346.2 235.4h.1M348.3 229.2h.1M352 235.9h.1M352.9 249.8h.1M349.4 234.9h.1M347.9 237.4h.1M355.7 227.3h.1M343.4 247.3h.1M348.8 236.1h.1M356 248.5h.1M339.1 245.4h.1M348.5 234h.1M351.1 229.5h.1M361.4 245.2h.1M361.2 237h.1M342 246.4h.1M354.4 242.4h.1M350.2 237.5h.1M350.3 245.4h.1M351.8 239.7h.1M339.4 240.2h.1M344.4 242.6h.1M358 246.7h.1M359.7 234.9h.1M362 240.3h.1M345.3 242h.1M354.5 234h.1M348.2 245.8h.1M355.4 244.3h.1M350.9 239h.1M354.4 237h.1M340.5 237.4h.1M349.9 241.1h.1M348.8 232.4h.1M351.5 234.5h.1M351.5 232.3h.1M351.7 242.7h.1M349.8 244.1h.1M354.5 228.5h.1M341.1 241.8h.1M348.5 241.6h.1M340.5 234h.1M342.5 246.5h.1M344.2 231.8h.1M346.4 238.3h.1M338.6 241.6h.1M348.6 236.4h.1M342.2 240.7h.1M356.7 244.9h.1M355.6 237.1h.1M347.6 244h.1M346.4 245.2h.1M363.2 244.2h.1M353.6 228.3h.1M357.1 234.7h.1M351.7 235.6h.1M345 230.6h.1M353 231.2h.1M346.9 241.1h.1M352.6 234.8h.1M356 228.1h.1M359.6 242.8h.1M359.6 243h.1M351.7 236.1h.1M345 230.4h.1M339.1 235.2h.1M352.1 242.5h.1M357.6 245.5h.1M344.4 233.2h.1M339.8 236h.1M357.9 244.5h.1M354.1 230.6h.1M343 236.1h.1M352.4 238.8h.1M357.2 248.6h.1M346.3 249.7h.1M356.5 239.1h.1M353 227.3h.1M348.9 231.7h.1M351.1 236.5h.1M349.7 246.9h.1M351.3 234.4h.1M351.4 246.5h.1" stroke="#b5262a" stroke-width="0.9" stroke-linecap="round" stroke-opacity="0.9"/>
<path d="M363.7 270 L370 266 L376 266.5 L380 263.8 L386 263.2 L393 264 L398.3 267.5 L399 275 L398 282 L401.5 288.5 L399 290 L394 285 L388 284 L382 283 L377 277 L371 272Z" fill="#b5262a" fill-opacity="0.5"/>
<path d="M383.4 278h.1M381.9 277.7h.1M383.9 268h.1M396.5 276.3h.1M391.8 264.2h.1M380.1 276.6h.1M392.4 273.1h.1M397.8 269.1h.1M385.4 277.6h.1M381.7 267h.1M394.2 270.4h.1M394.2 277.4h.1M389.3 273.9h.1M390.4 277.1h.1M379.2 269.7h.1M398.5 283.6h.1M392.6 273h.1M390.1 273.9h.1M397.3 274.9h.1M397 272.1h.1M375.1 270.3h.1M384.5 279h.1M386.1 274.8h.1M379 271.4h.1M382.8 265.7h.1M394.5 279.9h.1M396.1 275.8h.1M397.8 284.6h.1M398.2 289.4h.1M389.4 280.2h.1M383.5 269h.1M386 281.6h.1M382.1 278h.1M394.7 264.3h.1M386.7 269h.1M379.4 276.7h.1M396.7 272.5h.1M385.7 277.1h.1M382.5 268.4h.1M381.4 269.5h.1M381.7 266.5h.1M378.6 271.1h.1M379.2 270.4h.1M385.7 275h.1M395.4 270.1h.1M387.8 278.7h.1M400.9 286.8h.1M392 270.8h.1M399.8 289.2h.1M368.4 267.1h.1M387.8 280.5h.1M387.2 273.6h.1M382.4 272.3h.1M384.8 269.5h.1M393.4 284.7h.1M375.2 267.8h.1M378.4 271.3h.1M399 284.4h.1M390.7 273.1h.1M393.1 279h.1M383.5 271h.1M392.3 273.9h.1M389.3 267.9h.1M384.9 264.6h.1M379 272.2h.1M376.5 273.4h.1M393 277.8h.1M399.5 288.8h.1M392.5 268.2h.1M387.8 266.6h.1M369.5 267h.1M369 270.6h.1M390.5 282.9h.1M393.8 265h.1M382.9 269.7h.1M368.6 268.3h.1M398.6 280h.1M388.1 273.9h.1M372.8 267.4h.1M394.9 268.9h.1M381 270.1h.1M373.7 269.9h.1M389.9 269.6h.1M375.3 268.8h.1M397.4 282.8h.1M393.9 284.8h.1M388.4 282.3h.1M383.4 266.2h.1M392.7 283.3h.1M398.4 281h.1M382.8 268.8h.1M381.3 276.8h.1M394.4 284.8h.1M385.5 280.7h.1M378.8 275.4h.1M376.4 265h.1M394 277.7h.1M397.4 275.6h.1M372.5 267.2h.1M385.9 268.2h.1M374 268.7h.1M383.6 272.1h.1M381 271h.1M390.2 279.5h.1M380.8 273h.1M379.3 271.9h.1M399.4 284.4h.1M373.8 273.5h.1M393.6 270.7h.1M384 266.7h.1M391.8 282.8h.1M371.8 270.4h.1M367.1 270.5h.1M388.8 267.7h.1M384.2 281.3h.1M397 279.8h.1M391.1 274.1h.1M378.2 271.2h.1M374.6 274.5h.1M388.4 283.5h.1M386.6 277.3h.1M385.3 269.4h.1M395.4 271.4h.1M394.6 270.3h.1M391.8 269.2h.1M389.4 266.8h.1M388.8 265.1h.1M375.4 269.5h.1M399.6 287.6h.1M397.6 283.6h.1M386.2 266.7h.1M385.1 275.4h.1M370.5 266.9h.1M385.7 277.5h.1M388.8 269.3h.1M392.8 279.1h.1M392.9 268.2h.1M396.6 285.1h.1M386.7 267.3h.1M384.5 264.9h.1M396 286.3h.1M377.2 266.9h.1M398 289.7h.1M393.8 278.5h.1M395.1 270.4h.1M383.1 263.2h.1M389.3 279.4h.1M395.8 273h.1M398.6 282.6h.1M389.8 283.7h.1M390.7 270.3h.1M367.3 268.6h.1M396.1 277.4h.1M389.9 281.4h.1M377 275.4h.1M378.1 267.4h.1M373.6 266h.1M373.4 272.2h.1M397.3 271h.1M400.1 284.2h.1M390.2 269.6h.1M379.3 277.3h.1M389.9 267.7h.1M380.9 267.3h.1M396.6 272.9h.1M377.7 270.7h.1M371.7 266.9h.1M367.4 268.7h.1M384.5 277.8h.1M375.2 275.8h.1M384.5 266.7h.1M377.5 276.3h.1M370.1 265.7h.1M393 282.6h.1M391.6 265.8h.1M387.9 272.5h.1M367.8 269.8h.1M374.6 267.9h.1M385.8 268.9h.1M399.1 287.3h.1M389.2 278.6h.1M386.4 269.7h.1M380.2 276.4h.1M392.2 266.7h.1M395.4 281.2h.1M391.4 276h.1M391.4 272.1h.1M387.2 266h.1M393.2 275.2h.1M379.6 267.3h.1M391.1 275.1h.1M387.9 263.8h.1M386.1 269.1h.1M395.1 277.4h.1M384.8 271h.1M374.8 270.7h.1M378 271.2h.1M394.8 281.3h.1M376.7 268.8h.1M398.1 287.1h.1M382.5 270.8h.1M367.9 271.4h.1M382.9 277.3h.1M396.1 285.6h.1M394 276h.1M395.5 282.5h.1M388.4 266h.1M370.7 270.5h.1M384.5 264.8h.1M385.2 272.1h.1M380.1 266.8h.1M377.4 264.2h.1M383.4 270.7h.1M391 263.1h.1M378.1 280.6h.1M390.2 271.5h.1M378 266.5h.1M395.7 276.6h.1M376.8 269.3h.1M392.5 276.1h.1M384.7 271.3h.1M389.3 268.8h.1M377.4 276.3h.1M370.7 268.9h.1M395.5 264.3h.1M370 271.6h.1M381.8 273.9h.1M387.8 265.4h.1M373.8 268.4h.1M395.3 279.8h.1M378.7 273.7h.1M385.2 270.4h.1M379 275.6h.1M393 283.2h.1M384.3 270.6h.1M387.5 277.4h.1M396.9 274.8h.1M387.1 271.4h.1M396.2 277.1h.1M378.3 269.8h.1M387.7 281.7h.1M398.2 278.9h.1M398 271.1h.1M372.2 272.2h.1M394.9 278.8h.1M373.8 269.3h.1M372.3 271.7h.1M377.6 275.4h.1M379 277.5h.1M388.8 273.8h.1M386.3 272.5h.1M381.9 280.5h.1M394.5 269h.1M391.1 277.2h.1M380.3 264.5h.1M384.3 266.7h.1M384.5 280.9h.1M388.4 282.6h.1M391.8 273.4h.1M393.1 275.1h.1M388.2 281.7h.1M379.7 273.6h.1M385.2 265.7h.1M382.6 280.8h.1M389.8 275.1h.1M377.9 276.3h.1M375.9 266.9h.1M379 277.5h.1M383.8 280.3h.1M374.3 272.3h.1M396.4 279.9h.1M392.9 280.1h.1M399.4 275.2h.1M394.9 280.1h.1M379.9 269.6h.1M391.3 269h.1M386 284.2h.1M382.5 282.2h.1M385 272.5h.1M375.2 268.2h.1M396.7 271.6h.1M395.6 278.7h.1M395.6 270.2h.1M388.8 281.2h.1M385.2 276.3h.1M381.4 281.1h.1M388.7 268.4h.1M394.6 278.3h.1M397 271.5h.1M393 269h.1M385.3 272.2h.1M396.1 282.6h.1M385.7 277.1h.1M379.9 278.5h.1M383 274h.1M392.1 278h.1M368.3 269.2h.1M381.7 263.7h.1M393.3 277.5h.1M371.4 268.8h.1M381.3 272.9h.1M388.2 282.2h.1M380.9 266.4h.1M387.7 263.7h.1M388 283h.1M381 273.7h.1M381.8 269.1h.1M385.8 279.7h.1M389.2 280.8h.1M386.2 274.6h.1M393.6 276h.1M385.2 267.4h.1M382.6 279.4h.1M384.6 271.3h.1M397.3 285.9h.1M388.2 269.3h.1M384.9 277.1h.1M387.7 274.2h.1M379.1 265.4h.1M384.1 275h.1M391.4 266.4h.1M382.5 274.2h.1M399.3 275.1h.1M375.8 266.9h.1M366.2 268.8h.1M389.3 276.4h.1M394.3 263.9h.1M379.2 277.6h.1M399.2 288.1h.1M389.6 268.1h.1M388.8 264.9h.1M392.1 282h.1M387.2 267.2h.1M394.5 277.5h.1M367.6 268.7h.1M388 283.4h.1M397.6 278h.1M385.7 281.7h.1M376.8 272.7h.1M375 276.1h.1M397.8 281.9h.1M381.3 274.3h.1M400.2 285.9h.1M384 273.1h.1M393.3 277h.1M395.6 269.6h.1M393 278.1h.1M379.6 271.2h.1M395.2 270.7h.1M378.7 272.6h.1M376.3 270.2h.1M379.3 278.6h.1M390.3 271.7h.1M379.9 266.1h.1M377.9 268.7h.1M387.1 278.3h.1M391.4 273.1h.1M377.7 272h.1M397.3 267.3h.1M390.2 267.2h.1M397.8 283.4h.1M389.2 278.4h.1M388.1 277.5h.1M383.1 282.9h.1M370.7 271.6h.1M378 266.2h.1M396.7 287.3h.1M380.4 281.1h.1M371.2 270.5h.1M385.9 278.9h.1M391.2 282.2h.1M387.3 286.2h.1M381.6 267.1h.1M397.9 275.3h.1M396.8 268.1h.1M382.2 279.5h.1M390 265.9h.1M387.6 263.1h.1M393.3 272.3h.1M382.9 270.3h.1M395.3 270.8h.1M390.7 267.9h.1M381 272.2h.1M376.7 269.4h.1M379.4 266.1h.1M392.1 280.1h.1M397.4 273.4h.1M399 286.1h.1M393.4 267h.1M382.7 279.6h.1M381.2 279.3h.1M386.2 271.9h.1M390.7 268.5h.1M380.2 266.1h.1M381.8 281.8h.1M378.7 270.1h.1M369.8 268.7h.1M393.9 275.1h.1M393.7 284.7h.1M393.1 284.1h.1M390.4 275.3h.1M376.2 263.4h.1M385.5 273h.1M390.4 277.9h.1M398.6 290.2h.1M389.9 267.6h.1M393.8 265.4h.1M387.1 275.2h.1M388.4 263.9h.1M393.5 282.5h.1M379 265.7h.1M379.6 267.7h.1M380.1 265.9h.1M381.2 277.2h.1M395 287.2h.1M380.9 266.2h.1M389.2 272.8h.1M392.3 266.2h.1M399.1 289.2h.1M377.4 276.2h.1M389.4 265.6h.1M382.5 281.5h.1M385.4 274.9h.1M390.4 273.5h.1M390.4 275.1h.1M395.3 282.6h.1M385.6 275.7h.1M388.5 284.3h.1M381.7 264.8h.1M373.9 269.2h.1M384.1 278.1h.1M374.6 270.1h.1M382.3 274.5h.1M380.9 283.7h.1M389.2 277.1h.1M378.7 274.5h.1M393.3 283.1h.1M368.4 270.4h.1M378.7 273.8h.1M386 265.1h.1M392.2 281.1h.1M397.3 281.9h.1M369 267.2h.1M372.7 272.9h.1M389.5 269.2h.1M398.9 287.3h.1M397.8 277.5h.1M390.3 277.3h.1M382.5 271.2h.1M387.6 276h.1M392.9 282.2h.1M395.5 274.6h.1M397.6 275.3h.1M382.5 275.6h.1M375 272.9h.1M369.5 271.3h.1M393.6 276.9h.1M389.5 262.2h.1M374.4 268.2h.1M390.2 266.9h.1M396.7 275.2h.1M398.5 280.1h.1M379.1 268.6h.1M372.7 269.8h.1M389.7 282.5h.1M396 284.3h.1M377.6 271.3h.1M387.6 281.7h.1M400.7 288.9h.1M382 283.7h.1M370.1 267.4h.1M382.2 275h.1M365.9 269.8h.1M389.6 283.9h.1M389.4 271.6h.1M391.6 280.4h.1M367.3 267.5h.1M385 271.6h.1M384.8 269.7h.1M394 265.6h.1M396.5 281.5h.1M387.2 263.2h.1M378.1 266.5h.1M378.2 265.8h.1M396.3 272.8h.1M392.9 282.6h.1M387.7 263.6h.1M381.7 269.7h.1M386.9 282.2h.1M377.9 273.7h.1M391.9 273.2h.1M385.4 267.7h.1M382.9 266.8h.1M375.6 270.7h.1M390.8 284.6h.1M397.3 275.3h.1M396.1 273.6h.1M394.3 277.7h.1M393.8 270.5h.1M395.7 282.6h.1M386.5 263.1h.1M390.7 273.7h.1M390.5 279.5h.1M378 279.5h.1M388.6 266.7h.1M378.3 272h.1M390 266.6h.1M379.1 280.4h.1M384.6 273.7h.1M381.4 280.8h.1M380.4 265.7h.1M382.7 272.6h.1M386.7 281.9h.1M394.5 275.5h.1M393.3 281.6h.1M393 279h.1M394.9 283.8h.1M392 265.3h.1M365.1 270.3h.1M395.3 267.9h.1M379 278.5h.1M396.8 276.3h.1M387 274.6h.1M370.5 270.4h.1M395.1 264.8h.1M393.8 265h.1M364.8 269.3h.1M386.6 272.4h.1M383.6 279.6h.1M389.1 271.1h.1M385.3 271.6h.1M387.9 270.5h.1M377.8 276.1h.1M378.3 278.2h.1M396.1 283.1h.1M376.4 272.1h.1M372.3 269.1h.1M385.2 274h.1M374.3 265.4h.1M394.5 279.1h.1M380.7 273h.1M393.6 266.7h.1M395.1 277.8h.1M380.4 278.7h.1M383.7 274.3h.1M396.3 279.7h.1M376.4 268.7h.1M362.8 269.8h.1M393.3 276.8h.1M392.2 278.5h.1M391.9 269h.1M387.2 266h.1M381 274h.1M392.3 270.3h.1M382.9 280.2h.1M373.1 267.4h.1M378.4 268.8h.1M393.9 265.2h.1M368.2 268.4h.1M400.3 272.4h.1M366.9 268.6h.1M373.3 267.4h.1M376.9 267.2h.1M388.2 273.6h.1M385.9 281.8h.1M395.9 271.7h.1M392.1 284.5h.1M397.6 273.9h.1M397.6 283.5h.1M385.4 269.6h.1M388.6 270.7h.1M368.8 268.5h.1M393.1 271.9h.1M379.9 271.4h.1M398.6 268.7h.1M388.1 268.1h.1M380.3 280.8h.1M389.8 276.1h.1M375.6 267.9h.1M387.9 284.4h.1M377 275.8h.1M378.6 272.3h.1M385 273.7h.1M385.3 264.6h.1M397.6 279.8h.1M371.5 271.1h.1M383.8 270.2h.1M395 264.8h.1M397.7 285.8h.1M395.1 267.5h.1M393.6 267h.1M399.8 283.7h.1M399.1 287.5h.1M378.1 271.5h.1M392.6 280.5h.1M392.4 279.3h.1M383.7 280h.1M395.7 285.7h.1M379.1 268.7h.1M397.2 285.1h.1M400.6 290.6h.1M385.6 271.8h.1M390.7 275h.1M383.9 272.2h.1M381.6 268.6h.1M387.3 264.2h.1M382.1 275.7h.1M379.4 266.4h.1M378 267.2h.1M370.6 266.3h.1M397.3 277.1h.1M398.1 276.2h.1M381.9 283.2h.1M381.6 270.7h.1M377.9 277.3h.1M388.8 274.3h.1M397.5 281.4h.1M396.9 286.9h.1M394.3 275h.1M396.4 278.8h.1M397.6 282.6h.1M384.9 277.8h.1M381.8 266.1h.1M371.3 272.7h.1M380.9 275.7h.1M386 278.4h.1M398.6 284.3h.1M385.3 268.5h.1M393.6 265.2h.1M376.6 266.1h.1M384.3 266.5h.1M377.8 267.4h.1M391.1 268.7h.1M384.3 282.8h.1M381.3 269.3h.1M399.6 289.5h.1M397 275.8h.1M387.8 275.8h.1M386.6 277h.1M372.8 266.6h.1M383.4 279.7h.1M398 276.7h.1M386.1 282.4h.1M383.2 276.2h.1M389.6 279.7h.1M398 270.2h.1M385.3 275h.1M384.2 274.4h.1M380.7 281.6h.1M398.7 269.5h.1M396.1 270.7h.1M384.1 279.5h.1M383.1 269.5h.1" stroke="#b5262a" stroke-width="0.9" stroke-linecap="round" stroke-opacity="0.9"/>
<path d="M350 282 L353 276 L358 274 L362 277 L366 282 L368.8 288 L367 294 L361 298.4 L354 298 L350 293 L349.4 287Z" fill="#b5262a" fill-opacity="0.5"/>
<path d="M351.8 283.2h.1M351.5 276.9h.1M355.4 293.1h.1M356.5 296.9h.1M358.1 284.2h.1M358.7 293.9h.1M357.4 283.9h.1M351.5 284.2h.1M360.2 278.9h.1M359.2 289.6h.1M359.8 291.4h.1M360.4 279.2h.1M357.3 277.6h.1M354.8 289h.1M361.1 276.8h.1M359.5 288.6h.1M353.2 287.1h.1M362.3 287.5h.1M357.1 286h.1M363.9 286.5h.1M366.6 285.9h.1M354 291.9h.1M363.2 288.6h.1M356.6 288.5h.1M355.3 291.3h.1M361.3 283.1h.1M354.9 277.3h.1M356.6 295.4h.1M356 285.8h.1M355.1 295.1h.1M362.4 286h.1M365.1 282.9h.1M355.6 291.6h.1M351.8 292.5h.1M350 286.3h.1M354.5 295.2h.1M356.6 285.7h.1M361.2 283.9h.1M356 278.7h.1M353.7 283.3h.1M366.1 285.1h.1M363 291.5h.1M360.6 296.1h.1M368.2 286.1h.1M369.9 289.6h.1M355.6 284.4h.1M350.4 283.3h.1M359.3 280.4h.1M353 276.4h.1M353.5 284.7h.1M356.4 281.1h.1M360.2 277.3h.1M358.2 276.6h.1M355.1 296.8h.1M359.7 289.8h.1M361.6 290.3h.1M361.3 289.5h.1M364.6 288.8h.1M354.2 282.3h.1M360.9 280h.1M351.5 291.7h.1M351.3 291.8h.1M366.2 290h.1M364.8 284.2h.1M352 283.5h.1M352.7 285.2h.1M352.9 295.9h.1M353.5 285.7h.1M361.5 295.2h.1M363 295.5h.1M351.9 281.2h.1M358.9 280.1h.1M364.3 283.4h.1M352.2 288.4h.1M353.4 276.5h.1M360.6 280.3h.1M362.5 290h.1M356 275.6h.1M362.5 294.9h.1M350.7 291.9h.1M363.4 288h.1M358.4 283.6h.1M356.8 292h.1M352.9 278.3h.1M363.1 279h.1M365.7 292.3h.1M367.8 287.6h.1M355.2 283.3h.1M355.4 280.2h.1M362.7 279.1h.1M359.3 282.1h.1M353.5 278.6h.1M362.5 284h.1M352.8 287.4h.1M358.3 290h.1M358.1 278.5h.1M357.5 280.9h.1M365 290.6h.1M363.7 285.3h.1M357.4 291.9h.1M356.1 292.7h.1M357 283.8h.1M352.1 288.4h.1M358.9 281.4h.1M351.9 282.9h.1M352.1 281.8h.1M349.3 284.5h.1M360.6 291.4h.1M358.6 285.3h.1M361.9 288.7h.1M356.2 288.7h.1M357.3 275.8h.1M357.6 293.2h.1M361.6 295.5h.1M362 279.7h.1M366.8 292.6h.1M363.7 289.4h.1M364 293h.1M353.9 292h.1M354 288.9h.1M351.7 285.3h.1M359.4 296.6h.1M354.2 281.4h.1M365.6 282.5h.1M356.1 283h.1M367.4 288.2h.1M360.9 297.4h.1M355.1 290.8h.1M356.8 290.8h.1M352 287.8h.1M360.6 292.1h.1M354.7 284.1h.1M357.5 284.4h.1M359 293.1h.1M365.5 282.5h.1M354.5 292.3h.1M363.4 295.3h.1M366.1 292.5h.1M355.2 286.2h.1M352.6 293.4h.1M355.8 288.3h.1M361.8 288.8h.1M354.6 294.7h.1M360.1 281.4h.1M360 283.4h.1M363.8 284.1h.1M355.2 292.6h.1M352.5 287.1h.1M360.1 287.1h.1M353.9 286.1h.1M361.9 288.5h.1M364.6 297h.1M352.4 292.8h.1M361.5 281.8h.1M359.3 277.9h.1M363 278.5h.1M353.4 282.2h.1M357.3 276.1h.1M362.5 292.5h.1M360.9 290.9h.1M353.9 284.6h.1M359.1 278.9h.1M355.7 280.4h.1M361.2 285.3h.1M363 292.3h.1M360.7 292.4h.1M360 291.7h.1M359.3 286.8h.1M363.3 283.7h.1M367.2 289.7h.1M358.9 293.5h.1M351.2 295.9h.1M368.1 288.3h.1M365.3 280.3h.1M350.4 287.7h.1M364.3 283.5h.1M361.6 283h.1M363.3 294.7h.1M363.5 293.8h.1M359.4 274.4h.1M362.4 280.2h.1M363.2 287.8h.1M356.4 276.4h.1M355.2 275.9h.1M361.5 296.2h.1M354.3 296.2h.1M353.2 276.1h.1M356.1 285.2h.1M351.9 282.3h.1M349 285.9h.1M357.2 284.9h.1M357 290h.1M356.3 284.1h.1M360.2 297.6h.1M354 276.7h.1M365.6 287.3h.1M352.8 287.3h.1M368.2 288.2h.1M356.6 292.5h.1M366.3 287.6h.1M351.8 280.4h.1M364.3 292.1h.1M354 288.3h.1M359.6 290.5h.1M356 275.7h.1M361.1 279.9h.1M354.2 293.5h.1M360.1 275.9h.1M358.8 284.1h.1M354.2 293.3h.1M364.8 283.9h.1M368.2 290h.1M362.9 293.7h.1M361.4 280.4h.1M362.2 284.6h.1M360.5 283.7h.1M355.6 290.1h.1M356.9 293.6h.1M363.7 283.1h.1M358.4 289.2h.1M362.4 295.5h.1M357.4 288.3h.1M365.3 288.9h.1M367.8 284.5h.1M351.8 282.6h.1M362 283.7h.1M360.3 287.8h.1M350.5 278.8h.1M361.2 279.7h.1M352.9 278.5h.1M364.4 296.1h.1M361.1 294.3h.1M357.1 273.6h.1M360.1 284.1h.1M362.9 289.4h.1M364.2 284.1h.1M365.9 288.6h.1M349.9 288.3h.1M367.3 284.5h.1M353.5 296.8h.1M354.2 293.9h.1M352.7 282.8h.1M365.9 282.3h.1M352.1 288.9h.1M358.2 287.6h.1M358.5 292.4h.1M352 293.2h.1M352.8 286.5h.1M354.7 292.5h.1M356.8 276.2h.1M358.4 289.5h.1M362.6 282.9h.1M353.8 284.1h.1M356.2 281h.1M358.8 275.6h.1M365.9 286.1h.1M359.3 280.4h.1M363.4 288.4h.1M364.2 283.3h.1M351.7 293.9h.1M363.8 288.7h.1M354.1 283.2h.1M353.3 292.6h.1M357.5 277h.1M360.7 277.6h.1M351.4 290.3h.1M363.6 289h.1M354 292.2h.1M350.1 287.8h.1M364.1 284.7h.1M355.3 284.2h.1M364.2 279.1h.1M364.3 295.9h.1M357.3 286.9h.1M353.4 287.1h.1M350.4 285.9h.1M354.1 294.3h.1M363.2 280.7h.1M365.5 294.1h.1M352.4 284.6h.1M360.7 288.6h.1M354.7 286.8h.1M363.2 284.3h.1M353.9 286.2h.1M358.7 276.1h.1M350 283h.1M363.6 291.4h.1M359.7 293.5h.1M367 289.5h.1M353.5 284.3h.1M354.6 275.4h.1M360.1 288.2h.1M360 288.5h.1M361.5 287.8h.1M353 287.3h.1M355.9 281.9h.1M360.7 291h.1M353.3 278.5h.1M353.9 278.6h.1M355.7 291.4h.1M359.2 299.1h.1M361.3 292.9h.1M354 282.9h.1M359.5 294.5h.1M355 290.9h.1M363.2 283.9h.1M361.3 286.4h.1M353.7 290.2h.1M366.7 293.9h.1M357.1 292.6h.1M364.3 282.3h.1M355 283.4h.1M359.2 296.3h.1M354.2 280.3h.1M356.4 280.4h.1M359.8 295.4h.1M352.9 283.4h.1M366.4 287.8h.1M358.7 285.7h.1M354.7 286.7h.1M357.4 279.1h.1M363.6 282.5h.1M358.8 275.5h.1M351.3 290.1h.1M366.9 293.4h.1M357 279.1h.1M355.5 280.7h.1M354.6 287h.1M354.6 280.5h.1M363 279.7h.1M362.7 280.9h.1M352.9 287.5h.1M361.6 280.1h.1M359.7 278.1h.1M356.7 290.8h.1M355.3 278.2h.1M359.3 291.4h.1M351.9 279.2h.1M351.8 282h.1M363.8 292.6h.1M360.4 288.3h.1M357.4 278.1h.1M366.6 287.7h.1M364 280.5h.1M354.1 290.4h.1M360.9 290.9h.1M349.9 289.3h.1M350 282.3h.1M352.8 294.8h.1M359.2 276.2h.1M363 285.7h.1M364.2 284.4h.1M351.9 279.7h.1M356.6 291.8h.1M363.9 278.2h.1M358.7 292.1h.1M361.5 298h.1M357.8 278.7h.1M358.6 284.4h.1M360.7 287.9h.1M352.1 291.5h.1M355.7 295h.1M360.1 286.9h.1M355.5 276.3h.1M356.9 277.9h.1M355.9 293.3h.1M360.6 292.1h.1M357.6 289.4h.1M361.1 298h.1M352.8 286.7h.1M365.4 295.1h.1M357.2 284.1h.1M361.5 291h.1M352.8 286.3h.1M355.9 290.4h.1M366.8 291.7h.1M357.1 278h.1M364.1 293.3h.1M359.6 293.6h.1M364.9 293.9h.1M361.7 279.3h.1M363.8 282.2h.1M360.6 284.2h.1M360.5 291.2h.1M359.6 275.8h.1M362.6 288.9h.1M356.7 294.5h.1M353.9 293h.1M357.1 273.6h.1M357.7 284.2h.1M354.2 285.6h.1M359.9 298.3h.1M357.1 290.2h.1M356.5 297.5h.1M352.7 296.6h.1M357.9 287.4h.1M360.1 297.2h.1M356.4 296.2h.1M366.7 291.7h.1M356.5 278.2h.1M352.2 285h.1M358.8 290.7h.1M361.2 297.2h.1M361.4 292.7h.1M365.8 283.4h.1M364.8 291.6h.1M359.9 280.5h.1M364.9 287.5h.1M363.3 288.5h.1M357.9 288.1h.1M357.7 288h.1M366.5 285.5h.1M364 287.4h.1M351.8 291.3h.1M353.4 294.3h.1M349.7 292.4h.1M352.7 285.5h.1M363.9 285.8h.1M361.2 284.7h.1M352.9 291.8h.1M357.3 285.8h.1M351.1 284h.1M352.8 292.1h.1M354.7 289.3h.1M357.4 297.3h.1M358.8 287.8h.1M357.4 282.6h.1M352.6 294.5h.1M363.7 294.4h.1M357.3 294.4h.1M358.3 275.7h.1M358.3 287.9h.1M360.8 291.3h.1M352.7 294.7h.1M354.9 286.2h.1M350.3 282.9h.1M354.5 278.1h.1M355.5 284.1h.1M360.2 284h.1M358.7 280.5h.1M361.5 287.7h.1M351.7 283.3h.1M357.9 293.5h.1M363.3 297.2h.1M360.8 282.7h.1M354.3 293.5h.1" stroke="#b5262a" stroke-width="0.9" stroke-linecap="round" stroke-opacity="0.9"/>
<path d="M355 213 C354.5 218 355 224 355.5 229 M357.6 250.5 C363 253 369 255 374.9 257.7 C375.5 261 375.7 264 375.9 267" fill="none" stroke="#b5262a" stroke-width="1.1"/>
<ellipse cx="357" cy="199" rx="4.6" ry="7" fill="none" stroke="#3a1010" stroke-width="1.2" opacity="0.55"/>
<path d="M370 180 L376 175.5 L385 175.5 L390 179 L392.5 186 L394 193 L398 199 L401.5 206 L402.5 214 L400 221 L393 223.5 L386 221 L383 214 L382 205 L379 197 L374 191 L370.5 186Z" fill="#0a0a0a" fill-opacity="0.72"/>
<path d="M381.5 184.1h.1M388.4 208.5h.1M384.5 189.4h.1M385 185.3h.1M391.7 191.4h.1M389.3 221h.1M393.2 201.4h.1M386.4 212.1h.1M398.7 204.3h.1M394.2 196.1h.1M371.5 177.1h.1M388.4 212.7h.1M384.3 203.4h.1M383.7 197.3h.1M385.5 204.2h.1M382.1 195h.1M385 215.4h.1M392.7 224.1h.1M391.7 196.8h.1M397.8 220h.1M380.9 176.8h.1M378.3 189.3h.1M382.4 200.4h.1M380.3 184h.1M393.6 188.9h.1M376.2 189.8h.1M385.6 199.1h.1M388.6 181.6h.1M390.6 204.2h.1M390.7 210.6h.1M388.2 195.4h.1M392.6 203.7h.1M394.3 197.3h.1M393.3 207.4h.1M402.7 212.5h.1M395.4 201.1h.1M384.8 212.1h.1M388.2 192h.1M389.9 182.9h.1M387.3 181.6h.1M394.6 219.5h.1M392.1 183.2h.1M384.1 200.7h.1M380.4 177.2h.1M373 187.2h.1M398 213h.1M386.5 181.9h.1M394 214.4h.1M389.3 201.7h.1M385.5 213.5h.1M398.1 219.4h.1M390.2 184h.1M389.9 193.9h.1M389.3 191.7h.1M397.9 204.8h.1M398.6 216.2h.1M395.7 216.3h.1M399 214.6h.1M384.3 184.1h.1M386.5 197.6h.1M388.1 213h.1M391.5 187.1h.1M379.2 185.8h.1M389 209.2h.1M388.8 189.8h.1M382.9 202.5h.1M367.9 183h.1M382.5 190h.1M385.3 198.3h.1M381.3 197.4h.1M373.7 182.4h.1M400.7 220h.1M386.9 215.8h.1M390.4 185.9h.1M394.1 210.5h.1M396.9 208.3h.1M387.8 192.6h.1M399.7 203.9h.1M371.7 181.9h.1M393.3 216.6h.1M380 190.8h.1M386.9 180h.1M396.3 206.8h.1M396.2 218.8h.1M375.6 187.5h.1M380 176.3h.1M391.2 180h.1M384.2 221.1h.1M395 202h.1M386.8 211.4h.1M373.8 191.4h.1M402 215.2h.1M380.3 183h.1M389.8 218.1h.1M389.4 182.2h.1M396.4 212h.1M390.3 211.2h.1M383 196h.1M392.2 208.4h.1M383.4 180h.1M395.6 217.6h.1M379.7 179.2h.1M379.5 198.4h.1M389.5 211.7h.1M393.4 207.6h.1M379.2 175.9h.1M388.8 196.1h.1M380.4 175.9h.1M393.3 204.6h.1M385.4 188.4h.1M380.7 177.2h.1M390.4 204.8h.1M381.3 187.3h.1M388.1 219.2h.1M380.2 186.3h.1M384.5 194.3h.1M396.1 211.7h.1M385.1 190.9h.1M398.4 214.7h.1M368.1 182h.1M389.3 185.3h.1M387.9 212.8h.1M398.5 197.7h.1M380.4 183.3h.1M374.2 188.3h.1M386.9 192.2h.1M395.8 219.6h.1M398.4 212.9h.1M376.9 183.3h.1M394.7 204h.1M388.1 205.4h.1M389.5 214.3h.1M389.2 185.7h.1M381.9 179.9h.1M381.7 184.4h.1M399.2 203.2h.1M382.8 199.9h.1M396.3 213.2h.1M385.3 189.8h.1M398 202.2h.1M399.2 207.8h.1M384.1 195.8h.1M383 180.9h.1M388.3 216.3h.1M398.8 216.8h.1M385.3 205.7h.1M396.2 208.1h.1M385.5 181.2h.1M370.3 186h.1M381.3 198.6h.1M384.4 220.6h.1M379.8 178.5h.1M388.3 219.4h.1M392.1 212.1h.1M384.5 192.8h.1M383.6 182.1h.1M378.4 194.8h.1M401 208.2h.1M391.3 216.5h.1M384.2 199.3h.1M378.4 181.7h.1M403.6 211.6h.1M395.1 212.9h.1M370.8 181.5h.1M376.3 183.1h.1M391.5 211.6h.1M379.9 180.5h.1M390.1 210.6h.1M382.8 202.4h.1M381.7 178.5h.1M375.4 193.2h.1M371.5 186.3h.1M377.2 184.5h.1M381.6 177.6h.1M396 208.3h.1M391.1 185h.1M397.6 193.8h.1M372.8 183.3h.1M373.4 187.4h.1M370.9 181.1h.1M380.4 180.5h.1M384.7 204h.1M392.2 207.3h.1M395.9 215.2h.1M387 178.6h.1M385.1 177.1h.1M386.1 208.3h.1M391.1 213.6h.1M385.8 190.4h.1M385.1 190.6h.1M391.9 195.8h.1M378.8 178.6h.1M394.6 208.7h.1M385 190.3h.1M396.4 216.7h.1M398 218.7h.1M390.8 186h.1M368 179.8h.1M385.2 188.2h.1M377.2 183.9h.1M386.5 186.4h.1M375.9 199.7h.1M369.5 181.9h.1M373.6 192h.1M384.3 203.9h.1M373.7 179.9h.1M391.5 219.7h.1M389.1 177.6h.1M398.7 219.1h.1M394.7 224.7h.1M387.3 216h.1M391.8 218.9h.1M379.3 181.8h.1M380.3 185.7h.1M382 178.6h.1M394 217.9h.1M394.3 215.5h.1M381.8 189.6h.1M383.4 205.3h.1M384 208.4h.1M389 192.9h.1M380.8 190.3h.1M387 194h.1M387.4 220.4h.1M395.5 206.1h.1M390.4 198.8h.1M388.5 217.1h.1M375.9 179.1h.1M379.1 177.5h.1M398.2 221h.1M384.1 190.3h.1M385.6 205.7h.1M382.3 176.9h.1M384.6 176.1h.1M388.6 200.1h.1M401.7 202.7h.1M386.8 188.4h.1M370.6 182.4h.1M396.5 218h.1M385.6 177.5h.1M377.8 205.7h.1M392 211.4h.1M388.9 207.4h.1M395.1 215.9h.1M378.7 184.4h.1M392.2 211.5h.1M386.9 189.8h.1M378.1 197.7h.1M377.2 179.3h.1M388.2 195.3h.1M379.9 180.5h.1M384.1 199.5h.1M376.6 184.9h.1M387.5 182.5h.1M383.5 195.1h.1M389.9 191.2h.1M394.3 204.5h.1M393.8 202h.1M382.3 208h.1M378 192.8h.1M368.4 179.8h.1M368 185h.1M385.8 179.6h.1M393.2 197.4h.1M373.8 181h.1M392.3 189.1h.1M376.5 184.2h.1M393.1 188.7h.1M391.6 222.5h.1M370.8 179.7h.1M395.4 204.7h.1M397.3 195.6h.1M388.6 218.4h.1M389.4 209.6h.1M389.9 187.1h.1M393.5 200h.1M378.3 192h.1M385.2 186h.1M381.6 194.7h.1M389.5 201h.1M384.9 196.1h.1M389.4 178.3h.1M393.8 204.4h.1M381.1 180.3h.1M394.1 199.2h.1M390.8 215.2h.1M393.2 191.5h.1M380.7 181.5h.1M390.1 182.7h.1M388.5 211.8h.1M400 205.7h.1M373.7 176.5h.1M400.8 210.1h.1M397.6 221.7h.1M387.4 218h.1M375.9 178.9h.1M387.6 192.5h.1M378.6 193.3h.1M399.8 207.3h.1M392 219.1h.1M388.2 210.1h.1M395.4 205.4h.1M396.6 221.9h.1M401.1 211.2h.1M379.2 186.7h.1M386.2 205.3h.1M388.7 180h.1M387.5 218.7h.1M396.9 218.8h.1M388.9 204.5h.1M376.5 186h.1M395.3 205.8h.1M397.5 208.8h.1M394.9 218.4h.1M397.5 204.9h.1M375 182.9h.1M380 180.2h.1M384 183.6h.1M396.4 198h.1M393.9 217.5h.1M385.7 187.8h.1M390 218.9h.1M392.2 199h.1M380.6 193.9h.1M391.6 195.8h.1M386.1 203.4h.1M381.6 195.9h.1M387.6 205.3h.1M394.2 205.8h.1M384.6 182.3h.1M389.5 197.2h.1M373.4 188.5h.1M391.9 192.4h.1M403.7 207.4h.1M386.9 188.6h.1M382.1 192.2h.1M390.8 197.2h.1M384.6 190.7h.1M392.6 191.5h.1M401.6 208.4h.1M380.9 180.2h.1M373.9 184.9h.1M374.1 192h.1M379.9 180.7h.1M382.9 188.1h.1M388.1 215.1h.1M391.4 179.6h.1M387.4 203.1h.1M383 183.3h.1M389.4 210.8h.1M389.2 205.6h.1M380.6 176.5h.1M383.7 203.1h.1M367.3 177.8h.1M385.4 181.1h.1M375.4 191.6h.1M385.6 197.8h.1M376.2 178.1h.1M389.5 206h.1M386.2 190.9h.1M395.1 207.8h.1M376.9 176.7h.1M379.5 198.2h.1M387.3 218.6h.1M386.7 207.5h.1M394.6 223.8h.1M381 193.2h.1M395.1 223.4h.1M381 190.3h.1M388.8 181.6h.1M384.7 203.2h.1M385.3 188.5h.1M390.3 204.8h.1M401.3 211.8h.1M387 189.8h.1M388 177.4h.1M381.3 181.9h.1M397 219.2h.1M393.6 190.5h.1M367.8 185.6h.1M392.3 182.2h.1M398.1 217.9h.1M394.2 214.5h.1M382.8 193.2h.1M400.1 221.7h.1M383.5 202.7h.1M375.3 176.2h.1M391.6 207.2h.1M395 197.2h.1M404 200.6h.1M388.7 217.2h.1M388.4 212.7h.1M390.7 217.5h.1M382.1 184.7h.1M388.5 207.3h.1M374.2 185h.1M381.1 184.4h.1M379.1 192.1h.1M391.3 185.9h.1M388.7 220.9h.1M401.8 207.7h.1M378.5 179.5h.1M383.7 184.8h.1M388.7 184.7h.1M393 209.7h.1M388.5 196.3h.1M401.8 216.2h.1M397 213.4h.1M393 210.8h.1M386.4 179h.1M376.5 188.6h.1M388.7 208.2h.1M395 208.4h.1M386.4 219.6h.1M396.5 218.6h.1M373.1 187h.1M375.7 191.7h.1M395.7 204.5h.1M376.1 181.5h.1M397 207.2h.1M395.7 218.1h.1M394.3 199.9h.1M396.4 214.1h.1M395.5 207h.1M386.2 207.9h.1M391.4 217.3h.1M378 188.9h.1M400.9 215.3h.1M392.2 219.2h.1M388.9 206h.1M389.5 206.8h.1M381.6 195h.1M373.9 183.2h.1M392.5 220.3h.1M379.1 185.2h.1M373.9 191.3h.1M396.2 195h.1M377 189.5h.1M374.6 178.9h.1M392.6 191.9h.1M378.9 193.2h.1M380.9 193.3h.1M382 189.1h.1M383.5 191.7h.1M378.4 180.8h.1M375 177h.1M389.2 206.8h.1M379.7 191.8h.1M388.6 216.8h.1M401.1 208.6h.1M387.4 201h.1M383.5 188.9h.1M397.8 202.4h.1M394 201.8h.1M397.7 208.9h.1M381.5 195.3h.1M397.4 221.2h.1M390.7 216.8h.1M383.2 221.9h.1M390.8 221.1h.1M375.9 192.2h.1M390.3 207.8h.1M389.4 194.6h.1M380.5 176.8h.1M384.3 201.6h.1M386 178.8h.1M379.2 192.2h.1M393 187.8h.1M397.1 210.7h.1M401.1 212.9h.1M397.4 210.6h.1M384.5 210.5h.1M396.3 210.4h.1M389.6 212.4h.1M379.1 179.1h.1M389.7 214.7h.1M392.2 195.4h.1M378.2 180.2h.1M375.5 187.8h.1M375.4 194.5h.1M398.2 208.3h.1M389.1 213.9h.1M371.5 192.1h.1M393.8 209.8h.1M400.2 210.2h.1M394.2 196.5h.1M389.1 197.5h.1M393.5 208.3h.1M387.6 188.6h.1M376.1 188h.1M384.2 177.7h.1M378.3 184.7h.1M393.8 218.6h.1M385.8 185.4h.1M381.1 186h.1M389.8 185.5h.1M388.6 206.6h.1M396.2 209.8h.1M389.3 182.1h.1M388.3 180h.1M402.5 202.3h.1M377.9 175.3h.1M379.5 191.3h.1M389.1 192.6h.1M389 184.8h.1M391.5 223.4h.1M386.7 170.9h.1M383.9 212.3h.1M377.9 182.9h.1M389.5 217.3h.1M396.2 203.7h.1M397.1 203h.1M386.4 215.1h.1M392.2 205.7h.1M391.6 214.9h.1M372.1 192.2h.1M397 217h.1M399.6 205.4h.1M388 188.8h.1M390.1 211.9h.1M382.7 176h.1M385.8 202.7h.1M392.6 193.9h.1M391.6 204.4h.1M389.8 185.2h.1M377 192.1h.1M389.4 189.5h.1M390.1 190.7h.1M403.9 214.2h.1M391 221.2h.1M394.3 201h.1M398.8 205.7h.1M392.9 209.6h.1M389.3 186.9h.1M389.5 205.7h.1M390.3 205.1h.1M385 179.7h.1M393.5 193.1h.1M384.2 192.1h.1M378.1 190.4h.1M385 184h.1M383 181.2h.1M391.1 214.4h.1M389.8 202.5h.1M382.3 180.7h.1M381.5 180.4h.1M390.8 189.9h.1M398.7 219.7h.1M386.5 209h.1M390.3 179.1h.1M378.9 176.5h.1M384.2 179.5h.1M393 220h.1M384.9 191.8h.1M383.1 191.3h.1M389.6 190.1h.1M387.6 181h.1M376.6 190.2h.1M394.3 206.7h.1M395.9 205.2h.1M398.4 220.2h.1M389.7 185.6h.1M391.9 221h.1M397.9 215.1h.1M377.6 174.4h.1M391.7 191.4h.1M377.4 188.9h.1M395.7 219.4h.1M373 180.3h.1M377.2 179.3h.1M383.9 215.5h.1M396.6 204.3h.1M375.7 178.1h.1M384.6 188.9h.1M395.8 194.6h.1M401.1 216.6h.1M384.2 209.9h.1M387.5 194.9h.1M390.7 217.1h.1M387.8 178.5h.1M388.4 188.3h.1M398.8 203.9h.1M383.2 177h.1M393 222.2h.1M375.3 194h.1M386.4 185.8h.1M397.2 200h.1M386.8 215.1h.1M384.9 186.3h.1M390.3 211.6h.1M391.1 201.6h.1M398.7 219.8h.1M374.4 182.3h.1M384.7 189.2h.1M377.9 187h.1M375.9 188.8h.1M394 209.5h.1M403.3 212.4h.1M400.6 205.2h.1M382.7 203.1h.1M382.2 190.2h.1M372.9 180.2h.1M389.4 183.9h.1M398.1 216.2h.1M397.8 210.6h.1M380.1 193.3h.1M382.1 190.6h.1M390.2 214.3h.1M375.7 183.4h.1M387.9 183.2h.1M389.9 204.6h.1M386.7 188h.1M399.4 208.6h.1M385.9 188.7h.1M392.5 213.9h.1M394.1 209.4h.1M389.1 175.5h.1M394.4 208.5h.1M390.7 212.5h.1M383.3 189.6h.1M379.6 189.5h.1M379.4 203.3h.1M382.7 195.1h.1M374.6 180.1h.1M381.6 176.1h.1M389.7 202.1h.1M387.7 198.3h.1M393.9 201.1h.1M387.5 187.2h.1M383.2 188.4h.1M389.1 191.5h.1M388.4 215.1h.1M400.8 223.8h.1M389 183.3h.1M398.8 208.9h.1M386.6 202.3h.1M389.3 215.6h.1M373.4 177.4h.1M383.6 204.6h.1M377.9 179.3h.1M374.7 188.1h.1M396.4 207.2h.1M391.5 176.7h.1M387.4 192.9h.1M380.1 212.2h.1M378.2 192.3h.1M397 191.4h.1M400.9 210.6h.1M382.3 212.4h.1M385.8 208.9h.1M382.5 197.1h.1M393.5 201.8h.1M390.2 204.4h.1M377.6 181.4h.1M393.4 212.1h.1M387.6 196.2h.1M391.1 197.5h.1M390.5 181.4h.1M380.6 200.5h.1M394.9 208.1h.1M385.1 196.5h.1M377.2 177.7h.1M396.6 197.2h.1M377.5 180.9h.1M377.3 190.4h.1M391.9 207.3h.1M388.9 191.3h.1M397.3 201.6h.1M389.2 192.8h.1M395.7 192.8h.1M397.9 202.7h.1M390.8 185.4h.1M395.8 192.2h.1M389 200.9h.1M399.9 219.7h.1M395.7 211.1h.1M397.8 195.3h.1M367.2 183.8h.1M389 216.7h.1M386.8 182.8h.1M400 214.6h.1M388.4 206.8h.1M383.5 182.1h.1M384.2 212h.1M396.8 223.4h.1M400.1 216.7h.1M382.2 193h.1M387.3 201.2h.1M394.8 201.2h.1M398 215.5h.1M392.4 211.8h.1M380.5 178.2h.1M403 216h.1M391.9 224.2h.1M396.9 217.4h.1M382.8 180.3h.1M386.7 188.3h.1M388.2 217.9h.1M383.6 180.4h.1M366.8 179.1h.1M373.9 188.3h.1M401.9 204.9h.1M386.5 187.3h.1M389.6 193.1h.1M400.5 206.6h.1M384.6 175.6h.1M391.4 218h.1M397.1 217.1h.1M395.6 202.7h.1M397.4 210.7h.1M385.1 183.8h.1M399.5 208.5h.1M389.4 209.3h.1M398.2 205.7h.1M394.8 208.4h.1M381.6 183.4h.1M388.7 204.2h.1M385 220.3h.1M378.3 182.5h.1M387.9 188.3h.1M381.7 180.5h.1M380.2 180.7h.1M384.7 202.6h.1M378.9 192.6h.1M403.1 221.2h.1M391.1 205h.1M377.2 189.2h.1M394.8 203.1h.1M381 187h.1M379.4 181.4h.1M382.8 178.9h.1M396.9 198.5h.1M383.4 204.2h.1M382.6 175.1h.1M384.2 175.3h.1M392.5 215.3h.1M380.3 175.1h.1M386.5 212.3h.1M371.4 190.6h.1M391 198.9h.1M388 181h.1M369.7 182.2h.1M391.6 202.9h.1M398.9 219.2h.1M386.3 211h.1M391 198.1h.1M395.3 199.3h.1M396 212.9h.1M385.9 183.7h.1M383.1 213.5h.1M387.4 195.7h.1M383.9 181.4h.1M380.7 190.1h.1M381.8 192.8h.1M403 215.5h.1M391.9 200.7h.1M385.3 174.4h.1M380.6 182.2h.1M401.1 208.1h.1M384.3 184.5h.1M387 215.3h.1M393.1 216.8h.1M388.3 187.4h.1M392 201.2h.1M391.9 201.2h.1M371.7 179.3h.1M389.5 192.3h.1M383.8 181.6h.1M391.6 218.7h.1M386.6 217.4h.1M384.2 184.7h.1M390.4 211.8h.1M383.5 178.5h.1M371.7 181.8h.1M382.9 195.6h.1M401.4 206.3h.1M372.9 187.4h.1M384 192.7h.1M389.7 190.1h.1M373.5 181.6h.1M380.6 201h.1M395.1 198.9h.1M371.2 185h.1M397.1 206.1h.1M398.8 205.7h.1M381.8 203.7h.1M381.7 177.2h.1M393.2 205.5h.1M400.3 204.5h.1M373.2 178.8h.1M392.5 207.4h.1M383.9 215.9h.1M379 187.1h.1M397.6 205.4h.1M389.3 210.8h.1M377.2 179.1h.1M385.9 206.6h.1M393.2 208.4h.1M393.2 211.2h.1M374.5 179.2h.1M390.2 215.2h.1M395.1 205h.1M393.6 206.6h.1M393.1 210.5h.1M383.6 189h.1M389.4 194.1h.1M378.1 195.4h.1M381.5 185.1h.1M389.7 180.5h.1M373.1 189.6h.1M380.4 185.7h.1M387.9 211h.1M392.6 207.1h.1M387.4 193.9h.1M382.2 205h.1M389.8 197.7h.1M392.5 206.9h.1M382.6 184.4h.1M395.8 215.2h.1M396.8 210h.1M373.9 186.5h.1M388.2 215.6h.1M394.2 212.2h.1M393.4 212.4h.1M390.7 189.4h.1M390.9 194.8h.1M390.6 221.1h.1M379.8 178.6h.1M376.7 177.1h.1M394.5 209.5h.1M386.9 192.1h.1M394.7 210.4h.1M397.2 213.2h.1M382.9 194.1h.1M390.5 211.8h.1M384.5 189.9h.1M386.1 177.5h.1M384.2 205.1h.1M385.5 193.4h.1M399.9 199.9h.1M383.8 178.5h.1M383.5 190.1h.1M392.2 190.2h.1M397 198h.1M400 209h.1M379.7 201h.1M391.3 186.3h.1M379.3 191.1h.1M383.5 220.3h.1M400.6 204.2h.1M384.2 220.2h.1M400.3 217.5h.1M376.8 181.3h.1M390 192.3h.1M381.7 194.4h.1M386.9 210.4h.1M379.8 193.7h.1M386.4 195h.1M389.4 186h.1M385.2 207.8h.1M381.2 212.2h.1M377.4 175.4h.1M388.4 190.6h.1M385.6 212.9h.1M390.1 200.4h.1M386.9 190.7h.1M378.9 182.2h.1M382.6 178.8h.1M384.8 185.6h.1M398.2 223h.1M395.9 206.6h.1M384.7 203.6h.1M385.4 183.3h.1M397.1 201.5h.1M373.5 183.9h.1M395 214.3h.1M383.6 199h.1M385.1 212.1h.1M392.9 204h.1M385.9 185.1h.1M393.5 223.1h.1M388.1 205.3h.1M392.9 199.8h.1M369.5 184h.1M387.9 196.8h.1M392.3 189.2h.1M391.7 193.4h.1M386.5 184.3h.1M396.1 199.4h.1M385.9 180.6h.1M386.3 194.9h.1M387.7 191.7h.1M384.2 211.9h.1M380.5 193.8h.1M379 207.8h.1M376.4 188.7h.1M393.2 193.2h.1M383.3 200h.1M397.7 216.5h.1M383.5 201.1h.1M394.7 209.5h.1M389.6 195.6h.1M374.2 182.1h.1M384.6 194.6h.1M384.4 195.9h.1M380.2 191.6h.1M390.8 215.1h.1M381.5 189.6h.1M384.4 187.4h.1M398.8 204h.1M394.2 203.8h.1M395.3 206.6h.1M384.7 190h.1M386.8 178.7h.1M393.6 191.1h.1M387 196.1h.1M400.2 215.2h.1M378.9 197.2h.1M385.4 196.9h.1M399.5 213.5h.1M371.9 177.6h.1M384.5 216.5h.1M388.8 198.5h.1M396.2 216.3h.1M391.9 216.5h.1M398.7 201.3h.1M397.2 208.3h.1M395.1 202.1h.1M391.9 198.2h.1M395.2 192.2h.1M379 177.6h.1M391.4 213.2h.1M393.7 205.8h.1M380.8 185.5h.1M373.4 185.6h.1M401.6 205.5h.1M397 214.3h.1M398.9 222.9h.1M380 191.6h.1M397.3 219.8h.1M387.7 213.4h.1M382.7 214.5h.1M378.5 179.7h.1M375 190.6h.1M394.1 206.4h.1M390.6 212.8h.1M384.1 209.1h.1M386.3 194.3h.1M391.9 183.6h.1M396.3 209.4h.1M372.5 181.8h.1M369.1 179.3h.1M382.7 202.8h.1M387.1 191.1h.1M371.5 182.7h.1M396.8 201.9h.1M386.5 192.8h.1M370.3 176.5h.1M388.8 209.1h.1M398 213.7h.1M379.8 183.6h.1M393.4 188.5h.1M384.9 204.2h.1M381.5 206h.1M389.3 216.1h.1M390.2 189.7h.1M392.2 201.1h.1M398.3 204.1h.1M396.4 215.3h.1M392.5 194.2h.1M389.4 210.4h.1M390 196.7h.1M387.2 189h.1M381.2 206.6h.1M379.8 189.8h.1M386.7 206.6h.1M379.8 195.7h.1M390.7 218.7h.1M384.2 210.3h.1M400.1 220.7h.1M384.9 183h.1M384.2 198.8h.1M375.4 183.7h.1M386.4 209.6h.1M376.5 192.2h.1M383.2 185.3h.1M396.4 208.2h.1M374.4 193.9h.1M393.7 193.4h.1M388.5 206.4h.1M376.9 195.4h.1M385.2 202.8h.1M384 192.8h.1M373.9 184.3h.1M386.9 181.3h.1M385.7 199.2h.1M395.7 199.3h.1M396.7 208.2h.1M383.2 212.4h.1M398 205.7h.1M385.8 192.9h.1M386.8 214.1h.1M387.6 195.9h.1M385.8 182h.1M388 200.4h.1M391.4 211.4h.1M379.5 175.9h.1M384.8 195.6h.1M391.8 198h.1M397.5 213.7h.1M388.4 202.8h.1M391 177h.1M388.8 198.8h.1M395.3 194.3h.1M394.4 220.9h.1M390.5 188.2h.1M397.4 211.5h.1M382.8 184.7h.1M396.6 215.4h.1M382.6 203h.1M400.4 207.7h.1M400.4 201.5h.1M391.3 204.6h.1M385.4 200h.1M392.1 215.3h.1M387.8 176.7h.1M372.1 185.5h.1M389.8 203.5h.1M376.5 183.3h.1M392.1 216.1h.1M392.1 189.9h.1M384.9 194.3h.1M380.2 189.7h.1M396 211.4h.1M385 189h.1M392.8 206.7h.1M391.8 209.4h.1M389.5 203.1h.1M378.4 176.8h.1M393.3 212.3h.1M378.9 182.7h.1M371.7 181.3h.1M380.7 196.4h.1M378.3 197h.1M379.5 190.5h.1M393.9 201.9h.1M377.2 181.3h.1M378 187.5h.1M380.3 178.8h.1M389.5 210h.1M400.2 218.5h.1M398.1 207.9h.1M380.4 187.5h.1M376 189.6h.1M373.3 184.2h.1M386.2 176.5h.1M375.9 186.1h.1M390.2 209.8h.1M388.1 215.5h.1M386.3 197.3h.1M397.3 209.7h.1M384.3 216.6h.1M400 210.5h.1M374.7 177.6h.1M384.8 196.1h.1M391.6 205.9h.1M386.2 221.1h.1M398.3 217h.1M391.5 186h.1M388.4 198.9h.1M395.7 224.5h.1M390 178.9h.1M384.2 178.5h.1M390.1 203.3h.1M376.3 186.8h.1M390.4 192.5h.1M389.5 219.1h.1M383.6 196.9h.1M395.4 203.2h.1M397.1 216h.1M394.9 194.7h.1M393.2 222.1h.1M381.3 193.3h.1M383.9 207h.1M399.1 216.7h.1M394.1 219h.1M372.8 183.6h.1M386.8 194.5h.1M378.8 178.7h.1M383.5 181.3h.1M400.8 219.8h.1M388.7 209.8h.1M381.2 189.2h.1M391.9 210.1h.1M393.6 219.3h.1M395.4 204.5h.1M390.7 195.8h.1M377.2 181.1h.1M387.2 187.8h.1M383.1 183.2h.1M388.8 184.7h.1M381.2 188.6h.1M387.4 201.1h.1M388.2 211.1h.1M381.6 199.2h.1M395.4 204.8h.1M400.8 214.6h.1M381.7 211.7h.1M392.9 193.9h.1M390.4 194.5h.1M393.1 213.4h.1M380.9 179.7h.1M385.6 184.3h.1M396.5 216.4h.1M379.9 183.1h.1M379.7 196.6h.1M386.1 209.9h.1M374.6 185.5h.1M378.2 191.4h.1M385.7 200.5h.1M390.6 209.6h.1M392.6 194.6h.1M390.2 220.6h.1M375 189.5h.1M385.2 204.7h.1M392.9 224.4h.1M398 212.3h.1M384.4 182.4h.1M392.4 198.3h.1M380.9 189.8h.1M399.2 201.9h.1M395.3 222h.1M388.9 187.8h.1M383 195.6h.1M386.9 193.8h.1M372.6 174.3h.1M386.2 198.5h.1M377.7 190.5h.1M388.9 206.2h.1M377.2 190h.1M370.6 183.4h.1M404.6 206.7h.1M389.4 212.5h.1M385 213.6h.1M391.6 188.8h.1M389.8 192.9h.1M386.4 184.2h.1M389 194.2h.1M378.1 178.1h.1M384.8 191h.1M389 219.1h.1M385.2 189h.1M386.3 184h.1M399.7 209.3h.1M393.4 218.9h.1M384.7 184.9h.1M386.6 184.6h.1M393.5 209.1h.1M379.1 185.9h.1M373.3 179.3h.1M386.9 179.8h.1M370.7 184.8h.1M382.2 183.6h.1M386.2 213.8h.1M396.4 197.9h.1M391.1 220h.1M388.7 211.9h.1M394.5 218.5h.1M388.8 211h.1M392.9 194.2h.1M382.6 203.5h.1M388.8 187h.1M393.7 219h.1M388.5 193.7h.1M391.8 209.2h.1M374.2 178.8h.1M374 178.5h.1M388.4 183.7h.1M385.2 177.1h.1M394.1 208.5h.1M398 205.7h.1M379.5 191.2h.1M383.2 212.3h.1M370.3 180.2h.1M397.2 207.3h.1M382.1 181.5h.1M381.4 184.7h.1M388.8 189.2h.1M382.5 202.7h.1M385.2 207.6h.1M384.2 182h.1M374.8 190.4h.1M384.1 204.5h.1M390.6 212.9h.1M389.5 218.3h.1M379.2 177.2h.1M383.2 186.3h.1M388.3 215.2h.1M385.1 209h.1M392.6 207h.1M382.5 188.1h.1M401.2 217h.1M377.7 189.9h.1M389.3 190.3h.1M382 192.3h.1M389.8 187.8h.1M400.3 206.2h.1M378.5 187.2h.1M372.4 180.3h.1M391.6 205.3h.1M380.6 205.7h.1M398 217.1h.1M393.3 223.3h.1M389.2 197.4h.1M398.1 209.6h.1M376.2 177.6h.1M372.7 182.9h.1M384.1 186.7h.1M386.6 212.7h.1M395.3 217.7h.1M394.2 221.4h.1M398.6 203.5h.1M385.6 196.1h.1M381.5 185.9h.1M390.1 220.1h.1M386.9 216.1h.1M384.2 206.2h.1M386.2 181h.1M398.3 217.9h.1M380.7 212.4h.1M389.6 203.8h.1M388.2 184.6h.1M384.6 187.6h.1M389.3 222.9h.1M379.7 181.9h.1M396.2 205.8h.1M385.6 213.2h.1M387.5 206.2h.1M383.3 210.4h.1M389.2 216.8h.1M397.4 218.6h.1M398.8 214.1h.1M397.1 213.4h.1M388.8 211.4h.1M392.4 179.7h.1M387.3 187h.1M376.9 187.7h.1M375.2 185.1h.1M382.8 210.3h.1M381.5 182.9h.1M395.2 199h.1M391.3 195.8h.1M387 189.9h.1M386.1 190.2h.1M375.7 193.1h.1M392.6 207.6h.1M393.8 192.7h.1M387 223.2h.1M390.4 211.8h.1M390.5 200.5h.1M386.5 193.1h.1M393.2 207.6h.1M390.6 191.4h.1M397.6 214h.1M371.3 183.6h.1M392.9 196.3h.1M397.8 205.7h.1M382.1 177.6h.1M375.2 186.1h.1M388.2 219.1h.1M394.7 216.5h.1M387.1 219.1h.1M386 181.2h.1M373.9 187.5h.1M384.8 200.8h.1M401.5 211.7h.1M398.9 217.6h.1M375.8 188.9h.1M389.6 193.2h.1M391 191.9h.1M391.5 222h.1M385.9 201.1h.1M382.8 183.7h.1M388.2 200.1h.1M370.9 185h.1M391.7 201.1h.1M391.6 209.8h.1M384.5 177.6h.1M399.2 205.6h.1M377.5 187.6h.1M377.3 193.1h.1M381.2 191.1h.1M400.7 212.1h.1M400.5 209.1h.1M372.5 188.3h.1M392.2 207.1h.1M381.6 200.7h.1M402.2 209.2h.1M389.5 181.7h.1" stroke="#111" stroke-width="0.8" stroke-linecap="round" stroke-opacity="0.85"/>
<path d="M380.1 185.9h.1M395.2 193.1h.1M386.2 206.6h.1M380.6 217.9h.1M398.5 195.7h.1M385.3 190.3h.1M381.4 209h.1M386.3 188.2h.1M382.7 186.6h.1M389.5 203.7h.1M387.6 208.7h.1M372.9 181.7h.1M385.6 179.1h.1M397.4 218.4h.1M366.7 181.3h.1M386.2 217.8h.1M394.9 221.5h.1M370.2 189.5h.1M402 215.5h.1M394 218.8h.1M382.8 212h.1M383.2 207.3h.1M385.4 189.3h.1M386.2 181.7h.1M389 188.8h.1M403.4 199.3h.1M392.3 199.6h.1M377.3 196.4h.1M393.4 212h.1M379.6 217.9h.1M369.2 184h.1M383.7 179.3h.1M399.3 210.8h.1M395.4 213.8h.1M383.8 222.5h.1M395 205.6h.1M401.3 189.5h.1M399.3 195.6h.1M386.8 207.5h.1M397.9 184.7h.1M384 209.3h.1M398.5 212.8h.1M384.9 199.6h.1M396.3 189.3h.1M391.7 220.9h.1M400.7 219.3h.1M394.8 185h.1M381.9 210.3h.1M393.3 196.2h.1M375.6 180.4h.1M394 184.4h.1M381.9 186.6h.1M399 208.6h.1M384.2 204.2h.1M403.9 219h.1M403 197.1h.1M403.6 199h.1M393.8 213.3h.1M401.2 192.2h.1M393.7 194.1h.1M403.6 194.4h.1M389.4 181.2h.1M375.9 182.9h.1M401.6 187h.1M378.4 187h.1M376.5 184.3h.1M401.1 200.7h.1M388.3 221.9h.1M374.3 192h.1M401 208h.1M387.9 211.8h.1M376.7 193.6h.1M380.2 201.4h.1M389 190.7h.1M369.8 188.3h.1M366.9 180.6h.1M397.1 205.4h.1M387.5 213h.1M368.1 188h.1M401.3 195h.1M401.1 197.4h.1M387.1 220.1h.1M374.7 189.7h.1M392.7 194.9h.1M397.9 219.6h.1M387.7 188h.1M379.9 182.2h.1M403.9 192.1h.1M384.4 182.6h.1M386.4 192.2h.1M393.3 191.9h.1M376.7 189.6h.1M388.7 201.5h.1M403.6 205.4h.1M392.1 186.3h.1M393.9 223.1h.1M399.1 189.6h.1M381.6 178.1h.1M398.7 222.2h.1M397 193.8h.1M381.6 180.3h.1M377.4 180.8h.1M393 224.6h.1M389.6 179.1h.1M394.9 198.4h.1M382.4 186.9h.1M398.9 215.9h.1M369.3 181.4h.1M393.8 220.7h.1M386.3 195.9h.1M400.3 202.2h.1M403.4 206.9h.1M385.7 191.6h.1M398.3 187.3h.1M384.1 177.5h.1M381.4 216.5h.1M388.2 182.8h.1M385.2 217.4h.1M393.7 192.8h.1M399 203.3h.1M383.9 223.4h.1M372.9 188.8h.1M382.6 206h.1M384.9 211.9h.1M396.8 200.6h.1M378.8 192.5h.1M397.7 220.8h.1M381.8 188.9h.1M389 211.3h.1M387.6 223h.1M398.5 194.7h.1M401 215.5h.1M392.3 190.3h.1M403.3 217.4h.1M392.5 220.1h.1M379.9 215.5h.1M403 217.3h.1M392.8 214.6h.1M393 180.9h.1M389.4 202.8h.1M383.6 208.5h.1M380.3 210.5h.1M379.3 207.1h.1M377.7 180.1h.1M384.8 205.8h.1M399.1 217.9h.1M380.2 224.8h.1M398.6 206.8h.1M395.1 212.3h.1M373.2 188.9h.1M394.1 211.7h.1M395.4 184.6h.1M396 192.1h.1M384.8 200.8h.1M386.3 200.2h.1M393.8 196.6h.1M394.9 205.4h.1M399.1 193.7h.1M397.7 221.6h.1M384.1 204.2h.1M398.3 193.9h.1M392.1 180.5h.1M399.4 207.7h.1M387.1 209.8h.1M393.8 214.2h.1M382.8 214.6h.1M377.8 217.1h.1M387.8 208.6h.1M391.3 200.1h.1M379.8 202.7h.1M388.3 221.2h.1M402.6 215.5h.1M388.6 209.6h.1M391.5 195.3h.1M388.7 213.7h.1M396.9 200.4h.1M373.1 186h.1M403.7 211.4h.1M382.8 205.4h.1M382.2 210.8h.1M392.7 193.8h.1M396.4 207.6h.1M401.8 202.2h.1M397 203.3h.1M393 204.1h.1M371.3 188.9h.1M396.4 213.1h.1M396.7 223h.1M388.4 179.4h.1M384.4 190.5h.1M373.5 192.7h.1M392.3 189.8h.1M385.2 223.4h.1M398.8 196.8h.1M377.3 219.8h.1M384 216.3h.1M388 195.8h.1M391.9 218.7h.1M384.3 177.7h.1M385.1 220.7h.1M391 201.4h.1M386.2 183.3h.1M392.4 212.6h.1M381.8 192.6h.1M399.3 222h.1M370.7 181.3h.1M385.4 182.4h.1M370.6 182.6h.1M380.3 178.7h.1M395.4 203.3h.1M395 206.2h.1M389.1 224.9h.1M401.2 202.1h.1M392.3 199.6h.1M389.6 176.6h.1M383.1 195.4h.1M368.3 184.1h.1M380.7 193.1h.1M396.6 184.1h.1M385.4 189.8h.1M390.4 179.2h.1M393.7 177.9h.1M386 182.7h.1M395 185.1h.1M383.8 181.5h.1M390 208.6h.1M387.1 211.1h.1M399.8 211.6h.1M377.9 187.5h.1M402.9 207.3h.1M384.2 223.8h.1M392 188.5h.1M392.9 196.1h.1M397.8 203h.1M386.8 177.8h.1M376.7 178.7h.1M402.8 206h.1M397.4 192.2h.1M402.7 219.2h.1M388.3 208.5h.1M375 178.3h.1M399.4 188.3h.1M390.5 189.3h.1M403.5 207.7h.1M387.2 214.8h.1M381.6 203.8h.1M384.5 214.9h.1M376.5 220.4h.1M369 180.1h.1M388.2 191.3h.1M389.2 215h.1M386.3 219h.1M370.1 182h.1M376.9 195.4h.1M391 224.5h.1M387.1 198.4h.1M386.5 202.9h.1M389.7 201h.1M396.2 200.6h.1M375 183.7h.1M398.7 193.2h.1M371.7 189h.1M397.4 190.8h.1M402.9 204.4h.1M382.7 206.2h.1M385.6 177.2h.1M383.3 200.9h.1M371 186.3h.1M400.3 218.2h.1M388 225h.1M383.2 218.3h.1M383.2 218.4h.1M386.1 188.7h.1M381.5 199.2h.1M402.3 210.2h.1M370.5 189.7h.1M392.7 210.1h.1M393.1 224h.1M389.5 216h.1M388.2 213.9h.1M395.6 202.8h.1M379.4 222.6h.1M382.3 181h.1M397.6 209.2h.1M391.2 216.3h.1M399.7 219.1h.1M388.7 215.3h.1M389.5 225.8h.1M379.7 221.1h.1M384.7 181.6h.1M381.5 195.6h.1M392 214h.1M382.8 181.7h.1M401.4 199.8h.1M388 179.9h.1M376.2 183.3h.1M390.7 201.8h.1M403 217.9h.1M392 197.3h.1M377 195.2h.1M367.5 180.6h.1M384.8 183.9h.1M380.8 182.2h.1M396.6 210.7h.1M400.1 211.1h.1M400.3 194.3h.1M391.7 201.6h.1M383.5 207.4h.1M392.4 194.5h.1M388.2 206.3h.1M384.1 193h.1M394.8 202.9h.1M382 190.5h.1M383.6 203.4h.1M402.8 191.8h.1M380 179.8h.1M386.3 204.4h.1M390.8 187h.1M397.3 189.6h.1M373.7 193h.1M394.1 183.8h.1M377.1 220.2h.1M394 213.7h.1M376.7 183.9h.1M402.1 187.8h.1M376.5 187.8h.1M377.6 196.5h.1M400.6 201.4h.1M393.9 206.4h.1M374.1 191.5h.1M389.4 196.4h.1M393.2 193.6h.1M394.7 225.4h.1M387.9 207.4h.1M396.7 188.6h.1M384.2 219.1h.1M381 207.6h.1M391.3 199.3h.1M373.2 194.1h.1M385.5 194.8h.1M393.3 199.8h.1M382.5 211.4h.1M374.3 182.1h.1M382 200.9h.1M397.5 200.1h.1M400.8 210.5h.1M390.5 226.5h.1M403.2 198.7h.1M401.7 220h.1M386.4 188.3h.1M388.8 181.9h.1M390.1 198.3h.1M389.9 218.5h.1M392.8 210.5h.1M383.9 188.7h.1M380.2 217.2h.1M395.6 180h.1M377.4 194.4h.1M401.8 190.8h.1M375.3 187.4h.1M381 197.1h.1M376.8 180.9h.1M396.7 222.1h.1M379.4 220.6h.1M383.6 193.4h.1M382.1 210.6h.1M396.5 210.6h.1M372.7 185.5h.1M403.6 213.3h.1M378.2 196.8h.1M395 181.4h.1M401.1 196.6h.1M393.3 207.9h.1M388.6 222.3h.1M379 187.4h.1M397 185h.1M394.3 219.8h.1M383.7 193.5h.1M378.1 219.8h.1M396.2 211.6h.1M395.1 213.1h.1M394 206.8h.1M370.2 180.9h.1M386.3 211.1h.1M402.6 216.1h.1M389 212.3h.1M385.1 200.6h.1M376.6 194.1h.1M389.2 221.3h.1M380.6 211.9h.1M386.9 225.8h.1M394.4 218.7h.1M388.2 221h.1M391.5 203.5h.1M385.9 184.4h.1M394.9 191.5h.1M378.6 216.2h.1M400.7 207.6h.1M382.4 187.3h.1M397.6 185.8h.1M388.6 205.5h.1M378.3 222.9h.1M399.1 212.4h.1M397.3 200.7h.1M390.4 220.7h.1M377.8 182.4h.1M393.1 182.6h.1M375.9 179.7h.1M368.4 189.2h.1M379.2 186.5h.1M388.1 202.2h.1M402.5 208.5h.1M376.9 185.6h.1M396.5 184.8h.1M391.3 201h.1M377.7 221.4h.1M387.3 177.7h.1M387.4 189.1h.1M381.5 185.5h.1M383.5 179h.1M391.2 197.5h.1M393.1 213.4h.1M389 213.2h.1M372.2 189.1h.1M382.5 202.1h.1M379.9 194.6h.1M382.8 196.7h.1M389 198.6h.1M397 187.6h.1M367.2 180.6h.1M391.7 178.6h.1M387 205.5h.1M388.8 180.8h.1M398.5 188.2h.1M375.7 186.5h.1M394.7 208.3h.1M402.4 188.1h.1M391.2 178.5h.1M378.8 195.1h.1M373.3 193.8h.1M377.7 195h.1M378.8 191.3h.1M381.9 218.4h.1M369.5 184h.1M389.1 208.7h.1M394.4 178.7h.1M384.2 224.9h.1M377.6 180.8h.1M402.5 220.1h.1M398 193.4h.1M391.6 185.3h.1M387 198.1h.1M403.7 193.4h.1M391.3 203.8h.1M390.3 220.2h.1M394.3 198.5h.1M371.6 191.4h.1M382.4 202.4h.1M383.2 219.9h.1M396.5 215.4h.1M402 203.2h.1M393.4 197.9h.1M400 192.6h.1M373.1 190.9h.1M369.8 182h.1M389.4 202.1h.1M388.7 202.2h.1M371.2 188.3h.1M385.4 185.2h.1M375.1 183.2h.1M401.5 216.7h.1M383.8 182.9h.1M396.6 189.8h.1M376.2 188.4h.1M399.1 207.9h.1M386.5 177.9h.1M378.8 216.4h.1M386.1 177.4h.1M383.8 184.3h.1M378.5 183h.1M387.8 219.1h.1M377.6 186.9h.1M402.1 211.5h.1M385.7 183.4h.1M396.1 182.3h.1M369.3 185.7h.1M391.3 201.9h.1M399 215.3h.1M374.2 182.9h.1M393.1 226.2h.1M394.7 194.5h.1M381 189.9h.1M385.6 198.8h.1M382.8 208.9h.1M396.2 203.8h.1M397.2 183.7h.1M396.2 207.1h.1M403.6 212.4h.1M380 194.1h.1M380.5 186.7h.1M395.8 208.4h.1M402.1 203.9h.1M386.4 198.4h.1M395.6 197h.1M379.1 204.3h.1M388.5 176.4h.1M380.5 208.2h.1M378.6 220.7h.1M378.6 220.1h.1M382.5 225h.1M381.5 181.9h.1M402.2 202.4h.1M381.9 213.2h.1M384 185.1h.1M374.7 179.4h.1M392.6 211.6h.1M394.8 224.9h.1M403.8 216.4h.1M368.7 185.7h.1M385.7 223.6h.1M385.7 201.7h.1M386 218.1h.1M385 199.4h.1M388.1 177.3h.1M388.3 224.5h.1M390.8 214.3h.1M379.8 200h.1M382.3 220.7h.1M387 204.3h.1M392.4 221.9h.1M386.7 182.8h.1M400.3 187.2h.1M401.9 197.5h.1M396.2 224.4h.1M401.5 186.9h.1M384.6 206h.1M395.5 198.4h.1M392 208.3h.1M389.4 213.7h.1M385.8 207h.1M373.2 191.9h.1M385.5 202.1h.1M386.5 199.5h.1M374.7 184.6h.1M384.1 220.6h.1M383.8 220.2h.1M394.7 214.4h.1M371.6 186.2h.1M403.2 206.9h.1M387.7 196.9h.1" stroke="#111" stroke-width="0.7" stroke-linecap="round" stroke-opacity="0.6"/>
<path d="M362.9 202.8h.1M359 200.4h.1M364.1 192.8h.1M357.1 195.9h.1M359 196.2h.1M354.4 195h.1M360.5 196.4h.1M354.3 198h.1M354.1 201.3h.1M359.2 195.4h.1M361.6 199.3h.1M361.4 198.3h.1M362.4 203.4h.1M355.2 197.4h.1M365.4 198h.1M364.5 199.1h.1M356.1 201h.1M354.8 191.7h.1M358.2 202.3h.1M363.1 194.5h.1M360.1 200.2h.1M363.1 201h.1M363.2 191.5h.1M354.9 198.7h.1M361.4 202.6h.1M363.1 197.5h.1M357.4 198.1h.1M357.1 202.1h.1M360.4 202.2h.1M362.8 199.5h.1M354.1 197.7h.1M360.1 200.2h.1M353.3 199.6h.1M354.3 193.6h.1M361.9 193.6h.1M359.7 195.6h.1M361.3 201.7h.1M362.7 201.1h.1M357 198.5h.1M362 192.4h.1M354.7 202.6h.1M355.9 192.9h.1M360.9 196.6h.1M355.4 196.5h.1M358.7 195.7h.1M360.9 191.5h.1M354.8 191.5h.1M360.2 198.6h.1M357.3 193.4h.1M357.9 201.7h.1M362.7 196.6h.1M357.9 194.6h.1M365.2 197.9h.1M354.8 201.3h.1M365.1 193h.1M363.7 196.1h.1M354.3 195.6h.1M359.6 203.9h.1M361.6 190.8h.1M357.9 191.3h.1M361.2 200.9h.1M353 196.4h.1M363.4 196.9h.1M356.8 197.1h.1M358.8 196.1h.1M352.9 195.3h.1M364.3 196.6h.1M361.3 202.7h.1M358.4 202.4h.1M364.4 195.1h.1M361.3 201.5h.1M362.4 202.7h.1M360.6 200.6h.1M356.9 194.4h.1M356 193h.1M365 197.8h.1M354.1 196h.1M356.1 194.3h.1M363.2 198h.1M365.2 193.9h.1M353.4 193.6h.1M357.1 193.4h.1M363.3 196.8h.1M356.8 201.5h.1M357.2 192.5h.1M360 203.5h.1M358.2 198.5h.1M357.1 195.7h.1M357.3 191.2h.1M360.5 204.5h.1" stroke="#151515" stroke-width="0.8" stroke-linecap="round" stroke-opacity="0.75"/>
<path d="M395 183.7h.1M391.5 189.8h.1M400.1 206.9h.1M397.3 191.8h.1M399.9 205.9h.1M396.8 183.3h.1M400.1 197.8h.1M399.6 185.4h.1M397.3 190.3h.1M395.8 200h.1M399.9 202.9h.1M400.1 199.2h.1M399 201.9h.1M400.4 190h.1M399.4 201.3h.1M395.5 192.2h.1M397 194h.1M397.2 183.4h.1M401.3 190.5h.1M395.3 190h.1M395.3 182.4h.1M389.8 184.3h.1M388.7 178.5h.1M403.2 201.7h.1M390.6 181.7h.1M394.4 195.2h.1M403.1 197.4h.1M389 181.4h.1M391.2 178.8h.1M394.4 194.6h.1M394.3 195h.1M393.3 187.4h.1M401.7 193.5h.1M402.9 190.9h.1M393.9 195.6h.1M401.2 202h.1M392.5 191.2h.1M399.7 186.3h.1M389.1 182.7h.1M399.9 200.4h.1M395.5 187.1h.1M400 205.1h.1M398.3 185.6h.1M394.9 194.6h.1M393.6 190.7h.1M391 180.3h.1M390.8 187.5h.1M393.3 181.3h.1M395.4 196.4h.1M396.3 189.7h.1M395.5 197h.1M399.3 194.4h.1M396.8 198.7h.1M396.5 201.2h.1M401.2 191.3h.1M396 195.1h.1M397.5 199.7h.1M395.4 196.9h.1M396.6 184.1h.1M397.9 192.4h.1M399.4 195.3h.1M401 194.4h.1M389.7 185.9h.1M401 204.1h.1M401 197.8h.1M398.4 184.6h.1M394.7 195.5h.1M391.6 190.1h.1M390 179.2h.1M401.4 204.1h.1M391.9 186.5h.1M401.4 186.9h.1M397.1 189.2h.1M395.1 201.3h.1M394.7 184.3h.1M392.5 186.9h.1M399.4 203.2h.1M401.9 194.1h.1M399 200.4h.1M389.4 178.6h.1M399.3 203.8h.1M398.9 191h.1M393.8 185.6h.1M391.7 193.8h.1M402.2 188.5h.1M391.7 186.3h.1M399.5 187.2h.1M392.4 180.2h.1M399.1 195.6h.1M402.5 201.8h.1M399.3 205.1h.1M396.7 182.1h.1M396.2 186.1h.1M403.1 196.3h.1M398.3 186.7h.1M398 197h.1M395.6 185.8h.1M399.2 202.7h.1M400.1 203.4h.1M399 200h.1M399.3 197.3h.1M398.4 199.8h.1M397.3 197.3h.1M403.2 198h.1M397.8 200.1h.1M392.8 181.4h.1M389.1 182h.1M397.5 196.7h.1M397.3 198.5h.1M402.6 188.3h.1M395 193.8h.1M397.5 203.2h.1M392.4 181h.1M399.2 186.9h.1M391.4 188.4h.1M389.3 183.6h.1M392.4 180.7h.1M389.7 184.1h.1M399.1 199.4h.1M390 182.8h.1M398.4 193.3h.1M395.3 195.5h.1M399 184.3h.1M401 187h.1M394 181.9h.1M397.6 190.3h.1M402.3 193.5h.1M390.3 184.1h.1M391.1 186.2h.1M395.2 185.9h.1M397 188.6h.1M394 183h.1M392.1 183h.1M401.5 205.9h.1M393.5 192.7h.1M400.8 190.4h.1M396.1 191.9h.1M395.7 190.7h.1M390.9 187.3h.1M397.6 192.3h.1M396.3 190.2h.1M393.3 188.7h.1M390.2 181.1h.1M394.2 193.2h.1M391 183.5h.1M401.1 201.8h.1M402.6 197.2h.1M403.1 198.9h.1M400.5 204.9h.1M400.3 201.8h.1M399.3 184.5h.1M389.7 182.9h.1M397.8 201.6h.1M390.2 178.9h.1M398.1 199.2h.1M392.8 188.7h.1M392.7 189.1h.1M392.9 190.3h.1M398.6 204.3h.1M394 197.4h.1M400.3 186.8h.1M397.2 191.2h.1M390.3 183h.1M392.6 186.8h.1M402.5 193.5h.1M402.5 192.3h.1M391 188.6h.1M395.7 184h.1M394.1 186.4h.1M397.7 203.4h.1M395.6 188.3h.1M394.5 188.4h.1M399.6 203.6h.1M400.5 189.7h.1M390.7 185h.1M391.6 193.7h.1M398.5 185.5h.1M400.1 198.4h.1M397.6 202.7h.1M389.2 182.7h.1M402 205.3h.1M400.7 204.4h.1M402.1 190.5h.1M389.4 180h.1M389.8 181h.1M397.3 201.5h.1M395.3 184.9h.1M398.2 203.3h.1M391.8 180.2h.1M394.1 181.1h.1M401 190.2h.1M394.3 183.4h.1M394.2 186.4h.1M396.5 194.2h.1M397.3 197.6h.1M396.8 195.3h.1M397.1 198.5h.1M396.9 196.3h.1M399.3 198.2h.1M395.5 188.6h.1M397.4 187.9h.1M400.7 204.6h.1M394.7 181.5h.1M401.4 204.5h.1M396.1 201.8h.1M400.4 204.6h.1M403.1 195.3h.1M394.1 187.7h.1M393.7 190.7h.1M398.3 185.5h.1M397 192.8h.1M398 185.1h.1M401 195h.1M392.1 182.1h.1M400.7 203.5h.1M398.7 191.4h.1M392.6 196.5h.1M394 192.3h.1M399.1 188.6h.1M395.3 182.1h.1M400.9 186.4h.1M394.3 190.8h.1M394.7 186.1h.1M389.7 186.6h.1M395.7 182.7h.1M395.4 181.9h.1M399 193h.1M397 193h.1M393.7 181.6h.1M392.5 194.1h.1M394.8 198.3h.1M391.3 184.8h.1M391.4 187.8h.1M398.3 191.6h.1M396 195.7h.1M401.6 188.9h.1M400.3 207.1h.1M396.7 185.4h.1M393 188.4h.1M398.4 190h.1M401.6 195.7h.1M399.5 192.9h.1M402.8 192.3h.1M400.5 186h.1M401 207.2h.1M402.8 187.9h.1M390.5 178.5h.1M394.8 189.6h.1M390.5 184h.1M399.4 197.1h.1M393.2 181.8h.1M388.8 179.5h.1M396 189.4h.1M400.8 189.1h.1M402.2 203.7h.1M398.1 199h.1M390 189.7h.1M398.1 204.6h.1M398.1 190.6h.1M399.8 194.8h.1" stroke="#151515" stroke-width="0.8" stroke-linecap="round" stroke-opacity="0.7"/>
<path d="M374.1 179.4h.1M379.2 179.6h.1M384.9 174.2h.1M370.5 179h.1M370.4 177.9h.1M378.1 179.6h.1M385.1 174.6h.1M382.8 175h.1M381.3 177.4h.1M370.9 183.4h.1M382.8 174.5h.1M374.3 176.6h.1M378.1 176.1h.1M384.2 175.3h.1M375.1 180.9h.1M372.5 180.6h.1M381.3 175.5h.1M369.8 179.6h.1M378.5 178.3h.1M371.2 183.1h.1M379.4 177.7h.1M369.7 181h.1M380.1 175.2h.1M369.4 179.8h.1M374.3 176h.1M376.9 177.1h.1M380.8 175.7h.1M381.2 174.8h.1M374.7 181.9h.1M371.9 180h.1M377.6 177.7h.1M379.1 180.5h.1M372.9 178.2h.1M376 182.6h.1M377.3 180.1h.1M377.9 179.6h.1M370.3 182.4h.1M378.4 178.8h.1M371 183.3h.1M383.5 174.9h.1M376.4 180.8h.1M377.6 177.1h.1M380.3 179.4h.1M376.5 179.5h.1M378.3 180.3h.1M375.3 177h.1M376.8 180.5h.1M372.9 181.2h.1M376 181.6h.1M369.5 179.8h.1M380.2 176.6h.1M373.9 184h.1M381.3 175.7h.1M382.9 175.3h.1M373.9 175.4h.1M375 181.2h.1M378.1 174.9h.1M380 179.4h.1M381.3 177.5h.1M385.2 174.6h.1M380.9 178.9h.1M383.5 174.8h.1M372.2 180.3h.1M375 180.4h.1M377.2 181.3h.1M371.5 179.9h.1M373.6 181.7h.1M380.5 176.5h.1M374.6 183.6h.1M372.4 179.6h.1M371.7 178.1h.1M375.5 174.9h.1M371.5 185h.1M368.2 178h.1M374.7 176.7h.1M385.4 174.5h.1M382.8 175.4h.1M376.4 178.5h.1M371.5 177.8h.1M377.2 180.2h.1M381.5 177.5h.1M371.9 176.8h.1M382.6 175.6h.1M380.3 177.1h.1M379.4 176h.1M372.1 183.4h.1M384.2 175.6h.1M383.1 174.6h.1M372 176.9h.1M382.9 176.6h.1" stroke="#151515" stroke-width="0.8" stroke-linecap="round" stroke-opacity="0.7"/>
<path d="M386.5 246.5 L389 245 L396 245.5 L404 245 L412 243.5 L419 242 L425.5 241.8 L425 244.5 L419 247.5 L412 251 L404 254 L396 255 L390 254 L387 251Z" fill="#5b8fd6" fill-opacity="0.55"/>
<path d="M389.7 250h.1M403.9 249.8h.1M399.9 248.2h.1M412.7 247.5h.1M422.4 244h.1M393.2 249h.1M402.3 246.6h.1M407.4 244.6h.1M394.7 252.7h.1M403.7 247.5h.1M405.1 246.7h.1M419.3 245.7h.1M394.2 251.8h.1M397.1 250.6h.1M408.6 246.5h.1M410.5 246.8h.1M407.8 249.9h.1M389.8 246.2h.1M397.2 248.3h.1M404.5 251.4h.1M412.3 246.3h.1M388.4 245.3h.1M392 254.7h.1M391.6 253.3h.1M414 248.4h.1M400.5 255h.1M391 245.5h.1M396.4 254.1h.1M389 249h.1M391.2 251.4h.1M413.6 247h.1M401.6 250.6h.1M396.4 249.6h.1M402.8 247.3h.1M413.6 246.1h.1M393.8 247.9h.1M406.4 252.1h.1M397.3 251.4h.1M413.2 248.6h.1M391.4 248.6h.1M407.8 246h.1M412.6 249.5h.1M421.1 243.9h.1M386.5 248.6h.1M412.2 244.4h.1M400.5 249.4h.1M424.8 241.1h.1M409.9 250h.1M394.4 248.1h.1M400 249.8h.1M400.2 251.6h.1M397 248.2h.1M391.8 251.5h.1M398.6 251.1h.1M409.7 248h.1M410.6 251.6h.1M415.7 243.7h.1M395.7 252.5h.1M413 247.1h.1M398.2 246.7h.1M405.5 248.1h.1M391.9 246.2h.1M389.5 247.7h.1M393.2 254.1h.1M414.7 246.4h.1M390.8 245.3h.1M408.9 249h.1M420.1 241.9h.1M418.8 245.8h.1M390.9 254.7h.1M410.1 251.3h.1M398.9 248.6h.1M405.7 249.4h.1M418 243.1h.1M397.7 248.7h.1M421.8 244.6h.1M414.8 245.6h.1M391.6 249h.1M401.7 251.7h.1M405 247.6h.1M395 246.8h.1M414 243.2h.1M391.3 252.4h.1M393 251.6h.1M390.9 252.8h.1M394 251h.1M414.9 247.4h.1M403.1 251.5h.1M398.3 245.5h.1M396.4 245.2h.1M389.6 249.4h.1M416.7 246.9h.1M401 249h.1M398.7 247h.1M395.6 253.2h.1M411.3 244.4h.1M412.5 244h.1M408.5 245.3h.1M387.7 249.8h.1M392.2 248.3h.1M406 246.6h.1M411.8 251h.1M389.4 248.8h.1M398.7 252.1h.1M403.7 253.1h.1M407 247.4h.1M412.9 247.1h.1M391.3 246.7h.1M396 246.2h.1M403 250.5h.1M406.6 245.8h.1M387.9 247.7h.1M397.7 249.7h.1M395.1 251.9h.1M396.3 249.1h.1M403.7 250.8h.1M403.6 250h.1M407.1 250.3h.1M387.1 246.4h.1M411.4 248.1h.1M411.3 249.8h.1M400.7 252.3h.1M405.3 247.3h.1M421.7 244.3h.1M395 248.8h.1M389 252.8h.1M399.6 252.1h.1M423.1 245.5h.1M399.5 250.8h.1M387.1 245.7h.1M398.8 248.1h.1M407.3 248h.1M397.5 246.8h.1M393.1 249.7h.1M391.2 246.1h.1M403 245.8h.1M412.2 247.4h.1M415.4 243.4h.1M397 247.3h.1M407.9 249.5h.1M400.2 251.8h.1M394.8 246.4h.1M394.6 251.9h.1M392.4 248.2h.1M390.7 249h.1M409.8 247.5h.1M396.6 253.5h.1M419.5 241.4h.1M393.3 247.9h.1M411.9 243.9h.1M424.4 243.6h.1M422.9 243.7h.1M393.5 250h.1M422.8 243.1h.1M409 249.5h.1M401.2 252.3h.1M419.6 244h.1M405.8 248.5h.1M388.4 247.4h.1M390.7 248.7h.1M402.2 245.6h.1M410.1 246.5h.1M422.1 244.8h.1M400.4 246.9h.1M391.8 251.7h.1M408.4 244.2h.1M395.3 251.8h.1M425.7 242.6h.1M406.1 246.1h.1M395.2 246.4h.1M404 247h.1M409.3 247.6h.1M391.4 254h.1M392.5 246.4h.1M403.5 251.4h.1M392.4 245.4h.1M394.1 249.6h.1M391.3 247.7h.1M420.7 243.8h.1M387.9 249.9h.1M401.2 251.6h.1M390.1 251.4h.1M404.6 246.1h.1M409.7 246.7h.1M400.9 252.6h.1M417.5 245.1h.1M396.7 254h.1M412.5 251h.1M398.8 249.9h.1M394 253.2h.1M392.5 252.9h.1M406.1 246.2h.1M409.3 245.3h.1M403.2 245.7h.1M404.8 244.6h.1M407.6 243.8h.1M413.3 250.6h.1M393.2 252.6h.1M401.9 252.8h.1M405.2 251.9h.1M393.8 252.7h.1M400.4 248h.1M402.5 249.9h.1M423.8 244.8h.1M388 251.4h.1M390.1 252.4h.1M397.1 251.6h.1M408.9 251.6h.1M424.5 242.1h.1M396.3 250.6h.1M394.3 252.4h.1M390.9 252.4h.1M402.9 245.7h.1M392.5 252.1h.1M396.6 245.3h.1M396.6 249.1h.1M406 253.2h.1M405 253h.1M392.7 249.4h.1M388.4 247.7h.1M396.3 250.9h.1M400.9 254.3h.1M415.8 244.9h.1M423 242.4h.1M405.7 245.9h.1M389.2 250.8h.1M416.3 247.5h.1M404.9 247.6h.1M416.8 243.4h.1M390.9 251.6h.1M401.4 251h.1M407 250.8h.1M408.4 250.6h.1M410.4 247h.1M415 249.2h.1M402.2 245.5h.1M395.3 250.9h.1M397.3 252.6h.1M418.1 243.8h.1M394.4 247.6h.1M422.9 243h.1M411.7 247.4h.1M399.3 252.7h.1M410.2 250h.1M424.1 242.9h.1M403.3 248.8h.1M398 246h.1M410 247.3h.1M408.8 245.1h.1M404.9 250.1h.1M399.9 246.3h.1M391.2 248.2h.1M413.8 248.5h.1M387.9 248.9h.1M408.4 243.8h.1M411.9 244.1h.1M391.5 247.8h.1M391.4 250.2h.1M412.4 249.6h.1M409.8 249.9h.1M415.8 248.3h.1M403.5 248.5h.1M400.3 250.1h.1M407 249.6h.1M412.3 250.2h.1M405.9 253h.1M407.3 246h.1M407.8 250.5h.1M413.7 249h.1M407.6 250.2h.1M402.4 253.6h.1M392.7 247.5h.1M400 251h.1M401.3 248.3h.1M392.9 248.5h.1M389.1 246.8h.1M390.9 251h.1M389 251.1h.1M393.2 248.8h.1M416.1 246.6h.1M412.5 250.1h.1M418 246h.1M408.2 245.8h.1M418.6 243.3h.1M402.8 253.6h.1M395.9 251.4h.1M392.3 246.6h.1M390.4 247.4h.1M415.4 244.1h.1M393.3 252.8h.1M414.5 249.3h.1M409.1 247h.1M388.8 246.2h.1M396 250.9h.1M413.9 244.2h.1M401.4 248h.1M410.4 246.7h.1M391.5 247.1h.1M404.2 252.6h.1M394 250.1h.1M411.7 250.2h.1M423.7 244.2h.1M390.3 254h.1M392.2 253.8h.1M398.5 252.5h.1M396.8 250.6h.1M399.3 249.5h.1M393 246.4h.1M408.5 244.1h.1M401 245.5h.1M417.8 244.8h.1M392.9 247.3h.1M424 243.1h.1M412.9 249.8h.1M387.8 247.9h.1M394.5 252.8h.1M403.2 250.5h.1M391 252.9h.1M413.1 250.2h.1M403.5 253.6h.1M400 252.7h.1M399.1 252.1h.1M400 249.9h.1M405.4 249h.1M394.1 250h.1M396.7 248.6h.1M423.6 243h.1M387.2 248h.1M406.2 249.6h.1M391.6 252.8h.1M403.7 250h.1M406.8 249.1h.1M396.1 245.4h.1M398.8 248.8h.1M421 245.9h.1M391.9 253.5h.1M389.4 251h.1M423.3 242.9h.1M396.1 252.1h.1M420.3 243.6h.1M389.2 250.3h.1M397.6 254.6h.1M416.9 243.8h.1M409.9 248.5h.1M393.6 249h.1M390.7 249.7h.1M424.3 241.2h.1M407 244.8h.1M418.7 245.8h.1M407.2 245.1h.1M393.9 249.8h.1M402.6 244.9h.1M398 247.8h.1M387.5 249.4h.1M410.3 244h.1M388.6 246.3h.1M395.6 254h.1M426.1 241.8h.1M403.8 246.4h.1M400.2 253.5h.1M399.4 245.9h.1M397.7 248.7h.1M409.1 249.9h.1M417.4 246.4h.1M421 245.4h.1M411.7 247.3h.1M425.3 244.7h.1M419.5 243.4h.1M400.3 252.9h.1M417.2 243.8h.1M403.7 252.7h.1M409.5 246.5h.1M396.5 252.4h.1M392.6 253.7h.1M415.7 243.5h.1" stroke="#5b8fd6" stroke-width="0.9" stroke-linecap="round" stroke-opacity="0.9"/>
<path d="M424 246 L430 244.5" stroke="#111" stroke-width="1.4"/>
<path d="M326.4 279 V300.2 H348.2" fill="none" stroke="#222" stroke-width="0.8"/>
<text x="322.2" y="289.7" font-size="5.5" fill="#333" text-anchor="middle" transform="rotate(-90 322.2 289.7)">UMAP2</text>
<text x="337" y="308.6" font-size="5.6" fill="#333" text-anchor="middle">UMAP1</text>
<rect x="423.4" y="277.7" width="4.8" height="4.8" fill="#5b8fd6"/>
<rect x="423.4" y="284.6" width="4.8" height="4.8" fill="#b5262a"/>
<path d="M423.4 295.6 L425.8 291.4 L428.2 295.6 Z" fill="#444"/>
<text x="430.5" y="282" font-size="5.1" fill="#333" text-anchor="start">LC_E-MTAB-8142</text>
<text x="430.5" y="288.9" font-size="5.1" fill="#333" text-anchor="start">LCH_GSE133706</text>
<text x="430.5" y="295.7" font-size="5.1" fill="#333" text-anchor="start">iLCH</text>
<path d="M453.8 238 L456.8 235.4" stroke="#c03030" stroke-width="0.7"/>
<path d="M487.6 184.7 V258.3 H510.4" fill="none" stroke="#222" stroke-width="0.8"/>
<path d="M485.6 189.6 H487.6" stroke="#222" stroke-width="0.6"/>
<text x="484.6" y="191.4" font-size="5.1" fill="#333" text-anchor="end">100</text>
<path d="M485.6 206.3 H487.6" stroke="#222" stroke-width="0.6"/>
<text x="484.6" y="208.1" font-size="5.1" fill="#333" text-anchor="end">75</text>
<path d="M485.6 222.9 H487.6" stroke="#222" stroke-width="0.6"/>
<text x="484.6" y="224.7" font-size="5.1" fill="#333" text-anchor="end">50</text>
<path d="M485.6 239.8 H487.6" stroke="#222" stroke-width="0.6"/>
<text x="484.6" y="241.6" font-size="5.1" fill="#333" text-anchor="end">25</text>
<path d="M485.6 256.6 H487.6" stroke="#222" stroke-width="0.6"/>
<text x="484.6" y="258.4" font-size="5.1" fill="#333" text-anchor="end">0</text>
<rect x="500" y="189.7" width="9.2" height="67.8" fill="#c0102a"/>
<path d="M489.8 257.2 H498.6" stroke="#6a8a9a" stroke-width="0.8"/>
<text x="504.4" y="186.6" font-size="6.0" fill="#333" text-anchor="middle">99%</text>
<text x="494.2" y="254.2" font-size="6.0" fill="#333" text-anchor="middle">1%</text>
<text x="467.6" y="223.5" font-size="5.8" fill="#333" text-anchor="middle" transform="rotate(-90 467.6 223.5)">% of cells</text>
<path d="M494.2 258.3 V260.6" stroke="#222" stroke-width="0.6"/>
<path d="M504.6 258.3 V260.6" stroke="#222" stroke-width="0.6"/>
<text x="496.1" y="263.3" font-size="5.2" fill="#333" text-anchor="end" transform="rotate(-90 496.1 263.3)">LC_E-MTAB-8142</text>
<text x="506.5" y="263.3" font-size="5.2" fill="#333" text-anchor="end" transform="rotate(-90 506.5 263.3)">LCH_GSE133706</text>
<path d="M35.7 333.8 V386.8 H446.4" fill="none" stroke="#222" stroke-width="0.8"/>
<path d="M33 343.8 H35.7" stroke="#222" stroke-width="0.6"/>
<text x="31.3" y="346" font-size="6.2" fill="#222" text-anchor="end">LC</text>
<circle cx="40" cy="343.8" r="1.75" fill="#1c0f6e"/>
<circle cx="46.2" cy="343.8" r="1.75" fill="#1c0f6e"/>
<circle cx="52.4" cy="343.8" r="2.2" fill="#1c0f6e"/>
<circle cx="58.6" cy="343.8" r="1.2" fill="#1c0f6e"/>
<circle cx="64.8" cy="343.8" r="2.3" fill="#1c0f6e"/>
<circle cx="71" cy="343.8" r="1.3" fill="#1c0f6e"/>
<circle cx="77.2" cy="343.8" r="2.0" fill="#1c0f6e"/>
<circle cx="83.4" cy="343.8" r="1.4" fill="#1c0f6e"/>
<circle cx="89.6" cy="343.8" r="2.2" fill="#1c0f6e"/>
<circle cx="95.7" cy="343.8" r="1.3" fill="#1c0f6e"/>
<circle cx="101.9" cy="343.8" r="1.8" fill="#1c0f6e"/>
<circle cx="108.1" cy="343.8" r="1.8" fill="#1c0f6e"/>
<circle cx="114.3" cy="343.8" r="1.8" fill="#1c0f6e"/>
<circle cx="120.5" cy="343.8" r="0.8" fill="#1c0f6e"/>
<circle cx="126.7" cy="343.8" r="1.3" fill="#1c0f6e"/>
<circle cx="132.9" cy="343.8" r="1.6" fill="#1c0f6e"/>
<circle cx="139.1" cy="343.8" r="1.6" fill="#1c0f6e"/>
<circle cx="145.3" cy="343.8" r="1.8" fill="#1c0f6e"/>
<circle cx="151.5" cy="343.8" r="1.6" fill="#1c0f6e"/>
<circle cx="157.7" cy="343.8" r="2.2" fill="#1c0f6e"/>
<circle cx="163.9" cy="343.8" r="2.2" fill="#1c0f6e"/>
<circle cx="170.1" cy="343.8" r="2.2" fill="#1c0f6e"/>
<circle cx="176.3" cy="343.8" r="2.2" fill="#5a2090"/>
<circle cx="182.5" cy="343.8" r="2.0" fill="#1c0f6e"/>
<circle cx="188.7" cy="343.8" r="1.0" fill="#1c0f6e"/>
<circle cx="194.8" cy="343.8" r="1.5" fill="#1c0f6e"/>
<circle cx="201" cy="343.8" r="2.2" fill="#1c0f6e"/>
<circle cx="207.2" cy="343.8" r="2.3" fill="#1c0f6e"/>
<circle cx="213.4" cy="343.8" r="2.3" fill="#1c0f6e"/>
<circle cx="219.6" cy="343.8" r="0.7" fill="#1c0f6e"/>
<circle cx="225.8" cy="343.8" r="0.7" fill="#1c0f6e"/>
<circle cx="232" cy="343.8" r="2.4" fill="#1c0f6e"/>
<circle cx="238.2" cy="343.8" r="0.5" fill="#f3e6c4"/>
<circle cx="244.4" cy="343.8" r="0.5" fill="#f3e6c4"/>
<circle cx="250.6" cy="343.8" r="0.5" fill="#f3e6c4"/>
<circle cx="256.8" cy="343.8" r="0.5" fill="#f3e6c4"/>
<circle cx="263" cy="343.8" r="0.5" fill="#f3e6c4"/>
<circle cx="269.2" cy="343.8" r="0.5" fill="#f3e6c4"/>
<circle cx="275.4" cy="343.8" r="0.5" fill="#f3e6c4"/>
<circle cx="281.6" cy="343.8" r="0.5" fill="#f3e6c4"/>
<circle cx="287.8" cy="343.8" r="0.5" fill="#f3e6c4"/>
<circle cx="294" cy="343.8" r="0.5" fill="#f3e6c4"/>
<circle cx="300.1" cy="343.8" r="0.5" fill="#f3e6c4"/>
<circle cx="306.3" cy="343.8" r="2.2" fill="#e8e030"/>
<circle cx="312.5" cy="343.8" r="0.5" fill="#f3e6c4"/>
<circle cx="318.7" cy="343.8" r="0.5" fill="#f3e6c4"/>
<circle cx="324.9" cy="343.8" r="0.5" fill="#f3e6c4"/>
<circle cx="331.1" cy="343.8" r="0.5" fill="#f3e6c4"/>
<circle cx="337.3" cy="343.8" r="0.5" fill="#f3e6c4"/>
<circle cx="343.5" cy="343.8" r="0.5" fill="#f3e6c4"/>
<circle cx="349.7" cy="343.8" r="0.5" fill="#f3e6c4"/>
<circle cx="355.9" cy="343.8" r="0.5" fill="#f3e6c4"/>
<circle cx="362.1" cy="343.8" r="0.5" fill="#f3e6c4"/>
<circle cx="368.3" cy="343.8" r="0.5" fill="#f3e6c4"/>
<circle cx="374.5" cy="343.8" r="0.5" fill="#f3e6c4"/>
<circle cx="380.7" cy="343.8" r="0.5" fill="#f3e6c4"/>
<circle cx="386.9" cy="343.8" r="0.5" fill="#f3e6c4"/>
<circle cx="393.1" cy="343.8" r="0.5" fill="#f3e6c4"/>
<circle cx="399.3" cy="343.8" r="0.5" fill="#f3e6c4"/>
<circle cx="405.4" cy="343.8" r="0.5" fill="#f3e6c4"/>
<circle cx="411.6" cy="343.8" r="0.5" fill="#f3e6c4"/>
<circle cx="417.8" cy="343.8" r="0.5" fill="#f3e6c4"/>
<circle cx="424" cy="343.8" r="0.5" fill="#f3e6c4"/>
<circle cx="430.2" cy="343.8" r="0.5" fill="#f3e6c4"/>
<circle cx="436.4" cy="343.8" r="0.5" fill="#f3e6c4"/>
<circle cx="442.6" cy="343.8" r="1.4" fill="#e0e040"/>
<path d="M33 360.4 H35.7" stroke="#222" stroke-width="0.6"/>
<text x="31.3" y="362.6" font-size="6.2" fill="#222" text-anchor="end">LCH</text>
<circle cx="40" cy="360.4" r="0.5" fill="#f3e6c4"/>
<circle cx="46.2" cy="360.4" r="0.5" fill="#f3e6c4"/>
<circle cx="52.4" cy="360.4" r="1.0" fill="#b08070"/>
<circle cx="58.6" cy="360.4" r="0.5" fill="#f3e6c4"/>
<circle cx="64.8" cy="360.4" r="1.0" fill="#c06060"/>
<circle cx="71" cy="360.4" r="0.5" fill="#f3e6c4"/>
<circle cx="77.2" cy="360.4" r="0.8" fill="#a05050"/>
<circle cx="83.4" cy="360.4" r="0.5" fill="#f3e6c4"/>
<circle cx="89.6" cy="360.4" r="1.0" fill="#b08070"/>
<circle cx="95.7" cy="360.4" r="0.5" fill="#f3e6c4"/>
<circle cx="101.9" cy="360.4" r="0.8" fill="#a08070"/>
<circle cx="108.1" cy="360.4" r="0.5" fill="#f3e6c4"/>
<circle cx="114.3" cy="360.4" r="0.5" fill="#f3e6c4"/>
<circle cx="120.5" cy="360.4" r="0.5" fill="#f3e6c4"/>
<circle cx="126.7" cy="360.4" r="0.5" fill="#f3e6c4"/>
<circle cx="132.9" cy="360.4" r="0.5" fill="#f3e6c4"/>
<circle cx="139.1" cy="360.4" r="0.5" fill="#f3e6c4"/>
<circle cx="145.3" cy="360.4" r="0.5" fill="#f3e6c4"/>
<circle cx="151.5" cy="360.4" r="0.5" fill="#f3e6c4"/>
<circle cx="157.7" cy="360.4" r="0.5" fill="#f3e6c4"/>
<circle cx="163.9" cy="360.4" r="2.0" fill="#e8c030"/>
<circle cx="170.1" cy="360.4" r="2.0" fill="#e0a830"/>
<circle cx="176.3" cy="360.4" r="2.2" fill="#d8d040"/>
<circle cx="182.5" cy="360.4" r="1.7" fill="#d8c840"/>
<circle cx="188.7" cy="360.4" r="0.5" fill="#f3e6c4"/>
<circle cx="194.8" cy="360.4" r="0.3" fill="#f5eee0"/>
<circle cx="201" cy="360.4" r="2.2" fill="#d04060"/>
<circle cx="207.2" cy="360.4" r="2.2" fill="#d04060"/>
<circle cx="213.4" cy="360.4" r="1.5" fill="#e07070"/>
<circle cx="219.6" cy="360.4" r="0.5" fill="#f3e6c4"/>
<circle cx="225.8" cy="360.4" r="0.5" fill="#f3e6c4"/>
<circle cx="232" cy="360.4" r="0.5" fill="#f3e6c4"/>
<circle cx="238.2" cy="360.4" r="1.2" fill="#301040"/>
<circle cx="244.4" cy="360.4" r="0.8" fill="#402040"/>
<circle cx="250.6" cy="360.4" r="0.9" fill="#604050"/>
<circle cx="256.8" cy="360.4" r="1.7" fill="#a03070"/>
<circle cx="263" cy="360.4" r="1.5" fill="#2a1040"/>
<circle cx="269.2" cy="360.4" r="0.6" fill="#e0a0b0"/>
<circle cx="275.4" cy="360.4" r="1.6" fill="#c06070"/>
<circle cx="281.6" cy="360.4" r="1.0" fill="#a04050"/>
<circle cx="287.8" cy="360.4" r="0.7" fill="#e0a0b0"/>
<circle cx="294" cy="360.4" r="0.5" fill="#f3e6c4"/>
<circle cx="300.1" cy="360.4" r="0.5" fill="#f3e6c4"/>
<circle cx="306.3" cy="360.4" r="2.3" fill="#2a1080"/>
<circle cx="312.5" cy="360.4" r="1.5" fill="#281060"/>
<circle cx="318.7" cy="360.4" r="1.2" fill="#903070"/>
<circle cx="324.9" cy="360.4" r="1.3" fill="#201040"/>
<circle cx="331.1" cy="360.4" r="1.7" fill="#402050"/>
<circle cx="337.3" cy="360.4" r="0.6" fill="#e0a0b0"/>
<circle cx="343.5" cy="360.4" r="0.8" fill="#906050"/>
<circle cx="349.7" cy="360.4" r="1.8" fill="#401060"/>
<circle cx="355.9" cy="360.4" r="1.3" fill="#802870"/>
<circle cx="362.1" cy="360.4" r="1.7" fill="#1a1060"/>
<circle cx="368.3" cy="360.4" r="2.2" fill="#6a2070"/>
<circle cx="374.5" cy="360.4" r="1.0" fill="#301030"/>
<circle cx="380.7" cy="360.4" r="2.0" fill="#2a1070"/>
<circle cx="386.9" cy="360.4" r="1.5" fill="#4a1030"/>
<circle cx="393.1" cy="360.4" r="1.3" fill="#c04070"/>
<circle cx="399.3" cy="360.4" r="1.4" fill="#b04060"/>
<circle cx="405.4" cy="360.4" r="1.0" fill="#301030"/>
<circle cx="411.6" cy="360.4" r="2.2" fill="#1a1070"/>
<circle cx="417.8" cy="360.4" r="0.8" fill="#301030"/>
<circle cx="424" cy="360.4" r="1.5" fill="#201030"/>
<circle cx="430.2" cy="360.4" r="0.6" fill="#301030"/>
<circle cx="436.4" cy="360.4" r="1.2" fill="#e07050"/>
<circle cx="442.6" cy="360.4" r="2.2" fill="#902070"/>
<path d="M33 376.8 H35.7" stroke="#222" stroke-width="0.6"/>
<text x="31.3" y="379" font-size="6.2" fill="#222" text-anchor="end">iLCH</text>
<circle cx="40" cy="376.8" r="0.9" fill="#c06060"/>
<circle cx="46.2" cy="376.8" r="0.9" fill="#d07070"/>
<circle cx="52.4" cy="376.8" r="1.4" fill="#b06050"/>
<circle cx="58.6" cy="376.8" r="0.5" fill="#f3e6c4"/>
<circle cx="64.8" cy="376.8" r="0.5" fill="#f3e6c4"/>
<circle cx="71" cy="376.8" r="0.5" fill="#f3e6c4"/>
<circle cx="77.2" cy="376.8" r="0.5" fill="#f3e6c4"/>
<circle cx="83.4" cy="376.8" r="0.5" fill="#f3e6c4"/>
<circle cx="89.6" cy="376.8" r="1.2" fill="#a06060"/>
<circle cx="95.7" cy="376.8" r="1.0" fill="#d05060"/>
<circle cx="101.9" cy="376.8" r="1.2" fill="#e06060"/>
<circle cx="108.1" cy="376.8" r="1.1" fill="#d06070"/>
<circle cx="114.3" cy="376.8" r="1.0" fill="#a07060"/>
<circle cx="120.5" cy="376.8" r="0.5" fill="#f3e6c4"/>
<circle cx="126.7" cy="376.8" r="0.5" fill="#f3e6c4"/>
<circle cx="132.9" cy="376.8" r="1.3" fill="#4a2040"/>
<circle cx="139.1" cy="376.8" r="0.5" fill="#f3e6c4"/>
<circle cx="145.3" cy="376.8" r="0.5" fill="#f3e6c4"/>
<circle cx="151.5" cy="376.8" r="0.5" fill="#f3e6c4"/>
<circle cx="157.7" cy="376.8" r="0.5" fill="#f3e6c4"/>
<circle cx="163.9" cy="376.8" r="2.2" fill="#d05070"/>
<circle cx="170.1" cy="376.8" r="2.2" fill="#d86070"/>
<circle cx="176.3" cy="376.8" r="2.2" fill="#501050"/>
<circle cx="182.5" cy="376.8" r="2.0" fill="#c05070"/>
<circle cx="188.7" cy="376.8" r="1.0" fill="#e0a0b0"/>
<circle cx="194.8" cy="376.8" r="0.5" fill="#f3e6c4"/>
<circle cx="201" cy="376.8" r="2.2" fill="#e8d030"/>
<circle cx="207.2" cy="376.8" r="2.2" fill="#e0b040"/>
<circle cx="213.4" cy="376.8" r="2.2" fill="#d89050"/>
<circle cx="219.6" cy="376.8" r="1.0" fill="#806050"/>
<circle cx="225.8" cy="376.8" r="0.5" fill="#f3e6c4"/>
<circle cx="232" cy="376.8" r="0.5" fill="#f3e6c4"/>
<circle cx="238.2" cy="376.8" r="1.2" fill="#301040"/>
<circle cx="244.4" cy="376.8" r="1.0" fill="#301040"/>
<circle cx="250.6" cy="376.8" r="2.0" fill="#2a1060"/>
<circle cx="256.8" cy="376.8" r="2.2" fill="#301060"/>
<circle cx="263" cy="376.8" r="1.7" fill="#401050"/>
<circle cx="269.2" cy="376.8" r="1.1" fill="#301030"/>
<circle cx="275.4" cy="376.8" r="2.3" fill="#1a1070"/>
<circle cx="281.6" cy="376.8" r="1.2" fill="#1c0f6e"/>
<circle cx="287.8" cy="376.8" r="1.0" fill="#301030"/>
<circle cx="294" cy="376.8" r="0.5" fill="#999"/>
<circle cx="300.1" cy="376.8" r="0.7" fill="#999"/>
<circle cx="306.3" cy="376.8" r="2.2" fill="#802070"/>
<circle cx="312.5" cy="376.8" r="1.2" fill="#702050"/>
<circle cx="318.7" cy="376.8" r="2.3" fill="#1a1070"/>
<circle cx="324.9" cy="376.8" r="1.2" fill="#604060"/>
<circle cx="331.1" cy="376.8" r="1.7" fill="#3a1050"/>
<circle cx="337.3" cy="376.8" r="1.0" fill="#301030"/>
<circle cx="343.5" cy="376.8" r="1.5" fill="#1c0f6e"/>
<circle cx="349.7" cy="376.8" r="2.2" fill="#401060"/>
<circle cx="355.9" cy="376.8" r="2.0" fill="#3a1060"/>
<circle cx="362.1" cy="376.8" r="1.0" fill="#8a5050"/>
<circle cx="368.3" cy="376.8" r="2.2" fill="#501060"/>
<circle cx="374.5" cy="376.8" r="1.8" fill="#301050"/>
<circle cx="380.7" cy="376.8" r="1.6" fill="#a04070"/>
<circle cx="386.9" cy="376.8" r="0.8" fill="#906050"/>
<circle cx="393.1" cy="376.8" r="2.1" fill="#2a1050"/>
<circle cx="399.3" cy="376.8" r="2.2" fill="#1c0f6e"/>
<circle cx="405.4" cy="376.8" r="1.3" fill="#301030"/>
<circle cx="411.6" cy="376.8" r="2.0" fill="#b04070"/>
<circle cx="417.8" cy="376.8" r="0.7" fill="#999"/>
<circle cx="424" cy="376.8" r="0.6" fill="#999"/>
<circle cx="430.2" cy="376.8" r="1.0" fill="#301030"/>
<circle cx="436.4" cy="376.8" r="2.2" fill="#1a1070"/>
<circle cx="442.6" cy="376.8" r="2.2" fill="#1c0f6e"/>
<path d="M40 386.8V389M46.2 386.8V389M52.4 386.8V389M58.6 386.8V389M64.8 386.8V389M71 386.8V389M77.2 386.8V389M83.4 386.8V389M89.6 386.8V389M95.7 386.8V389M101.9 386.8V389M108.1 386.8V389M114.3 386.8V389M120.5 386.8V389M126.7 386.8V389M132.9 386.8V389M139.1 386.8V389M145.3 386.8V389M151.5 386.8V389M157.7 386.8V389M163.9 386.8V389M170.1 386.8V389M176.3 386.8V389M182.5 386.8V389M188.7 386.8V389M194.8 386.8V389M201 386.8V389M207.2 386.8V389M213.4 386.8V389M219.6 386.8V389M225.8 386.8V389M232 386.8V389M238.2 386.8V389M244.4 386.8V389M250.6 386.8V389M256.8 386.8V389M263 386.8V389M269.2 386.8V389M275.4 386.8V389M281.6 386.8V389M287.8 386.8V389M294 386.8V389M300.1 386.8V389M306.3 386.8V389M312.5 386.8V389M318.7 386.8V389M324.9 386.8V389M331.1 386.8V389M337.3 386.8V389M343.5 386.8V389M349.7 386.8V389M355.9 386.8V389M362.1 386.8V389M368.3 386.8V389M374.5 386.8V389M380.7 386.8V389M386.9 386.8V389M393.1 386.8V389M399.3 386.8V389M405.4 386.8V389M411.6 386.8V389M417.8 386.8V389M424 386.8V389M430.2 386.8V389M436.4 386.8V389M442.6 386.8V389" stroke="#222" stroke-width="0.5"/>
<text x="41.4" y="392.4" font-size="4.5" fill="#222" text-anchor="end" transform="rotate(-45 41.4 392.4)">TNFRSF18</text>
<text x="47.6" y="392.4" font-size="4.5" fill="#222" text-anchor="end" transform="rotate(-45 47.6 392.4)">SERPINB9</text>
<text x="53.8" y="392.4" font-size="4.5" fill="#222" text-anchor="end" transform="rotate(-45 53.8 392.4)">BCL2L1</text>
<text x="60" y="392.4" font-size="4.5" fill="#222" text-anchor="end" transform="rotate(-45 60 392.4)">LAMP3</text>
<text x="66.2" y="392.4" font-size="4.5" fill="#222" text-anchor="end" transform="rotate(-45 66.2 392.4)">CXCL16</text>
<text x="72.4" y="392.4" font-size="4.5" fill="#222" text-anchor="end" transform="rotate(-45 72.4 392.4)">CCR4</text>
<text x="78.6" y="392.4" font-size="4.5" fill="#222" text-anchor="end" transform="rotate(-45 78.6 392.4)">BIRC3</text>
<text x="84.8" y="392.4" font-size="4.5" fill="#222" text-anchor="end" transform="rotate(-45 84.8 392.4)">IL32</text>
<text x="91" y="392.4" font-size="4.5" fill="#222" text-anchor="end" transform="rotate(-45 91 392.4)">ATF3</text>
<text x="97.1" y="392.4" font-size="4.5" fill="#222" text-anchor="end" transform="rotate(-45 97.1 392.4)">AP1S3</text>
<text x="103.3" y="392.4" font-size="4.5" fill="#222" text-anchor="end" transform="rotate(-45 103.3 392.4)">RGS1</text>
<text x="109.5" y="392.4" font-size="4.5" fill="#222" text-anchor="end" transform="rotate(-45 109.5 392.4)">SOCS3</text>
<text x="115.7" y="392.4" font-size="4.5" fill="#222" text-anchor="end" transform="rotate(-45 115.7 392.4)">CCR7</text>
<text x="121.9" y="392.4" font-size="4.5" fill="#222" text-anchor="end" transform="rotate(-45 121.9 392.4)">SLC7A11</text>
<text x="128.1" y="392.4" font-size="4.5" fill="#222" text-anchor="end" transform="rotate(-45 128.1 392.4)">SOD2</text>
<text x="134.3" y="392.4" font-size="4.5" fill="#222" text-anchor="end" transform="rotate(-45 134.3 392.4)">EBI3</text>
<text x="140.5" y="392.4" font-size="4.5" fill="#222" text-anchor="end" transform="rotate(-45 140.5 392.4)">FSCN1</text>
<text x="146.7" y="392.4" font-size="4.5" fill="#222" text-anchor="end" transform="rotate(-45 146.7 392.4)">DNAJB1</text>
<text x="152.9" y="392.4" font-size="4.5" fill="#222" text-anchor="end" transform="rotate(-45 152.9 392.4)">TYMS</text>
<text x="159.1" y="392.4" font-size="4.5" fill="#222" text-anchor="end" transform="rotate(-45 159.1 392.4)">IFITM1</text>
<text x="165.3" y="392.4" font-size="4.5" fill="#222" text-anchor="end" transform="rotate(-45 165.3 392.4)">HSPA1B</text>
<text x="171.5" y="392.4" font-size="4.5" fill="#222" text-anchor="end" transform="rotate(-45 171.5 392.4)">CSTB</text>
<text x="177.7" y="392.4" font-size="4.5" fill="#222" text-anchor="end" transform="rotate(-45 177.7 392.4)">FTL</text>
<text x="183.9" y="392.4" font-size="4.5" fill="#222" text-anchor="end" transform="rotate(-45 183.9 392.4)">FTH1</text>
<text x="190.1" y="392.4" font-size="4.5" fill="#222" text-anchor="end" transform="rotate(-45 190.1 392.4)">IDO1</text>
<text x="196.2" y="392.4" font-size="4.5" fill="#222" text-anchor="end" transform="rotate(-45 196.2 392.4)">HLA-DRA</text>
<text x="202.4" y="392.4" font-size="4.5" fill="#222" text-anchor="end" transform="rotate(-45 202.4 392.4)">HLA-DRB5</text>
<text x="208.6" y="392.4" font-size="4.5" fill="#222" text-anchor="end" transform="rotate(-45 208.6 392.4)">HLA-DQB1</text>
<text x="214.8" y="392.4" font-size="4.5" fill="#222" text-anchor="end" transform="rotate(-45 214.8 392.4)">HLA-DPB1</text>
<text x="221" y="392.4" font-size="4.5" fill="#222" text-anchor="end" transform="rotate(-45 221 392.4)">CD74</text>
<text x="227.2" y="392.4" font-size="4.5" fill="#222" text-anchor="end" transform="rotate(-45 227.2 392.4)">C1QA</text>
<text x="233.4" y="392.4" font-size="4.5" fill="#222" text-anchor="end" transform="rotate(-45 233.4 392.4)">CD83</text>
<text x="239.6" y="392.4" font-size="4.5" fill="#222" text-anchor="end" transform="rotate(-45 239.6 392.4)">CD14</text>
<text x="245.8" y="392.4" font-size="4.5" fill="#222" text-anchor="end" transform="rotate(-45 245.8 392.4)">IL1B</text>
<text x="252" y="392.4" font-size="4.5" fill="#222" text-anchor="end" transform="rotate(-45 252 392.4)">TNF</text>
<text x="258.2" y="392.4" font-size="4.5" fill="#222" text-anchor="end" transform="rotate(-45 258.2 392.4)">CD163L1</text>
<text x="264.4" y="392.4" font-size="4.5" fill="#222" text-anchor="end" transform="rotate(-45 264.4 392.4)">SPP1</text>
<text x="270.6" y="392.4" font-size="4.5" fill="#222" text-anchor="end" transform="rotate(-45 270.6 392.4)">ICAM1</text>
<text x="276.8" y="392.4" font-size="4.5" fill="#222" text-anchor="end" transform="rotate(-45 276.8 392.4)">ITGAX</text>
<text x="283" y="392.4" font-size="4.5" fill="#222" text-anchor="end" transform="rotate(-45 283 392.4)">JUN</text>
<text x="289.2" y="392.4" font-size="4.5" fill="#222" text-anchor="end" transform="rotate(-45 289.2 392.4)">JUNB</text>
<text x="295.4" y="392.4" font-size="4.5" fill="#222" text-anchor="end" transform="rotate(-45 295.4 392.4)">MMP9</text>
<text x="301.5" y="392.4" font-size="4.5" fill="#222" text-anchor="end" transform="rotate(-45 301.5 392.4)">GSN</text>
<text x="307.7" y="392.4" font-size="4.5" fill="#222" text-anchor="end" transform="rotate(-45 307.7 392.4)">TNFSF10</text>
<text x="313.9" y="392.4" font-size="4.5" fill="#222" text-anchor="end" transform="rotate(-45 313.9 392.4)">FCER1A</text>
<text x="320.1" y="392.4" font-size="4.5" fill="#222" text-anchor="end" transform="rotate(-45 320.1 392.4)">CLEC10A</text>
<text x="326.3" y="392.4" font-size="4.5" fill="#222" text-anchor="end" transform="rotate(-45 326.3 392.4)">CD1C</text>
<text x="332.5" y="392.4" font-size="4.5" fill="#222" text-anchor="end" transform="rotate(-45 332.5 392.4)">CD1E</text>
<text x="338.7" y="392.4" font-size="4.5" fill="#222" text-anchor="end" transform="rotate(-45 338.7 392.4)">CEBPB</text>
<text x="344.9" y="392.4" font-size="4.5" fill="#222" text-anchor="end" transform="rotate(-45 344.9 392.4)">CLEC4A</text>
<text x="351.1" y="392.4" font-size="4.5" fill="#222" text-anchor="end" transform="rotate(-45 351.1 392.4)">CD33</text>
<text x="357.3" y="392.4" font-size="4.5" fill="#222" text-anchor="end" transform="rotate(-45 357.3 392.4)">PLD4</text>
<text x="363.5" y="392.4" font-size="4.5" fill="#222" text-anchor="end" transform="rotate(-45 363.5 392.4)">CD9</text>
<text x="369.7" y="392.4" font-size="4.5" fill="#222" text-anchor="end" transform="rotate(-45 369.7 392.4)">NOTCH2</text>
<text x="375.9" y="392.4" font-size="4.5" fill="#222" text-anchor="end" transform="rotate(-45 375.9 392.4)">CD207</text>
<text x="382.1" y="392.4" font-size="4.5" fill="#222" text-anchor="end" transform="rotate(-45 382.1 392.4)">AXL</text>
<text x="388.3" y="392.4" font-size="4.5" fill="#222" text-anchor="end" transform="rotate(-45 388.3 392.4)">TACSTD2</text>
<text x="394.5" y="392.4" font-size="4.5" fill="#222" text-anchor="end" transform="rotate(-45 394.5 392.4)">SERPINA1</text>
<text x="400.7" y="392.4" font-size="4.5" fill="#222" text-anchor="end" transform="rotate(-45 400.7 392.4)">EMP1</text>
<text x="406.8" y="392.4" font-size="4.5" fill="#222" text-anchor="end" transform="rotate(-45 406.8 392.4)">DUSP6</text>
<text x="413" y="392.4" font-size="4.5" fill="#222" text-anchor="end" transform="rotate(-45 413 392.4)">CD86</text>
<text x="419.2" y="392.4" font-size="4.5" fill="#222" text-anchor="end" transform="rotate(-45 419.2 392.4)">CD52</text>
<text x="425.4" y="392.4" font-size="4.5" fill="#222" text-anchor="end" transform="rotate(-45 425.4 392.4)">VIM</text>
<text x="431.6" y="392.4" font-size="4.5" fill="#222" text-anchor="end" transform="rotate(-45 431.6 392.4)">S100A4</text>
<text x="437.8" y="392.4" font-size="4.5" fill="#222" text-anchor="end" transform="rotate(-45 437.8 392.4)">CD2</text>
<text x="444" y="392.4" font-size="4.5" fill="#222" text-anchor="end" transform="rotate(-45 444 392.4)">CD1A</text>
<text x="456" y="343.8" font-size="4.3" fill="#333" text-anchor="start">Average</text>
<text x="456" y="349.6" font-size="4.3" fill="#333" text-anchor="start">Expression</text>
<defs><linearGradient id="pl2" x1="0" y1="0" x2="0" y2="1"><stop offset="0.0" stop-color="#0d0887"/><stop offset="0.1" stop-color="#41049d"/><stop offset="0.2" stop-color="#6a00a8"/><stop offset="0.3" stop-color="#8f0da4"/><stop offset="0.4" stop-color="#b12a90"/><stop offset="0.5" stop-color="#cc4778"/><stop offset="0.6" stop-color="#e16462"/><stop offset="0.7" stop-color="#f2844b"/><stop offset="0.8" stop-color="#fca636"/><stop offset="0.9" stop-color="#fcce25"/><stop offset="1.0" stop-color="#f0f921"/></linearGradient></defs>
<rect x="456" y="352.6" width="4.4" height="28" fill="url(#pl2)"/>
<text x="462" y="355.7" font-size="4.1" fill="#333" text-anchor="start">1.0</text>
<text x="462" y="361.9" font-size="4.1" fill="#333" text-anchor="start">0.5</text>
<text x="462" y="367.6" font-size="4.1" fill="#333" text-anchor="start">0.0</text>
<text x="462" y="374" font-size="4.1" fill="#333" text-anchor="start">−0.5</text>
<text x="462" y="379.7" font-size="4.1" fill="#333" text-anchor="start">−1.0</text>
<text x="482" y="343.8" font-size="4.3" fill="#333" text-anchor="start">Percent</text>
<text x="482" y="349.6" font-size="4.3" fill="#333" text-anchor="start">Expressed</text>
<circle cx="485" cy="354.2" r="0.4" fill="#111"/>
<text x="489.7" y="355.7" font-size="4.1" fill="#333" text-anchor="start">0</text>
<circle cx="485" cy="360.4" r="0.9" fill="#111"/>
<text x="489.7" y="361.9" font-size="4.1" fill="#333" text-anchor="start">25</text>
<circle cx="485" cy="366.1" r="1.4" fill="#111"/>
<text x="489.7" y="367.6" font-size="4.1" fill="#333" text-anchor="start">50</text>
<circle cx="485" cy="372.5" r="1.9" fill="#111"/>
<text x="489.7" y="374" font-size="4.1" fill="#333" text-anchor="start">75</text>
<circle cx="485" cy="378.2" r="2.4" fill="#111"/>
<text x="489.7" y="379.7" font-size="4.1" fill="#333" text-anchor="start">100</text>
</svg>
</body></html>
